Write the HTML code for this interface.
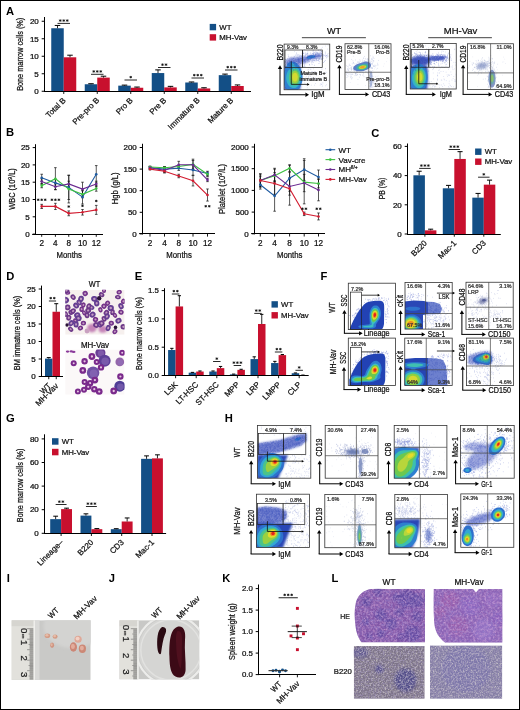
<!DOCTYPE html>
<html><head><meta charset="utf-8"><style>
html,body{margin:0;padding:0;background:#fff;}
svg{display:block;will-change:transform;}
text{font-family:"Liberation Sans", sans-serif;}
</style></head><body>
<svg width="520" height="710" viewBox="0 0 520 710" font-family='"Liberation Sans", sans-serif'>
<defs>
<filter id="bl45" x="-20%" y="-20%" width="140%" height="140%"><feGaussianBlur stdDeviation="0.45"/></filter>
<filter id="bl30" x="-20%" y="-20%" width="140%" height="140%"><feGaussianBlur stdDeviation="0.3"/></filter>
<filter id="bl60" x="-30%" y="-30%" width="160%" height="160%"><feGaussianBlur stdDeviation="0.6"/></filter>
<filter id="bl100" x="-50%" y="-50%" width="200%" height="200%"><feGaussianBlur stdDeviation="1.0"/></filter>
<filter id="bl80" x="-50%" y="-50%" width="200%" height="200%"><feGaussianBlur stdDeviation="0.8"/></filter>
<filter id="bl150" x="-50%" y="-50%" width="200%" height="200%"><feGaussianBlur stdDeviation="1.5"/></filter>
<filter id="grainHE" x="0" y="0" width="100%" height="100%"><feTurbulence type="fractalNoise" baseFrequency="0.45" numOctaves="3" seed="4" result="n"/>
<feColorMatrix in="n" type="matrix" values="0 0 0 0 0.72  0 0 0 0 0.45  0 0 0 0 0.74  1.5 0 0 0 -0.62" result="a"/>
<feColorMatrix in="n" type="matrix" values="0 0 0 0 0.3  0 0 0 0 0.22  0 0 0 0 0.6  0 1.5 0 0 -0.62" result="b"/>
<feMerge result="m"><feMergeNode in="a"/><feMergeNode in="b"/></feMerge><feComposite in="m" in2="SourceAlpha" operator="in"/></filter>
<filter id="grainB" x="0" y="0" width="100%" height="100%"><feTurbulence type="fractalNoise" baseFrequency="0.6" numOctaves="3" seed="9" result="n"/>
<feColorMatrix in="n" type="matrix" values="0 0 0 0 0.74  0 0 0 0 0.7  0 0 0 0 0.68  1.8 0 0 0 -0.8" result="a"/>
<feColorMatrix in="n" type="matrix" values="0 0 0 0 0.36  0 0 0 0 0.3  0 0 0 0 0.52  0 1.8 0 0 -0.76" result="b"/>
<feMerge result="m"><feMergeNode in="a"/><feMergeNode in="b"/></feMerge><feComposite in="m" in2="SourceAlpha" operator="in"/></filter>
<clipPath id="fc1"><rect x="284.1" y="44.1" width="45.65" height="45.65"/></clipPath><clipPath id="fc2"><rect x="345" y="43.75" width="46" height="45.65"/></clipPath><clipPath id="fc3"><rect x="410.25" y="43.5" width="46" height="45.5"/></clipPath><clipPath id="fc4"><rect x="467.5" y="43.75" width="46" height="45.65"/></clipPath><clipPath id="dW"><rect x="65.2" y="289.8" width="59.4" height="44.9"/></clipPath><clipPath id="dM"><rect x="65.2" y="349.5" width="59.4" height="45.2"/></clipPath><clipPath id="fc5"><rect x="348.3" y="283.2" width="47.1" height="46.4"/></clipPath><clipPath id="fc6"><rect x="348.3" y="338.1" width="47.1" height="47.4"/></clipPath><clipPath id="fc7"><rect x="405" y="282.5" width="47.2" height="46.6"/></clipPath><clipPath id="fc8"><rect x="404.75" y="338.1" width="47.45" height="47.3"/></clipPath><clipPath id="fc9"><rect x="466" y="282.25" width="47.2" height="47.15"/></clipPath><clipPath id="fc10"><rect x="466.5" y="338.1" width="47" height="47.5"/></clipPath><clipPath id="fc11"><rect x="257.4" y="425.4" width="53.4" height="52.8"/></clipPath><clipPath id="fc12"><rect x="325.2" y="425.4" width="52.8" height="52.8"/></clipPath><clipPath id="fc13"><rect x="394.2" y="425.4" width="52.7" height="52.8"/></clipPath><clipPath id="fc14"><rect x="460.4" y="425.4" width="53.8" height="52.8"/></clipPath><clipPath id="fc15"><rect x="256.4" y="494.2" width="53" height="53.2"/></clipPath><clipPath id="fc16"><rect x="324.8" y="494.4" width="51.2" height="53.3"/></clipPath><clipPath id="fc17"><rect x="394.8" y="494.4" width="52.7" height="53.4"/></clipPath><clipPath id="fc18"><rect x="460.8" y="493.9" width="53" height="53.4"/></clipPath><clipPath id="pI"><rect x="11.5" y="620.2" width="79.2" height="59.7"/></clipPath><clipPath id="pJ"><rect x="119.3" y="620.2" width="80" height="59.2"/></clipPath><clipPath id="hW"><rect x="353.8" y="588.7" width="71.2" height="53.7"/></clipPath><clipPath id="hWs"><path d="M371,588.9 L425,588.9 L425,642.4 L361.5,642.4 C358,638 356,632 355.5,626 C354.5,618 354,610 356,602 C358.5,594 364,590 371,588.9 Z"/></clipPath><clipPath id="hMs"><path d="M433.8,588.9 L473,588.9 L476,592.5 L479,588.9 L502.3,588.9 L502.3,642.4 L445,642.4 C439,638 435.5,632 434.5,625 C433.6,615 433.6,600 433.8,588.9 Z"/></clipPath><clipPath id="bW"><rect x="353.8" y="646" width="70.9" height="52.8"/></clipPath><clipPath id="bM"><rect x="430" y="645.4" width="72.3" height="53.4"/></clipPath></defs>
<rect x="0" y="0" width="520" height="710" fill="#fff"/>
<text x="6" y="14.8" font-size="11.2" font-weight="bold" fill="#000">A</text>
<line x1="44.5" y1="17" x2="44.5" y2="91.75" stroke="#000" stroke-width="1"/>
<line x1="41.7" y1="91.25" x2="44.5" y2="91.25" stroke="#000" stroke-width="1"/>
<text x="38.8" y="94" font-size="7.2" text-anchor="end" fill="#111" stroke="#111" stroke-width="0.24" textLength="4.45" lengthAdjust="spacingAndGlyphs">0</text>
<line x1="41.7" y1="73.75" x2="44.5" y2="73.75" stroke="#000" stroke-width="1"/>
<text x="38.8" y="76.5" font-size="7.2" text-anchor="end" fill="#111" stroke="#111" stroke-width="0.24" textLength="4.45" lengthAdjust="spacingAndGlyphs">5</text>
<line x1="41.7" y1="56.25" x2="44.5" y2="56.25" stroke="#000" stroke-width="1"/>
<text x="38.8" y="59" font-size="7.2" text-anchor="end" fill="#111" stroke="#111" stroke-width="0.24" textLength="8.9" lengthAdjust="spacingAndGlyphs">10</text>
<line x1="41.7" y1="38.75" x2="44.5" y2="38.75" stroke="#000" stroke-width="1"/>
<text x="38.8" y="41.5" font-size="7.2" text-anchor="end" fill="#111" stroke="#111" stroke-width="0.24" textLength="8.9" lengthAdjust="spacingAndGlyphs">15</text>
<line x1="41.7" y1="21.25" x2="44.5" y2="21.25" stroke="#000" stroke-width="1"/>
<text x="38.8" y="24" font-size="7.2" text-anchor="end" fill="#111" stroke="#111" stroke-width="0.24" textLength="8.9" lengthAdjust="spacingAndGlyphs">20</text>
<rect x="51.25" y="28.25" width="12.5" height="63" fill="#134f86"/>
<line x1="57.5" y1="28.25" x2="57.5" y2="25.45" stroke="#000" stroke-width="0.85"/>
<line x1="54.75" y1="25.45" x2="60.25" y2="25.45" stroke="#000" stroke-width="1"/>
<rect x="63.75" y="57.3" width="12.5" height="33.95" fill="#c8102e"/>
<line x1="70" y1="57.3" x2="70" y2="55.2" stroke="#000" stroke-width="0.85"/>
<line x1="67.25" y1="55.2" x2="72.75" y2="55.2" stroke="#000" stroke-width="1"/>
<rect x="84.75" y="84.25" width="12.5" height="7" fill="#134f86"/>
<line x1="91" y1="84.25" x2="91" y2="83.72" stroke="#000" stroke-width="0.85"/>
<line x1="88.25" y1="83.72" x2="93.75" y2="83.72" stroke="#000" stroke-width="1"/>
<rect x="97.25" y="77.6" width="12.5" height="13.65" fill="#c8102e"/>
<line x1="103.5" y1="77.6" x2="103.5" y2="76.2" stroke="#000" stroke-width="0.85"/>
<line x1="100.75" y1="76.2" x2="106.25" y2="76.2" stroke="#000" stroke-width="1"/>
<rect x="118.25" y="85.65" width="12.5" height="5.6" fill="#134f86"/>
<line x1="124.5" y1="85.65" x2="124.5" y2="85.12" stroke="#000" stroke-width="0.85"/>
<line x1="121.75" y1="85.12" x2="127.25" y2="85.12" stroke="#000" stroke-width="1"/>
<rect x="130.75" y="87.75" width="12.5" height="3.5" fill="#c8102e"/>
<line x1="137" y1="87.75" x2="137" y2="87.05" stroke="#000" stroke-width="0.85"/>
<line x1="134.25" y1="87.05" x2="139.75" y2="87.05" stroke="#000" stroke-width="1"/>
<rect x="151.75" y="73.05" width="12.5" height="18.2" fill="#134f86"/>
<line x1="158" y1="73.05" x2="158" y2="69.9" stroke="#000" stroke-width="0.85"/>
<line x1="155.25" y1="69.9" x2="160.75" y2="69.9" stroke="#000" stroke-width="1"/>
<rect x="164.25" y="87.4" width="12.5" height="3.85" fill="#c8102e"/>
<line x1="170.5" y1="87.4" x2="170.5" y2="86.35" stroke="#000" stroke-width="0.85"/>
<line x1="167.75" y1="86.35" x2="173.25" y2="86.35" stroke="#000" stroke-width="1"/>
<rect x="185.25" y="82.5" width="12.5" height="8.75" fill="#134f86"/>
<line x1="191.5" y1="82.5" x2="191.5" y2="81.97" stroke="#000" stroke-width="0.85"/>
<line x1="188.75" y1="81.97" x2="194.25" y2="81.97" stroke="#000" stroke-width="1"/>
<rect x="197.75" y="88.45" width="12.5" height="2.8" fill="#c8102e"/>
<line x1="204" y1="88.45" x2="204" y2="87.75" stroke="#000" stroke-width="0.85"/>
<line x1="201.25" y1="87.75" x2="206.75" y2="87.75" stroke="#000" stroke-width="1"/>
<rect x="218.75" y="75.15" width="12.5" height="16.1" fill="#134f86"/>
<line x1="225" y1="75.15" x2="225" y2="74.1" stroke="#000" stroke-width="0.85"/>
<line x1="222.25" y1="74.1" x2="227.75" y2="74.1" stroke="#000" stroke-width="1"/>
<rect x="231.25" y="86" width="12.5" height="5.25" fill="#c8102e"/>
<line x1="237.5" y1="86" x2="237.5" y2="84.95" stroke="#000" stroke-width="0.85"/>
<line x1="234.75" y1="84.95" x2="240.25" y2="84.95" stroke="#000" stroke-width="1"/>
<line x1="44" y1="91.5" x2="251" y2="91.5" stroke="#000" stroke-width="1"/>
<line x1="63.75" y1="91.25" x2="63.75" y2="93.95" stroke="#000" stroke-width="0.9"/>
<text x="66.35" y="100.85" font-size="8" text-anchor="end" fill="#111" stroke="#111" stroke-width="0.24" transform="rotate(-45 66.35 100.85)">Total B</text>
<line x1="97.25" y1="91.25" x2="97.25" y2="93.95" stroke="#000" stroke-width="0.9"/>
<text x="99.85" y="100.85" font-size="8" text-anchor="end" fill="#111" stroke="#111" stroke-width="0.24" transform="rotate(-45 99.85 100.85)">Pre-pro B</text>
<line x1="130.75" y1="91.25" x2="130.75" y2="93.95" stroke="#000" stroke-width="0.9"/>
<text x="133.35" y="100.85" font-size="8" text-anchor="end" fill="#111" stroke="#111" stroke-width="0.24" transform="rotate(-45 133.35 100.85)">Pro B</text>
<line x1="164.25" y1="91.25" x2="164.25" y2="93.95" stroke="#000" stroke-width="0.9"/>
<text x="166.85" y="100.85" font-size="8" text-anchor="end" fill="#111" stroke="#111" stroke-width="0.24" transform="rotate(-45 166.85 100.85)">Pre B</text>
<line x1="197.75" y1="91.25" x2="197.75" y2="93.95" stroke="#000" stroke-width="0.9"/>
<text x="200.35" y="100.85" font-size="8" text-anchor="end" fill="#111" stroke="#111" stroke-width="0.24" transform="rotate(-45 200.35 100.85)">Immature B</text>
<line x1="231.25" y1="91.25" x2="231.25" y2="93.95" stroke="#000" stroke-width="0.9"/>
<text x="233.85" y="100.85" font-size="8" text-anchor="end" fill="#111" stroke="#111" stroke-width="0.24" transform="rotate(-45 233.85 100.85)">Mature B</text>
<line x1="57.5" y1="23.4" x2="70" y2="23.4" stroke="#111" stroke-width="0.9"/>
<path d="M59,20.55h2.5M60.25,19.3v2.5M59.38,19.67l1.75,1.75M61.12,19.67l-1.75,1.75" stroke="#111" stroke-width="0.75"/>
<path d="M62.5,20.55h2.5M63.75,19.3v2.5M62.88,19.67l1.75,1.75M64.62,19.67l-1.75,1.75" stroke="#111" stroke-width="0.75"/>
<path d="M66,20.55h2.5M67.25,19.3v2.5M66.38,19.67l1.75,1.75M68.12,19.67l-1.75,1.75" stroke="#111" stroke-width="0.75"/>
<line x1="91" y1="74.3" x2="103.5" y2="74.3" stroke="#111" stroke-width="0.9"/>
<path d="M92.5,71.45h2.5M93.75,70.2v2.5M92.88,70.58l1.75,1.75M94.62,70.58l-1.75,1.75" stroke="#111" stroke-width="0.75"/>
<path d="M96,71.45h2.5M97.25,70.2v2.5M96.38,70.58l1.75,1.75M98.12,70.58l-1.75,1.75" stroke="#111" stroke-width="0.75"/>
<path d="M99.5,71.45h2.5M100.75,70.2v2.5M99.88,70.58l1.75,1.75M101.62,70.58l-1.75,1.75" stroke="#111" stroke-width="0.75"/>
<line x1="124.5" y1="80" x2="137" y2="80" stroke="#111" stroke-width="0.9"/>
<path d="M129.5,77.15h2.5M130.75,75.9v2.5M129.88,76.28l1.75,1.75M131.62,76.28l-1.75,1.75" stroke="#111" stroke-width="0.75"/>
<line x1="158" y1="67.5" x2="170.5" y2="67.5" stroke="#111" stroke-width="0.9"/>
<path d="M161.25,64.65h2.5M162.5,63.4v2.5M161.62,63.78l1.75,1.75M163.38,63.78l-1.75,1.75" stroke="#111" stroke-width="0.75"/>
<path d="M164.75,64.65h2.5M166,63.4v2.5M165.12,63.78l1.75,1.75M166.88,63.78l-1.75,1.75" stroke="#111" stroke-width="0.75"/>
<line x1="191.5" y1="78" x2="204" y2="78" stroke="#111" stroke-width="0.9"/>
<path d="M193,75.15h2.5M194.25,73.9v2.5M193.38,74.28l1.75,1.75M195.12,74.28l-1.75,1.75" stroke="#111" stroke-width="0.75"/>
<path d="M196.5,75.15h2.5M197.75,73.9v2.5M196.88,74.28l1.75,1.75M198.62,74.28l-1.75,1.75" stroke="#111" stroke-width="0.75"/>
<path d="M200,75.15h2.5M201.25,73.9v2.5M200.38,74.28l1.75,1.75M202.12,74.28l-1.75,1.75" stroke="#111" stroke-width="0.75"/>
<line x1="225" y1="70" x2="237.5" y2="70" stroke="#111" stroke-width="0.9"/>
<path d="M226.5,67.15h2.5M227.75,65.9v2.5M226.88,66.28l1.75,1.75M228.62,66.28l-1.75,1.75" stroke="#111" stroke-width="0.75"/>
<path d="M230,67.15h2.5M231.25,65.9v2.5M230.38,66.28l1.75,1.75M232.12,66.28l-1.75,1.75" stroke="#111" stroke-width="0.75"/>
<path d="M233.5,67.15h2.5M234.75,65.9v2.5M233.88,66.28l1.75,1.75M235.62,66.28l-1.75,1.75" stroke="#111" stroke-width="0.75"/>
<text x="23.3" y="54.3" font-size="8.2" text-anchor="middle" fill="#111" stroke="#111" stroke-width="0.24" textLength="73" lengthAdjust="spacingAndGlyphs" transform="rotate(-90 23.3 54.3)">Bone marrow cells (%)</text>
<rect x="209.7" y="23.9" width="6.4" height="6.4" fill="#134f86"/>
<rect x="209.7" y="34.2" width="6.4" height="6.4" fill="#c8102e"/>
<text x="219.3" y="29.7" font-size="7.8" fill="#111" stroke="#111" stroke-width="0.24">WT</text>
<text x="219.3" y="40" font-size="7.8" fill="#111" stroke="#111" stroke-width="0.24">MH-Vav</text>
<text x="334" y="34.2" font-size="9.6" text-anchor="middle" fill="#111" stroke="#111" stroke-width="0.24" textLength="14.2" lengthAdjust="spacingAndGlyphs">WT</text>
<line x1="301.9" y1="37.7" x2="365.9" y2="37.7" stroke="#111" stroke-width="0.8"/>
<text x="460.6" y="34.2" font-size="9.6" text-anchor="middle" fill="#111" stroke="#111" stroke-width="0.24" textLength="33.5" lengthAdjust="spacingAndGlyphs">MH-Vav</text>
<line x1="428.2" y1="37.7" x2="491.9" y2="37.7" stroke="#111" stroke-width="0.8"/>
<g clip-path="url(#fc1)">
<rect x="284.1" y="44.1" width="45.65" height="45.65" fill="#fff"/>
<path d="M321.9 82.9h0.55M308.1 76.2h0.55M300.1 86.3h0.55M308.3 69.7h0.55M309.5 75.1h0.55M321.7 68.1h0.55M306.9 87.7h0.55M325.6 81.8h0.55M316.8 72.9h0.55M326.3 84.7h0.55M315.4 71.5h0.55M306.5 76.3h0.55M309.9 69.3h0.55M312.2 77.9h0.55M308.6 76.5h0.55M310.0 76.3h0.55M318.6 78.9h0.55M305.9 85.5h0.55M315.4 78.1h0.55M321.4 84.5h0.55M325.5 85.8h0.55M320.1 83.9h0.55M304.7 83.4h0.55M307.6 73.7h0.55M303.6 76.7h0.55M300.6 82.5h0.55M322.4 85.1h0.55M303.9 82.1h0.55M325.1 68.8h0.55M305.8 73.9h0.55M313.9 71.8h0.55M316.2 75.6h0.55M319.7 79.7h0.55M320.6 73.4h0.55M321.2 84.2h0.55M321.7 69.5h0.55M328.4 80.7h0.55M308.2 77.6h0.55M315.5 79.4h0.55M307.4 73.8h0.55M310.9 85.2h0.55M313.1 68.8h0.55M313.6 72.4h0.55M300.4 89.5h0.55M308.8 79.8h0.55M310.7 69.2h0.55M327.0 88.6h0.55M305.6 77.2h0.55M311.2 71.7h0.55M319.8 85.2h0.55M322.8 82.9h0.55M300.5 73.1h0.55M315.4 83.5h0.55M311.6 77.9h0.55M325.2 68.5h0.55M308.1 74.4h0.55M329.8 73.0h0.55M301.4 77.2h0.55M319.5 71.4h0.55M325.2 72.3h0.55M321.1 71.6h0.55M326.5 72.4h0.55M321.9 86.5h0.55M307.6 70.0h0.55M317.6 79.0h0.55M314.4 85.2h0.55M313.9 78.9h0.55M314.6 78.0h0.55M312.2 71.5h0.55M308.9 73.8h0.55M296.2 52.8h0.55M290.1 47.1h0.55M308.7 48.1h0.55M295.8 48.7h0.55M307.6 51.7h0.55M328.7 53.5h0.55M304.3 49.5h0.55M303.7 47.4h0.55M327.8 45.7h0.55M294.2 51.6h0.55M311.5 47.8h0.55M327.2 49.1h0.55M311.8 45.9h0.55M325.1 46.0h0.55M302.7 53.9h0.55M327.5 54.0h0.55M322.2 47.3h0.55M286.4 49.5h0.55M287.8 54.6h0.55M285.4 48.3h0.55M294.1 45.1h0.55M307.5 45.8h0.55M325.5 51.9h0.55M301.7 53.4h0.55M320.9 48.3h0.55" stroke="#7080c8" stroke-width="0.65" opacity="0.55"/>
<path d="M284,66 L300,65 C301,72 301,82 300,90 L284,90 Z" fill="#2a47b6" filter="url(#bl100)"/>
<ellipse cx="298" cy="60.5" rx="13" ry="3.8" fill="#3a50bc" opacity="0.6" filter="url(#bl100)" transform="rotate(-8 298 60.5)"/>
<ellipse cx="315" cy="56.5" rx="7" ry="2.5" fill="#3a50bc" opacity="0.5" filter="url(#bl100)" transform="rotate(-10 315 56.5)"/>
<g filter="url(#bl45)">
<path d="M311.4,58.6 309.4,58.8 307.9,58.7 306.8,58.4 306.5,58.1 306.4,57.6 306.9,56.9 307.7,56.4 308.9,55.8 310.4,55.4 311.9,55.2 313.4,55.2 314.6,55.4 315.4,55.9 315.5,56.1 315.5,56.6 314.8,57.4 313.3,58.1 311.4,58.6ZM294.1,91.6 290.8,91.6 290.4,91.5 288.6,90.6 286.9,89.2 285.4,87.3 284.3,85.1 283.5,82.6 283.0,79.8 283.0,76.3 283.6,73.1 284.6,70.1 286.6,66.6 286.9,64.6 287.2,63.9 287.7,63.1 288.6,62.5 289.9,62.0 291.4,61.7 293.1,61.7 294.9,62.1 296.1,62.7 297.2,63.6 300.1,67.8 301.0,69.6 302.0,72.3 302.5,75.3 302.6,78.3 302.3,81.1 301.6,83.8 300.6,86.1 299.4,88.1 297.9,89.7 296.1,90.9 294.9,91.4 294.1,91.6Z" fill="#2f7fd0"/>
<path d="M295.4,87.9 293.9,88.1 292.4,87.9 290.9,87.3 289.6,86.4 288.4,85.1 287.5,83.6 286.8,81.8 286.4,80.1 286.2,78.6 286.2,76.8 286.8,73.8 287.5,72.1 288.5,70.3 289.6,69.1 291.9,66.8 291.9,66.3 290.5,65.1 290.2,64.3 290.6,63.7 291.6,63.3 292.9,63.4 294.0,63.9 294.5,64.6 294.5,65.6 294.7,66.1 297.1,67.7 298.6,69.1 299.4,70.3 300.0,71.6 300.5,73.1 300.9,74.8 301.1,76.8 301.0,79.1 300.5,81.3 300.0,83.1 299.1,84.7 298.1,86.1 296.9,87.1 295.4,87.9Z" fill="#36b4c4"/>
<path d="M295.1,85.6 294.1,85.7 292.9,85.3 291.7,84.6 290.7,83.6 289.9,82.3 289.3,80.8 288.9,79.3 288.8,77.8 288.9,76.1 289.2,74.6 289.7,73.1 290.6,71.6 291.4,70.6 292.4,69.7 293.4,69.2 294.6,68.9 295.6,69.0 296.6,69.4 297.6,70.2 298.4,71.2 299.0,72.3 299.5,73.8 299.8,75.3 300.0,76.8 299.9,78.6 299.6,80.1 299.2,81.6 298.6,82.8 297.9,83.9 297.1,84.7 296.1,85.3 295.1,85.6Z" fill="#56c47c"/>
<path d="M295.1,83.6 294.4,83.6 293.6,83.4 292.9,82.9 292.1,82.1 291.5,81.1 291.1,80.1 290.8,78.8 290.7,77.6 290.9,75.1 291.4,73.8 291.9,72.8 292.6,71.9 293.3,71.3 294.1,70.9 294.9,70.8 295.6,70.9 296.4,71.2 297.1,71.8 297.6,72.4 298.5,74.3 298.9,76.8 298.7,79.3 297.9,81.5 297.3,82.3 296.6,83.0 295.9,83.4 295.1,83.6Z" fill="#9ccf40"/>
<path d="M295.6,81.4 295.1,81.5 294.4,81.4 293.4,80.7 292.6,79.3 292.3,77.8 292.3,76.1 292.9,74.5 293.7,73.3 294.4,72.9 294.9,72.8 295.9,73.0 296.8,73.8 297.4,75.1 297.7,76.6 297.7,78.1 297.3,79.6 296.6,80.7 295.6,81.4Z" fill="#d4da30"/>
</g>
<path d="M305.7 58.3h0.55M317.1 53.3h0.55M317.7 56.0h0.55M301.6 67.7h0.55M290.8 59.4h0.55M317.4 54.6h0.55M286.8 62.2h0.55M313.1 58.4h0.55M317.6 56.7h0.55M304.2 56.6h0.55M285.3 61.8h0.55M288.2 63.2h0.55M291.6 57.3h0.55M305.8 54.4h0.55M301.0 58.5h0.55M289.7 61.7h0.55M318.7 55.5h0.55M315.7 55.4h0.55M298.2 59.1h0.55M315.3 56.7h0.55M283.7 63.6h0.55M293.0 61.4h0.55M302.8 60.7h0.55M280.5 64.6h0.55M293.8 62.8h0.55M308.7 56.0h0.55M304.3 60.7h0.55M320.2 56.1h0.55M294.3 62.2h0.55M315.7 59.9h0.55M307.0 53.6h0.55M298.5 60.9h0.55M274.5 64.9h0.55M281.2 58.4h0.55M301.7 63.1h0.55M289.5 63.2h0.55M304.7 66.5h0.55M291.2 61.2h0.55M311.5 55.4h0.55M295.1 63.1h0.55M293.1 65.4h0.55M314.2 56.5h0.55M312.1 59.2h0.55M323.4 56.0h0.55M303.8 60.0h0.55M297.2 55.0h0.55M296.0 61.5h0.55M307.5 53.1h0.55M302.8 57.2h0.55M312.8 51.2h0.55M289.9 65.3h0.55M308.7 56.2h0.55M292.1 64.6h0.55M272.7 63.2h0.55M296.0 64.0h0.55M304.2 64.9h0.55M319.7 56.5h0.55M297.3 59.6h0.55M318.2 58.3h0.55M321.3 55.3h0.55M305.7 59.2h0.55M316.6 56.5h0.55M317.1 53.6h0.55M290.6 61.4h0.55M312.7 60.5h0.55M281.2 59.7h0.55M308.3 56.1h0.55M281.7 66.5h0.55M320.6 56.8h0.55M289.0 65.9h0.55M304.7 62.1h0.55M285.4 59.6h0.55M318.7 54.1h0.55M311.5 58.3h0.55M285.6 62.8h0.55M316.7 58.6h0.55M314.7 55.5h0.55M324.9 60.5h0.55M321.8 55.9h0.55M294.0 67.2h0.55M290.8 58.7h0.55M318.8 57.0h0.55M298.6 54.8h0.55M282.2 65.2h0.55M314.2 56.3h0.55M308.0 60.0h0.55M303.6 60.4h0.55M285.7 61.3h0.55M298.5 63.3h0.55M291.6 59.4h0.55M289.5 61.4h0.55M320.8 51.5h0.55M297.6 58.8h0.55M326.4 57.8h0.55M291.4 64.6h0.55M322.1 55.0h0.55M289.8 66.4h0.55M295.7 64.0h0.55M289.0 69.0h0.55M304.1 62.9h0.55M320.5 50.4h0.55M310.9 57.0h0.55M309.8 59.9h0.55M302.4 54.0h0.55M319.5 53.9h0.55M289.5 60.1h0.55M302.1 52.2h0.55M315.7 57.6h0.55M300.4 68.2h0.55M305.2 53.1h0.55M313.1 53.8h0.55M315.6 56.6h0.55M278.1 64.4h0.55M310.7 58.0h0.55M291.1 61.0h0.55M305.1 57.0h0.55M314.3 52.4h0.55M292.4 68.5h0.55M322.3 59.7h0.55M321.2 53.7h0.55M302.0 60.9h0.55M305.3 57.7h0.55M318.3 54.8h0.55M304.8 55.4h0.55M304.2 65.8h0.55M291.4 61.2h0.55M295.9 64.1h0.55M284.2 62.0h0.55M298.5 62.4h0.55M293.3 67.3h0.55M314.7 56.8h0.55M302.7 63.6h0.55M278.2 60.9h0.55M288.5 64.6h0.55M321.6 58.9h0.55M294.0 62.9h0.55M316.3 54.6h0.55M309.8 55.0h0.55M289.4 60.3h0.55M310.3 55.7h0.55M309.1 58.9h0.55M318.4 55.7h0.55M293.5 58.4h0.55M312.9 53.8h0.55M309.1 56.0h0.55M308.6 59.4h0.55M291.3 63.3h0.55M307.2 60.2h0.55M306.9 62.1h0.55M320.3 56.6h0.55M294.4 56.7h0.55M317.1 55.5h0.55M306.9 54.2h0.55M318.9 56.5h0.55M295.6 55.1h0.55M316.6 56.0h0.55M287.0 62.8h0.55M287.7 64.3h0.55M286.9 62.3h0.55M299.6 70.4h0.55M284.8 61.0h0.55M314.2 58.7h0.55M312.1 55.8h0.55M291.5 58.6h0.55M298.2 58.4h0.55M288.7 57.1h0.55M302.8 59.5h0.55M303.6 53.5h0.55M289.0 65.1h0.55M320.7 55.3h0.55M299.3 61.6h0.55M300.8 55.8h0.55M300.4 63.9h0.55M293.9 65.9h0.55M288.9 65.6h0.55M301.2 58.9h0.55M330.6 55.7h0.55M315.5 56.2h0.55M309.2 61.6h0.55M288.1 56.2h0.55M316.6 56.3h0.55M319.1 59.1h0.55M319.9 57.7h0.55M297.8 62.6h0.55M328.7 56.1h0.55M293.8 62.4h0.55M304.2 57.7h0.55M291.4 63.7h0.55M297.1 60.0h0.55M294.1 60.8h0.55M292.8 61.5h0.55M297.0 60.0h0.55M297.8 58.1h0.55M304.4 60.8h0.55M284.6 63.3h0.55M298.2 63.3h0.55M308.7 67.6h0.55M290.7 64.7h0.55M318.6 56.1h0.55M317.5 52.5h0.55M323.2 55.0h0.55M317.2 57.1h0.55M300.8 60.3h0.55M297.1 61.7h0.55M309.6 56.3h0.55M277.4 66.4h0.55M321.5 55.8h0.55M318.8 58.5h0.55M315.4 54.7h0.55M291.0 66.3h0.55M282.7 67.0h0.55M287.2 58.6h0.55M300.8 60.9h0.55M295.6 59.2h0.55M323.1 58.1h0.55M289.1 63.7h0.55M321.2 53.8h0.55M319.7 55.6h0.55M288.1 60.6h0.55M318.3 56.0h0.55M315.0 55.4h0.55M299.8 62.1h0.55M313.6 60.8h0.55M311.8 64.4h0.55M299.9 62.0h0.55M290.3 68.7h0.55M318.4 50.4h0.55M298.7 61.8h0.55M322.2 57.1h0.55M317.8 57.2h0.55M296.5 61.3h0.55M312.9 50.4h0.55M320.7 52.9h0.55M322.6 54.6h0.55M285.9 63.8h0.55M285.4 59.4h0.55M293.6 60.6h0.55M295.8 65.3h0.55M305.4 61.8h0.55M318.0 55.8h0.55M296.3 65.3h0.55M289.5 61.4h0.55M304.8 59.0h0.55M299.4 62.8h0.55M289.3 63.9h0.55M286.4 63.8h0.55M294.6 60.3h0.55M322.1 56.8h0.55M327.2 56.8h0.55M287.3 61.1h0.55M295.1 61.9h0.55M306.2 57.6h0.55M279.3 62.3h0.55M276.6 64.6h0.55M286.7 59.9h0.55M304.4 59.6h0.55M281.5 56.8h0.55M296.5 53.9h0.55M299.2 64.5h0.55M284.8 64.9h0.55M282.5 63.9h0.55M316.4 56.1h0.55M296.5 67.8h0.55M293.4 62.3h0.55M285.4 64.6h0.55M290.5 65.1h0.55M318.5 60.3h0.55M278.1 62.2h0.55M298.0 60.2h0.55M314.0 56.0h0.55M295.2 60.8h0.55M309.4 64.5h0.55M296.8 57.5h0.55M316.4 58.8h0.55M286.1 60.1h0.55M313.4 59.8h0.55M289.1 58.3h0.55M293.4 58.6h0.55M307.3 59.8h0.55M315.1 57.7h0.55M321.3 59.4h0.55M284.2 65.7h0.55M299.8 58.7h0.55M298.4 59.5h0.55M294.1 65.1h0.55M274.9 59.6h0.55M290.1 61.4h0.55M307.5 59.1h0.55M304.9 62.2h0.55M307.5 57.9h0.55M287.1 62.9h0.55M293.3 58.7h0.55M315.2 58.5h0.55M308.4 56.0h0.55M323.3 62.5h0.55M310.9 58.0h0.55M330.7 55.8h0.55M319.0 55.3h0.55M315.2 55.9h0.55M288.4 64.9h0.55M302.6 57.7h0.55M283.6 62.6h0.55M298.9 59.2h0.55M314.4 58.1h0.55M310.2 58.9h0.55M306.4 58.0h0.55M290.1 64.8h0.55M298.2 64.0h0.55M292.0 59.4h0.55M315.3 54.8h0.55M306.9 56.2h0.55M299.7 58.6h0.55M287.7 59.5h0.55M290.2 61.2h0.55M299.6 63.6h0.55M311.1 55.3h0.55M326.9 55.2h0.55M292.4 65.7h0.55M309.5 65.0h0.55M318.8 56.8h0.55M320.8 54.0h0.55M284.6 62.8h0.55M298.5 59.6h0.55M319.5 61.7h0.55M313.8 56.4h0.55M291.0 63.6h0.55M299.1 59.7h0.55M313.2 52.7h0.55M285.7 64.4h0.55M292.0 58.4h0.55M303.1 59.1h0.55M309.7 56.0h0.55M303.1 53.5h0.55M284.5 68.3h0.55M307.1 57.1h0.55M293.4 60.6h0.55M314.0 56.6h0.55M291.9 61.7h0.55M291.1 60.7h0.55M285.9 60.6h0.55M293.8 64.1h0.55M298.1 59.7h0.55M313.9 60.7h0.55M315.7 61.0h0.55M290.9 61.5h0.55M321.5 51.9h0.55M318.8 54.5h0.55M315.4 52.0h0.55M285.8 62.5h0.55M298.5 64.9h0.55M291.4 61.4h0.55M286.3 63.9h0.55M290.5 64.3h0.55M319.8 56.0h0.55M281.3 59.9h0.55M281.5 58.7h0.55M324.5 55.4h0.55M294.4 62.5h0.55M300.7 60.0h0.55M300.5 58.4h0.55M294.2 64.1h0.55M315.9 60.4h0.55M300.7 66.0h0.55M310.4 53.1h0.55M305.1 59.6h0.55M303.5 61.7h0.55M289.2 59.0h0.55M325.4 56.4h0.55M319.5 58.1h0.55M299.5 62.5h0.55M274.7 61.1h0.55M288.5 58.8h0.55M319.5 58.8h0.55M315.1 53.6h0.55M306.0 59.2h0.55M312.0 57.7h0.55M294.8 59.3h0.55M312.0 56.0h0.55M298.8 60.3h0.55M321.5 53.8h0.55M294.3 61.5h0.55M311.5 57.8h0.55M316.9 56.4h0.55M291.3 64.6h0.55M298.6 65.9h0.55M308.3 56.3h0.55M315.6 57.7h0.55M321.5 58.9h0.55M320.5 58.2h0.55M325.5 55.1h0.55M293.7 57.1h0.55M311.6 61.2h0.55M300.0 63.3h0.55M311.5 62.8h0.55M299.0 61.0h0.55M290.6 62.4h0.55M307.1 56.7h0.55M292.3 67.6h0.55M309.7 58.1h0.55M299.0 60.3h0.55M297.8 61.3h0.55M321.1 51.4h0.55M299.5 59.2h0.55M311.0 58.2h0.55M273.7 60.9h0.55M319.8 59.6h0.55M308.4 58.9h0.55M311.7 60.8h0.55M304.6 61.0h0.55M316.2 52.2h0.55M314.4 65.3h0.55M312.3 61.2h0.55M320.2 53.1h0.55M315.9 53.0h0.55M304.5 59.6h0.55M313.2 58.5h0.55M319.6 53.8h0.55M283.0 63.0h0.55M299.7 55.6h0.55M283.0 61.1h0.55M290.7 57.1h0.55M310.0 57.9h0.55M295.5 68.7h0.55M293.8 58.6h0.55M298.3 60.7h0.55M317.1 60.5h0.55M302.7 55.6h0.55M295.8 61.3h0.55M307.7 54.0h0.55M298.5 61.4h0.55M310.2 55.8h0.55M296.5 63.6h0.55M291.8 60.1h0.55M309.0 56.2h0.55M307.3 57.2h0.55M297.7 67.1h0.55M290.1 69.3h0.55M297.6 62.9h0.55M316.2 59.7h0.55M292.7 57.9h0.55M310.6 55.5h0.55M275.3 73.4h0.55M297.5 67.9h0.55M314.1 60.4h0.55M303.6 66.5h0.55M305.2 55.0h0.55M303.5 52.2h0.55M292.6 61.1h0.55M298.1 59.4h0.55M318.3 60.8h0.55M316.2 56.6h0.55M315.1 54.5h0.55M316.7 58.5h0.55M296.1 59.4h0.55M295.7 60.7h0.55M318.5 54.0h0.55M307.3 55.5h0.55M283.6 58.4h0.55M318.7 63.5h0.55M295.1 59.2h0.55M311.4 56.5h0.55M312.5 58.2h0.55M308.5 59.9h0.55M287.8 60.9h0.55M309.3 56.4h0.55M282.0 62.4h0.55M313.3 57.1h0.55M319.6 52.1h0.55M299.1 56.8h0.55M312.8 62.5h0.55M297.8 60.3h0.55M301.8 55.8h0.55M325.1 53.1h0.55M285.5 70.2h0.55M317.9 53.3h0.55M307.2 57.6h0.55M306.0 54.0h0.55M300.9 60.8h0.55M308.4 61.7h0.55M293.3 70.1h0.55M287.1 63.3h0.55M278.3 58.8h0.55M316.0 53.9h0.55M320.6 55.4h0.55M284.6 61.4h0.55M301.7 57.8h0.55M297.5 63.8h0.55M301.0 56.6h0.55M319.3 55.5h0.55M324.2 61.6h0.55M297.9 61.4h0.55M290.5 59.1h0.55M313.1 54.3h0.55M302.7 57.8h0.55M311.7 56.3h0.55M290.3 57.9h0.55M326.3 55.8h0.55M304.7 63.7h0.55M317.6 55.7h0.55M297.8 71.0h0.55M297.0 63.7h0.55M326.5 55.6h0.55M322.3 58.5h0.55M300.9 60.7h0.55M313.3 55.1h0.55M300.9 58.9h0.55M293.2 63.5h0.55M295.6 66.5h0.55M300.5 63.9h0.55M289.4 61.9h0.55M310.6 59.0h0.55M309.9 59.4h0.55M312.3 53.6h0.55M314.2 58.2h0.55M318.0 59.6h0.55M296.5 60.7h0.55M302.4 60.4h0.55M302.7 59.4h0.55M289.3 67.8h0.55M299.1 62.4h0.55" stroke="#3347b8" stroke-width="0.65" opacity="0.65"/>
</g>
<rect x="284.1" y="44.1" width="45.65" height="45.65" fill="none" stroke="#333" stroke-width="0.8"/>
<rect x="285" y="50" width="37.25" height="17.5" fill="none" stroke="#222" stroke-width="0.7"/>
<line x1="302.5" y1="50" x2="302.5" y2="67.5" stroke="#111" stroke-width="0.9"/>
<text x="287" y="48.8" font-size="5" fill="#333" stroke="#333" stroke-width="0.24">9.3%</text>
<text x="306" y="48.8" font-size="5" fill="#333" stroke="#333" stroke-width="0.24">8.3%</text>
<polyline points="291.25,61.25 291.25,84.4 307.5,84.4" fill="none" stroke="#111" stroke-width="0.8"/>
<path d="M307.2,83.04 L309.5,84.4 L307.2,85.76 Z" fill="#000"/>
<text x="300.6" y="75.3" font-size="5.4" fill="#222" stroke="#222" stroke-width="0.24">Mature B+</text>
<text x="299.6" y="81.4" font-size="5.4" fill="#222" stroke="#222" stroke-width="0.24">immature B</text>
<line x1="280" y1="94.75" x2="280" y2="68.6" stroke="#000" stroke-width="1"/>
<line x1="279.5" y1="94.75" x2="305.75" y2="94.75" stroke="#000" stroke-width="1"/>
<path d="M277.84,68.94 L280,65.3 L282.16,68.94 Z" fill="#000"/>
<path d="M305.41,92.59 L309.05,94.75 L305.41,96.91 Z" fill="#000"/>
<text x="282.8" y="52.5" font-size="8.42" text-anchor="middle" fill="#111" stroke="#111" stroke-width="0.24" textLength="16" lengthAdjust="spacingAndGlyphs" transform="rotate(-90 282.8 52.5)">B220</text>
<text x="311.3" y="97.45" font-size="8.42" fill="#111" stroke="#111" stroke-width="0.24" textLength="13.2" lengthAdjust="spacingAndGlyphs">IgM</text>
<g clip-path="url(#fc2)">
<rect x="345" y="43.75" width="46" height="45.65" fill="#fff"/>
<path d="M376.0 89.5h0.55M376.1 69.1h0.55M383.9 63.8h0.55M345.5 56.5h0.55M372.4 87.6h0.55M372.9 57.1h0.55M390.7 62.4h0.55M355.5 69.4h0.55M360.8 49.1h0.55M377.8 75.8h0.55M389.7 50.3h0.55M386.9 80.7h0.55M356.6 66.0h0.55M374.0 58.5h0.55M349.9 82.5h0.55M352.6 66.6h0.55M365.1 85.5h0.55M370.7 63.5h0.55M389.9 60.2h0.55M378.4 54.8h0.55M379.8 78.6h0.55M383.1 66.3h0.55M355.2 73.1h0.55M386.9 58.3h0.55M345.9 52.5h0.55M387.9 44.3h0.55M347.5 48.5h0.55M386.0 61.6h0.55M376.8 76.5h0.55M365.0 77.7h0.55M366.2 68.9h0.55M359.1 44.1h0.55M372.3 56.2h0.55M357.7 84.4h0.55M361.6 48.7h0.55M374.0 68.8h0.55M347.6 60.0h0.55M373.1 56.9h0.55M390.4 80.8h0.55M368.2 86.1h0.55" stroke="#9aa4d0" stroke-width="0.65" opacity="0.4"/>
<path d="M354.7 75.6h0.55M362.8 63.4h0.55M372.0 82.9h0.55M365.1 71.7h0.55M370.0 64.6h0.55M370.3 67.4h0.55M348.7 73.7h0.55M359.0 66.3h0.55M364.1 56.4h0.55M370.4 74.2h0.55M363.5 61.3h0.55M373.3 80.9h0.55M358.9 64.9h0.55M364.9 58.6h0.55M357.3 67.7h0.55M358.9 62.3h0.55M358.6 64.2h0.55M363.2 73.2h0.55M370.5 61.1h0.55M348.9 64.1h0.55M349.8 71.6h0.55M364.9 62.2h0.55M356.8 68.1h0.55M370.2 62.9h0.55M353.0 67.8h0.55M366.4 62.4h0.55M363.5 57.8h0.55M346.5 72.9h0.55M378.1 60.4h0.55M372.5 80.8h0.55M369.2 77.1h0.55M370.6 74.2h0.55M373.2 58.1h0.55M363.8 67.7h0.55M357.1 68.2h0.55M367.1 66.5h0.55M364.3 68.9h0.55M359.9 66.4h0.55M377.1 64.9h0.55M367.1 60.9h0.55M370.8 73.3h0.55M370.1 85.8h0.55M355.4 67.5h0.55M347.7 68.8h0.55M368.4 59.9h0.55M357.2 74.4h0.55M369.1 71.6h0.55M364.8 65.6h0.55M375.7 65.6h0.55M350.7 69.3h0.55M367.8 62.6h0.55M363.7 76.7h0.55M355.4 73.6h0.55M359.5 77.2h0.55M363.8 65.5h0.55M370.4 73.6h0.55M368.4 61.4h0.55M353.2 62.7h0.55M369.5 89.2h0.55M374.9 66.9h0.55M368.9 63.8h0.55M360.6 68.1h0.55M348.5 67.0h0.55M355.6 69.7h0.55M353.9 69.6h0.55M366.9 65.1h0.55M360.8 66.0h0.55M361.8 66.3h0.55M351.0 69.4h0.55M371.0 63.9h0.55M362.7 64.2h0.55M358.0 66.0h0.55M361.9 65.2h0.55M351.9 74.1h0.55M361.5 62.8h0.55M363.0 75.0h0.55M351.6 74.3h0.55M356.6 71.8h0.55M367.1 59.6h0.55M358.0 64.8h0.55M356.2 71.7h0.55M371.1 75.1h0.55M335.8 71.8h0.55M368.0 80.7h0.55M372.8 80.9h0.55M370.4 77.7h0.55M359.7 65.3h0.55M365.7 59.2h0.55M372.8 62.0h0.55M367.4 65.0h0.55M368.3 61.5h0.55M371.7 84.8h0.55M362.2 64.4h0.55M350.3 77.6h0.55M358.9 66.3h0.55M373.3 86.6h0.55M358.2 69.4h0.55M374.8 81.8h0.55M364.7 65.7h0.55M346.5 65.7h0.55M371.7 81.7h0.55M367.0 58.5h0.55M350.9 67.6h0.55M346.3 74.6h0.55M372.6 70.5h0.55M366.7 63.9h0.55M352.9 56.2h0.55M356.8 67.1h0.55M368.0 67.9h0.55M365.2 67.0h0.55M366.4 71.2h0.55M353.4 66.7h0.55M346.7 77.5h0.55M370.4 68.0h0.55M369.1 80.2h0.55M359.4 67.6h0.55M360.0 69.0h0.55M352.6 74.4h0.55M362.5 65.7h0.55M370.8 75.9h0.55M366.4 65.1h0.55M371.5 76.3h0.55M362.1 64.7h0.55M354.1 70.6h0.55M371.7 67.4h0.55M369.5 75.4h0.55M354.6 63.9h0.55M371.0 61.3h0.55M371.6 76.0h0.55M362.6 64.0h0.55M354.8 73.3h0.55M355.3 69.2h0.55M369.3 80.2h0.55M369.4 61.2h0.55M356.0 69.8h0.55M375.0 76.9h0.55M357.0 72.5h0.55M357.7 62.4h0.55M369.9 88.7h0.55M370.6 73.6h0.55M359.6 67.8h0.55M370.1 78.6h0.55M368.8 77.4h0.55M371.1 67.9h0.55M359.2 72.1h0.55M362.1 75.1h0.55M374.7 65.2h0.55M360.3 68.0h0.55M356.1 72.2h0.55M361.9 64.1h0.55M342.4 68.3h0.55M347.1 69.7h0.55M360.0 61.2h0.55M359.1 74.5h0.55M362.7 72.6h0.55M373.2 60.6h0.55M372.7 82.1h0.55M357.5 74.7h0.55M355.7 65.8h0.55M350.0 68.0h0.55M359.4 62.1h0.55M354.1 70.3h0.55M370.9 81.7h0.55M368.0 73.5h0.55M365.8 62.1h0.55M365.7 64.8h0.55M360.6 67.1h0.55M355.1 73.8h0.55M370.2 86.9h0.55M364.3 67.0h0.55M355.3 73.1h0.55M372.1 64.8h0.55M371.6 85.1h0.55M368.5 65.8h0.55M359.6 59.9h0.55M370.3 65.7h0.55M348.0 70.2h0.55M356.2 75.3h0.55M371.8 68.0h0.55M371.9 76.2h0.55M373.6 61.0h0.55M341.5 71.3h0.55M352.9 69.3h0.55M346.5 71.1h0.55M371.4 58.4h0.55M362.0 68.7h0.55M377.4 63.3h0.55M367.2 65.3h0.55M371.8 74.9h0.55M365.6 64.4h0.55M349.9 76.2h0.55M358.2 65.3h0.55M371.5 68.1h0.55M351.4 66.9h0.55M357.5 67.9h0.55M368.5 64.0h0.55M364.8 68.5h0.55M353.7 69.1h0.55M369.5 86.4h0.55M371.7 79.1h0.55M362.6 62.3h0.55M364.9 64.1h0.55M370.8 73.3h0.55M371.7 64.2h0.55M357.6 71.7h0.55M353.2 69.8h0.55M361.4 64.3h0.55M370.3 77.9h0.55M374.1 66.5h0.55M370.6 90.3h0.55M370.9 81.7h0.55M360.3 72.2h0.55M377.8 64.9h0.55M347.8 76.2h0.55M358.0 66.5h0.55M341.0 74.1h0.55M367.1 68.8h0.55M368.8 71.6h0.55M367.8 64.8h0.55M355.7 66.7h0.55M368.5 67.1h0.55M368.9 81.5h0.55M370.7 73.3h0.55M357.6 69.4h0.55M349.5 65.1h0.55M372.3 59.6h0.55M356.3 73.4h0.55M364.7 62.0h0.55M358.9 67.9h0.55M366.1 63.8h0.55M369.1 86.0h0.55M372.4 63.1h0.55M351.3 72.6h0.55M371.2 84.9h0.55M369.0 79.8h0.55M370.7 71.2h0.55M371.3 79.2h0.55M358.4 68.9h0.55M351.2 68.5h0.55M364.1 67.5h0.55M361.5 66.2h0.55M368.6 80.7h0.55M357.7 79.5h0.55M364.7 63.2h0.55M371.2 59.5h0.55M352.3 77.8h0.55M369.3 64.1h0.55M371.9 91.7h0.55M371.5 87.5h0.55M348.8 65.4h0.55M373.3 89.3h0.55M371.8 80.6h0.55M361.7 64.4h0.55M373.5 83.6h0.55M364.7 67.7h0.55M368.5 67.5h0.55M365.4 62.1h0.55M371.8 94.3h0.55M357.3 67.2h0.55M360.4 74.8h0.55M364.3 60.7h0.55M363.7 62.3h0.55M364.7 63.6h0.55M359.5 70.2h0.55M376.0 84.4h0.55M365.4 63.0h0.55M355.9 64.1h0.55M356.7 63.9h0.55M351.0 70.2h0.55M353.2 63.3h0.55M346.8 72.8h0.55M368.2 65.1h0.55M372.7 76.6h0.55M364.7 61.2h0.55M377.5 68.3h0.55M358.8 63.3h0.55M362.5 60.1h0.55M350.3 74.0h0.55M361.2 65.2h0.55M360.7 66.8h0.55M371.5 75.5h0.55M355.4 69.6h0.55M355.3 74.8h0.55M351.5 79.0h0.55M369.2 83.2h0.55M351.9 63.8h0.55M368.6 64.0h0.55M352.9 72.6h0.55M355.6 68.4h0.55M364.0 68.6h0.55M368.1 90.3h0.55M364.6 64.9h0.55M352.9 62.4h0.55M346.8 73.2h0.55M370.5 71.1h0.55M370.2 89.9h0.55M353.0 68.7h0.55M373.2 82.2h0.55M360.9 64.9h0.55M368.5 70.8h0.55M357.6 66.8h0.55M363.8 68.5h0.55M362.7 67.5h0.55M352.7 60.8h0.55M356.8 64.3h0.55M370.0 77.1h0.55M347.5 66.6h0.55M360.4 67.5h0.55M356.8 69.5h0.55M358.9 63.8h0.55M371.1 92.2h0.55M369.9 87.2h0.55M373.5 66.5h0.55M356.6 74.9h0.55M368.5 61.2h0.55M367.1 63.8h0.55M361.2 66.3h0.55M362.7 68.1h0.55M348.7 74.2h0.55M372.1 86.7h0.55M354.3 72.0h0.55M371.8 91.3h0.55M363.0 62.7h0.55M358.1 61.9h0.55M369.9 86.9h0.55M357.3 65.1h0.55M360.2 75.0h0.55M360.9 67.8h0.55M361.2 70.6h0.55M351.1 68.0h0.55M372.3 89.9h0.55M351.5 59.4h0.55M368.7 71.9h0.55M370.8 83.3h0.55M359.6 64.8h0.55M371.2 72.3h0.55M367.8 60.1h0.55M375.3 84.7h0.55M369.7 72.0h0.55M357.0 61.9h0.55M355.5 65.3h0.55M360.3 69.3h0.55M350.3 65.6h0.55M347.9 70.7h0.55M370.7 86.9h0.55M370.0 86.4h0.55M371.4 79.0h0.55M343.0 65.8h0.55M367.0 70.9h0.55M371.3 84.3h0.55M358.0 66.2h0.55M369.9 85.8h0.55M363.2 65.8h0.55M359.1 69.3h0.55M362.7 63.7h0.55M373.0 65.8h0.55M368.0 66.4h0.55M361.1 70.6h0.55M358.2 66.7h0.55M355.2 60.0h0.55M368.3 59.0h0.55M365.2 63.3h0.55M364.1 61.4h0.55M371.4 83.3h0.55M373.8 81.5h0.55M366.7 63.9h0.55M366.0 66.7h0.55M370.3 78.3h0.55M370.9 80.3h0.55M363.5 64.8h0.55M356.3 70.5h0.55M368.3 74.7h0.55M370.1 55.8h0.55M369.9 83.8h0.55M351.2 78.0h0.55M339.5 76.7h0.55M372.3 68.3h0.55M370.6 81.5h0.55M364.4 64.4h0.55M348.3 69.9h0.55M361.0 66.5h0.55M358.6 68.0h0.55M346.9 75.7h0.55M362.4 61.4h0.55M367.8 59.7h0.55M365.4 62.2h0.55M369.9 85.8h0.55M350.8 74.9h0.55M370.9 85.0h0.55M351.8 69.0h0.55M353.4 70.4h0.55M371.8 68.4h0.55M362.7 72.0h0.55M359.8 68.6h0.55M361.7 72.1h0.55M372.5 73.1h0.55M350.9 76.5h0.55M363.0 65.8h0.55M372.7 60.8h0.55M358.8 65.8h0.55M360.2 64.6h0.55M347.7 68.7h0.55M369.8 84.1h0.55M360.5 67.1h0.55M349.4 68.7h0.55M351.0 69.9h0.55M371.6 78.9h0.55M367.3 73.1h0.55M370.4 62.4h0.55M360.3 70.6h0.55M372.4 58.1h0.55M368.6 67.5h0.55M371.8 63.4h0.55M363.0 58.5h0.55M373.7 65.7h0.55M362.3 63.0h0.55M370.4 66.1h0.55M367.3 67.8h0.55M356.6 70.8h0.55M370.6 81.0h0.55" stroke="#6a7cc0" stroke-width="0.65" opacity="0.55"/>
<ellipse cx="371" cy="79" rx="1.5" ry="8" fill="#8fa0cc" opacity="0.7" filter="url(#bl60)"/>
<g filter="url(#bl45)">
<path d="M361.0,71.3 359.2,71.3 357.5,71.2 356.0,70.8 354.7,70.2 353.8,69.5 353.3,68.8 353.2,68.0 353.6,67.0 354.1,66.2 355.0,65.5 357.0,64.3 359.0,63.6 364.8,61.8 366.2,61.6 367.8,61.7 369.0,62.2 370.1,63.0 370.8,64.2 371.0,65.5 370.6,66.8 369.5,68.1 368.0,69.2 366.0,70.1 363.5,70.9 361.0,71.3Z" fill="#5f7fc4"/>
<path d="M361.2,70.3 358.8,70.1 357.6,69.8 356.8,69.3 356.3,68.8 356.0,68.0 356.1,67.5 356.5,66.8 357.5,65.8 359.0,65.0 360.8,64.4 363.5,63.7 365.2,63.5 366.5,63.5 367.5,63.8 368.4,64.5 368.8,65.2 368.8,66.2 368.3,67.2 367.5,68.1 366.2,68.9 364.8,69.6 363.0,70.0 361.2,70.3Z" fill="#3fa0c0"/>
<path d="M362.5,69.5 360.5,69.6 358.8,69.2 358.0,68.8 357.6,68.2 357.5,67.8 357.7,67.2 358.2,66.5 359.2,65.8 360.5,65.2 362.0,64.8 363.8,64.5 365.2,64.5 366.2,64.8 367.0,65.2 367.3,65.8 367.4,66.5 367.0,67.2 366.6,67.8 365.8,68.4 364.8,68.9 362.5,69.5Z" fill="#52c07a"/>
<path d="M362.0,69.0 360.5,68.9 359.3,68.5 359.1,68.2 358.9,67.8 359.1,67.0 359.6,66.5 360.5,66.0 362.8,65.3 364.8,65.4 365.5,65.6 366.0,66.0 366.1,66.5 366.0,67.0 365.2,67.9 363.8,68.6 362.0,69.0Z" fill="#c8d63a"/>
<path d="M363.0,68.3 361.8,68.4 360.8,68.2 360.2,67.8 360.2,67.2 361.0,66.5 362.0,66.1 363.5,66.0 364.5,66.2 364.9,66.8 364.7,67.2 364.2,67.8 363.0,68.3Z" fill="#f0a026"/>
</g>
</g>
<rect x="345" y="43.75" width="46" height="45.65" fill="none" stroke="#333" stroke-width="0.8"/>
<line x1="368.75" y1="43.75" x2="368.75" y2="89.4" stroke="#444" stroke-width="0.7"/>
<line x1="345" y1="72.25" x2="391" y2="72.25" stroke="#444" stroke-width="0.7"/>
<text x="347" y="48.6" font-size="5.4" fill="#333" stroke="#333" stroke-width="0.24">62.8%</text>
<text x="347" y="54.4" font-size="5.4" fill="#333" stroke="#333" stroke-width="0.24">Pre-B</text>
<text x="389.5" y="48.6" font-size="5.4" text-anchor="end" fill="#333" stroke="#333" stroke-width="0.24">16.0%</text>
<text x="389.5" y="54.4" font-size="5.4" text-anchor="end" fill="#333" stroke="#333" stroke-width="0.24">Pro-B</text>
<text x="389.5" y="81" font-size="5.4" text-anchor="end" fill="#333" stroke="#333" stroke-width="0.24">Pre-pro-B</text>
<text x="389.5" y="86.8" font-size="5.4" text-anchor="end" fill="#333" stroke="#333" stroke-width="0.24">18.1%</text>
<line x1="339.4" y1="94.4" x2="339.4" y2="68" stroke="#000" stroke-width="1"/>
<line x1="338.9" y1="94.4" x2="365.75" y2="94.4" stroke="#000" stroke-width="1"/>
<path d="M337.24,68.34 L339.4,64.7 L341.56,68.34 Z" fill="#000"/>
<path d="M365.41,92.24 L369.05,94.4 L365.41,96.56 Z" fill="#000"/>
<text x="342.2" y="54" font-size="8.42" text-anchor="middle" fill="#111" stroke="#111" stroke-width="0.24" textLength="17" lengthAdjust="spacingAndGlyphs" transform="rotate(-90 342.2 54)">CD19</text>
<text x="371.9" y="97.1" font-size="8.42" fill="#111" stroke="#111" stroke-width="0.24" textLength="18.5" lengthAdjust="spacingAndGlyphs">CD43</text>
<g clip-path="url(#fc3)">
<rect x="410.25" y="43.5" width="46" height="45.5" fill="#fff"/>
<path d="M430.7 87.9h0.55M432.2 69.6h0.55M438.3 65.2h0.55M432.9 73.0h0.55M443.5 76.5h0.55M437.1 80.3h0.55M448.4 69.2h0.55M433.2 78.9h0.55M438.3 84.4h0.55M426.3 76.6h0.55M436.5 67.7h0.55M452.0 67.9h0.55M449.7 85.1h0.55M455.0 65.1h0.55M430.7 64.3h0.55M435.6 86.5h0.55M445.3 66.2h0.55M429.2 82.2h0.55M444.7 62.1h0.55M443.6 67.1h0.55M434.8 64.7h0.55M455.7 74.3h0.55M444.5 67.5h0.55M437.3 79.5h0.55M448.4 86.5h0.55M433.4 68.5h0.55M438.1 70.3h0.55M450.6 72.0h0.55M437.2 75.6h0.55M442.9 71.5h0.55M426.3 81.9h0.55M429.4 85.1h0.55M433.4 68.9h0.55M442.1 86.5h0.55M437.4 75.0h0.55M438.4 65.0h0.55M434.6 86.8h0.55M454.2 68.9h0.55M453.6 62.4h0.55M447.6 62.7h0.55M438.8 73.1h0.55M439.0 87.4h0.55M436.6 62.5h0.55M429.3 82.2h0.55M429.9 63.6h0.55M431.9 88.4h0.55M439.3 66.0h0.55M445.8 72.2h0.55M442.6 88.9h0.55M447.0 76.4h0.55M455.9 75.7h0.55M439.6 85.0h0.55M454.7 81.4h0.55M437.0 72.9h0.55M426.3 68.5h0.55M449.3 75.2h0.55M451.7 80.1h0.55M443.0 83.8h0.55M440.9 80.0h0.55M440.7 71.5h0.55M449.0 63.9h0.55M455.3 87.9h0.55M450.9 74.6h0.55M439.5 72.9h0.55M439.8 68.0h0.55M450.0 85.8h0.55M441.0 85.0h0.55M434.7 85.2h0.55M455.2 80.1h0.55M454.9 81.6h0.55M446.8 74.8h0.55M427.8 65.4h0.55M450.8 66.9h0.55M446.6 66.3h0.55M448.7 87.8h0.55M444.5 63.1h0.55M448.1 74.8h0.55M452.0 66.0h0.55M434.4 86.8h0.55M451.1 86.5h0.55M441.6 80.2h0.55M454.0 79.8h0.55M428.6 66.2h0.55M426.1 65.0h0.55M426.8 72.4h0.55M444.5 85.3h0.55M438.3 66.3h0.55M453.3 86.8h0.55M455.3 62.6h0.55M443.7 79.0h0.55M442.0 67.1h0.55M453.6 76.5h0.55M427.1 71.3h0.55M447.8 67.5h0.55M449.3 67.7h0.55M439.0 69.9h0.55M429.8 85.9h0.55M436.2 82.3h0.55M452.7 69.6h0.55M426.2 76.2h0.55M433.1 85.6h0.55M430.9 81.5h0.55M426.8 69.3h0.55M431.9 85.0h0.55M444.0 79.8h0.55M428.5 70.3h0.55M452.8 78.6h0.55M448.7 75.5h0.55M432.2 86.7h0.55M433.9 66.6h0.55M445.5 64.3h0.55M448.9 81.2h0.55M437.5 75.9h0.55M440.6 64.0h0.55M428.4 71.5h0.55M426.2 67.0h0.55M437.0 78.9h0.55M441.5 66.7h0.55M448.8 83.4h0.55M445.9 80.6h0.55M422.4 53.2h0.55M437.3 46.0h0.55M441.8 50.9h0.55M436.6 49.2h0.55M445.5 52.0h0.55M437.5 44.7h0.55M421.4 54.8h0.55M429.1 51.0h0.55M416.9 50.3h0.55M438.4 52.4h0.55M454.6 49.0h0.55M425.1 45.8h0.55M426.0 48.9h0.55M454.4 49.6h0.55M441.4 52.1h0.55M411.6 46.6h0.55M435.3 44.6h0.55M417.8 52.3h0.55M441.3 45.5h0.55M416.3 53.3h0.55M432.3 47.5h0.55M443.4 51.4h0.55M455.7 45.1h0.55M445.6 49.1h0.55M422.2 49.5h0.55M411.9 45.4h0.55M415.9 51.6h0.55M442.9 46.7h0.55M424.8 52.5h0.55M428.4 47.8h0.55" stroke="#7080c8" stroke-width="0.65" opacity="0.55"/>
<path d="M410,66 L427,65.5 C428,72 428,82 427,89.5 L410,89.5 Z" fill="#2a47b6" filter="url(#bl100)"/>
<ellipse cx="420" cy="61" rx="10" ry="5" fill="#2a44b4" opacity="0.85" filter="url(#bl100)"/>
<ellipse cx="436" cy="58.3" rx="9" ry="2.4" fill="#3048b8" opacity="0.7" filter="url(#bl60)" transform="rotate(-3 436 58.3)"/>
<g filter="url(#bl45)">
<path d="M421.8,90.8 414.9,90.8 414.0,90.1 412.4,88.5 410.9,86.2 409.9,83.8 409.2,80.8 409.1,77.8 409.3,74.8 410.0,72.0 411.0,69.5 412.5,67.2 414.0,65.7 416.0,64.4 418.0,63.8 419.8,63.8 421.2,64.2 422.8,65.1 424.2,66.5 425.5,68.2 426.4,70.2 427.1,72.5 427.6,74.8 427.7,77.2 427.6,79.8 427.2,82.2 426.6,84.5 425.7,86.5 424.5,88.4 423.0,89.9 421.8,90.8Z" fill="#2f7fd0"/>
<path d="M420.2,88.0 419.0,88.2 417.5,87.9 416.0,87.1 414.8,86.0 413.7,84.5 412.9,82.8 412.3,80.8 412.1,78.8 412.1,76.5 412.4,74.5 413.1,72.2 413.9,70.5 415.0,69.0 416.2,67.8 417.5,67.1 419.0,66.8 420.2,66.8 421.5,67.3 422.5,68.0 423.6,69.2 424.4,70.5 425.2,72.2 425.7,74.2 425.9,76.2 425.9,78.2 425.7,80.2 425.3,82.0 424.6,83.8 423.8,85.3 422.8,86.5 421.5,87.5 420.2,88.0Z" fill="#36b4c4"/>
<path d="M419.8,85.8 418.5,85.7 417.5,85.2 416.5,84.5 415.8,83.6 415.1,82.5 414.5,81.0 414.2,79.5 414.0,77.8 414.1,76.0 414.4,74.5 414.9,73.0 415.6,71.5 416.5,70.3 417.5,69.5 418.5,69.0 419.5,68.8 420.5,69.0 421.5,69.5 422.4,70.2 423.2,71.2 423.8,72.5 424.3,74.0 424.6,75.5 424.7,77.0 424.7,78.8 424.4,80.2 423.9,81.8 423.3,83.0 422.7,84.0 421.8,84.9 420.8,85.5 419.8,85.8Z" fill="#56c47c"/>
<path d="M420.5,83.5 419.8,83.7 418.8,83.6 418.0,83.2 417.2,82.5 416.5,81.5 416.1,80.5 415.7,79.2 415.6,78.0 415.6,76.5 415.8,75.2 416.6,73.0 417.2,72.0 418.0,71.3 418.8,70.9 419.5,70.7 420.2,70.8 421.0,71.1 422.2,72.2 423.1,74.0 423.6,76.2 423.5,78.5 423.0,80.8 421.9,82.5 421.2,83.1 420.5,83.5Z" fill="#9ccf40"/>
<path d="M420.0,81.6 419.0,81.5 418.0,80.6 417.3,79.2 417.0,77.5 417.1,75.8 417.8,74.1 418.8,73.1 419.8,72.8 420.8,73.1 421.6,74.0 422.2,75.5 422.4,77.0 422.2,78.7 421.8,80.1 421.0,81.0 420.0,81.6Z" fill="#d4da30"/>
</g>
<path d="M413.8 60.4h0.55M422.3 57.9h0.55M445.6 56.2h0.55M417.7 57.0h0.55M406.3 55.5h0.55M441.0 57.6h0.55M433.9 61.0h0.55M442.0 56.9h0.55M427.3 62.5h0.55M418.0 62.8h0.55M408.0 57.9h0.55M417.2 63.4h0.55M415.4 60.5h0.55M439.9 61.2h0.55M423.4 66.1h0.55M415.2 59.8h0.55M443.2 57.5h0.55M414.5 67.6h0.55M441.1 56.5h0.55M436.1 62.3h0.55M432.8 61.2h0.55M414.9 59.0h0.55M426.5 58.5h0.55M430.9 56.4h0.55M429.5 57.0h0.55M441.1 59.4h0.55M422.4 62.1h0.55M406.5 62.4h0.55M424.1 64.6h0.55M416.5 61.8h0.55M410.0 59.1h0.55M436.9 59.8h0.55M416.2 63.3h0.55M413.2 59.0h0.55M447.1 56.2h0.55M405.4 62.6h0.55M410.0 59.2h0.55M445.6 56.5h0.55M424.1 58.3h0.55M448.1 59.8h0.55M440.1 57.8h0.55M438.7 58.5h0.55M426.0 55.2h0.55M424.4 55.7h0.55M424.9 54.9h0.55M450.4 57.7h0.55M419.7 58.3h0.55M425.5 52.6h0.55M418.2 69.8h0.55M415.3 61.1h0.55M422.7 57.8h0.55M432.3 60.6h0.55M433.6 59.2h0.55M415.6 62.3h0.55M418.4 66.8h0.55M423.1 60.0h0.55M400.9 63.9h0.55M423.3 57.3h0.55M433.9 56.6h0.55M424.5 56.7h0.55M414.8 61.9h0.55M441.8 57.9h0.55M441.6 57.1h0.55M445.2 60.2h0.55M431.1 55.5h0.55M412.5 63.3h0.55M412.9 64.6h0.55M420.5 62.2h0.55M437.3 59.3h0.55M425.1 58.1h0.55M450.6 54.9h0.55M440.2 59.8h0.55M430.6 56.8h0.55M421.5 60.2h0.55M425.1 66.6h0.55M418.4 65.2h0.55M410.8 61.7h0.55M439.3 58.4h0.55M438.1 60.5h0.55M438.2 60.2h0.55M440.0 56.5h0.55M430.5 55.4h0.55M418.0 62.2h0.55M430.5 59.8h0.55M415.8 61.0h0.55M420.5 59.2h0.55M412.0 59.2h0.55M441.6 58.3h0.55M435.3 55.8h0.55M415.9 62.9h0.55M435.0 60.3h0.55M447.2 58.5h0.55M417.9 56.9h0.55M424.4 57.9h0.55M419.9 61.9h0.55M432.0 58.2h0.55M444.5 58.2h0.55M434.4 59.1h0.55M414.2 56.9h0.55M436.0 59.2h0.55M430.2 57.7h0.55M433.9 58.0h0.55M416.5 62.1h0.55M409.9 61.5h0.55M430.6 64.7h0.55M422.4 63.4h0.55M433.0 60.6h0.55M441.3 57.4h0.55M432.9 60.4h0.55M434.7 59.8h0.55M416.0 62.0h0.55M450.9 60.5h0.55M429.4 56.8h0.55M419.9 57.1h0.55M444.9 57.0h0.55M424.7 66.4h0.55M403.8 62.2h0.55M426.3 55.7h0.55M427.0 58.3h0.55M440.1 54.7h0.55M425.4 69.1h0.55M444.4 58.7h0.55M431.8 55.9h0.55M444.2 58.5h0.55M438.1 63.8h0.55M423.1 62.7h0.55M428.9 55.6h0.55M422.8 58.2h0.55M413.4 63.8h0.55M415.8 68.0h0.55M428.6 64.1h0.55M415.3 63.5h0.55M438.4 55.8h0.55M420.4 63.8h0.55M443.0 60.5h0.55M426.5 57.7h0.55M442.4 56.6h0.55M444.2 56.5h0.55M424.5 62.6h0.55M439.7 57.8h0.55M420.6 63.0h0.55M430.8 61.6h0.55M435.5 59.8h0.55M449.3 58.2h0.55M427.8 55.1h0.55M445.5 57.4h0.55M417.1 61.0h0.55M420.4 67.6h0.55M417.2 59.4h0.55M413.0 65.7h0.55M415.0 62.8h0.55M428.9 60.1h0.55M440.1 57.2h0.55M442.1 55.7h0.55M443.3 59.3h0.55M414.1 65.5h0.55M403.5 53.6h0.55M420.9 58.0h0.55M418.1 60.7h0.55M417.5 63.9h0.55M428.1 55.9h0.55M409.3 69.5h0.55M413.2 59.1h0.55M443.7 59.0h0.55M412.2 61.0h0.55M424.0 65.8h0.55M424.9 60.5h0.55M419.8 65.4h0.55M447.5 57.2h0.55M420.5 60.0h0.55M430.4 63.7h0.55M434.1 63.7h0.55M423.8 60.9h0.55M414.0 61.2h0.55M418.6 67.1h0.55M424.5 57.7h0.55M435.7 59.1h0.55M414.8 62.7h0.55M410.5 59.6h0.55M446.1 57.5h0.55M422.4 63.1h0.55M440.5 55.6h0.55M424.9 61.7h0.55M424.9 52.9h0.55M406.4 52.4h0.55M438.6 59.8h0.55M436.5 58.2h0.55M418.9 64.0h0.55M415.9 62.6h0.55M419.0 52.3h0.55M415.3 66.4h0.55M428.8 58.4h0.55M427.1 57.7h0.55M425.9 59.9h0.55M410.8 48.6h0.55M414.0 53.1h0.55M405.2 64.2h0.55M444.7 54.8h0.55M424.0 62.8h0.55M425.8 60.4h0.55M406.6 56.2h0.55M420.4 56.7h0.55M438.9 55.2h0.55M409.9 57.2h0.55M433.5 57.7h0.55M445.4 56.7h0.55M421.6 57.9h0.55M432.2 56.4h0.55M419.9 68.2h0.55M413.9 61.1h0.55M442.7 56.5h0.55M438.5 56.4h0.55M420.7 63.0h0.55M416.9 61.1h0.55M426.8 64.4h0.55M420.7 59.0h0.55M418.6 63.8h0.55M441.0 57.0h0.55M427.9 54.7h0.55M441.7 57.0h0.55M435.4 56.0h0.55M428.2 56.5h0.55M437.7 59.3h0.55M414.5 62.6h0.55M422.8 59.1h0.55M405.9 58.9h0.55M427.7 59.9h0.55M419.0 60.1h0.55M438.4 58.5h0.55M421.5 63.9h0.55M431.1 57.8h0.55M434.2 57.4h0.55M443.5 59.6h0.55M445.2 57.2h0.55M408.7 60.6h0.55M430.8 60.9h0.55M415.0 60.0h0.55M422.8 58.9h0.55M430.5 62.2h0.55M447.8 58.6h0.55M433.6 56.2h0.55M436.1 58.3h0.55M433.3 57.2h0.55M431.5 58.0h0.55M434.3 61.4h0.55M420.2 54.2h0.55M437.8 55.6h0.55M412.1 63.0h0.55M443.4 56.9h0.55M433.7 56.6h0.55M420.1 55.9h0.55M438.5 60.4h0.55M436.6 60.2h0.55M447.1 57.4h0.55M431.1 57.1h0.55M417.5 63.4h0.55M431.8 60.6h0.55M446.6 58.2h0.55M434.2 58.1h0.55M420.1 56.3h0.55M420.5 61.6h0.55M425.0 63.5h0.55M423.7 56.9h0.55M442.7 54.8h0.55M412.1 54.7h0.55M423.9 58.5h0.55M434.2 60.7h0.55M423.3 65.5h0.55M421.7 58.9h0.55M440.4 56.9h0.55M426.8 62.0h0.55M444.9 58.1h0.55M422.9 64.3h0.55M436.3 58.1h0.55M409.4 61.3h0.55M426.4 61.7h0.55M435.6 56.4h0.55M417.5 55.9h0.55M442.0 58.8h0.55M442.7 54.8h0.55M440.5 58.8h0.55M419.7 65.4h0.55M421.3 60.1h0.55M426.4 59.1h0.55M443.4 58.9h0.55M413.6 61.5h0.55M409.4 55.1h0.55M436.0 58.0h0.55M406.3 57.4h0.55M417.7 67.0h0.55M424.9 64.0h0.55M417.3 58.9h0.55M435.4 59.1h0.55M434.8 57.7h0.55M445.7 60.9h0.55M416.9 56.8h0.55M449.9 56.6h0.55M446.7 60.7h0.55M438.0 58.6h0.55M428.8 59.7h0.55M419.8 68.5h0.55M421.7 60.7h0.55M446.2 57.2h0.55M415.0 69.7h0.55M424.9 57.7h0.55M431.8 56.1h0.55M414.8 61.6h0.55M425.2 57.5h0.55M428.4 56.4h0.55M423.0 59.2h0.55M450.8 59.0h0.55M422.8 54.7h0.55M417.4 56.0h0.55M444.8 57.4h0.55M441.9 57.8h0.55M426.7 55.3h0.55M421.6 55.2h0.55M409.3 59.6h0.55M439.0 58.5h0.55M445.8 58.1h0.55M419.0 60.9h0.55M438.2 54.0h0.55M420.2 57.0h0.55M409.0 60.8h0.55M428.5 59.8h0.55M425.3 51.5h0.55M431.2 62.7h0.55M445.3 60.0h0.55M418.3 55.0h0.55M422.6 60.4h0.55M424.3 57.8h0.55M415.7 61.8h0.55M405.3 59.4h0.55M444.7 62.5h0.55M441.5 60.9h0.55M427.2 56.8h0.55M401.9 64.6h0.55M415.0 70.1h0.55M443.1 58.2h0.55M417.3 62.4h0.55M428.6 58.2h0.55M402.1 64.5h0.55M445.7 56.7h0.55M432.3 59.2h0.55M439.2 58.2h0.55M429.7 59.8h0.55M426.6 57.6h0.55M399.8 57.5h0.55M424.7 61.8h0.55M425.0 59.5h0.55M433.7 57.9h0.55M421.3 63.6h0.55M412.2 64.4h0.55M430.7 59.1h0.55M437.3 54.7h0.55M416.0 60.6h0.55M417.9 61.6h0.55M426.9 58.0h0.55M438.2 61.8h0.55M416.1 54.2h0.55M441.8 59.2h0.55M422.4 61.5h0.55M433.9 61.1h0.55M443.7 54.9h0.55M413.6 58.0h0.55M417.4 62.2h0.55M425.8 62.5h0.55M410.2 59.0h0.55M419.3 55.8h0.55M444.1 58.8h0.55M415.6 68.4h0.55M418.2 61.9h0.55M437.8 55.5h0.55M439.2 57.5h0.55M440.0 59.3h0.55M400.9 56.3h0.55M417.1 62.1h0.55M439.5 57.2h0.55M409.9 64.4h0.55M440.2 58.4h0.55M403.4 65.5h0.55M434.8 59.5h0.55M426.3 60.0h0.55M416.5 63.7h0.55M420.6 59.8h0.55M441.9 57.1h0.55M422.7 64.5h0.55M442.0 60.9h0.55M406.9 59.9h0.55M429.7 59.1h0.55M406.4 66.4h0.55M443.9 55.9h0.55M423.1 56.7h0.55M436.4 58.0h0.55M414.3 56.4h0.55M440.3 56.4h0.55M432.1 58.3h0.55M422.9 59.0h0.55M420.8 56.1h0.55M415.9 67.0h0.55M423.6 58.2h0.55M424.3 56.2h0.55M439.7 57.1h0.55M437.8 59.5h0.55M415.7 62.1h0.55M410.2 60.5h0.55M446.5 64.3h0.55M422.6 61.2h0.55M410.6 65.1h0.55M406.0 57.6h0.55M420.2 56.0h0.55M428.5 65.2h0.55M427.0 57.4h0.55M408.4 55.2h0.55M420.8 63.3h0.55M434.5 58.9h0.55M413.7 62.3h0.55M407.3 60.8h0.55M443.6 60.7h0.55M414.4 59.5h0.55M442.9 61.8h0.55M407.2 59.1h0.55M419.3 65.7h0.55M411.8 63.4h0.55M415.6 70.4h0.55M443.5 57.6h0.55M415.3 65.1h0.55M422.5 56.5h0.55M433.2 55.4h0.55M438.7 56.0h0.55M408.4 58.1h0.55M437.9 59.0h0.55M445.0 57.4h0.55M409.8 64.1h0.55M403.5 53.1h0.55M437.5 59.6h0.55M424.5 60.0h0.55M408.8 58.8h0.55M421.7 57.7h0.55M425.8 55.6h0.55M437.2 59.5h0.55M443.5 56.0h0.55M422.9 57.6h0.55M421.5 56.1h0.55M441.0 54.5h0.55M421.6 59.9h0.55M445.3 55.9h0.55M425.5 60.5h0.55M428.4 57.4h0.55M435.8 58.6h0.55M425.5 64.0h0.55M413.6 60.3h0.55M417.3 55.4h0.55M438.0 59.7h0.55M435.5 59.9h0.55M433.9 58.0h0.55M421.5 62.7h0.55M426.2 59.2h0.55M416.1 59.8h0.55M430.9 64.6h0.55M411.2 59.5h0.55M412.7 60.9h0.55M433.6 63.4h0.55M417.2 61.5h0.55M420.8 58.0h0.55M416.7 58.9h0.55M418.1 64.9h0.55M419.7 62.0h0.55M428.9 61.9h0.55M420.6 65.8h0.55M444.2 59.6h0.55M418.1 57.5h0.55M422.5 63.7h0.55M448.3 53.1h0.55M441.2 59.7h0.55M436.8 57.9h0.55M432.6 66.5h0.55M411.6 66.6h0.55M441.3 59.7h0.55M443.4 58.3h0.55M424.7 57.7h0.55M437.6 58.4h0.55M430.8 59.5h0.55M432.2 57.9h0.55M419.7 62.4h0.55M432.2 56.6h0.55M443.7 56.4h0.55M437.4 57.5h0.55M422.4 62.1h0.55M400.2 57.5h0.55M420.8 59.5h0.55M444.9 57.6h0.55M428.4 63.4h0.55M416.3 60.3h0.55M410.2 57.9h0.55M437.1 59.4h0.55M441.9 56.8h0.55M437.1 54.4h0.55M415.5 59.9h0.55M425.1 59.2h0.55M439.2 56.8h0.55M446.3 59.3h0.55M441.5 58.1h0.55M445.9 59.0h0.55M441.9 63.2h0.55M430.1 59.1h0.55M417.6 46.9h0.55M420.8 59.1h0.55M444.4 56.9h0.55M446.6 59.8h0.55M415.1 66.7h0.55M430.2 62.8h0.55M424.3 62.1h0.55M441.3 57.4h0.55M418.8 58.8h0.55M440.6 59.8h0.55M426.5 63.3h0.55M438.8 57.9h0.55M424.1 59.4h0.55M438.4 60.0h0.55M427.4 61.3h0.55M423.2 60.9h0.55M416.4 62.7h0.55M423.8 64.1h0.55M415.9 62.7h0.55M423.9 64.1h0.55M396.4 57.4h0.55M425.8 58.3h0.55M419.3 64.7h0.55M436.9 58.0h0.55M442.2 60.8h0.55M427.1 59.4h0.55M429.0 62.4h0.55M433.9 59.0h0.55M415.3 60.5h0.55M425.4 62.9h0.55M430.0 60.6h0.55M435.5 58.5h0.55M420.1 62.0h0.55M415.6 59.2h0.55M432.1 56.4h0.55M422.1 61.9h0.55M416.3 60.9h0.55M417.1 61.1h0.55M418.2 61.3h0.55M412.4 64.7h0.55M426.6 61.1h0.55M416.5 57.0h0.55M424.9 60.4h0.55M426.7 59.6h0.55M423.7 59.1h0.55M414.3 58.4h0.55M413.5 63.2h0.55M445.4 56.5h0.55M429.3 58.6h0.55M415.3 54.1h0.55M428.8 60.6h0.55M413.5 58.0h0.55M437.8 60.4h0.55M431.5 62.5h0.55M441.0 54.3h0.55M445.3 57.2h0.55M416.3 67.3h0.55M430.0 61.2h0.55M431.9 56.8h0.55M421.6 58.6h0.55M441.9 60.1h0.55M442.3 59.0h0.55M422.0 59.9h0.55M424.3 60.1h0.55M422.3 57.2h0.55M418.7 62.7h0.55M412.5 59.3h0.55M414.3 63.9h0.55M439.2 58.9h0.55M444.3 58.7h0.55M419.2 59.5h0.55M425.3 59.9h0.55M425.8 63.5h0.55M443.7 57.5h0.55M414.5 60.0h0.55M442.3 58.8h0.55M421.0 59.8h0.55M432.6 59.3h0.55M419.0 57.5h0.55M412.5 60.2h0.55M416.2 60.0h0.55M412.0 63.7h0.55M420.0 54.5h0.55M418.2 56.6h0.55M430.0 59.2h0.55M415.3 61.4h0.55M430.5 58.5h0.55M428.9 62.0h0.55M424.0 65.6h0.55M424.5 62.6h0.55M437.7 60.3h0.55M412.1 64.3h0.55M443.7 57.1h0.55M434.1 63.3h0.55M441.1 58.4h0.55M424.5 65.6h0.55M422.2 65.9h0.55M428.4 56.1h0.55M440.1 56.6h0.55M418.8 66.9h0.55M444.6 56.2h0.55M429.9 60.9h0.55M414.4 60.7h0.55M420.3 53.8h0.55M423.6 62.4h0.55M422.1 57.2h0.55M426.0 57.5h0.55M419.9 61.4h0.55M442.7 60.9h0.55M442.5 56.4h0.55M413.6 67.9h0.55M429.8 61.7h0.55M429.3 58.9h0.55M430.0 58.8h0.55M412.1 57.2h0.55M429.1 60.6h0.55M415.0 60.3h0.55M414.9 55.6h0.55M447.8 54.0h0.55M427.0 60.0h0.55M408.4 63.5h0.55M442.1 56.1h0.55M442.8 56.2h0.55M421.7 61.4h0.55M443.1 60.2h0.55M421.4 66.5h0.55M437.1 55.6h0.55M420.0 63.0h0.55M408.0 66.4h0.55M432.7 59.3h0.55M425.0 59.1h0.55M420.2 59.8h0.55M432.6 53.8h0.55M447.4 56.0h0.55M402.9 57.2h0.55M412.3 63.3h0.55M424.9 59.5h0.55M411.4 69.9h0.55M421.9 68.9h0.55M424.1 60.4h0.55M424.6 60.2h0.55M444.6 55.3h0.55M437.4 56.4h0.55M436.0 57.2h0.55M411.4 55.3h0.55M442.5 58.9h0.55M421.6 57.9h0.55M418.2 60.1h0.55M439.3 59.5h0.55M424.0 63.8h0.55M430.7 63.0h0.55M446.0 56.9h0.55M441.7 59.9h0.55M425.8 59.7h0.55M442.2 56.9h0.55M416.5 54.8h0.55M414.3 53.1h0.55M434.0 67.1h0.55M441.9 58.7h0.55M425.1 66.1h0.55M425.2 64.7h0.55M411.7 62.7h0.55M427.7 56.1h0.55M410.1 62.7h0.55M440.3 55.1h0.55M446.2 61.0h0.55M440.5 57.3h0.55M431.6 60.7h0.55M428.8 56.2h0.55M420.4 52.7h0.55M419.0 65.6h0.55M420.1 64.1h0.55M421.5 63.9h0.55M419.0 57.7h0.55M416.4 60.7h0.55M442.2 61.5h0.55M420.9 58.0h0.55M439.1 57.9h0.55M443.1 58.7h0.55M417.6 57.9h0.55M424.2 62.2h0.55M417.6 61.4h0.55M429.8 60.4h0.55M445.6 60.5h0.55M418.4 64.5h0.55M417.1 57.7h0.55M429.8 56.6h0.55M421.6 61.1h0.55M436.6 60.1h0.55M407.1 60.5h0.55M417.6 59.6h0.55M411.9 61.4h0.55M427.6 54.2h0.55M433.5 58.2h0.55M404.8 63.6h0.55M442.1 57.2h0.55M412.9 73.9h0.55M415.2 53.8h0.55M411.5 59.5h0.55M428.9 58.5h0.55M437.9 59.1h0.55M428.0 55.7h0.55M412.3 59.5h0.55M438.8 59.2h0.55M440.7 58.1h0.55M419.5 69.2h0.55M427.1 59.8h0.55M437.7 56.1h0.55M419.3 61.7h0.55M414.7 63.3h0.55M440.3 60.6h0.55M416.7 61.8h0.55M434.5 56.6h0.55M433.9 60.4h0.55M442.7 59.0h0.55M419.2 64.0h0.55M427.0 60.1h0.55M433.6 58.3h0.55M440.4 58.1h0.55M410.1 64.0h0.55M445.8 61.5h0.55M426.9 57.1h0.55M444.1 56.3h0.55M417.6 68.4h0.55M423.5 60.8h0.55M420.0 60.4h0.55M425.0 59.8h0.55M414.8 65.2h0.55M426.6 55.5h0.55M414.5 59.7h0.55M409.7 56.5h0.55M418.6 60.2h0.55M406.4 58.8h0.55M436.0 55.6h0.55M411.5 67.4h0.55M447.1 55.1h0.55M421.3 59.9h0.55M422.5 58.4h0.55M428.5 59.9h0.55M431.7 55.0h0.55M422.3 61.2h0.55M416.9 54.2h0.55M436.0 59.8h0.55M416.3 59.7h0.55M435.6 61.0h0.55M419.1 63.1h0.55M431.6 57.7h0.55M411.6 62.0h0.55M440.8 57.7h0.55M424.5 63.0h0.55M438.8 54.7h0.55M436.4 57.0h0.55M412.3 57.6h0.55M441.8 59.8h0.55M413.0 56.4h0.55M418.1 59.2h0.55M429.6 55.2h0.55M405.2 60.0h0.55M432.1 58.8h0.55M423.3 69.3h0.55M415.6 58.8h0.55M405.7 62.0h0.55M438.8 57.6h0.55M441.4 58.1h0.55M444.1 58.6h0.55M423.5 57.5h0.55M419.5 55.3h0.55M434.2 60.3h0.55M447.6 57.6h0.55M416.3 56.6h0.55M439.9 58.9h0.55M439.7 59.2h0.55M436.3 54.2h0.55M437.9 58.5h0.55M440.4 57.4h0.55M430.2 67.1h0.55M430.8 56.4h0.55M426.9 60.8h0.55M437.1 57.1h0.55M405.4 68.4h0.55M425.4 62.8h0.55M419.5 59.3h0.55M428.9 60.0h0.55M413.0 65.9h0.55M428.0 56.8h0.55M442.4 57.6h0.55M421.9 59.3h0.55M433.1 59.3h0.55M408.6 65.3h0.55M419.4 55.1h0.55M420.2 62.7h0.55M418.7 56.1h0.55M424.2 55.1h0.55M414.8 57.8h0.55" stroke="#3347b8" stroke-width="0.65" opacity="0.65"/>
</g>
<rect x="410.25" y="43.5" width="46" height="45.5" fill="none" stroke="#333" stroke-width="0.8"/>
<rect x="411.25" y="49.4" width="38.15" height="17.85" fill="none" stroke="#222" stroke-width="0.7"/>
<line x1="428.75" y1="49.4" x2="428.75" y2="67.25" stroke="#111" stroke-width="0.9"/>
<text x="412.5" y="48.3" font-size="5" fill="#333" stroke="#333" stroke-width="0.24">5.2%</text>
<text x="432" y="48.3" font-size="5" fill="#333" stroke="#333" stroke-width="0.24">2.7%</text>
<polyline points="418.75,60 418.75,83.75 436.9,83.75" fill="none" stroke="#111" stroke-width="0.8"/>
<circle cx="436.9" cy="83.75" r="0.9" fill="#111"/>
<line x1="406.25" y1="94.4" x2="406.25" y2="68.6" stroke="#000" stroke-width="1"/>
<line x1="405.75" y1="94.4" x2="432.6" y2="94.4" stroke="#000" stroke-width="1"/>
<path d="M404.09,68.94 L406.25,65.3 L408.41,68.94 Z" fill="#000"/>
<path d="M432.26,92.24 L435.9,94.4 L432.26,96.56 Z" fill="#000"/>
<text x="409.05" y="52.5" font-size="8.42" text-anchor="middle" fill="#111" stroke="#111" stroke-width="0.24" textLength="16" lengthAdjust="spacingAndGlyphs" transform="rotate(-90 409.05 52.5)">B220</text>
<text x="439.75" y="97.1" font-size="8.42" fill="#111" stroke="#111" stroke-width="0.24" textLength="12.2" lengthAdjust="spacingAndGlyphs">IgM</text>
<g clip-path="url(#fc4)">
<rect x="467.5" y="43.75" width="46" height="45.65" fill="#fff"/>
<path d="M503.6 61.9h0.55M483.5 69.2h0.55M512.8 77.8h0.55M499.0 49.9h0.55M505.2 63.5h0.55M496.9 69.8h0.55M504.1 45.5h0.55M472.5 56.9h0.55M477.3 75.3h0.55M473.4 48.2h0.55M492.4 47.1h0.55M504.5 59.2h0.55M481.9 71.5h0.55M512.9 57.0h0.55M478.4 60.9h0.55M503.8 86.9h0.55M475.1 45.4h0.55M482.1 58.8h0.55M502.4 75.3h0.55M502.4 62.1h0.55M487.7 87.3h0.55M470.2 45.0h0.55M468.8 81.6h0.55M491.8 76.0h0.55M498.1 81.4h0.55M492.4 59.1h0.55M473.2 62.9h0.55M477.0 86.6h0.55M503.1 57.1h0.55M491.5 65.6h0.55M495.8 87.6h0.55M480.7 72.3h0.55M491.2 87.9h0.55M478.0 73.8h0.55M472.2 69.0h0.55M512.1 77.1h0.55M469.4 89.3h0.55M492.8 70.7h0.55M511.5 70.9h0.55M478.2 63.7h0.55" stroke="#9aa4d0" stroke-width="0.65" opacity="0.4"/>
<path d="M488.6 57.3h0.55M492.2 70.1h0.55M489.8 85.0h0.55M489.8 82.0h0.55M481.4 73.2h0.55M491.4 71.3h0.55M489.2 73.2h0.55M491.9 79.5h0.55M490.1 63.7h0.55M483.4 67.1h0.55M491.4 81.5h0.55M487.5 68.0h0.55M478.1 60.6h0.55M477.8 68.0h0.55M467.4 67.1h0.55M484.7 63.7h0.55M489.2 91.7h0.55M494.7 77.6h0.55M494.5 88.5h0.55M489.1 98.2h0.55M489.6 77.6h0.55M489.2 80.0h0.55M488.7 79.4h0.55M488.9 65.7h0.55M491.0 90.2h0.55M489.6 86.2h0.55M486.3 63.8h0.55M491.7 80.3h0.55M481.5 63.5h0.55M490.4 82.4h0.55M481.0 62.2h0.55M490.1 74.5h0.55M491.5 80.6h0.55M491.8 74.7h0.55M481.6 61.4h0.55M485.2 78.9h0.55M471.9 64.6h0.55M488.9 83.7h0.55M488.9 81.2h0.55M490.5 70.6h0.55M473.2 69.3h0.55M492.4 84.6h0.55M493.2 65.1h0.55M487.9 62.7h0.55M487.4 62.0h0.55M478.1 73.9h0.55M487.4 80.9h0.55M492.5 80.2h0.55M476.3 66.4h0.55M478.7 62.8h0.55M481.5 64.7h0.55M490.3 83.8h0.55M476.1 68.6h0.55M490.2 82.0h0.55M491.7 80.7h0.55M475.7 64.3h0.55M489.6 80.2h0.55M493.1 86.5h0.55M490.4 79.6h0.55M487.9 63.5h0.55M476.4 64.6h0.55M482.3 57.6h0.55M492.7 73.3h0.55M487.8 95.1h0.55M482.7 64.7h0.55M493.0 73.6h0.55M491.7 58.3h0.55M483.0 62.5h0.55M478.2 71.6h0.55M472.0 65.1h0.55M492.0 82.8h0.55M493.6 81.2h0.55M494.5 62.0h0.55M483.4 68.7h0.55M490.7 76.7h0.55M490.4 74.3h0.55M488.9 74.9h0.55M488.0 81.4h0.55M487.9 93.1h0.55M492.4 67.9h0.55M480.1 64.1h0.55M489.0 65.2h0.55M484.6 62.8h0.55M493.7 73.1h0.55M491.6 66.6h0.55M478.1 68.3h0.55M478.8 64.8h0.55M489.2 62.6h0.55M490.6 55.6h0.55M492.6 82.2h0.55M471.8 63.0h0.55M493.3 71.2h0.55M484.9 64.6h0.55M490.7 82.0h0.55M489.5 80.7h0.55M493.8 80.9h0.55M480.3 64.8h0.55M491.5 72.3h0.55M488.8 58.4h0.55M495.5 74.2h0.55M491.5 62.7h0.55M473.9 67.6h0.55M483.9 67.4h0.55M487.3 61.7h0.55M485.0 67.9h0.55M479.5 62.9h0.55M489.3 83.8h0.55M493.1 72.8h0.55M488.4 87.3h0.55M488.0 79.7h0.55M475.8 60.7h0.55M491.7 77.3h0.55M491.5 72.2h0.55M481.2 69.6h0.55M493.7 75.0h0.55M489.5 89.8h0.55M490.6 78.4h0.55M490.7 77.7h0.55M490.1 83.8h0.55M488.8 63.3h0.55M488.4 79.0h0.55M488.1 74.2h0.55M494.1 94.8h0.55M492.2 71.2h0.55M493.1 63.0h0.55M489.9 89.2h0.55M493.0 69.0h0.55M472.4 70.5h0.55M481.0 63.9h0.55M483.7 63.5h0.55M487.2 84.2h0.55M490.0 71.6h0.55M488.5 80.3h0.55M477.3 68.8h0.55M480.7 69.8h0.55M479.0 64.0h0.55M487.1 71.0h0.55M493.0 99.9h0.55M473.6 63.6h0.55M483.9 67.2h0.55M484.8 63.1h0.55M487.9 76.5h0.55M489.5 67.7h0.55M480.5 65.2h0.55M485.0 69.2h0.55M492.4 73.4h0.55M487.9 65.7h0.55M476.6 62.0h0.55M488.4 63.9h0.55M493.5 79.2h0.55M484.9 61.5h0.55M483.8 60.0h0.55M490.2 75.3h0.55M490.2 59.2h0.55M481.0 63.9h0.55M494.6 80.5h0.55M490.6 84.3h0.55M481.8 64.2h0.55M494.7 83.6h0.55M495.2 86.7h0.55M486.3 65.5h0.55M489.0 83.6h0.55M491.6 83.4h0.55M481.2 63.5h0.55M489.2 83.6h0.55M489.1 63.6h0.55M492.4 88.3h0.55M489.6 76.3h0.55M489.0 86.9h0.55M487.7 61.5h0.55M481.9 62.3h0.55M493.6 76.7h0.55M479.6 68.5h0.55M474.5 67.4h0.55M492.7 73.3h0.55M489.6 80.4h0.55M491.2 77.1h0.55M491.9 80.3h0.55M489.4 74.1h0.55M488.2 66.2h0.55M494.4 72.9h0.55M493.8 84.0h0.55M491.4 82.1h0.55M493.2 91.2h0.55M489.1 82.9h0.55M486.5 62.3h0.55M493.9 84.4h0.55M489.2 76.8h0.55M482.3 60.9h0.55M493.3 78.3h0.55M487.4 63.9h0.55M492.3 63.0h0.55M485.8 68.1h0.55M490.3 75.1h0.55M488.4 86.3h0.55M487.7 64.3h0.55M491.8 77.9h0.55M476.7 64.1h0.55M484.4 65.9h0.55M495.0 73.5h0.55M490.4 71.7h0.55M494.4 70.3h0.55M493.1 88.8h0.55M491.1 83.8h0.55M486.8 76.1h0.55M487.8 80.0h0.55M491.5 73.5h0.55M487.6 66.2h0.55M490.3 75.3h0.55M488.2 77.5h0.55M496.1 73.9h0.55M484.0 63.6h0.55M486.8 66.6h0.55M490.9 66.5h0.55M479.6 70.6h0.55M490.9 83.2h0.55M477.9 60.1h0.55M492.4 81.0h0.55M478.2 65.3h0.55M487.8 61.2h0.55M483.7 64.9h0.55M468.0 67.9h0.55M490.1 73.0h0.55M492.3 75.5h0.55M485.7 69.1h0.55M491.8 68.1h0.55M489.9 85.2h0.55M479.9 63.5h0.55M491.3 82.3h0.55M492.0 83.3h0.55M476.9 65.9h0.55M480.4 66.1h0.55M480.7 62.2h0.55M474.9 72.1h0.55M491.6 67.9h0.55M493.2 75.5h0.55M493.5 77.5h0.55M488.8 60.3h0.55M478.7 68.1h0.55M495.3 78.7h0.55M496.7 73.0h0.55M474.4 67.2h0.55M484.1 62.5h0.55M478.7 66.3h0.55M489.8 65.7h0.55M483.4 65.7h0.55M491.7 79.8h0.55M485.3 65.4h0.55M492.6 69.8h0.55M489.3 68.1h0.55M491.9 69.1h0.55M489.6 63.5h0.55M464.3 68.3h0.55M492.8 81.6h0.55M494.2 83.2h0.55M481.5 59.1h0.55M483.7 63.5h0.55M492.9 71.8h0.55M485.1 64.4h0.55M469.6 61.3h0.55M480.7 67.1h0.55M490.4 63.0h0.55M491.5 69.7h0.55M485.7 65.0h0.55M483.8 67.9h0.55M479.3 69.3h0.55M494.2 81.7h0.55M494.4 74.6h0.55M487.4 65.9h0.55M484.0 62.7h0.55M490.3 75.1h0.55M491.7 86.3h0.55M490.8 79.8h0.55M488.3 79.7h0.55M489.2 67.5h0.55M492.5 75.3h0.55M489.4 78.3h0.55M473.4 63.1h0.55M493.5 72.6h0.55M492.3 58.7h0.55M492.4 70.8h0.55M482.3 62.2h0.55M491.6 77.8h0.55M490.5 82.5h0.55M490.4 62.4h0.55M489.6 63.2h0.55M486.9 69.5h0.55M468.8 65.9h0.55M487.5 76.7h0.55M482.9 79.2h0.55M485.0 71.7h0.55M489.3 63.1h0.55M485.7 71.2h0.55M491.9 80.4h0.55M484.0 60.3h0.55M489.7 81.3h0.55M492.7 72.5h0.55M490.8 78.1h0.55M481.5 68.5h0.55M482.6 66.4h0.55M488.4 71.6h0.55M492.2 67.8h0.55M492.1 74.3h0.55M477.5 69.0h0.55M477.4 63.7h0.55M484.9 63.1h0.55M497.5 64.2h0.55M481.6 65.2h0.55M493.5 76.3h0.55M468.2 73.0h0.55M489.1 78.4h0.55M488.5 71.2h0.55M490.4 84.8h0.55M486.4 63.0h0.55M488.4 61.8h0.55M487.3 63.4h0.55M488.8 61.1h0.55M491.2 80.3h0.55M481.9 63.1h0.55M492.1 61.5h0.55M493.1 80.2h0.55M494.1 63.6h0.55M495.9 77.3h0.55M474.7 67.6h0.55M496.4 82.3h0.55M488.7 75.6h0.55M488.8 59.7h0.55M480.6 65.1h0.55M494.4 62.7h0.55M494.3 74.1h0.55M484.5 65.9h0.55M492.8 66.8h0.55M492.8 83.3h0.55M490.1 80.3h0.55M483.1 64.0h0.55M478.0 64.2h0.55M490.8 69.5h0.55M480.6 60.8h0.55M491.6 78.2h0.55M489.2 84.7h0.55M495.7 88.0h0.55M474.5 71.7h0.55M483.0 65.5h0.55M490.1 78.7h0.55M491.0 64.5h0.55M490.5 74.1h0.55M490.5 82.8h0.55M495.5 71.4h0.55M481.5 64.6h0.55M489.8 81.5h0.55M484.2 60.5h0.55M489.2 87.1h0.55M492.1 82.4h0.55M478.6 65.1h0.55M492.4 75.3h0.55M489.0 78.8h0.55M486.5 61.5h0.55M490.0 65.0h0.55M476.7 66.8h0.55M486.8 64.8h0.55M484.9 60.8h0.55M488.5 85.9h0.55M487.2 64.1h0.55M492.2 89.4h0.55M488.8 86.3h0.55M477.4 69.2h0.55M494.3 69.2h0.55M492.3 76.8h0.55M480.1 66.4h0.55M489.1 72.1h0.55M488.8 65.4h0.55M490.2 68.7h0.55M496.0 67.3h0.55M492.2 71.6h0.55M490.2 80.4h0.55M484.1 67.6h0.55M491.7 81.5h0.55M475.2 63.9h0.55M477.3 67.7h0.55M480.1 65.2h0.55" stroke="#6a7cb8" stroke-width="0.65" opacity="0.5"/>
<ellipse cx="482" cy="66" rx="5.5" ry="3" fill="#7c8cc0" opacity="0.7" filter="url(#bl100)" transform="rotate(-10 482 66)"/>
<g filter="url(#bl45)">
<path d="M492.5,87.6 491.8,87.7 491.0,87.3 490.2,86.5 489.8,85.7 489.2,84.2 488.8,82.8 488.4,79.2 488.6,75.8 489.3,72.8 489.9,71.5 490.5,70.7 491.2,70.1 492.0,70.0 492.8,70.1 493.2,70.5 493.9,71.2 494.5,72.2 495.3,75.0 495.6,78.0 495.5,81.2 494.8,84.2 494.3,85.5 493.8,86.5 493.2,87.1 492.5,87.6Z" fill="#8496c6"/>
<path d="M492.5,84.3 492.0,84.5 491.5,84.3 491.0,83.9 490.5,83.2 489.8,81.2 489.5,79.0 489.6,76.5 490.1,74.5 491.0,73.1 491.5,72.7 492.0,72.6 492.5,72.7 492.9,73.0 493.6,74.0 494.2,75.8 494.5,77.8 494.4,80.0 494.0,82.0 493.3,83.5 492.5,84.3Z" fill="#6ea6aa"/>
<path d="M492.2,81.9 491.8,81.9 491.5,81.7 491.0,81.0 490.7,80.0 490.5,78.8 490.6,77.2 490.9,76.0 491.5,75.0 492.0,74.8 492.5,75.0 493.0,75.7 493.3,76.8 493.5,78.0 493.5,79.2 493.2,80.5 492.8,81.4 492.2,81.9Z" fill="#8cc070"/>
</g>
</g>
<rect x="467.5" y="43.75" width="46" height="45.65" fill="none" stroke="#333" stroke-width="0.8"/>
<line x1="490.6" y1="43.75" x2="490.6" y2="89.4" stroke="#444" stroke-width="0.7"/>
<line x1="467.5" y1="72.9" x2="513.5" y2="72.9" stroke="#444" stroke-width="0.7"/>
<text x="470" y="49" font-size="5.4" fill="#333" stroke="#333" stroke-width="0.24">16.8%</text>
<text x="511.5" y="49" font-size="5.4" text-anchor="end" fill="#333" stroke="#333" stroke-width="0.24">11.0%</text>
<text x="511.5" y="87.5" font-size="5.4" text-anchor="end" fill="#333" stroke="#333" stroke-width="0.24">64.9%</text>
<line x1="463.1" y1="94.4" x2="463.1" y2="68" stroke="#000" stroke-width="1"/>
<line x1="462.6" y1="94.4" x2="488.9" y2="94.4" stroke="#000" stroke-width="1"/>
<path d="M460.94,68.34 L463.1,64.7 L465.26,68.34 Z" fill="#000"/>
<path d="M488.56,92.24 L492.2,94.4 L488.56,96.56 Z" fill="#000"/>
<text x="465.9" y="54" font-size="8.42" text-anchor="middle" fill="#111" stroke="#111" stroke-width="0.24" textLength="17" lengthAdjust="spacingAndGlyphs" transform="rotate(-90 465.9 54)">CD19</text>
<text x="494.75" y="97.1" font-size="8.42" fill="#111" stroke="#111" stroke-width="0.24" textLength="18.5" lengthAdjust="spacingAndGlyphs">CD43</text>
<text x="6" y="136.3" font-size="11.2" font-weight="bold" fill="#000">B</text>
<line x1="35.5" y1="144.2" x2="35.5" y2="234.6" stroke="#000" stroke-width="1"/>
<line x1="32.7" y1="234.1" x2="35.5" y2="234.1" stroke="#000" stroke-width="1"/>
<text x="29.8" y="236.85" font-size="7.2" text-anchor="end" fill="#111" stroke="#111" stroke-width="0.24" textLength="4.45" lengthAdjust="spacingAndGlyphs">0</text>
<line x1="32.7" y1="216.8" x2="35.5" y2="216.8" stroke="#000" stroke-width="1"/>
<text x="29.8" y="219.55" font-size="7.2" text-anchor="end" fill="#111" stroke="#111" stroke-width="0.24" textLength="4.45" lengthAdjust="spacingAndGlyphs">5</text>
<line x1="32.7" y1="199.5" x2="35.5" y2="199.5" stroke="#000" stroke-width="1"/>
<text x="29.8" y="202.25" font-size="7.2" text-anchor="end" fill="#111" stroke="#111" stroke-width="0.24" textLength="8.9" lengthAdjust="spacingAndGlyphs">10</text>
<line x1="32.7" y1="182.2" x2="35.5" y2="182.2" stroke="#000" stroke-width="1"/>
<text x="29.8" y="184.95" font-size="7.2" text-anchor="end" fill="#111" stroke="#111" stroke-width="0.24" textLength="8.9" lengthAdjust="spacingAndGlyphs">15</text>
<line x1="32.7" y1="164.9" x2="35.5" y2="164.9" stroke="#000" stroke-width="1"/>
<text x="29.8" y="167.65" font-size="7.2" text-anchor="end" fill="#111" stroke="#111" stroke-width="0.24" textLength="8.9" lengthAdjust="spacingAndGlyphs">20</text>
<line x1="32.7" y1="147.6" x2="35.5" y2="147.6" stroke="#000" stroke-width="1"/>
<text x="29.8" y="150.35" font-size="7.2" text-anchor="end" fill="#111" stroke="#111" stroke-width="0.24" textLength="8.9" lengthAdjust="spacingAndGlyphs">25</text>
<line x1="32.2" y1="234.5" x2="103" y2="234.5" stroke="#000" stroke-width="1"/>
<line x1="41.7" y1="234.1" x2="41.7" y2="236.8" stroke="#000" stroke-width="0.9"/>
<text x="41.7" y="246" font-size="8.2" text-anchor="middle" fill="#111" stroke="#111" stroke-width="0.24">2</text>
<line x1="55.4" y1="234.1" x2="55.4" y2="236.8" stroke="#000" stroke-width="0.9"/>
<text x="55.4" y="246" font-size="8.2" text-anchor="middle" fill="#111" stroke="#111" stroke-width="0.24">4</text>
<line x1="68.75" y1="234.1" x2="68.75" y2="236.8" stroke="#000" stroke-width="0.9"/>
<text x="68.75" y="246" font-size="8.2" text-anchor="middle" fill="#111" stroke="#111" stroke-width="0.24">8</text>
<line x1="82.5" y1="234.1" x2="82.5" y2="236.8" stroke="#000" stroke-width="0.9"/>
<text x="82.5" y="246" font-size="8.2" text-anchor="middle" fill="#111" stroke="#111" stroke-width="0.24">10</text>
<line x1="96.25" y1="234.1" x2="96.25" y2="236.8" stroke="#000" stroke-width="0.9"/>
<text x="96.25" y="246" font-size="8.2" text-anchor="middle" fill="#111" stroke="#111" stroke-width="0.24">12</text>
<text x="69.27" y="258" font-size="9.6" text-anchor="middle" fill="#111" stroke="#111" stroke-width="0.24" textLength="25.5" lengthAdjust="spacingAndGlyphs">Months</text>
<line x1="41.7" y1="181.16" x2="41.7" y2="174.24" stroke="#111" stroke-width="0.7"/>
<line x1="40.4" y1="174.24" x2="43" y2="174.24" stroke="#111" stroke-width="0.7"/>
<line x1="40.4" y1="181.16" x2="43" y2="181.16" stroke="#111" stroke-width="0.7"/>
<line x1="55.4" y1="186.35" x2="55.4" y2="179.43" stroke="#111" stroke-width="0.7"/>
<line x1="54.1" y1="179.43" x2="56.7" y2="179.43" stroke="#111" stroke-width="0.7"/>
<line x1="54.1" y1="186.35" x2="56.7" y2="186.35" stroke="#111" stroke-width="0.7"/>
<line x1="68.75" y1="199.5" x2="68.75" y2="175.28" stroke="#111" stroke-width="0.7"/>
<line x1="67.45" y1="175.28" x2="70.05" y2="175.28" stroke="#111" stroke-width="0.7"/>
<line x1="67.45" y1="199.5" x2="70.05" y2="199.5" stroke="#111" stroke-width="0.7"/>
<line x1="82.5" y1="204" x2="82.5" y2="190.16" stroke="#111" stroke-width="0.7"/>
<line x1="81.2" y1="190.16" x2="83.8" y2="190.16" stroke="#111" stroke-width="0.7"/>
<line x1="81.2" y1="204" x2="83.8" y2="204" stroke="#111" stroke-width="0.7"/>
<line x1="96.25" y1="182.89" x2="96.25" y2="165.59" stroke="#111" stroke-width="0.7"/>
<line x1="94.95" y1="165.59" x2="97.55" y2="165.59" stroke="#111" stroke-width="0.7"/>
<line x1="94.95" y1="182.89" x2="97.55" y2="182.89" stroke="#111" stroke-width="0.7"/>
<line x1="41.7" y1="187.74" x2="41.7" y2="183.58" stroke="#111" stroke-width="0.7"/>
<line x1="40.4" y1="183.58" x2="43" y2="183.58" stroke="#111" stroke-width="0.7"/>
<line x1="40.4" y1="187.74" x2="43" y2="187.74" stroke="#111" stroke-width="0.7"/>
<line x1="55.4" y1="189.81" x2="55.4" y2="167.67" stroke="#111" stroke-width="0.7"/>
<line x1="54.1" y1="167.67" x2="56.7" y2="167.67" stroke="#111" stroke-width="0.7"/>
<line x1="54.1" y1="189.81" x2="56.7" y2="189.81" stroke="#111" stroke-width="0.7"/>
<line x1="68.75" y1="202.96" x2="68.75" y2="175.28" stroke="#111" stroke-width="0.7"/>
<line x1="67.45" y1="175.28" x2="70.05" y2="175.28" stroke="#111" stroke-width="0.7"/>
<line x1="67.45" y1="202.96" x2="70.05" y2="202.96" stroke="#111" stroke-width="0.7"/>
<line x1="82.5" y1="197.77" x2="82.5" y2="190.85" stroke="#111" stroke-width="0.7"/>
<line x1="81.2" y1="190.85" x2="83.8" y2="190.85" stroke="#111" stroke-width="0.7"/>
<line x1="81.2" y1="197.77" x2="83.8" y2="197.77" stroke="#111" stroke-width="0.7"/>
<line x1="96.25" y1="191.2" x2="96.25" y2="185.66" stroke="#111" stroke-width="0.7"/>
<line x1="94.95" y1="185.66" x2="97.55" y2="185.66" stroke="#111" stroke-width="0.7"/>
<line x1="94.95" y1="191.2" x2="97.55" y2="191.2" stroke="#111" stroke-width="0.7"/>
<line x1="41.7" y1="184.28" x2="41.7" y2="178.74" stroke="#111" stroke-width="0.7"/>
<line x1="40.4" y1="178.74" x2="43" y2="178.74" stroke="#111" stroke-width="0.7"/>
<line x1="40.4" y1="184.28" x2="43" y2="184.28" stroke="#111" stroke-width="0.7"/>
<line x1="55.4" y1="189.47" x2="55.4" y2="183.93" stroke="#111" stroke-width="0.7"/>
<line x1="54.1" y1="183.93" x2="56.7" y2="183.93" stroke="#111" stroke-width="0.7"/>
<line x1="54.1" y1="189.47" x2="56.7" y2="189.47" stroke="#111" stroke-width="0.7"/>
<line x1="68.75" y1="186.7" x2="68.75" y2="181.16" stroke="#111" stroke-width="0.7"/>
<line x1="67.45" y1="181.16" x2="70.05" y2="181.16" stroke="#111" stroke-width="0.7"/>
<line x1="67.45" y1="186.7" x2="70.05" y2="186.7" stroke="#111" stroke-width="0.7"/>
<line x1="82.5" y1="196.04" x2="82.5" y2="182.2" stroke="#111" stroke-width="0.7"/>
<line x1="81.2" y1="182.2" x2="83.8" y2="182.2" stroke="#111" stroke-width="0.7"/>
<line x1="81.2" y1="196.04" x2="83.8" y2="196.04" stroke="#111" stroke-width="0.7"/>
<line x1="96.25" y1="186.7" x2="96.25" y2="181.16" stroke="#111" stroke-width="0.7"/>
<line x1="94.95" y1="181.16" x2="97.55" y2="181.16" stroke="#111" stroke-width="0.7"/>
<line x1="94.95" y1="186.7" x2="97.55" y2="186.7" stroke="#111" stroke-width="0.7"/>
<line x1="41.7" y1="208.5" x2="41.7" y2="204.34" stroke="#111" stroke-width="0.7"/>
<line x1="40.4" y1="204.34" x2="43" y2="204.34" stroke="#111" stroke-width="0.7"/>
<line x1="40.4" y1="208.5" x2="43" y2="208.5" stroke="#111" stroke-width="0.7"/>
<line x1="55.4" y1="209.53" x2="55.4" y2="203.31" stroke="#111" stroke-width="0.7"/>
<line x1="54.1" y1="203.31" x2="56.7" y2="203.31" stroke="#111" stroke-width="0.7"/>
<line x1="54.1" y1="209.53" x2="56.7" y2="209.53" stroke="#111" stroke-width="0.7"/>
<line x1="68.75" y1="215.76" x2="68.75" y2="210.92" stroke="#111" stroke-width="0.7"/>
<line x1="67.45" y1="210.92" x2="70.05" y2="210.92" stroke="#111" stroke-width="0.7"/>
<line x1="67.45" y1="215.76" x2="70.05" y2="215.76" stroke="#111" stroke-width="0.7"/>
<line x1="82.5" y1="215.07" x2="82.5" y2="209.53" stroke="#111" stroke-width="0.7"/>
<line x1="81.2" y1="209.53" x2="83.8" y2="209.53" stroke="#111" stroke-width="0.7"/>
<line x1="81.2" y1="215.07" x2="83.8" y2="215.07" stroke="#111" stroke-width="0.7"/>
<line x1="96.25" y1="214.38" x2="96.25" y2="205.38" stroke="#111" stroke-width="0.7"/>
<line x1="94.95" y1="205.38" x2="97.55" y2="205.38" stroke="#111" stroke-width="0.7"/>
<line x1="94.95" y1="214.38" x2="97.55" y2="214.38" stroke="#111" stroke-width="0.7"/>
<polyline points="41.7,177.7 55.4,182.89 68.75,187.39 82.5,197.08 96.25,174.24" fill="none" stroke="#1d5aa0" stroke-width="1.1"/>
<circle cx="41.7" cy="177.7" r="1.3" fill="#1d5aa0"/>
<circle cx="55.4" cy="182.89" r="1.3" fill="#1d5aa0"/>
<circle cx="68.75" cy="187.39" r="1.3" fill="#1d5aa0"/>
<circle cx="82.5" cy="197.08" r="1.3" fill="#1d5aa0"/>
<circle cx="96.25" cy="174.24" r="1.3" fill="#1d5aa0"/>
<polyline points="41.7,185.66 55.4,178.74 68.75,189.12 82.5,194.31 96.25,188.43" fill="none" stroke="#3cc040" stroke-width="1.1"/>
<circle cx="41.7" cy="185.66" r="1.3" fill="#3cc040"/>
<circle cx="55.4" cy="178.74" r="1.3" fill="#3cc040"/>
<circle cx="68.75" cy="189.12" r="1.3" fill="#3cc040"/>
<circle cx="82.5" cy="194.31" r="1.3" fill="#3cc040"/>
<circle cx="96.25" cy="188.43" r="1.3" fill="#3cc040"/>
<polyline points="41.7,181.51 55.4,186.7 68.75,183.93 82.5,189.12 96.25,183.93" fill="none" stroke="#6a2a90" stroke-width="1.1"/>
<circle cx="41.7" cy="181.51" r="1.3" fill="#6a2a90"/>
<circle cx="55.4" cy="186.7" r="1.3" fill="#6a2a90"/>
<circle cx="68.75" cy="183.93" r="1.3" fill="#6a2a90"/>
<circle cx="82.5" cy="189.12" r="1.3" fill="#6a2a90"/>
<circle cx="96.25" cy="183.93" r="1.3" fill="#6a2a90"/>
<polyline points="41.7,206.42 55.4,206.42 68.75,213.34 82.5,212.3 96.25,209.88" fill="none" stroke="#d21c30" stroke-width="1.1"/>
<circle cx="41.7" cy="206.42" r="1.3" fill="#d21c30"/>
<circle cx="55.4" cy="206.42" r="1.3" fill="#d21c30"/>
<circle cx="68.75" cy="213.34" r="1.3" fill="#d21c30"/>
<circle cx="82.5" cy="212.3" r="1.3" fill="#d21c30"/>
<circle cx="96.25" cy="209.88" r="1.3" fill="#d21c30"/>
<text x="14.8" y="189" font-size="8.2" text-anchor="middle" fill="#111" stroke="#111" stroke-width="0.24" textLength="41.5" lengthAdjust="spacingAndGlyphs" transform="rotate(-90 14.8 189)">WBC (10<tspan font-size="5.5" dy="-3">9</tspan><tspan dy="3">/L)</tspan></text>
<path d="M36.95,199.75h2.5M38.2,198.5v2.5M37.33,198.88l1.75,1.75M39.08,198.88l-1.75,1.75" stroke="#111" stroke-width="0.75"/>
<path d="M40.45,199.75h2.5M41.7,198.5v2.5M40.83,198.88l1.75,1.75M42.58,198.88l-1.75,1.75" stroke="#111" stroke-width="0.75"/>
<path d="M43.95,199.75h2.5M45.2,198.5v2.5M44.33,198.88l1.75,1.75M46.08,198.88l-1.75,1.75" stroke="#111" stroke-width="0.75"/>
<path d="M50.65,199.75h2.5M51.9,198.5v2.5M51.02,198.88l1.75,1.75M52.77,198.88l-1.75,1.75" stroke="#111" stroke-width="0.75"/>
<path d="M54.15,199.75h2.5M55.4,198.5v2.5M54.52,198.88l1.75,1.75M56.27,198.88l-1.75,1.75" stroke="#111" stroke-width="0.75"/>
<path d="M57.65,199.75h2.5M58.9,198.5v2.5M58.02,198.88l1.75,1.75M59.77,198.88l-1.75,1.75" stroke="#111" stroke-width="0.75"/>
<path d="M67.5,206.55h2.5M68.75,205.3v2.5M67.88,205.68l1.75,1.75M69.62,205.68l-1.75,1.75" stroke="#111" stroke-width="0.75"/>
<path d="M81.25,205.75h2.5M82.5,204.5v2.5M81.62,204.88l1.75,1.75M83.38,204.88l-1.75,1.75" stroke="#111" stroke-width="0.75"/>
<path d="M95,200.95h2.5M96.25,199.7v2.5M95.38,200.07l1.75,1.75M97.12,200.07l-1.75,1.75" stroke="#111" stroke-width="0.75"/>
<line x1="142.5" y1="143.75" x2="142.5" y2="234.4" stroke="#000" stroke-width="1"/>
<line x1="139.7" y1="233.9" x2="142.5" y2="233.9" stroke="#000" stroke-width="1"/>
<text x="136.8" y="236.65" font-size="7.2" text-anchor="end" fill="#111" stroke="#111" stroke-width="0.24" textLength="4.45" lengthAdjust="spacingAndGlyphs">0</text>
<line x1="139.7" y1="212.3" x2="142.5" y2="212.3" stroke="#000" stroke-width="1"/>
<text x="136.8" y="215.05" font-size="7.2" text-anchor="end" fill="#111" stroke="#111" stroke-width="0.24" textLength="8.9" lengthAdjust="spacingAndGlyphs">50</text>
<line x1="139.7" y1="190.7" x2="142.5" y2="190.7" stroke="#000" stroke-width="1"/>
<text x="136.8" y="193.45" font-size="7.2" text-anchor="end" fill="#111" stroke="#111" stroke-width="0.24" textLength="13.35" lengthAdjust="spacingAndGlyphs">100</text>
<line x1="139.7" y1="169.1" x2="142.5" y2="169.1" stroke="#000" stroke-width="1"/>
<text x="136.8" y="171.85" font-size="7.2" text-anchor="end" fill="#111" stroke="#111" stroke-width="0.24" textLength="13.35" lengthAdjust="spacingAndGlyphs">150</text>
<line x1="139.7" y1="147.5" x2="142.5" y2="147.5" stroke="#000" stroke-width="1"/>
<text x="136.8" y="150.25" font-size="7.2" text-anchor="end" fill="#111" stroke="#111" stroke-width="0.24" textLength="13.35" lengthAdjust="spacingAndGlyphs">200</text>
<line x1="139.2" y1="233.5" x2="215" y2="233.5" stroke="#000" stroke-width="1"/>
<line x1="150" y1="233.9" x2="150" y2="236.6" stroke="#000" stroke-width="0.9"/>
<text x="150" y="245.8" font-size="8.2" text-anchor="middle" fill="#111" stroke="#111" stroke-width="0.24">2</text>
<line x1="164.5" y1="233.9" x2="164.5" y2="236.6" stroke="#000" stroke-width="0.9"/>
<text x="164.5" y="245.8" font-size="8.2" text-anchor="middle" fill="#111" stroke="#111" stroke-width="0.24">4</text>
<line x1="178.75" y1="233.9" x2="178.75" y2="236.6" stroke="#000" stroke-width="0.9"/>
<text x="178.75" y="245.8" font-size="8.2" text-anchor="middle" fill="#111" stroke="#111" stroke-width="0.24">8</text>
<line x1="193" y1="233.9" x2="193" y2="236.6" stroke="#000" stroke-width="0.9"/>
<text x="193" y="245.8" font-size="8.2" text-anchor="middle" fill="#111" stroke="#111" stroke-width="0.24">10</text>
<line x1="207.5" y1="233.9" x2="207.5" y2="236.6" stroke="#000" stroke-width="0.9"/>
<text x="207.5" y="245.8" font-size="8.2" text-anchor="middle" fill="#111" stroke="#111" stroke-width="0.24">12</text>
<text x="179.05" y="257.8" font-size="9.6" text-anchor="middle" fill="#111" stroke="#111" stroke-width="0.24" textLength="25.5" lengthAdjust="spacingAndGlyphs">Months</text>
<line x1="150" y1="169.1" x2="150" y2="166.51" stroke="#111" stroke-width="0.7"/>
<line x1="148.7" y1="166.51" x2="151.3" y2="166.51" stroke="#111" stroke-width="0.7"/>
<line x1="148.7" y1="169.1" x2="151.3" y2="169.1" stroke="#111" stroke-width="0.7"/>
<line x1="164.5" y1="171.69" x2="164.5" y2="166.51" stroke="#111" stroke-width="0.7"/>
<line x1="163.2" y1="166.51" x2="165.8" y2="166.51" stroke="#111" stroke-width="0.7"/>
<line x1="163.2" y1="171.69" x2="165.8" y2="171.69" stroke="#111" stroke-width="0.7"/>
<line x1="178.75" y1="170.4" x2="178.75" y2="166.08" stroke="#111" stroke-width="0.7"/>
<line x1="177.45" y1="166.08" x2="180.05" y2="166.08" stroke="#111" stroke-width="0.7"/>
<line x1="177.45" y1="170.4" x2="180.05" y2="170.4" stroke="#111" stroke-width="0.7"/>
<line x1="193" y1="175.15" x2="193" y2="164.78" stroke="#111" stroke-width="0.7"/>
<line x1="191.7" y1="164.78" x2="194.3" y2="164.78" stroke="#111" stroke-width="0.7"/>
<line x1="191.7" y1="175.15" x2="194.3" y2="175.15" stroke="#111" stroke-width="0.7"/>
<line x1="207.5" y1="175.58" x2="207.5" y2="171.26" stroke="#111" stroke-width="0.7"/>
<line x1="206.2" y1="171.26" x2="208.8" y2="171.26" stroke="#111" stroke-width="0.7"/>
<line x1="206.2" y1="175.58" x2="208.8" y2="175.58" stroke="#111" stroke-width="0.7"/>
<line x1="150" y1="167.8" x2="150" y2="166.08" stroke="#111" stroke-width="0.7"/>
<line x1="148.7" y1="166.08" x2="151.3" y2="166.08" stroke="#111" stroke-width="0.7"/>
<line x1="148.7" y1="167.8" x2="151.3" y2="167.8" stroke="#111" stroke-width="0.7"/>
<line x1="164.5" y1="169.1" x2="164.5" y2="166.51" stroke="#111" stroke-width="0.7"/>
<line x1="163.2" y1="166.51" x2="165.8" y2="166.51" stroke="#111" stroke-width="0.7"/>
<line x1="163.2" y1="169.1" x2="165.8" y2="169.1" stroke="#111" stroke-width="0.7"/>
<line x1="178.75" y1="167.8" x2="178.75" y2="165.21" stroke="#111" stroke-width="0.7"/>
<line x1="177.45" y1="165.21" x2="180.05" y2="165.21" stroke="#111" stroke-width="0.7"/>
<line x1="177.45" y1="167.8" x2="180.05" y2="167.8" stroke="#111" stroke-width="0.7"/>
<line x1="193" y1="169.53" x2="193" y2="159.16" stroke="#111" stroke-width="0.7"/>
<line x1="191.7" y1="159.16" x2="194.3" y2="159.16" stroke="#111" stroke-width="0.7"/>
<line x1="191.7" y1="169.53" x2="194.3" y2="169.53" stroke="#111" stroke-width="0.7"/>
<line x1="207.5" y1="176.44" x2="207.5" y2="172.12" stroke="#111" stroke-width="0.7"/>
<line x1="206.2" y1="172.12" x2="208.8" y2="172.12" stroke="#111" stroke-width="0.7"/>
<line x1="206.2" y1="176.44" x2="208.8" y2="176.44" stroke="#111" stroke-width="0.7"/>
<line x1="150" y1="169.1" x2="150" y2="166.51" stroke="#111" stroke-width="0.7"/>
<line x1="148.7" y1="166.51" x2="151.3" y2="166.51" stroke="#111" stroke-width="0.7"/>
<line x1="148.7" y1="169.1" x2="151.3" y2="169.1" stroke="#111" stroke-width="0.7"/>
<line x1="164.5" y1="172.56" x2="164.5" y2="168.24" stroke="#111" stroke-width="0.7"/>
<line x1="163.2" y1="168.24" x2="165.8" y2="168.24" stroke="#111" stroke-width="0.7"/>
<line x1="163.2" y1="172.56" x2="165.8" y2="172.56" stroke="#111" stroke-width="0.7"/>
<line x1="178.75" y1="168.24" x2="178.75" y2="161.32" stroke="#111" stroke-width="0.7"/>
<line x1="177.45" y1="161.32" x2="180.05" y2="161.32" stroke="#111" stroke-width="0.7"/>
<line x1="177.45" y1="168.24" x2="180.05" y2="168.24" stroke="#111" stroke-width="0.7"/>
<line x1="193" y1="169.1" x2="193" y2="160.46" stroke="#111" stroke-width="0.7"/>
<line x1="191.7" y1="160.46" x2="194.3" y2="160.46" stroke="#111" stroke-width="0.7"/>
<line x1="191.7" y1="169.1" x2="194.3" y2="169.1" stroke="#111" stroke-width="0.7"/>
<line x1="207.5" y1="181.63" x2="207.5" y2="178.17" stroke="#111" stroke-width="0.7"/>
<line x1="206.2" y1="178.17" x2="208.8" y2="178.17" stroke="#111" stroke-width="0.7"/>
<line x1="206.2" y1="181.63" x2="208.8" y2="181.63" stroke="#111" stroke-width="0.7"/>
<line x1="150" y1="169.96" x2="150" y2="168.24" stroke="#111" stroke-width="0.7"/>
<line x1="148.7" y1="168.24" x2="151.3" y2="168.24" stroke="#111" stroke-width="0.7"/>
<line x1="148.7" y1="169.96" x2="151.3" y2="169.96" stroke="#111" stroke-width="0.7"/>
<line x1="164.5" y1="172.99" x2="164.5" y2="169.53" stroke="#111" stroke-width="0.7"/>
<line x1="163.2" y1="169.53" x2="165.8" y2="169.53" stroke="#111" stroke-width="0.7"/>
<line x1="163.2" y1="172.99" x2="165.8" y2="172.99" stroke="#111" stroke-width="0.7"/>
<line x1="178.75" y1="177.74" x2="178.75" y2="174.28" stroke="#111" stroke-width="0.7"/>
<line x1="177.45" y1="174.28" x2="180.05" y2="174.28" stroke="#111" stroke-width="0.7"/>
<line x1="177.45" y1="177.74" x2="180.05" y2="177.74" stroke="#111" stroke-width="0.7"/>
<line x1="193" y1="185.95" x2="193" y2="175.58" stroke="#111" stroke-width="0.7"/>
<line x1="191.7" y1="175.58" x2="194.3" y2="175.58" stroke="#111" stroke-width="0.7"/>
<line x1="191.7" y1="185.95" x2="194.3" y2="185.95" stroke="#111" stroke-width="0.7"/>
<line x1="207.5" y1="201.07" x2="207.5" y2="188.97" stroke="#111" stroke-width="0.7"/>
<line x1="206.2" y1="188.97" x2="208.8" y2="188.97" stroke="#111" stroke-width="0.7"/>
<line x1="206.2" y1="201.07" x2="208.8" y2="201.07" stroke="#111" stroke-width="0.7"/>
<polyline points="150,167.8 164.5,169.1 178.75,168.24 193,169.96 207.5,173.42" fill="none" stroke="#1d5aa0" stroke-width="1.1"/>
<circle cx="150" cy="167.8" r="1.3" fill="#1d5aa0"/>
<circle cx="164.5" cy="169.1" r="1.3" fill="#1d5aa0"/>
<circle cx="178.75" cy="168.24" r="1.3" fill="#1d5aa0"/>
<circle cx="193" cy="169.96" r="1.3" fill="#1d5aa0"/>
<circle cx="207.5" cy="173.42" r="1.3" fill="#1d5aa0"/>
<polyline points="150,166.94 164.5,167.8 178.75,166.51 193,164.35 207.5,174.28" fill="none" stroke="#3cc040" stroke-width="1.1"/>
<circle cx="150" cy="166.94" r="1.3" fill="#3cc040"/>
<circle cx="164.5" cy="167.8" r="1.3" fill="#3cc040"/>
<circle cx="178.75" cy="166.51" r="1.3" fill="#3cc040"/>
<circle cx="193" cy="164.35" r="1.3" fill="#3cc040"/>
<circle cx="207.5" cy="174.28" r="1.3" fill="#3cc040"/>
<polyline points="150,167.8 164.5,170.4 178.75,164.78 193,164.78 207.5,179.9" fill="none" stroke="#6a2a90" stroke-width="1.1"/>
<circle cx="150" cy="167.8" r="1.3" fill="#6a2a90"/>
<circle cx="164.5" cy="170.4" r="1.3" fill="#6a2a90"/>
<circle cx="178.75" cy="164.78" r="1.3" fill="#6a2a90"/>
<circle cx="193" cy="164.78" r="1.3" fill="#6a2a90"/>
<circle cx="207.5" cy="179.9" r="1.3" fill="#6a2a90"/>
<polyline points="150,169.1 164.5,171.26 178.75,176.01 193,180.76 207.5,195.02" fill="none" stroke="#d21c30" stroke-width="1.1"/>
<circle cx="150" cy="169.1" r="1.3" fill="#d21c30"/>
<circle cx="164.5" cy="171.26" r="1.3" fill="#d21c30"/>
<circle cx="178.75" cy="176.01" r="1.3" fill="#d21c30"/>
<circle cx="193" cy="180.76" r="1.3" fill="#d21c30"/>
<circle cx="207.5" cy="195.02" r="1.3" fill="#d21c30"/>
<text x="118.3" y="188.3" font-size="8.2" text-anchor="middle" fill="#111" stroke="#111" stroke-width="0.24" textLength="31.7" lengthAdjust="spacingAndGlyphs" transform="rotate(-90 118.3 188.3)">Hgb (g/L)</text>
<path d="M204.5,206.25h2.5M205.75,205v2.5M204.88,205.38l1.75,1.75M206.62,205.38l-1.75,1.75" stroke="#111" stroke-width="0.75"/>
<path d="M208,206.25h2.5M209.25,205v2.5M208.38,205.38l1.75,1.75M210.12,205.38l-1.75,1.75" stroke="#111" stroke-width="0.75"/>
<line x1="254.5" y1="143.8" x2="254.5" y2="234.3" stroke="#000" stroke-width="1"/>
<line x1="251.7" y1="233.8" x2="254.5" y2="233.8" stroke="#000" stroke-width="1"/>
<text x="248.8" y="236.55" font-size="7.2" text-anchor="end" fill="#111" stroke="#111" stroke-width="0.24" textLength="4.45" lengthAdjust="spacingAndGlyphs">0</text>
<line x1="251.7" y1="212.1" x2="254.5" y2="212.1" stroke="#000" stroke-width="1"/>
<text x="248.8" y="214.85" font-size="7.2" text-anchor="end" fill="#111" stroke="#111" stroke-width="0.24" textLength="13.35" lengthAdjust="spacingAndGlyphs">500</text>
<line x1="251.7" y1="190.4" x2="254.5" y2="190.4" stroke="#000" stroke-width="1"/>
<text x="248.8" y="193.15" font-size="7.2" text-anchor="end" fill="#111" stroke="#111" stroke-width="0.24" textLength="17.8" lengthAdjust="spacingAndGlyphs">1000</text>
<line x1="251.7" y1="168.7" x2="254.5" y2="168.7" stroke="#000" stroke-width="1"/>
<text x="248.8" y="171.45" font-size="7.2" text-anchor="end" fill="#111" stroke="#111" stroke-width="0.24" textLength="17.8" lengthAdjust="spacingAndGlyphs">1500</text>
<line x1="251.7" y1="147" x2="254.5" y2="147" stroke="#000" stroke-width="1"/>
<text x="248.8" y="149.75" font-size="7.2" text-anchor="end" fill="#111" stroke="#111" stroke-width="0.24" textLength="17.8" lengthAdjust="spacingAndGlyphs">2000</text>
<line x1="251.2" y1="233.5" x2="325" y2="233.5" stroke="#000" stroke-width="1"/>
<line x1="260.3" y1="233.8" x2="260.3" y2="236.5" stroke="#000" stroke-width="0.9"/>
<text x="260.3" y="245.7" font-size="8.2" text-anchor="middle" fill="#111" stroke="#111" stroke-width="0.24">2</text>
<line x1="274.6" y1="233.8" x2="274.6" y2="236.5" stroke="#000" stroke-width="0.9"/>
<text x="274.6" y="245.7" font-size="8.2" text-anchor="middle" fill="#111" stroke="#111" stroke-width="0.24">4</text>
<line x1="289.6" y1="233.8" x2="289.6" y2="236.5" stroke="#000" stroke-width="0.9"/>
<text x="289.6" y="245.7" font-size="8.2" text-anchor="middle" fill="#111" stroke="#111" stroke-width="0.24">8</text>
<line x1="304.2" y1="233.8" x2="304.2" y2="236.5" stroke="#000" stroke-width="0.9"/>
<text x="304.2" y="245.7" font-size="8.2" text-anchor="middle" fill="#111" stroke="#111" stroke-width="0.24">10</text>
<line x1="318.5" y1="233.8" x2="318.5" y2="236.5" stroke="#000" stroke-width="0.9"/>
<text x="318.5" y="245.7" font-size="8.2" text-anchor="middle" fill="#111" stroke="#111" stroke-width="0.24">12</text>
<text x="289.7" y="257.7" font-size="9.6" text-anchor="middle" fill="#111" stroke="#111" stroke-width="0.24" textLength="25.5" lengthAdjust="spacingAndGlyphs">Months</text>
<line x1="260.3" y1="189.1" x2="260.3" y2="180.42" stroke="#111" stroke-width="0.7"/>
<line x1="259" y1="180.42" x2="261.6" y2="180.42" stroke="#111" stroke-width="0.7"/>
<line x1="259" y1="189.1" x2="261.6" y2="189.1" stroke="#111" stroke-width="0.7"/>
<line x1="274.6" y1="211.23" x2="274.6" y2="180.85" stroke="#111" stroke-width="0.7"/>
<line x1="273.3" y1="180.85" x2="275.9" y2="180.85" stroke="#111" stroke-width="0.7"/>
<line x1="273.3" y1="211.23" x2="275.9" y2="211.23" stroke="#111" stroke-width="0.7"/>
<line x1="289.6" y1="191.27" x2="289.6" y2="165.23" stroke="#111" stroke-width="0.7"/>
<line x1="288.3" y1="165.23" x2="290.9" y2="165.23" stroke="#111" stroke-width="0.7"/>
<line x1="288.3" y1="191.27" x2="290.9" y2="191.27" stroke="#111" stroke-width="0.7"/>
<line x1="304.2" y1="180.42" x2="304.2" y2="158.72" stroke="#111" stroke-width="0.7"/>
<line x1="302.9" y1="158.72" x2="305.5" y2="158.72" stroke="#111" stroke-width="0.7"/>
<line x1="302.9" y1="180.42" x2="305.5" y2="180.42" stroke="#111" stroke-width="0.7"/>
<line x1="318.5" y1="183.89" x2="318.5" y2="170" stroke="#111" stroke-width="0.7"/>
<line x1="317.2" y1="170" x2="319.8" y2="170" stroke="#111" stroke-width="0.7"/>
<line x1="317.2" y1="183.89" x2="319.8" y2="183.89" stroke="#111" stroke-width="0.7"/>
<line x1="260.3" y1="184.76" x2="260.3" y2="176.08" stroke="#111" stroke-width="0.7"/>
<line x1="259" y1="176.08" x2="261.6" y2="176.08" stroke="#111" stroke-width="0.7"/>
<line x1="259" y1="184.76" x2="261.6" y2="184.76" stroke="#111" stroke-width="0.7"/>
<line x1="274.6" y1="182.15" x2="274.6" y2="169.13" stroke="#111" stroke-width="0.7"/>
<line x1="273.3" y1="169.13" x2="275.9" y2="169.13" stroke="#111" stroke-width="0.7"/>
<line x1="273.3" y1="182.15" x2="275.9" y2="182.15" stroke="#111" stroke-width="0.7"/>
<line x1="289.6" y1="171.74" x2="289.6" y2="164.79" stroke="#111" stroke-width="0.7"/>
<line x1="288.3" y1="164.79" x2="290.9" y2="164.79" stroke="#111" stroke-width="0.7"/>
<line x1="288.3" y1="171.74" x2="290.9" y2="171.74" stroke="#111" stroke-width="0.7"/>
<line x1="304.2" y1="203.85" x2="304.2" y2="160.45" stroke="#111" stroke-width="0.7"/>
<line x1="302.9" y1="160.45" x2="305.5" y2="160.45" stroke="#111" stroke-width="0.7"/>
<line x1="302.9" y1="203.85" x2="305.5" y2="203.85" stroke="#111" stroke-width="0.7"/>
<line x1="318.5" y1="187.8" x2="318.5" y2="179.12" stroke="#111" stroke-width="0.7"/>
<line x1="317.2" y1="179.12" x2="319.8" y2="179.12" stroke="#111" stroke-width="0.7"/>
<line x1="317.2" y1="187.8" x2="319.8" y2="187.8" stroke="#111" stroke-width="0.7"/>
<line x1="260.3" y1="186.93" x2="260.3" y2="173.91" stroke="#111" stroke-width="0.7"/>
<line x1="259" y1="173.91" x2="261.6" y2="173.91" stroke="#111" stroke-width="0.7"/>
<line x1="259" y1="186.93" x2="261.6" y2="186.93" stroke="#111" stroke-width="0.7"/>
<line x1="274.6" y1="181.29" x2="274.6" y2="168.27" stroke="#111" stroke-width="0.7"/>
<line x1="273.3" y1="168.27" x2="275.9" y2="168.27" stroke="#111" stroke-width="0.7"/>
<line x1="273.3" y1="181.29" x2="275.9" y2="181.29" stroke="#111" stroke-width="0.7"/>
<line x1="289.6" y1="195.17" x2="289.6" y2="177.81" stroke="#111" stroke-width="0.7"/>
<line x1="288.3" y1="177.81" x2="290.9" y2="177.81" stroke="#111" stroke-width="0.7"/>
<line x1="288.3" y1="195.17" x2="290.9" y2="195.17" stroke="#111" stroke-width="0.7"/>
<line x1="304.2" y1="191.7" x2="304.2" y2="174.34" stroke="#111" stroke-width="0.7"/>
<line x1="302.9" y1="174.34" x2="305.5" y2="174.34" stroke="#111" stroke-width="0.7"/>
<line x1="302.9" y1="191.7" x2="305.5" y2="191.7" stroke="#111" stroke-width="0.7"/>
<line x1="318.5" y1="200.82" x2="318.5" y2="179.12" stroke="#111" stroke-width="0.7"/>
<line x1="317.2" y1="179.12" x2="319.8" y2="179.12" stroke="#111" stroke-width="0.7"/>
<line x1="317.2" y1="200.82" x2="319.8" y2="200.82" stroke="#111" stroke-width="0.7"/>
<line x1="260.3" y1="186.93" x2="260.3" y2="173.91" stroke="#111" stroke-width="0.7"/>
<line x1="259" y1="173.91" x2="261.6" y2="173.91" stroke="#111" stroke-width="0.7"/>
<line x1="259" y1="186.93" x2="261.6" y2="186.93" stroke="#111" stroke-width="0.7"/>
<line x1="274.6" y1="194.31" x2="274.6" y2="172.61" stroke="#111" stroke-width="0.7"/>
<line x1="273.3" y1="172.61" x2="275.9" y2="172.61" stroke="#111" stroke-width="0.7"/>
<line x1="273.3" y1="194.31" x2="275.9" y2="194.31" stroke="#111" stroke-width="0.7"/>
<line x1="289.6" y1="205.16" x2="289.6" y2="172.17" stroke="#111" stroke-width="0.7"/>
<line x1="288.3" y1="172.17" x2="290.9" y2="172.17" stroke="#111" stroke-width="0.7"/>
<line x1="288.3" y1="205.16" x2="290.9" y2="205.16" stroke="#111" stroke-width="0.7"/>
<line x1="304.2" y1="215.57" x2="304.2" y2="212.1" stroke="#111" stroke-width="0.7"/>
<line x1="302.9" y1="212.1" x2="305.5" y2="212.1" stroke="#111" stroke-width="0.7"/>
<line x1="302.9" y1="215.57" x2="305.5" y2="215.57" stroke="#111" stroke-width="0.7"/>
<line x1="318.5" y1="219.91" x2="318.5" y2="212.97" stroke="#111" stroke-width="0.7"/>
<line x1="317.2" y1="212.97" x2="319.8" y2="212.97" stroke="#111" stroke-width="0.7"/>
<line x1="317.2" y1="219.91" x2="319.8" y2="219.91" stroke="#111" stroke-width="0.7"/>
<polyline points="260.3,184.76 274.6,196.04 289.6,178.25 304.2,169.57 318.5,176.95" fill="none" stroke="#1d5aa0" stroke-width="1.1"/>
<circle cx="260.3" cy="184.76" r="1.3" fill="#1d5aa0"/>
<circle cx="274.6" cy="196.04" r="1.3" fill="#1d5aa0"/>
<circle cx="289.6" cy="178.25" r="1.3" fill="#1d5aa0"/>
<circle cx="304.2" cy="169.57" r="1.3" fill="#1d5aa0"/>
<circle cx="318.5" cy="176.95" r="1.3" fill="#1d5aa0"/>
<polyline points="260.3,180.42 274.6,175.64 289.6,168.27 304.2,182.15 318.5,183.46" fill="none" stroke="#3cc040" stroke-width="1.1"/>
<circle cx="260.3" cy="180.42" r="1.3" fill="#3cc040"/>
<circle cx="274.6" cy="175.64" r="1.3" fill="#3cc040"/>
<circle cx="289.6" cy="168.27" r="1.3" fill="#3cc040"/>
<circle cx="304.2" cy="182.15" r="1.3" fill="#3cc040"/>
<circle cx="318.5" cy="183.46" r="1.3" fill="#3cc040"/>
<polyline points="260.3,180.42 274.6,174.78 289.6,186.49 304.2,183.02 318.5,189.97" fill="none" stroke="#6a2a90" stroke-width="1.1"/>
<circle cx="260.3" cy="180.42" r="1.3" fill="#6a2a90"/>
<circle cx="274.6" cy="174.78" r="1.3" fill="#6a2a90"/>
<circle cx="289.6" cy="186.49" r="1.3" fill="#6a2a90"/>
<circle cx="304.2" cy="183.02" r="1.3" fill="#6a2a90"/>
<circle cx="318.5" cy="189.97" r="1.3" fill="#6a2a90"/>
<polyline points="260.3,180.42 274.6,183.46 289.6,188.66 304.2,213.84 318.5,216.44" fill="none" stroke="#d21c30" stroke-width="1.1"/>
<circle cx="260.3" cy="180.42" r="1.3" fill="#d21c30"/>
<circle cx="274.6" cy="183.46" r="1.3" fill="#d21c30"/>
<circle cx="289.6" cy="188.66" r="1.3" fill="#d21c30"/>
<circle cx="304.2" cy="213.84" r="1.3" fill="#d21c30"/>
<circle cx="318.5" cy="216.44" r="1.3" fill="#d21c30"/>
<text x="224.7" y="189" font-size="8.2" text-anchor="middle" fill="#111" stroke="#111" stroke-width="0.24" textLength="50" lengthAdjust="spacingAndGlyphs" transform="rotate(-90 224.7 189)">Platelet (10<tspan font-size="5.5" dy="-3">9</tspan><tspan dy="3">/L)</tspan></text>
<path d="M301.2,208.75h2.5M302.45,207.5v2.5M301.57,207.88l1.75,1.75M303.32,207.88l-1.75,1.75" stroke="#111" stroke-width="0.75"/>
<path d="M304.7,208.75h2.5M305.95,207.5v2.5M305.07,207.88l1.75,1.75M306.82,207.88l-1.75,1.75" stroke="#111" stroke-width="0.75"/>
<path d="M315.5,208.75h2.5M316.75,207.5v2.5M315.88,207.88l1.75,1.75M317.62,207.88l-1.75,1.75" stroke="#111" stroke-width="0.75"/>
<path d="M319,208.75h2.5M320.25,207.5v2.5M319.38,207.88l1.75,1.75M321.12,207.88l-1.75,1.75" stroke="#111" stroke-width="0.75"/>
<line x1="325.5" y1="149.7" x2="335.2" y2="149.7" stroke="#1d5aa0" stroke-width="1.1"/>
<circle cx="330.3" cy="149.7" r="1.3" fill="#1d5aa0"/>
<text x="338.5" y="152.6" font-size="8" fill="#111" stroke="#111" stroke-width="0.24">WT</text>
<line x1="325.5" y1="159.6" x2="335.2" y2="159.6" stroke="#3cc040" stroke-width="1.1"/>
<circle cx="330.3" cy="159.6" r="1.3" fill="#3cc040"/>
<text x="338.5" y="162.5" font-size="8" fill="#111" stroke="#111" stroke-width="0.24">Vav-cre</text>
<line x1="325.5" y1="169.5" x2="335.2" y2="169.5" stroke="#6a2a90" stroke-width="1.1"/>
<circle cx="330.3" cy="169.5" r="1.3" fill="#6a2a90"/>
<text x="338.5" y="172.4" font-size="8" fill="#111" stroke="#111" stroke-width="0.24">MH<tspan font-size="5" dy="-3">fl/+</tspan></text>
<line x1="325.5" y1="179.4" x2="335.2" y2="179.4" stroke="#d21c30" stroke-width="1.1"/>
<circle cx="330.3" cy="179.4" r="1.3" fill="#d21c30"/>
<text x="338.5" y="182.3" font-size="8" fill="#111" stroke="#111" stroke-width="0.24">MH-Vav</text>
<text x="371.2" y="136.5" font-size="11.2" font-weight="bold" fill="#000">C</text>
<line x1="407.5" y1="143.5" x2="407.5" y2="234.5" stroke="#000" stroke-width="1"/>
<line x1="404.7" y1="234" x2="407.5" y2="234" stroke="#000" stroke-width="1"/>
<text x="401.8" y="236.75" font-size="7.2" text-anchor="end" fill="#111" stroke="#111" stroke-width="0.24" textLength="4.45" lengthAdjust="spacingAndGlyphs">0</text>
<line x1="404.7" y1="204.8" x2="407.5" y2="204.8" stroke="#000" stroke-width="1"/>
<text x="401.8" y="207.55" font-size="7.2" text-anchor="end" fill="#111" stroke="#111" stroke-width="0.24" textLength="8.9" lengthAdjust="spacingAndGlyphs">20</text>
<line x1="404.7" y1="175.6" x2="407.5" y2="175.6" stroke="#000" stroke-width="1"/>
<text x="401.8" y="178.35" font-size="7.2" text-anchor="end" fill="#111" stroke="#111" stroke-width="0.24" textLength="8.9" lengthAdjust="spacingAndGlyphs">40</text>
<line x1="404.7" y1="146.4" x2="407.5" y2="146.4" stroke="#000" stroke-width="1"/>
<text x="401.8" y="149.15" font-size="7.2" text-anchor="end" fill="#111" stroke="#111" stroke-width="0.24" textLength="8.9" lengthAdjust="spacingAndGlyphs">60</text>
<rect x="413.4" y="175.31" width="11.5" height="58.69" fill="#134f86"/>
<line x1="419.15" y1="175.31" x2="419.15" y2="171.22" stroke="#000" stroke-width="0.85"/>
<line x1="416.62" y1="171.22" x2="421.68" y2="171.22" stroke="#000" stroke-width="1"/>
<rect x="424.9" y="230.35" width="11.5" height="3.65" fill="#c8102e"/>
<line x1="430.65" y1="230.35" x2="430.65" y2="229.18" stroke="#000" stroke-width="0.85"/>
<line x1="428.12" y1="229.18" x2="433.18" y2="229.18" stroke="#000" stroke-width="1"/>
<rect x="442.8" y="188.3" width="11.5" height="45.7" fill="#134f86"/>
<line x1="448.55" y1="188.3" x2="448.55" y2="185.38" stroke="#000" stroke-width="0.85"/>
<line x1="446.02" y1="185.38" x2="451.08" y2="185.38" stroke="#000" stroke-width="1"/>
<rect x="454.3" y="158.96" width="11.5" height="75.04" fill="#c8102e"/>
<line x1="460.05" y1="158.96" x2="460.05" y2="151.66" stroke="#000" stroke-width="0.85"/>
<line x1="457.52" y1="151.66" x2="462.58" y2="151.66" stroke="#000" stroke-width="1"/>
<rect x="472.3" y="197.65" width="11.5" height="36.35" fill="#134f86"/>
<line x1="478.05" y1="197.65" x2="478.05" y2="193.41" stroke="#000" stroke-width="0.85"/>
<line x1="475.52" y1="193.41" x2="480.58" y2="193.41" stroke="#000" stroke-width="1"/>
<rect x="483.8" y="184.65" width="11.5" height="49.35" fill="#c8102e"/>
<line x1="489.55" y1="184.65" x2="489.55" y2="180.13" stroke="#000" stroke-width="0.85"/>
<line x1="487.02" y1="180.13" x2="492.08" y2="180.13" stroke="#000" stroke-width="1"/>
<line x1="407" y1="234.5" x2="500.8" y2="234.5" stroke="#000" stroke-width="1"/>
<line x1="424.9" y1="234" x2="424.9" y2="236.7" stroke="#000" stroke-width="0.9"/>
<text x="427.5" y="243.6" font-size="8" text-anchor="end" fill="#111" stroke="#111" stroke-width="0.24" transform="rotate(-45 427.5 243.6)">B220</text>
<line x1="454.3" y1="234" x2="454.3" y2="236.7" stroke="#000" stroke-width="0.9"/>
<text x="456.9" y="243.6" font-size="8" text-anchor="end" fill="#111" stroke="#111" stroke-width="0.24" transform="rotate(-45 456.9 243.6)">Mac-1</text>
<line x1="483.8" y1="234" x2="483.8" y2="236.7" stroke="#000" stroke-width="0.9"/>
<text x="486.4" y="243.6" font-size="8" text-anchor="end" fill="#111" stroke="#111" stroke-width="0.24" transform="rotate(-45 486.4 243.6)">CD3</text>
<line x1="419.15" y1="168.4" x2="430.65" y2="168.4" stroke="#111" stroke-width="0.9"/>
<path d="M420.15,165.55h2.5M421.4,164.3v2.5M420.52,164.68l1.75,1.75M422.27,164.68l-1.75,1.75" stroke="#111" stroke-width="0.75"/>
<path d="M423.65,165.55h2.5M424.9,164.3v2.5M424.02,164.68l1.75,1.75M425.77,164.68l-1.75,1.75" stroke="#111" stroke-width="0.75"/>
<path d="M427.15,165.55h2.5M428.4,164.3v2.5M427.52,164.68l1.75,1.75M429.27,164.68l-1.75,1.75" stroke="#111" stroke-width="0.75"/>
<line x1="448.55" y1="149.5" x2="460.05" y2="149.5" stroke="#111" stroke-width="0.9"/>
<path d="M449.55,146.65h2.5M450.8,145.4v2.5M449.93,145.78l1.75,1.75M451.68,145.78l-1.75,1.75" stroke="#111" stroke-width="0.75"/>
<path d="M453.05,146.65h2.5M454.3,145.4v2.5M453.43,145.78l1.75,1.75M455.18,145.78l-1.75,1.75" stroke="#111" stroke-width="0.75"/>
<path d="M456.55,146.65h2.5M457.8,145.4v2.5M456.93,145.78l1.75,1.75M458.68,145.78l-1.75,1.75" stroke="#111" stroke-width="0.75"/>
<line x1="478.05" y1="177.2" x2="489.55" y2="177.2" stroke="#111" stroke-width="0.9"/>
<path d="M482.55,174.35h2.5M483.8,173.1v2.5M482.93,173.47l1.75,1.75M484.68,173.47l-1.75,1.75" stroke="#111" stroke-width="0.75"/>
<text x="385.3" y="188.5" font-size="8.2" text-anchor="middle" fill="#111" stroke="#111" stroke-width="0.24" textLength="21.6" lengthAdjust="spacingAndGlyphs" transform="rotate(-90 385.3 188.5)">PB (%)</text>
<rect x="475.1" y="148.5" width="6.4" height="6.4" fill="#134f86"/>
<rect x="475.1" y="158.5" width="6.4" height="6.4" fill="#c8102e"/>
<text x="484.7" y="154.3" font-size="7.8" fill="#111" stroke="#111" stroke-width="0.24">WT</text>
<text x="484.7" y="164.3" font-size="7.8" fill="#111" stroke="#111" stroke-width="0.24">MH-Vav</text>
<text x="6.2" y="280.3" font-size="11.2" font-weight="bold" fill="#000">D</text>
<line x1="41.5" y1="285.6" x2="41.5" y2="377" stroke="#000" stroke-width="1"/>
<line x1="38.7" y1="376.5" x2="41.5" y2="376.5" stroke="#000" stroke-width="1"/>
<text x="35.8" y="379.25" font-size="7.2" text-anchor="end" fill="#111" stroke="#111" stroke-width="0.24" textLength="4.45" lengthAdjust="spacingAndGlyphs">0</text>
<line x1="38.7" y1="359" x2="41.5" y2="359" stroke="#000" stroke-width="1"/>
<text x="35.8" y="361.75" font-size="7.2" text-anchor="end" fill="#111" stroke="#111" stroke-width="0.24" textLength="4.45" lengthAdjust="spacingAndGlyphs">5</text>
<line x1="38.7" y1="341.5" x2="41.5" y2="341.5" stroke="#000" stroke-width="1"/>
<text x="35.8" y="344.25" font-size="7.2" text-anchor="end" fill="#111" stroke="#111" stroke-width="0.24" textLength="8.9" lengthAdjust="spacingAndGlyphs">10</text>
<line x1="38.7" y1="324" x2="41.5" y2="324" stroke="#000" stroke-width="1"/>
<text x="35.8" y="326.75" font-size="7.2" text-anchor="end" fill="#111" stroke="#111" stroke-width="0.24" textLength="8.9" lengthAdjust="spacingAndGlyphs">15</text>
<line x1="38.7" y1="306.5" x2="41.5" y2="306.5" stroke="#000" stroke-width="1"/>
<text x="35.8" y="309.25" font-size="7.2" text-anchor="end" fill="#111" stroke="#111" stroke-width="0.24" textLength="8.9" lengthAdjust="spacingAndGlyphs">20</text>
<line x1="38.7" y1="289" x2="41.5" y2="289" stroke="#000" stroke-width="1"/>
<text x="35.8" y="291.75" font-size="7.2" text-anchor="end" fill="#111" stroke="#111" stroke-width="0.24" textLength="8.9" lengthAdjust="spacingAndGlyphs">25</text>
<rect x="45" y="358.65" width="7.5" height="17.85" fill="#134f86"/>
<line x1="48.75" y1="358.65" x2="48.75" y2="357.6" stroke="#000" stroke-width="0.85"/>
<line x1="46.75" y1="357.6" x2="50.75" y2="357.6" stroke="#000" stroke-width="1"/>
<rect x="52.5" y="311.75" width="7.5" height="64.75" fill="#c8102e"/>
<line x1="56.25" y1="311.75" x2="56.25" y2="303.7" stroke="#000" stroke-width="0.85"/>
<line x1="54.25" y1="303.7" x2="58.25" y2="303.7" stroke="#000" stroke-width="1"/>
<line x1="40.5" y1="376.5" x2="63" y2="376.5" stroke="#000" stroke-width="1"/>
<line x1="48.75" y1="376.5" x2="48.75" y2="379.2" stroke="#000" stroke-width="0.9"/>
<line x1="56.25" y1="376.5" x2="56.25" y2="379.2" stroke="#000" stroke-width="0.9"/>
<text x="51.35" y="386.3" font-size="8" text-anchor="end" fill="#111" stroke="#111" stroke-width="0.24" textLength="11.5" lengthAdjust="spacingAndGlyphs" transform="rotate(-45 51.35 386.3)">WT</text>
<text x="58.85" y="386.3" font-size="8" text-anchor="end" fill="#111" stroke="#111" stroke-width="0.24" textLength="28.5" lengthAdjust="spacingAndGlyphs" transform="rotate(-45 58.85 386.3)">MH-Vav</text>
<line x1="48.9" y1="301" x2="56.1" y2="301" stroke="#111" stroke-width="0.9"/>
<path d="M49.5,298.15h2.5M50.75,296.9v2.5M49.88,297.27l1.75,1.75M51.62,297.27l-1.75,1.75" stroke="#111" stroke-width="0.75"/>
<path d="M53,298.15h2.5M54.25,296.9v2.5M53.38,297.27l1.75,1.75M55.12,297.27l-1.75,1.75" stroke="#111" stroke-width="0.75"/>
<text x="20.1" y="333" font-size="8.2" text-anchor="middle" fill="#111" stroke="#111" stroke-width="0.24" textLength="74.6" lengthAdjust="spacingAndGlyphs" transform="rotate(-90 20.1 333)">BM immature cells (%)</text>
<text x="94.6" y="286.5" font-size="8.4" text-anchor="middle" fill="#111" stroke="#111" stroke-width="0.24" textLength="11.5" lengthAdjust="spacingAndGlyphs">WT</text>
<text x="95" y="347.5" font-size="8.4" text-anchor="middle" fill="#111" stroke="#111" stroke-width="0.24" textLength="28.2" lengthAdjust="spacingAndGlyphs">MH-Vav</text>
<g clip-path="url(#dW)">
<rect x="65.2" y="289.8" width="59.4" height="44.9" fill="#f6f0ee"/>
<ellipse cx="91.9" cy="328.0" rx="4.8" ry="4.2" fill="#c584b8" filter="url(#bl80)"/>
<ellipse cx="102.8" cy="329.2" rx="4.2" ry="3.6" fill="#c584b8" filter="url(#bl80)"/>
<ellipse cx="96.7" cy="324.4" rx="3.0" ry="3.0" fill="#c584b8" filter="url(#bl80)"/>
<ellipse cx="67.6" cy="292.8" rx="2.70" ry="1.94" fill="#74338a" transform="rotate(0 67.6 292.8)"/><ellipse cx="67.6" cy="292.8" rx="1.08" ry="0.78" fill="#c29ac0" transform="rotate(0 67.6 292.8)"/>
<ellipse cx="73.1" cy="297.1" rx="2.95" ry="2.36" fill="#6c3888" transform="rotate(53 73.1 297.1)"/><ellipse cx="73.1" cy="297.1" rx="1.18" ry="0.94" fill="#c29ac0" transform="rotate(53 73.1 297.1)"/>
<ellipse cx="81.0" cy="298.9" rx="3.20" ry="2.82" fill="#643e92" transform="rotate(106 81.0 298.9)"/><ellipse cx="81.0" cy="298.9" rx="1.28" ry="1.13" fill="#c29ac0" transform="rotate(106 81.0 298.9)"/>
<ellipse cx="85.2" cy="293.5" rx="2.70" ry="2.59" fill="#74338a" transform="rotate(159 85.2 293.5)"/><ellipse cx="85.2" cy="293.5" rx="1.08" ry="1.04" fill="#c29ac0" transform="rotate(159 85.2 293.5)"/>
<ellipse cx="101.6" cy="294.7" rx="2.95" ry="2.24" fill="#6c3888" transform="rotate(32 101.6 294.7)"/><ellipse cx="101.6" cy="294.7" rx="1.18" ry="0.90" fill="#c29ac0" transform="rotate(32 101.6 294.7)"/>
<ellipse cx="96.7" cy="303.2" rx="3.20" ry="2.69" fill="#643e92" transform="rotate(85 96.7 303.2)"/><ellipse cx="96.7" cy="303.2" rx="1.28" ry="1.08" fill="#c29ac0" transform="rotate(85 96.7 303.2)"/>
<ellipse cx="107.6" cy="303.2" rx="2.70" ry="2.48" fill="#74338a" transform="rotate(138 107.6 303.2)"/><ellipse cx="107.6" cy="303.2" rx="1.08" ry="0.99" fill="#c29ac0" transform="rotate(138 107.6 303.2)"/>
<ellipse cx="117.9" cy="297.1" rx="2.95" ry="2.12" fill="#6c3888" transform="rotate(11 117.9 297.1)"/><ellipse cx="117.9" cy="297.1" rx="1.18" ry="0.85" fill="#c29ac0" transform="rotate(11 117.9 297.1)"/>
<ellipse cx="121.0" cy="306.2" rx="3.20" ry="2.56" fill="#643e92" transform="rotate(64 121.0 306.2)"/><ellipse cx="121.0" cy="306.2" rx="1.28" ry="1.02" fill="#c29ac0" transform="rotate(64 121.0 306.2)"/>
<ellipse cx="123.4" cy="301.3" rx="2.70" ry="2.38" fill="#74338a" transform="rotate(117 123.4 301.3)"/><ellipse cx="123.4" cy="301.3" rx="1.08" ry="0.95" fill="#c29ac0" transform="rotate(117 123.4 301.3)"/>
<ellipse cx="67.6" cy="307.4" rx="2.95" ry="2.83" fill="#6c3888" transform="rotate(170 67.6 307.4)"/><ellipse cx="67.6" cy="307.4" rx="1.18" ry="1.13" fill="#c29ac0" transform="rotate(170 67.6 307.4)"/>
<ellipse cx="76.1" cy="305.6" rx="3.20" ry="2.43" fill="#643e92" transform="rotate(43 76.1 305.6)"/><ellipse cx="76.1" cy="305.6" rx="1.28" ry="0.97" fill="#c29ac0" transform="rotate(43 76.1 305.6)"/>
<ellipse cx="81.6" cy="309.2" rx="2.70" ry="2.27" fill="#74338a" transform="rotate(96 81.6 309.2)"/><ellipse cx="81.6" cy="309.2" rx="1.08" ry="0.91" fill="#c29ac0" transform="rotate(96 81.6 309.2)"/>
<ellipse cx="88.2" cy="310.4" rx="2.95" ry="2.71" fill="#6c3888" transform="rotate(149 88.2 310.4)"/><ellipse cx="88.2" cy="310.4" rx="1.18" ry="1.09" fill="#c29ac0" transform="rotate(149 88.2 310.4)"/>
<ellipse cx="91.3" cy="307.4" rx="3.20" ry="2.30" fill="#643e92" transform="rotate(22 91.3 307.4)"/><ellipse cx="91.3" cy="307.4" rx="1.28" ry="0.92" fill="#c29ac0" transform="rotate(22 91.3 307.4)"/>
<ellipse cx="100.4" cy="309.8" rx="2.70" ry="2.16" fill="#74338a" transform="rotate(75 100.4 309.8)"/><ellipse cx="100.4" cy="309.8" rx="1.08" ry="0.86" fill="#c29ac0" transform="rotate(75 100.4 309.8)"/>
<ellipse cx="106.4" cy="312.8" rx="2.95" ry="2.60" fill="#6c3888" transform="rotate(128 106.4 312.8)"/><ellipse cx="106.4" cy="312.8" rx="1.18" ry="1.04" fill="#c29ac0" transform="rotate(128 106.4 312.8)"/>
<ellipse cx="110.7" cy="308.0" rx="3.20" ry="3.07" fill="#643e92" transform="rotate(1 110.7 308.0)"/><ellipse cx="110.7" cy="308.0" rx="1.28" ry="1.23" fill="#c29ac0" transform="rotate(1 110.7 308.0)"/>
<ellipse cx="114.9" cy="315.3" rx="2.70" ry="2.05" fill="#74338a" transform="rotate(54 114.9 315.3)"/><ellipse cx="114.9" cy="315.3" rx="1.08" ry="0.82" fill="#c29ac0" transform="rotate(54 114.9 315.3)"/>
<ellipse cx="68.8" cy="317.7" rx="2.95" ry="2.48" fill="#6c3888" transform="rotate(107 68.8 317.7)"/><ellipse cx="68.8" cy="317.7" rx="1.18" ry="0.99" fill="#c29ac0" transform="rotate(107 68.8 317.7)"/>
<ellipse cx="77.3" cy="315.3" rx="3.20" ry="2.94" fill="#643e92" transform="rotate(160 77.3 315.3)"/><ellipse cx="77.3" cy="315.3" rx="1.28" ry="1.18" fill="#c29ac0" transform="rotate(160 77.3 315.3)"/>
<ellipse cx="75.5" cy="320.7" rx="2.70" ry="1.94" fill="#74338a" transform="rotate(33 75.5 320.7)"/><ellipse cx="75.5" cy="320.7" rx="1.08" ry="0.78" fill="#c29ac0" transform="rotate(33 75.5 320.7)"/>
<ellipse cx="87.0" cy="315.3" rx="2.95" ry="2.36" fill="#6c3888" transform="rotate(86 87.0 315.3)"/><ellipse cx="87.0" cy="315.3" rx="1.18" ry="0.94" fill="#c29ac0" transform="rotate(86 87.0 315.3)"/>
<ellipse cx="92.5" cy="314.7" rx="3.20" ry="2.82" fill="#643e92" transform="rotate(139 92.5 314.7)"/><ellipse cx="92.5" cy="314.7" rx="1.28" ry="1.13" fill="#c29ac0" transform="rotate(139 92.5 314.7)"/>
<ellipse cx="95.5" cy="319.5" rx="2.70" ry="2.59" fill="#74338a" transform="rotate(12 95.5 319.5)"/><ellipse cx="95.5" cy="319.5" rx="1.08" ry="1.04" fill="#c29ac0" transform="rotate(12 95.5 319.5)"/>
<ellipse cx="104.0" cy="318.9" rx="2.95" ry="2.24" fill="#6c3888" transform="rotate(65 104.0 318.9)"/><ellipse cx="104.0" cy="318.9" rx="1.18" ry="0.90" fill="#c29ac0" transform="rotate(65 104.0 318.9)"/>
<ellipse cx="107.0" cy="316.5" rx="3.20" ry="2.69" fill="#643e92" transform="rotate(118 107.0 316.5)"/><ellipse cx="107.0" cy="316.5" rx="1.28" ry="1.08" fill="#c29ac0" transform="rotate(118 107.0 316.5)"/>
<ellipse cx="111.3" cy="323.2" rx="2.70" ry="2.48" fill="#74338a" transform="rotate(171 111.3 323.2)"/><ellipse cx="111.3" cy="323.2" rx="1.08" ry="0.99" fill="#c29ac0" transform="rotate(171 111.3 323.2)"/>
<ellipse cx="70.7" cy="329.2" rx="2.95" ry="2.12" fill="#6c3888" transform="rotate(44 70.7 329.2)"/><ellipse cx="70.7" cy="329.2" rx="1.18" ry="0.85" fill="#c29ac0" transform="rotate(44 70.7 329.2)"/>
<ellipse cx="76.1" cy="324.4" rx="3.20" ry="2.56" fill="#643e92" transform="rotate(97 76.1 324.4)"/><ellipse cx="76.1" cy="324.4" rx="1.28" ry="1.02" fill="#c29ac0" transform="rotate(97 76.1 324.4)"/>
<ellipse cx="80.4" cy="328.0" rx="2.70" ry="2.38" fill="#74338a" transform="rotate(150 80.4 328.0)"/><ellipse cx="80.4" cy="328.0" rx="1.08" ry="0.95" fill="#c29ac0" transform="rotate(150 80.4 328.0)"/>
<ellipse cx="96.1" cy="325.0" rx="2.95" ry="2.83" fill="#6c3888" transform="rotate(23 96.1 325.0)"/><ellipse cx="96.1" cy="325.0" rx="1.18" ry="1.13" fill="#c29ac0" transform="rotate(23 96.1 325.0)"/>
<ellipse cx="99.8" cy="324.4" rx="3.20" ry="2.43" fill="#643e92" transform="rotate(76 99.8 324.4)"/><ellipse cx="99.8" cy="324.4" rx="1.28" ry="0.97" fill="#c29ac0" transform="rotate(76 99.8 324.4)"/>
<ellipse cx="114.9" cy="331.6" rx="2.70" ry="2.27" fill="#74338a" transform="rotate(129 114.9 331.6)"/><ellipse cx="114.9" cy="331.6" rx="1.08" ry="0.91" fill="#c29ac0" transform="rotate(129 114.9 331.6)"/>
<ellipse cx="123.4" cy="326.8" rx="2.95" ry="2.71" fill="#6c3888" transform="rotate(2 123.4 326.8)"/><ellipse cx="123.4" cy="326.8" rx="1.18" ry="1.09" fill="#c29ac0" transform="rotate(2 123.4 326.8)"/>
<ellipse cx="79.2" cy="302.5" rx="3.20" ry="2.30" fill="#643e92" transform="rotate(55 79.2 302.5)"/><ellipse cx="79.2" cy="302.5" rx="1.28" ry="0.92" fill="#c29ac0" transform="rotate(55 79.2 302.5)"/>
<ellipse cx="83.4" cy="305.0" rx="2.70" ry="2.16" fill="#74338a" transform="rotate(108 83.4 305.0)"/><ellipse cx="83.4" cy="305.0" rx="1.08" ry="0.86" fill="#c29ac0" transform="rotate(108 83.4 305.0)"/>
<ellipse cx="71.3" cy="312.2" rx="2.95" ry="2.60" fill="#6c3888" transform="rotate(161 71.3 312.2)"/><ellipse cx="71.3" cy="312.2" rx="1.18" ry="1.04" fill="#c29ac0" transform="rotate(161 71.3 312.2)"/>
<ellipse cx="65.8" cy="300.1" rx="3.20" ry="3.07" fill="#643e92" transform="rotate(34 65.8 300.1)"/><ellipse cx="65.8" cy="300.1" rx="1.28" ry="1.23" fill="#c29ac0" transform="rotate(34 65.8 300.1)"/>
<ellipse cx="104.0" cy="290.4" rx="2.70" ry="2.05" fill="#74338a" transform="rotate(87 104.0 290.4)"/><ellipse cx="104.0" cy="290.4" rx="1.08" ry="0.82" fill="#c29ac0" transform="rotate(87 104.0 290.4)"/>
<ellipse cx="73.1" cy="311.0" rx="2.95" ry="2.48" fill="#6c3888" transform="rotate(140 73.1 311.0)"/><ellipse cx="73.1" cy="311.0" rx="1.18" ry="0.99" fill="#c29ac0" transform="rotate(140 73.1 311.0)"/>
<ellipse cx="78.5" cy="318.3" rx="3.20" ry="2.94" fill="#643e92" transform="rotate(13 78.5 318.3)"/><ellipse cx="78.5" cy="318.3" rx="1.28" ry="1.18" fill="#c29ac0" transform="rotate(13 78.5 318.3)"/>
<ellipse cx="84.0" cy="312.8" rx="2.70" ry="1.94" fill="#74338a" transform="rotate(66 84.0 312.8)"/><ellipse cx="84.0" cy="312.8" rx="1.08" ry="0.78" fill="#c29ac0" transform="rotate(66 84.0 312.8)"/>
<ellipse cx="88.8" cy="306.2" rx="2.95" ry="2.36" fill="#6c3888" transform="rotate(119 88.8 306.2)"/><ellipse cx="88.8" cy="306.2" rx="1.18" ry="0.94" fill="#c29ac0" transform="rotate(119 88.8 306.2)"/>
<ellipse cx="94.3" cy="298.9" rx="3.20" ry="2.82" fill="#643e92" transform="rotate(172 94.3 298.9)"/><ellipse cx="94.3" cy="298.9" rx="1.28" ry="1.13" fill="#c29ac0" transform="rotate(172 94.3 298.9)"/>
<ellipse cx="104.0" cy="306.2" rx="2.70" ry="2.59" fill="#74338a" transform="rotate(45 104.0 306.2)"/><ellipse cx="104.0" cy="306.2" rx="1.08" ry="1.04" fill="#c29ac0" transform="rotate(45 104.0 306.2)"/>
<ellipse cx="112.5" cy="312.2" rx="2.95" ry="2.24" fill="#6c3888" transform="rotate(98 112.5 312.2)"/><ellipse cx="112.5" cy="312.2" rx="1.18" ry="0.90" fill="#c29ac0" transform="rotate(98 112.5 312.2)"/>
<ellipse cx="118.5" cy="320.7" rx="3.20" ry="2.69" fill="#643e92" transform="rotate(151 118.5 320.7)"/><ellipse cx="118.5" cy="320.7" rx="1.28" ry="1.08" fill="#c29ac0" transform="rotate(151 118.5 320.7)"/>
<ellipse cx="121.0" cy="312.2" rx="2.70" ry="2.48" fill="#74338a" transform="rotate(24 121.0 312.2)"/><ellipse cx="121.0" cy="312.2" rx="1.08" ry="0.99" fill="#c29ac0" transform="rotate(24 121.0 312.2)"/>
<ellipse cx="65.8" cy="314.1" rx="2.95" ry="2.12" fill="#6c3888" transform="rotate(77 65.8 314.1)"/><ellipse cx="65.8" cy="314.1" rx="1.18" ry="0.85" fill="#c29ac0" transform="rotate(77 65.8 314.1)"/>
<ellipse cx="71.3" cy="323.2" rx="3.20" ry="2.56" fill="#643e92" transform="rotate(130 71.3 323.2)"/><ellipse cx="71.3" cy="323.2" rx="1.28" ry="1.02" fill="#c29ac0" transform="rotate(130 71.3 323.2)"/>
<ellipse cx="83.4" cy="323.2" rx="2.70" ry="2.38" fill="#74338a" transform="rotate(3 83.4 323.2)"/><ellipse cx="83.4" cy="323.2" rx="1.08" ry="0.95" fill="#c29ac0" transform="rotate(3 83.4 323.2)"/>
<ellipse cx="101.6" cy="323.2" rx="2.95" ry="2.83" fill="#6c3888" transform="rotate(56 101.6 323.2)"/><ellipse cx="101.6" cy="323.2" rx="1.18" ry="1.13" fill="#c29ac0" transform="rotate(56 101.6 323.2)"/>
<ellipse cx="108.2" cy="328.0" rx="3.20" ry="2.43" fill="#643e92" transform="rotate(109 108.2 328.0)"/><ellipse cx="108.2" cy="328.0" rx="1.28" ry="0.97" fill="#c29ac0" transform="rotate(109 108.2 328.0)"/>
<ellipse cx="119.2" cy="292.2" rx="2.70" ry="2.27" fill="#74338a" transform="rotate(162 119.2 292.2)"/><ellipse cx="119.2" cy="292.2" rx="1.08" ry="0.91" fill="#c29ac0" transform="rotate(162 119.2 292.2)"/>
<ellipse cx="66.4" cy="290.4" rx="2.95" ry="2.71" fill="#6c3888" transform="rotate(35 66.4 290.4)"/><ellipse cx="66.4" cy="290.4" rx="1.18" ry="1.09" fill="#c29ac0" transform="rotate(35 66.4 290.4)"/>
<circle cx="99.2" cy="298.3" r="2.2" fill="#2a1238"/>
<circle cx="115.5" cy="327.4" r="1.8" fill="#2a1238"/>
<circle cx="67.0" cy="325.0" r="1.7" fill="#2a1238"/>
<circle cx="87.0" cy="331.0" r="2.4" fill="#c8a0c0"/>
</g>
<g clip-path="url(#dM)">
<rect x="65.2" y="349.5" width="59.4" height="45.2" fill="#fbf8f8"/>
<circle cx="100.4" cy="352.8" r="5.09" fill="#6a3e96"/>
<circle cx="101.0" cy="353.4" r="3.16" fill="#9070bc" opacity="0.55"/>
<circle cx="104.6" cy="360.7" r="6.06" fill="#5e4098"/>
<circle cx="105.2" cy="361.3" r="3.76" fill="#9070bc" opacity="0.55"/>
<circle cx="93.1" cy="372.8" r="6.30" fill="#7050a4"/>
<circle cx="93.7" cy="373.4" r="3.91" fill="#9070bc" opacity="0.55"/>
<circle cx="119.8" cy="386.2" r="5.45" fill="#503e96"/>
<circle cx="120.4" cy="386.8" r="3.38" fill="#9070bc" opacity="0.55"/>
<circle cx="119.8" cy="361.9" r="4.36" fill="#9466aa"/>
<circle cx="120.4" cy="362.5" r="2.71" fill="#9070bc" opacity="0.55"/>
<circle cx="73.7" cy="363.2" r="3.00" fill="#7a2a8c"/><circle cx="73.7" cy="363.2" r="1.02" fill="#e6c6e2"/>
<circle cx="84.6" cy="361.3" r="3.20" fill="#7a2a8c"/><circle cx="84.6" cy="361.3" r="1.09" fill="#e6c6e2"/>
<circle cx="91.9" cy="356.5" r="3.40" fill="#7a2a8c"/><circle cx="91.9" cy="356.5" r="1.16" fill="#e6c6e2"/>
<circle cx="96.7" cy="361.9" r="3.00" fill="#7a2a8c"/><circle cx="96.7" cy="361.9" r="1.02" fill="#e6c6e2"/>
<circle cx="101.0" cy="367.4" r="3.20" fill="#7a2a8c"/><circle cx="101.0" cy="367.4" r="1.09" fill="#e6c6e2"/>
<circle cx="82.8" cy="370.4" r="3.40" fill="#7a2a8c"/><circle cx="82.8" cy="370.4" r="1.16" fill="#e6c6e2"/>
<circle cx="84.6" cy="381.9" r="3.00" fill="#7a2a8c"/><circle cx="84.6" cy="381.9" r="1.02" fill="#e6c6e2"/>
<circle cx="90.1" cy="383.2" r="3.20" fill="#7a2a8c"/><circle cx="90.1" cy="383.2" r="1.09" fill="#e6c6e2"/>
<circle cx="94.9" cy="380.1" r="3.40" fill="#7a2a8c"/><circle cx="94.9" cy="380.1" r="1.16" fill="#e6c6e2"/>
<circle cx="84.0" cy="389.8" r="3.00" fill="#7a2a8c"/><circle cx="84.0" cy="389.8" r="1.02" fill="#e6c6e2"/>
<circle cx="94.3" cy="389.2" r="3.20" fill="#7a2a8c"/><circle cx="94.3" cy="389.2" r="1.09" fill="#e6c6e2"/>
<circle cx="99.2" cy="391.6" r="3.40" fill="#7a2a8c"/><circle cx="99.2" cy="391.6" r="1.16" fill="#e6c6e2"/>
<circle cx="77.9" cy="391.6" r="3.00" fill="#7a2a8c"/><circle cx="77.9" cy="391.6" r="1.02" fill="#e6c6e2"/>
<circle cx="120.4" cy="376.5" r="3.20" fill="#7a2a8c"/><circle cx="120.4" cy="376.5" r="1.09" fill="#e6c6e2"/>
<circle cx="113.7" cy="391.0" r="3.40" fill="#7a2a8c"/><circle cx="113.7" cy="391.0" r="1.16" fill="#e6c6e2"/>
<circle cx="122.2" cy="352.8" r="3.00" fill="#7a2a8c"/><circle cx="122.2" cy="352.8" r="1.02" fill="#e6c6e2"/>
<circle cx="88.2" cy="386.8" r="3.20" fill="#7a2a8c"/><circle cx="88.2" cy="386.8" r="1.09" fill="#e6c6e2"/>
<ellipse cx="67.6" cy="351.6" rx="1.8" ry="1.1" fill="#8a3a9a"/>
<ellipse cx="71.3" cy="351.4" rx="1.8" ry="1.1" fill="#8a3a9a"/>
<ellipse cx="73.7" cy="351.9" rx="1.8" ry="1.1" fill="#8a3a9a"/>
</g>
<text x="134.8" y="280.2" font-size="11.2" font-weight="bold" fill="#000">E</text>
<line x1="164.5" y1="288.2" x2="164.5" y2="376" stroke="#000" stroke-width="1"/>
<line x1="161.7" y1="375.5" x2="164.5" y2="375.5" stroke="#000" stroke-width="1"/>
<text x="158.8" y="378.25" font-size="7.2" text-anchor="end" fill="#111" stroke="#111" stroke-width="0.24" textLength="10.9" lengthAdjust="spacingAndGlyphs">0.0</text>
<line x1="161.7" y1="347.2" x2="164.5" y2="347.2" stroke="#000" stroke-width="1"/>
<text x="158.8" y="349.95" font-size="7.2" text-anchor="end" fill="#111" stroke="#111" stroke-width="0.24" textLength="10.9" lengthAdjust="spacingAndGlyphs">0.5</text>
<line x1="161.7" y1="318.9" x2="164.5" y2="318.9" stroke="#000" stroke-width="1"/>
<text x="158.8" y="321.65" font-size="7.2" text-anchor="end" fill="#111" stroke="#111" stroke-width="0.24" textLength="10.9" lengthAdjust="spacingAndGlyphs">1.0</text>
<line x1="161.7" y1="290.6" x2="164.5" y2="290.6" stroke="#000" stroke-width="1"/>
<text x="158.8" y="293.35" font-size="7.2" text-anchor="end" fill="#111" stroke="#111" stroke-width="0.24" textLength="10.9" lengthAdjust="spacingAndGlyphs">1.5</text>
<rect x="168.1" y="350.03" width="7.5" height="25.47" fill="#134f86"/>
<line x1="171.85" y1="350.03" x2="171.85" y2="348.33" stroke="#000" stroke-width="0.85"/>
<line x1="170.2" y1="348.33" x2="173.5" y2="348.33" stroke="#000" stroke-width="1"/>
<rect x="175.6" y="306.45" width="7.5" height="69.05" fill="#c8102e"/>
<line x1="179.35" y1="306.45" x2="179.35" y2="295.69" stroke="#000" stroke-width="0.85"/>
<line x1="177.7" y1="295.69" x2="181" y2="295.69" stroke="#000" stroke-width="1"/>
<rect x="188.7" y="372.67" width="7.5" height="2.83" fill="#134f86"/>
<line x1="192.45" y1="372.67" x2="192.45" y2="372.39" stroke="#000" stroke-width="0.85"/>
<line x1="190.8" y1="372.39" x2="194.1" y2="372.39" stroke="#000" stroke-width="1"/>
<rect x="196.2" y="371.54" width="7.5" height="3.96" fill="#c8102e"/>
<line x1="199.95" y1="371.54" x2="199.95" y2="370.97" stroke="#000" stroke-width="0.85"/>
<line x1="198.3" y1="370.97" x2="201.6" y2="370.97" stroke="#000" stroke-width="1"/>
<rect x="209.3" y="371.54" width="7.5" height="3.96" fill="#134f86"/>
<line x1="213.05" y1="371.54" x2="213.05" y2="370.97" stroke="#000" stroke-width="0.85"/>
<line x1="211.4" y1="370.97" x2="214.7" y2="370.97" stroke="#000" stroke-width="1"/>
<rect x="216.8" y="368.14" width="7.5" height="7.36" fill="#c8102e"/>
<line x1="220.55" y1="368.14" x2="220.55" y2="366.44" stroke="#000" stroke-width="0.85"/>
<line x1="218.9" y1="366.44" x2="222.2" y2="366.44" stroke="#000" stroke-width="1"/>
<rect x="229.9" y="374.37" width="7.5" height="1.13" fill="#134f86"/>
<line x1="233.65" y1="374.37" x2="233.65" y2="374.08" stroke="#000" stroke-width="0.85"/>
<line x1="232" y1="374.08" x2="235.3" y2="374.08" stroke="#000" stroke-width="1"/>
<rect x="237.4" y="369.84" width="7.5" height="5.66" fill="#c8102e"/>
<line x1="241.15" y1="369.84" x2="241.15" y2="369.27" stroke="#000" stroke-width="0.85"/>
<line x1="239.5" y1="369.27" x2="242.8" y2="369.27" stroke="#000" stroke-width="1"/>
<rect x="250.5" y="359.09" width="7.5" height="16.41" fill="#134f86"/>
<line x1="254.25" y1="359.09" x2="254.25" y2="356.82" stroke="#000" stroke-width="0.85"/>
<line x1="252.6" y1="356.82" x2="255.9" y2="356.82" stroke="#000" stroke-width="1"/>
<rect x="258" y="323.99" width="7.5" height="51.51" fill="#c8102e"/>
<line x1="261.75" y1="323.99" x2="261.75" y2="314.37" stroke="#000" stroke-width="0.85"/>
<line x1="260.1" y1="314.37" x2="263.4" y2="314.37" stroke="#000" stroke-width="1"/>
<rect x="271.1" y="363.05" width="7.5" height="12.45" fill="#134f86"/>
<line x1="274.85" y1="363.05" x2="274.85" y2="361.35" stroke="#000" stroke-width="0.85"/>
<line x1="273.2" y1="361.35" x2="276.5" y2="361.35" stroke="#000" stroke-width="1"/>
<rect x="278.6" y="355.12" width="7.5" height="20.38" fill="#c8102e"/>
<line x1="282.35" y1="355.12" x2="282.35" y2="354.56" stroke="#000" stroke-width="0.85"/>
<line x1="280.7" y1="354.56" x2="284" y2="354.56" stroke="#000" stroke-width="1"/>
<rect x="291.7" y="373.24" width="7.5" height="2.26" fill="#134f86"/>
<line x1="295.45" y1="373.24" x2="295.45" y2="372.95" stroke="#000" stroke-width="0.85"/>
<line x1="293.8" y1="372.95" x2="297.1" y2="372.95" stroke="#000" stroke-width="1"/>
<rect x="299.2" y="375.16" width="7.5" height="0.34" fill="#c8102e"/>
<line x1="302.95" y1="375.16" x2="302.95" y2="375.05" stroke="#000" stroke-width="0.85"/>
<line x1="301.3" y1="375.05" x2="304.6" y2="375.05" stroke="#000" stroke-width="1"/>
<line x1="164" y1="375.5" x2="308.7" y2="375.5" stroke="#000" stroke-width="1"/>
<line x1="175.6" y1="375.5" x2="175.6" y2="378.2" stroke="#000" stroke-width="0.9"/>
<text x="178.2" y="385.1" font-size="8" text-anchor="end" fill="#111" stroke="#111" stroke-width="0.24" transform="rotate(-45 178.2 385.1)">LSK</text>
<line x1="196.2" y1="375.5" x2="196.2" y2="378.2" stroke="#000" stroke-width="0.9"/>
<text x="198.8" y="385.1" font-size="8" text-anchor="end" fill="#111" stroke="#111" stroke-width="0.24" transform="rotate(-45 198.8 385.1)">LT-HSC</text>
<line x1="216.8" y1="375.5" x2="216.8" y2="378.2" stroke="#000" stroke-width="0.9"/>
<text x="219.4" y="385.1" font-size="8" text-anchor="end" fill="#111" stroke="#111" stroke-width="0.24" transform="rotate(-45 219.4 385.1)">ST-HSC</text>
<line x1="237.4" y1="375.5" x2="237.4" y2="378.2" stroke="#000" stroke-width="0.9"/>
<text x="240" y="385.1" font-size="8" text-anchor="end" fill="#111" stroke="#111" stroke-width="0.24" transform="rotate(-45 240 385.1)">MPP</text>
<line x1="258" y1="375.5" x2="258" y2="378.2" stroke="#000" stroke-width="0.9"/>
<text x="260.6" y="385.1" font-size="8" text-anchor="end" fill="#111" stroke="#111" stroke-width="0.24" transform="rotate(-45 260.6 385.1)">LRP</text>
<line x1="278.6" y1="375.5" x2="278.6" y2="378.2" stroke="#000" stroke-width="0.9"/>
<text x="281.2" y="385.1" font-size="8" text-anchor="end" fill="#111" stroke="#111" stroke-width="0.24" transform="rotate(-45 281.2 385.1)">LMPP</text>
<line x1="299.2" y1="375.5" x2="299.2" y2="378.2" stroke="#000" stroke-width="0.9"/>
<text x="301.8" y="385.1" font-size="8" text-anchor="end" fill="#111" stroke="#111" stroke-width="0.24" transform="rotate(-45 301.8 385.1)">CLP</text>
<line x1="171.85" y1="294" x2="179.35" y2="294" stroke="#111" stroke-width="0.9"/>
<path d="M172.6,291.15h2.5M173.85,289.9v2.5M172.97,290.27l1.75,1.75M174.72,290.27l-1.75,1.75" stroke="#111" stroke-width="0.75"/>
<path d="M176.1,291.15h2.5M177.35,289.9v2.5M176.47,290.27l1.75,1.75M178.22,290.27l-1.75,1.75" stroke="#111" stroke-width="0.75"/>
<line x1="213.05" y1="361.5" x2="220.55" y2="361.5" stroke="#111" stroke-width="0.9"/>
<path d="M215.55,358.65h2.5M216.8,357.4v2.5M215.93,357.77l1.75,1.75M217.68,357.77l-1.75,1.75" stroke="#111" stroke-width="0.75"/>
<line x1="233.65" y1="365.5" x2="241.15" y2="365.5" stroke="#111" stroke-width="0.9"/>
<path d="M232.65,362.65h2.5M233.9,361.4v2.5M233.03,361.77l1.75,1.75M234.78,361.77l-1.75,1.75" stroke="#111" stroke-width="0.75"/>
<path d="M236.15,362.65h2.5M237.4,361.4v2.5M236.53,361.77l1.75,1.75M238.28,361.77l-1.75,1.75" stroke="#111" stroke-width="0.75"/>
<path d="M239.65,362.65h2.5M240.9,361.4v2.5M240.03,361.77l1.75,1.75M241.78,361.77l-1.75,1.75" stroke="#111" stroke-width="0.75"/>
<line x1="254.25" y1="313.4" x2="261.75" y2="313.4" stroke="#111" stroke-width="0.9"/>
<path d="M255,310.55h2.5M256.25,309.3v2.5M255.38,309.67l1.75,1.75M257.12,309.67l-1.75,1.75" stroke="#111" stroke-width="0.75"/>
<path d="M258.5,310.55h2.5M259.75,309.3v2.5M258.88,309.67l1.75,1.75M260.62,309.67l-1.75,1.75" stroke="#111" stroke-width="0.75"/>
<line x1="274.85" y1="352" x2="282.35" y2="352" stroke="#111" stroke-width="0.9"/>
<path d="M275.6,349.15h2.5M276.85,347.9v2.5M275.98,348.27l1.75,1.75M277.73,348.27l-1.75,1.75" stroke="#111" stroke-width="0.75"/>
<path d="M279.1,349.15h2.5M280.35,347.9v2.5M279.48,348.27l1.75,1.75M281.23,348.27l-1.75,1.75" stroke="#111" stroke-width="0.75"/>
<line x1="295.45" y1="370.3" x2="302.95" y2="370.3" stroke="#111" stroke-width="0.9"/>
<path d="M297.95,367.45h2.5M299.2,366.2v2.5M298.32,366.57l1.75,1.75M300.07,366.57l-1.75,1.75" stroke="#111" stroke-width="0.75"/>
<text x="141.8" y="333.6" font-size="8.2" text-anchor="middle" fill="#111" stroke="#111" stroke-width="0.24" textLength="73" lengthAdjust="spacingAndGlyphs" transform="rotate(-90 141.8 333.6)">Bone marrow cells (%)</text>
<rect x="271.5" y="301.2" width="6.4" height="6.4" fill="#134f86"/>
<rect x="271.5" y="312.1" width="6.4" height="6.4" fill="#c8102e"/>
<text x="281.1" y="307" font-size="7.8" fill="#111" stroke="#111" stroke-width="0.24">WT</text>
<text x="281.1" y="317.9" font-size="7.8" fill="#111" stroke="#111" stroke-width="0.24">MH-Vav</text>
<text x="320.5" y="280.2" font-size="11.2" font-weight="bold" fill="#000">F</text>
<text x="335.2" y="307.5" font-size="9.3" text-anchor="middle" fill="#111" stroke="#111" stroke-width="0.24" textLength="10.4" lengthAdjust="spacingAndGlyphs" transform="rotate(-90 335.2 307.5)">WT</text>
<text x="336.4" y="361.9" font-size="9.3" text-anchor="middle" fill="#111" stroke="#111" stroke-width="0.24" textLength="24.6" lengthAdjust="spacingAndGlyphs" transform="rotate(-90 336.4 361.9)">MH-Vav</text>
<g clip-path="url(#fc5)">
<rect x="348.3" y="283.2" width="47.1" height="46.4" fill="#fff"/>
<path d="M375.0 301.7h0.55M368.3 305.6h0.55M366.7 305.1h0.55M358.0 314.7h0.55M364.9 306.7h0.55M356.4 310.1h0.55M363.6 308.3h0.55M370.1 300.1h0.55M363.2 307.4h0.55M364.7 308.3h0.55M369.1 299.6h0.55M380.7 301.0h0.55M388.1 299.5h0.55M360.5 312.4h0.55M385.1 302.0h0.55M354.7 315.2h0.55M371.6 300.9h0.55M355.0 319.2h0.55M383.4 300.5h0.55M365.0 299.2h0.55M387.4 303.0h0.55M376.4 299.8h0.55M364.6 307.2h0.55M386.8 309.7h0.55M359.6 310.9h0.55M387.3 311.5h0.55M383.9 297.9h0.55M365.4 305.0h0.55M384.5 300.1h0.55M366.1 309.0h0.55M357.2 313.9h0.55M359.3 312.2h0.55M368.2 299.8h0.55M376.3 299.0h0.55M356.7 309.9h0.55M386.1 300.5h0.55M388.7 306.7h0.55M385.1 314.7h0.55M367.9 300.2h0.55M355.9 314.1h0.55M379.3 300.0h0.55M388.7 317.1h0.55M384.9 319.5h0.55M384.9 313.4h0.55M352.5 316.1h0.55M365.4 303.9h0.55M355.8 313.5h0.55M386.1 322.7h0.55M385.1 304.2h0.55M381.2 298.1h0.55M359.6 314.5h0.55M377.8 299.4h0.55M355.0 313.3h0.55M374.3 300.1h0.55M367.2 306.4h0.55M355.9 312.9h0.55M360.6 305.2h0.55M357.1 312.8h0.55M352.9 315.2h0.55M386.9 301.2h0.55M372.3 299.2h0.55M358.2 308.9h0.55M387.7 310.5h0.55M357.9 312.0h0.55M355.0 313.1h0.55M387.8 314.0h0.55M386.3 319.5h0.55M385.6 316.9h0.55M358.5 309.9h0.55M382.1 298.2h0.55M361.5 306.8h0.55M363.5 311.2h0.55M387.1 308.4h0.55M358.9 310.9h0.55M352.3 315.4h0.55M360.5 311.8h0.55M367.1 299.8h0.55M380.5 300.0h0.55M356.1 317.6h0.55M354.5 318.1h0.55M388.3 298.4h0.55M361.2 310.5h0.55M359.5 309.1h0.55M375.6 298.2h0.55M360.8 311.4h0.55M373.5 298.8h0.55M357.1 313.6h0.55M359.6 310.9h0.55M377.9 298.3h0.55M361.4 300.6h0.55M364.4 302.5h0.55M356.6 315.0h0.55M387.5 316.8h0.55M365.5 305.1h0.55M362.0 309.9h0.55M359.0 315.1h0.55M363.8 309.7h0.55M358.9 314.7h0.55M385.1 315.0h0.55M345.3 322.6h0.55M387.2 309.2h0.55M378.4 298.0h0.55M367.7 304.7h0.55M359.8 312.1h0.55M379.3 301.5h0.55M378.7 298.2h0.55M359.9 314.4h0.55M361.5 308.0h0.55M387.1 313.1h0.55M381.0 298.0h0.55M372.1 300.7h0.55M386.1 314.7h0.55M368.4 301.4h0.55M359.8 309.4h0.55M385.6 311.8h0.55M349.4 315.5h0.55M365.8 304.6h0.55M387.7 313.1h0.55M386.6 316.9h0.55M387.2 304.1h0.55M387.8 305.7h0.55M363.9 313.9h0.55M377.9 301.8h0.55M358.5 313.9h0.55M360.2 311.7h0.55M354.0 314.2h0.55M379.4 298.0h0.55M385.4 316.7h0.55M373.8 298.8h0.55M354.2 316.9h0.55M375.3 300.1h0.55M361.0 314.8h0.55M385.9 298.9h0.55M378.1 299.9h0.55M357.9 308.4h0.55M364.8 305.8h0.55M357.0 309.4h0.55M361.6 309.0h0.55M365.3 304.3h0.55M353.6 317.5h0.55" stroke="#3b4fbf" stroke-width="0.65" opacity="0.7"/>
<path d="M349.5,329.8 C352,322 358,311 364,304.5 C368,301 375,300.6 381,301 C384,301.5 384.3,304 384.2,308 L384,324 C383.6,328 382,329.8 380,329.8 Z" fill="#2443b4" filter="url(#bl60)" opacity="1.0"/>
<g filter="url(#bl45)">
<path d="M372.6,328.5 370.8,328.6 364.6,328.4 362.1,328.1 360.6,327.9 359.2,327.4 358.5,326.9 358.3,326.4 359.1,325.8 360.8,325.3 363.3,324.9 367.8,324.6 368.8,324.4 369.5,323.9 369.8,323.4 369.8,322.9 369.5,318.4 369.4,314.7 369.7,312.4 370.2,310.4 371.2,308.2 372.6,306.6 373.3,306.1 374.3,305.6 375.3,305.4 376.1,305.4 377.3,305.8 378.3,306.4 379.2,307.4 379.9,308.7 380.5,310.2 380.8,311.7 380.9,313.4 380.8,315.2 380.2,317.4 379.4,319.2 376.2,323.9 376.0,324.7 376.0,325.9 375.8,326.7 375.4,327.2 374.6,327.8 372.6,328.5Z" fill="#2f7fd0"/>
<path d="M372.1,327.2 370.8,327.4 365.6,327.3 364.1,327.2 363.3,326.9 363.0,326.7 363.0,326.4 363.4,326.2 364.6,326.0 368.3,325.8 369.8,325.5 371.1,325.0 371.8,324.4 371.9,323.9 371.0,321.2 370.6,318.2 370.5,314.9 370.9,312.4 371.7,310.4 372.8,308.9 373.6,308.3 374.3,308.0 375.1,307.9 375.8,307.9 376.8,308.3 377.6,308.9 378.2,309.7 378.7,310.7 379.1,311.9 379.3,313.2 379.3,314.4 379.2,315.9 378.6,317.7 377.7,319.4 376.3,321.3 373.4,324.4 373.5,325.9 373.4,326.4 372.8,326.9 372.1,327.2Z" fill="#3cbfc0"/>
<path d="M374.1,321.8 373.3,321.9 372.8,321.8 372.3,321.3 371.9,320.4 371.3,317.7 371.2,314.7 371.7,312.4 372.6,310.7 373.1,310.1 373.8,309.5 374.6,309.2 375.3,309.2 376.1,309.3 376.8,309.8 377.8,311.1 378.4,312.9 378.5,315.2 378.0,317.2 377.1,318.9 375.6,320.7 374.1,321.8Z" fill="#6cc84e"/>
<path d="M374.3,319.8 373.8,319.8 373.3,319.6 372.6,318.5 372.1,316.7 372.1,314.7 372.5,312.9 373.1,311.7 374.1,310.9 374.6,310.7 375.3,310.6 376.3,311.1 377.1,312.2 377.5,313.7 377.5,315.2 377.2,316.7 376.5,317.9 375.6,319.0 374.3,319.8Z" fill="#dfdc30"/>
<path d="M375.1,318.0 374.3,318.2 373.6,317.8 373.1,316.7 372.9,315.4 373.0,313.9 373.6,312.8 374.3,312.1 375.1,311.9 375.8,312.2 376.3,312.8 376.6,313.7 376.7,314.7 376.6,315.7 376.2,316.7 375.7,317.4 375.1,318.0Z" fill="#f39022"/>
<path d="M374.6,317.0 374.1,316.7 373.8,316.4 373.6,315.7 373.6,314.7 374.1,313.4 374.6,313.0 375.1,313.0 375.5,313.2 375.8,313.6 376.0,314.2 376.0,314.9 375.9,315.7 375.6,316.3 375.1,316.8 374.6,317.0Z" fill="#e3221f"/>
</g>
</g>
<rect x="348.3" y="283.2" width="47.1" height="46.4" fill="none" stroke="#333" stroke-width="0.8"/>
<rect x="350.5" y="292.1" width="11.1" height="37.5" fill="none" stroke="#222" stroke-width="0.7"/>
<line x1="361.6" y1="295.2" x2="378" y2="295.2" stroke="#111" stroke-width="0.8"/>
<path d="M377.7,293.84 L380,295.2 L377.7,296.56 Z" fill="#000"/>
<text x="351" y="290.6" font-size="5.4" fill="#333" stroke="#333" stroke-width="0.24">7.2%</text>
<line x1="344.4" y1="333.3" x2="344.4" y2="313.4" stroke="#000" stroke-width="1"/>
<line x1="343.9" y1="333.3" x2="359.4" y2="333.3" stroke="#000" stroke-width="1"/>
<path d="M342.24,313.74 L344.4,310.1 L346.56,313.74 Z" fill="#000"/>
<path d="M359.06,331.14 L362.7,333.3 L359.06,335.46 Z" fill="#000"/>
<text x="346.8" y="300.5" font-size="8.42" text-anchor="middle" fill="#111" stroke="#111" stroke-width="0.24" textLength="12" lengthAdjust="spacingAndGlyphs" transform="rotate(-90 346.8 300.5)">SSC</text>
<text x="363.7" y="336" font-size="8.42" fill="#111" stroke="#111" stroke-width="0.24" textLength="26" lengthAdjust="spacingAndGlyphs">Lineage</text>
<g clip-path="url(#fc6)">
<rect x="348.3" y="338.1" width="47.1" height="47.4" fill="#fff"/>
<path d="M386.5 367.1h0.55M358.0 362.5h0.55M362.9 362.9h0.55M383.7 352.7h0.55M351.2 375.2h0.55M362.2 358.4h0.55M386.4 371.2h0.55M386.1 372.1h0.55M352.0 368.4h0.55M355.9 362.2h0.55M358.7 364.7h0.55M370.5 353.5h0.55M356.3 367.5h0.55M387.2 363.9h0.55M353.3 364.6h0.55M374.0 351.6h0.55M387.2 353.6h0.55M385.4 372.2h0.55M379.2 352.1h0.55M387.5 372.1h0.55M374.8 352.2h0.55M357.2 362.0h0.55M358.6 363.0h0.55M374.1 351.5h0.55M379.7 353.5h0.55M387.4 361.4h0.55M382.2 352.7h0.55M362.1 362.4h0.55M372.9 352.3h0.55M374.6 351.5h0.55M367.8 355.1h0.55M351.2 373.4h0.55M374.9 353.8h0.55M378.5 352.3h0.55M359.1 363.8h0.55M378.2 352.3h0.55M377.2 353.1h0.55M353.2 369.7h0.55M356.8 364.0h0.55M387.8 358.6h0.55M386.6 361.4h0.55M381.0 352.0h0.55M358.8 364.2h0.55M369.0 353.0h0.55M373.8 352.2h0.55M386.9 372.3h0.55M363.6 362.4h0.55M387.2 363.9h0.55M356.8 367.3h0.55M388.8 369.2h0.55M374.8 352.8h0.55M359.1 362.8h0.55M373.8 349.7h0.55M375.0 353.7h0.55M355.7 360.3h0.55M355.4 361.8h0.55M366.6 354.3h0.55M371.3 353.4h0.55M373.6 353.1h0.55M356.4 362.5h0.55M358.9 359.1h0.55M385.5 352.6h0.55M372.2 350.5h0.55M387.1 354.1h0.55M355.1 372.3h0.55M358.4 362.9h0.55M386.9 365.2h0.55M364.2 357.0h0.55M353.3 375.7h0.55M360.1 358.3h0.55M355.2 364.7h0.55M358.8 364.2h0.55M387.3 363.1h0.55M355.8 369.0h0.55M360.8 367.2h0.55M373.5 353.4h0.55M357.1 362.8h0.55M363.9 357.3h0.55M353.8 368.1h0.55M360.5 357.4h0.55M385.7 353.3h0.55M358.8 367.0h0.55M387.8 353.2h0.55M361.4 365.4h0.55M386.4 351.5h0.55M386.8 365.6h0.55M386.5 357.2h0.55M388.0 367.5h0.55M378.6 354.1h0.55M355.5 366.8h0.55M358.5 362.1h0.55M386.9 372.0h0.55M359.9 365.6h0.55M373.8 352.7h0.55M351.8 371.0h0.55M386.2 376.0h0.55M361.9 360.9h0.55M367.9 356.4h0.55M360.0 359.5h0.55M369.8 352.5h0.55M386.6 362.7h0.55M376.4 350.6h0.55M386.4 351.2h0.55M374.2 353.1h0.55M352.4 373.3h0.55M383.3 352.1h0.55M371.9 352.0h0.55M367.5 354.1h0.55M357.2 362.8h0.55M355.0 369.3h0.55M362.5 354.8h0.55M353.0 364.8h0.55M361.1 360.8h0.55M367.4 352.4h0.55M375.5 351.7h0.55M388.0 356.2h0.55M382.3 352.8h0.55M375.1 351.5h0.55M384.0 354.6h0.55M356.9 366.9h0.55M364.5 354.4h0.55M376.6 351.1h0.55M377.2 352.4h0.55M375.6 351.7h0.55M385.2 358.1h0.55M385.9 371.3h0.55M386.4 361.3h0.55M361.6 361.3h0.55M386.1 362.8h0.55M381.8 352.9h0.55M373.2 352.8h0.55M377.8 353.8h0.55M355.6 369.5h0.55M358.4 360.6h0.55M388.2 373.1h0.55M370.5 354.8h0.55M385.7 360.9h0.55M357.7 366.6h0.55M381.3 352.4h0.55M385.8 353.0h0.55" stroke="#3b4fbf" stroke-width="0.65" opacity="0.7"/>
<path d="M349.3,385.8 L349.3,380 C352,372 357,362 364,357 C369,354 376,353.3 382,353.5 C385,354 385.5,357 385.4,361 L385.2,380 C384.8,384 383.5,385.8 381,385.8 Z" fill="#2443b4" filter="url(#bl60)" opacity="1.0"/>
<g filter="url(#bl45)">
<path d="M357.3,383.1 355.8,383.2 354.1,383.0 352.3,382.5 351.1,382.0 350.2,381.4 349.6,380.6 349.4,379.9 349.7,379.1 350.6,377.9 351.8,376.8 353.1,376.1 354.6,375.5 355.8,375.4 357.1,375.4 361.8,376.0 363.1,375.9 364.1,375.5 364.6,375.1 365.1,374.5 366.0,371.4 367.0,369.4 370.4,364.4 371.3,363.2 372.3,362.2 373.3,361.5 374.3,361.0 376.1,360.8 377.1,360.9 377.8,361.2 379.3,362.4 380.2,363.6 380.9,365.1 381.4,366.9 381.6,368.6 381.4,371.1 380.3,374.9 380.5,377.4 380.2,378.1 379.7,378.6 378.6,379.4 376.8,380.2 373.6,381.4 371.6,382.0 369.6,382.2 365.8,382.0 363.8,382.1 357.3,383.1Z" fill="#2f7fd0"/>
<path d="M358.8,381.9 355.8,382.0 353.6,381.5 352.8,381.1 352.2,380.6 351.9,380.1 351.9,379.4 352.4,378.6 353.3,377.9 354.3,377.3 355.3,377.0 357.3,376.8 362.6,377.0 364.1,376.7 365.3,376.3 366.1,375.7 366.6,375.1 367.5,372.4 368.1,371.2 370.8,366.6 372.3,364.9 373.8,363.9 375.3,363.6 376.8,364.0 377.6,364.4 378.3,365.1 379.1,366.4 379.7,367.9 379.9,369.4 379.8,370.9 379.2,372.9 377.6,375.6 377.2,377.6 376.4,378.6 375.3,379.4 374.1,380.0 372.6,380.6 371.1,381.0 369.1,381.2 364.1,381.2 358.8,381.9Z" fill="#3cbfc0"/>
<path d="M360.1,380.9 357.6,381.1 355.8,381.0 355.1,380.8 354.3,380.4 354.1,380.1 353.9,379.6 354.1,379.1 354.6,378.7 356.1,378.0 357.8,377.8 361.6,377.8 363.3,377.7 364.8,377.4 366.3,376.7 367.2,376.1 368.0,375.1 369.0,372.6 370.9,368.4 371.7,367.1 372.6,366.0 373.8,365.2 374.6,365.0 375.3,364.9 376.6,365.2 377.8,366.3 378.4,367.4 378.9,368.9 378.9,370.4 378.7,371.6 378.3,372.6 377.6,373.6 375.4,375.9 375.2,376.4 374.9,377.9 374.1,378.9 372.3,379.8 370.3,380.4 368.6,380.5 364.1,380.4 360.1,380.9Z" fill="#6cc84e"/>
<path d="M374.3,374.1 372.8,374.0 371.9,373.4 371.5,372.4 371.5,370.9 372.0,368.9 372.8,367.4 373.4,366.9 374.1,366.5 375.3,366.3 376.3,366.6 377.3,367.6 377.8,368.9 377.9,370.4 377.6,371.7 376.8,372.9 375.6,373.8 374.3,374.1ZM369.1,379.4 367.0,379.1 366.6,378.9 366.5,378.6 366.9,378.1 367.7,377.6 369.8,376.6 370.8,376.5 371.3,376.7 371.8,377.1 372.1,377.9 371.6,378.6 370.6,379.1 369.1,379.4Z" fill="#dfdc30"/>
<path d="M375.3,372.6 374.3,372.8 373.6,372.5 372.9,371.9 372.6,370.9 372.7,369.6 373.2,368.6 373.8,367.9 374.8,367.4 375.6,367.5 376.3,368.0 376.8,368.8 377.0,369.6 376.9,370.6 376.6,371.6 376.1,372.2 375.3,372.6Z" fill="#f39022"/>
<path d="M375.3,371.7 374.6,371.8 374.1,371.6 373.6,371.1 373.5,370.6 373.5,369.9 373.8,369.1 374.3,368.6 374.8,368.4 375.3,368.4 375.7,368.6 376.1,369.1 376.2,369.6 376.3,370.1 376.1,370.9 375.7,371.4 375.3,371.7Z" fill="#e3221f"/>
</g>
</g>
<rect x="348.3" y="338.1" width="47.1" height="47.4" fill="none" stroke="#333" stroke-width="0.8"/>
<rect x="350.5" y="347.3" width="11.1" height="38.2" fill="none" stroke="#222" stroke-width="0.7"/>
<line x1="361.6" y1="351.9" x2="378" y2="351.9" stroke="#111" stroke-width="0.8"/>
<path d="M377.7,350.54 L380,351.9 L377.7,353.26 Z" fill="#000"/>
<text x="350.8" y="345.8" font-size="5.4" fill="#333" stroke="#333" stroke-width="0.24">18.2%</text>
<line x1="344" y1="389.6" x2="344" y2="370.3" stroke="#000" stroke-width="1"/>
<line x1="343.5" y1="389.6" x2="357.8" y2="389.6" stroke="#000" stroke-width="1"/>
<path d="M341.84,370.64 L344,367 L346.16,370.64 Z" fill="#000"/>
<path d="M357.46,387.44 L361.1,389.6 L357.46,391.76 Z" fill="#000"/>
<text x="346.4" y="357.7" font-size="8.42" text-anchor="middle" fill="#111" stroke="#111" stroke-width="0.24" textLength="12" lengthAdjust="spacingAndGlyphs" transform="rotate(-90 346.4 357.7)">SSC</text>
<text x="363.7" y="392.3" font-size="8.42" fill="#111" stroke="#111" stroke-width="0.24" textLength="26" lengthAdjust="spacingAndGlyphs">Lineage</text>
<g clip-path="url(#fc7)">
<rect x="405" y="282.5" width="47.2" height="46.6" fill="#fff"/>
<path d="M423.6 321.9h0.55M425.7 316.0h0.55M435.3 317.7h0.55M444.4 308.1h0.55M435.2 312.8h0.55M433.5 311.6h0.55M430.5 310.2h0.55M439.9 317.4h0.55M426.7 324.8h0.55M436.5 308.6h0.55M438.8 302.7h0.55M428.9 315.4h0.55M427.5 320.3h0.55M443.0 321.8h0.55M433.2 331.3h0.55M444.0 316.2h0.55M431.0 327.7h0.55M435.0 320.8h0.55M434.3 312.6h0.55M433.6 314.1h0.55M426.7 318.1h0.55M449.2 319.9h0.55M435.5 320.6h0.55M445.4 318.6h0.55M437.7 317.0h0.55M433.5 326.6h0.55M451.7 308.7h0.55M419.7 322.7h0.55M443.7 312.5h0.55M443.2 320.2h0.55M427.9 308.1h0.55M427.7 310.9h0.55M429.0 310.2h0.55M433.7 311.0h0.55M433.7 317.2h0.55M445.7 318.5h0.55M427.2 312.7h0.55M435.7 320.0h0.55M439.5 323.5h0.55M448.3 316.9h0.55M439.9 324.4h0.55M430.7 316.2h0.55M435.2 320.4h0.55M436.0 321.7h0.55M436.0 317.3h0.55M439.1 316.0h0.55M445.7 307.5h0.55M438.8 322.2h0.55M436.3 308.8h0.55M440.3 308.9h0.55M445.5 314.7h0.55M433.8 313.2h0.55M432.9 321.9h0.55M423.4 302.9h0.55M439.8 320.1h0.55M425.5 323.6h0.55M441.7 307.3h0.55M434.8 326.5h0.55M441.9 310.3h0.55M441.6 318.2h0.55M428.7 315.7h0.55M422.6 321.2h0.55M425.5 325.8h0.55M439.0 312.1h0.55M427.1 317.9h0.55M442.0 326.6h0.55M443.7 319.3h0.55M444.2 313.0h0.55M439.5 317.4h0.55M447.2 313.5h0.55M442.7 322.7h0.55M446.0 308.2h0.55M433.3 312.1h0.55M443.0 311.0h0.55M446.4 305.6h0.55M440.8 317.1h0.55M443.4 326.1h0.55M436.4 310.6h0.55M433.8 303.3h0.55M440.5 314.3h0.55M442.5 313.0h0.55M424.6 321.0h0.55M432.0 315.3h0.55M440.0 340.9h0.55M429.3 321.2h0.55M435.5 315.5h0.55M437.4 328.9h0.55M437.0 325.2h0.55M443.2 324.5h0.55M425.9 323.3h0.55M430.0 319.4h0.55M429.1 313.0h0.55M434.4 320.4h0.55M428.5 313.4h0.55M439.2 326.0h0.55M432.4 315.6h0.55M425.0 332.7h0.55M438.7 319.4h0.55M431.9 331.6h0.55M442.8 311.2h0.55M443.6 309.8h0.55M433.7 312.5h0.55M433.4 313.3h0.55M429.2 318.0h0.55M427.3 309.5h0.55M432.9 323.7h0.55M438.7 319.4h0.55M414.6 314.8h0.55M441.7 310.1h0.55M428.4 317.2h0.55M425.2 334.1h0.55M440.0 318.6h0.55M443.7 311.2h0.55M428.6 315.3h0.55M443.8 316.9h0.55M440.8 321.6h0.55M443.8 321.1h0.55M423.9 307.2h0.55M431.6 319.4h0.55M445.1 317.2h0.55M425.5 312.9h0.55M430.9 324.8h0.55M432.9 321.8h0.55M433.4 319.7h0.55M427.6 305.3h0.55M443.7 323.6h0.55M436.5 317.0h0.55M440.1 311.3h0.55M435.1 326.4h0.55M428.5 328.4h0.55M436.0 326.9h0.55M423.9 319.8h0.55M443.1 320.4h0.55M426.9 317.8h0.55M430.0 309.3h0.55M439.5 313.0h0.55M424.0 321.9h0.55M440.3 302.6h0.55M431.1 328.7h0.55M430.6 319.7h0.55M437.2 314.1h0.55M442.3 320.8h0.55M438.4 309.7h0.55M420.8 301.2h0.55M434.6 318.4h0.55M440.1 328.7h0.55M434.2 318.2h0.55M445.2 319.5h0.55M430.8 323.5h0.55M426.9 315.8h0.55M440.7 315.0h0.55M423.6 321.8h0.55M435.6 318.2h0.55M435.0 322.8h0.55M433.6 324.4h0.55M438.3 328.7h0.55M443.4 324.9h0.55M434.6 320.5h0.55M432.2 336.9h0.55M427.0 321.1h0.55M444.0 311.6h0.55M424.6 315.4h0.55M423.9 310.2h0.55M432.7 327.6h0.55M440.1 320.0h0.55M436.0 309.8h0.55M446.0 314.0h0.55M429.3 321.0h0.55M434.7 316.7h0.55M429.9 315.8h0.55M430.2 322.6h0.55M429.3 319.7h0.55M427.1 315.4h0.55M436.0 306.6h0.55M432.7 319.9h0.55M436.2 316.8h0.55M434.5 312.7h0.55M427.5 319.1h0.55M425.9 324.9h0.55M432.3 297.2h0.55M421.7 319.5h0.55M437.1 320.5h0.55M438.4 324.3h0.55M441.0 330.6h0.55M428.0 323.0h0.55M421.4 317.0h0.55M428.5 328.2h0.55M449.8 323.1h0.55M428.0 319.2h0.55M436.0 321.0h0.55M432.3 323.6h0.55M420.0 328.0h0.55M442.4 309.1h0.55M448.2 310.5h0.55M439.8 305.3h0.55M436.2 325.3h0.55M448.4 311.0h0.55M433.0 329.6h0.55M426.1 326.6h0.55M437.3 321.3h0.55" stroke="#4a5cc0" stroke-width="0.65" opacity="0.55"/>
<path d="M413.1 296.6h0.55M411.0 294.6h0.55M401.8 299.7h0.55M407.4 297.5h0.55M401.3 297.3h0.55M406.0 304.3h0.55M404.7 294.5h0.55M418.4 299.8h0.55M397.1 297.6h0.55M417.9 293.9h0.55M416.6 295.6h0.55M404.9 296.1h0.55M408.6 293.5h0.55M427.4 295.8h0.55M406.6 299.1h0.55M411.3 300.2h0.55M409.9 297.8h0.55M412.4 297.3h0.55M410.3 296.7h0.55M423.5 295.2h0.55M408.0 296.1h0.55M415.8 297.9h0.55M418.3 293.6h0.55M413.6 296.5h0.55M409.8 297.3h0.55M398.1 297.6h0.55M412.8 293.4h0.55M411.1 300.8h0.55M409.1 298.4h0.55M410.2 294.9h0.55M405.4 295.9h0.55M420.8 299.0h0.55M406.9 299.4h0.55M410.9 295.2h0.55M414.8 294.7h0.55M400.9 300.1h0.55M399.1 298.3h0.55M401.2 296.9h0.55M410.4 295.8h0.55M396.7 296.7h0.55M411.5 294.7h0.55M411.3 299.4h0.55M406.8 297.6h0.55M403.9 297.9h0.55M416.2 303.1h0.55M418.1 298.0h0.55M421.6 294.5h0.55M419.2 295.6h0.55M407.5 299.6h0.55M413.4 300.2h0.55M401.8 297.6h0.55M408.2 296.3h0.55M398.7 299.3h0.55M413.3 294.5h0.55M402.6 294.8h0.55M421.5 296.7h0.55M409.6 298.2h0.55M411.9 297.5h0.55M417.0 297.8h0.55M417.9 294.0h0.55M412.3 296.1h0.55M412.6 296.9h0.55M407.5 296.1h0.55M418.4 295.6h0.55M403.4 298.4h0.55M418.6 296.3h0.55M412.8 294.9h0.55M410.6 299.7h0.55M417.5 297.3h0.55M410.1 293.0h0.55" stroke="#3b4fbf" stroke-width="0.65" opacity="0.6"/>
<path d="M404.0,301.5 L414.0,300.5 L424.0,301.0 L428.0,302.5 L428.0,313.5 L423.0,315.0 L423.0,330.0 L404.0,330.0 Z" fill="#2a47b6" filter="url(#bl60)" opacity="1.0"/>
<path d="M424.0,301.5 L434.0,302.0 L440.0,304.0 L442.0,309.0 L440.0,314.0 L424.0,314.5 Z" fill="#3550bc" filter="url(#bl60)" opacity="0.7"/>
<g filter="url(#bl45)">
<path d="M414.0,310.8 411.0,310.7 408.2,310.3 406.3,309.5 405.7,309.0 405.5,308.5 405.9,308.0 406.3,307.8 407.8,307.2 410.2,306.8 413.0,306.7 415.8,306.8 418.2,307.2 419.6,307.8 420.0,308.0 420.3,308.5 420.2,308.8 419.9,309.2 418.5,309.9 416.5,310.4 414.0,310.8ZM415.2,331.0 406.6,331.0 404.8,330.0 403.0,328.4 402.9,323.5 403.0,318.4 404.0,317.4 405.0,316.6 406.8,315.6 408.8,314.9 410.8,314.5 413.0,314.6 415.0,315.0 417.0,315.9 418.6,317.0 420.0,318.5 420.9,320.2 421.4,322.0 421.4,324.0 420.9,325.8 419.9,327.5 418.6,329.0 416.8,330.4 415.2,331.0Z" fill="#2f72cc"/>
<path d="M411.8,330.8 410.5,330.8 409.0,330.6 407.8,330.3 406.5,329.7 405.5,329.1 404.5,328.2 403.6,327.2 403.0,326.1 403.0,320.9 403.8,319.5 405.0,318.2 406.8,317.0 408.5,316.3 410.5,316.0 412.0,316.0 413.8,316.2 415.2,316.7 416.8,317.6 418.0,318.7 419.0,320.0 419.5,321.2 419.8,322.8 419.7,324.2 419.3,325.8 418.6,327.0 417.5,328.2 416.3,329.2 415.0,329.9 413.5,330.5 411.8,330.8Z" fill="#2f98d0"/>
<path d="M411.0,330.0 409.5,329.9 408.0,329.5 406.8,329.0 405.5,328.1 404.5,327.0 403.9,326.0 403.5,324.8 403.4,323.5 403.6,322.2 404.0,321.0 404.8,319.8 405.9,318.8 407.2,317.9 408.5,317.4 410.0,317.0 411.5,316.9 413.0,317.1 414.5,317.6 415.7,318.2 416.7,319.0 417.6,320.0 418.2,321.0 418.6,322.2 418.7,323.5 418.5,324.8 418.0,326.0 417.3,327.0 416.4,328.0 415.2,328.8 414.0,329.4 412.5,329.9 411.0,330.0Z" fill="#4cc0a0"/>
<path d="M411.2,329.0 410.0,329.0 408.8,328.7 407.8,328.3 406.8,327.7 405.9,327.0 405.2,326.0 404.8,325.0 404.6,324.0 404.6,322.8 405.0,321.8 405.5,320.8 406.2,320.0 407.1,319.2 408.2,318.7 409.2,318.3 410.5,318.1 411.8,318.1 413.0,318.4 414.2,318.8 415.2,319.5 416.1,320.2 416.8,321.2 417.1,322.2 417.3,323.2 417.2,324.5 416.8,325.5 416.2,326.5 415.6,327.2 414.6,328.0 413.5,328.5 412.5,328.8 411.2,329.0Z" fill="#9cd040"/>
<path d="M412.0,327.8 410.2,327.9 408.5,327.4 407.0,326.4 406.1,325.0 405.9,323.5 406.3,322.0 407.2,320.7 408.8,319.8 409.8,319.5 410.8,319.4 411.8,319.4 412.8,319.7 413.8,320.1 414.5,320.7 415.2,321.5 415.6,322.2 415.8,323.0 415.8,324.0 415.6,325.0 415.1,325.8 414.5,326.5 413.8,327.1 412.0,327.8Z" fill="#e8d82c"/>
<path d="M411.8,326.3 410.8,326.4 409.7,326.2 408.7,325.8 408.0,325.0 407.7,324.0 407.8,323.0 408.2,322.1 409.0,321.5 410.2,321.1 411.5,321.1 412.8,321.6 413.6,322.5 413.9,323.5 413.7,324.8 412.8,325.8 411.8,326.3Z" fill="#f09020"/>
</g>
<path d="M434.6 309.5h0.55M433.2 302.8h0.55M438.3 305.6h0.55M428.8 309.8h0.55M427.3 313.3h0.55M435.7 311.8h0.55M430.1 307.1h0.55M428.5 304.8h0.55M431.5 311.7h0.55M433.1 312.3h0.55M426.0 305.3h0.55M424.7 313.4h0.55M425.1 308.5h0.55M436.1 304.2h0.55M428.3 303.3h0.55M435.7 308.2h0.55M434.9 309.5h0.55M429.6 311.2h0.55M432.1 314.2h0.55M438.8 309.5h0.55M437.4 311.1h0.55M440.3 312.3h0.55M435.6 305.7h0.55M432.9 305.1h0.55M430.1 307.5h0.55M431.6 305.3h0.55M429.5 305.5h0.55M427.4 309.1h0.55M425.7 304.7h0.55M427.1 310.7h0.55M429.0 302.8h0.55M438.8 307.2h0.55M438.5 305.7h0.55M430.2 308.8h0.55M425.3 314.2h0.55M426.4 313.4h0.55M435.9 311.4h0.55M427.8 313.1h0.55M433.6 306.9h0.55M427.5 303.7h0.55M431.5 310.9h0.55M436.6 307.9h0.55M432.6 308.7h0.55M430.2 311.2h0.55M431.5 308.1h0.55M427.3 314.2h0.55M425.4 310.8h0.55M435.9 306.0h0.55M428.9 305.9h0.55M435.6 309.2h0.55M436.8 312.7h0.55M424.3 308.8h0.55M431.2 310.5h0.55M433.5 306.0h0.55M424.1 305.5h0.55M432.0 305.9h0.55M430.8 310.0h0.55M430.0 312.6h0.55M430.5 307.1h0.55M431.8 313.2h0.55M434.9 314.0h0.55M424.1 313.9h0.55M427.5 313.2h0.55M424.8 312.6h0.55M435.4 310.4h0.55M431.0 306.5h0.55M426.8 303.3h0.55M435.2 305.9h0.55M424.5 303.7h0.55M427.1 304.0h0.55M432.2 313.3h0.55M434.5 311.1h0.55M425.9 310.5h0.55M436.8 309.4h0.55M438.3 310.9h0.55M437.1 306.1h0.55M425.4 303.3h0.55M436.2 305.6h0.55M438.7 307.7h0.55M429.3 304.8h0.55M430.4 306.3h0.55M428.1 304.3h0.55M435.2 310.6h0.55M430.0 313.7h0.55M429.3 304.0h0.55M424.8 304.9h0.55M425.1 309.7h0.55M441.1 311.0h0.55M433.9 313.8h0.55M433.5 303.8h0.55M438.0 313.9h0.55M425.1 308.1h0.55M428.1 313.3h0.55M425.7 312.0h0.55M427.7 309.8h0.55M436.5 311.4h0.55M425.0 307.8h0.55M426.3 303.1h0.55M426.9 303.4h0.55M440.8 308.8h0.55M428.6 307.8h0.55M425.0 304.3h0.55M435.3 310.5h0.55M432.4 311.3h0.55M428.5 312.7h0.55M424.2 311.9h0.55M433.0 312.1h0.55M433.4 312.3h0.55M436.8 309.8h0.55M440.7 308.3h0.55M436.7 310.2h0.55M431.1 308.3h0.55M441.5 307.8h0.55M434.3 310.5h0.55M431.1 302.6h0.55M438.3 311.3h0.55M430.9 302.8h0.55M439.1 311.6h0.55M439.0 312.1h0.55M428.7 309.6h0.55" stroke="#2a40b0" stroke-width="0.65" opacity="0.5"/>
</g>
<rect x="405" y="282.5" width="47.2" height="46.6" fill="none" stroke="#333" stroke-width="0.8"/>
<line x1="425.6" y1="282.5" x2="425.6" y2="329.1" stroke="#444" stroke-width="0.7"/>
<line x1="405" y1="313.5" x2="452.2" y2="313.5" stroke="#444" stroke-width="0.7"/>
<text x="407" y="288.1" font-size="5.4" fill="#333" stroke="#333" stroke-width="0.24">16.6%</text>
<text x="450" y="288.1" font-size="5.4" text-anchor="end" fill="#333" stroke="#333" stroke-width="0.24">4.3%</text>
<text x="407" y="327.3" font-size="5.4" fill="#333" stroke="#333" stroke-width="0.24">67.5%</text>
<text x="450" y="327.3" font-size="5.4" text-anchor="end" fill="#333" stroke="#333" stroke-width="0.24">11.6%</text>
<line x1="436.9" y1="293.1" x2="453" y2="293.1" stroke="#111" stroke-width="0.8"/>
<path d="M452.7,291.74 L455,293.1 L452.7,294.46 Z" fill="#000"/>
<text x="449.5" y="299.2" font-size="6.6" text-anchor="end" fill="#222" stroke="#222" stroke-width="0.24" textLength="11" lengthAdjust="spacingAndGlyphs">LSK</text>
<line x1="400.6" y1="334.4" x2="400.6" y2="313.6" stroke="#000" stroke-width="1"/>
<line x1="400.1" y1="334.4" x2="422" y2="334.4" stroke="#000" stroke-width="1"/>
<path d="M398.44,313.94 L400.6,310.3 L402.76,313.94 Z" fill="#000"/>
<path d="M421.66,332.24 L425.3,334.4 L421.66,336.56 Z" fill="#000"/>
<text x="403" y="301" font-size="8.42" text-anchor="middle" fill="#111" stroke="#111" stroke-width="0.24" textLength="12" lengthAdjust="spacingAndGlyphs" transform="rotate(-90 403 301)">cKit</text>
<text x="427.75" y="337.1" font-size="8.42" fill="#111" stroke="#111" stroke-width="0.24" textLength="17.5" lengthAdjust="spacingAndGlyphs">Sca-1</text>
<g clip-path="url(#fc8)">
<rect x="404.75" y="338.1" width="47.45" height="47.3" fill="#fff"/>
<path d="M446.6 371.9h0.55M447.3 380.6h0.55M430.9 356.2h0.55M432.3 355.5h0.55M435.1 358.7h0.55M453.2 359.1h0.55M432.7 357.1h0.55M444.7 375.2h0.55M449.6 376.2h0.55M448.8 370.9h0.55M443.0 357.7h0.55M446.8 376.1h0.55M447.8 356.5h0.55M447.2 373.8h0.55M449.2 371.5h0.55M444.7 379.8h0.55M442.5 357.6h0.55M432.2 357.0h0.55M443.5 357.6h0.55M438.5 356.3h0.55M448.2 382.4h0.55M439.8 359.8h0.55M436.4 358.2h0.55M444.4 372.9h0.55M438.0 356.7h0.55M443.6 354.1h0.55M447.2 366.2h0.55M447.2 374.8h0.55M437.7 356.4h0.55M432.9 357.8h0.55M445.6 375.2h0.55M444.1 381.8h0.55M444.9 380.3h0.55M446.1 375.9h0.55M439.1 358.0h0.55M440.0 359.0h0.55M448.4 376.9h0.55M450.3 355.9h0.55M449.7 372.5h0.55M430.9 357.7h0.55M446.6 384.1h0.55M446.0 372.4h0.55M441.4 354.1h0.55M443.1 355.5h0.55M449.9 384.0h0.55M447.0 360.6h0.55M447.4 373.3h0.55M448.5 369.9h0.55M432.7 356.8h0.55M445.1 384.7h0.55M445.5 367.3h0.55M439.7 355.1h0.55M446.1 371.0h0.55M446.0 370.2h0.55M447.6 357.7h0.55M431.8 356.3h0.55M444.6 356.0h0.55M447.2 371.8h0.55M448.1 370.7h0.55M446.7 365.8h0.55M447.7 365.3h0.55M450.7 357.0h0.55M446.5 377.7h0.55M446.8 372.6h0.55M446.9 366.8h0.55M445.1 367.0h0.55M447.0 356.0h0.55M437.5 356.3h0.55M448.4 386.2h0.55M445.1 375.9h0.55M440.7 356.5h0.55M443.1 355.0h0.55M448.7 373.6h0.55M445.0 383.4h0.55M448.7 380.3h0.55M431.1 356.6h0.55M445.9 376.5h0.55M448.3 354.1h0.55M447.0 371.1h0.55M449.0 371.7h0.55M444.4 370.6h0.55M444.9 366.4h0.55M447.1 368.6h0.55M447.6 361.1h0.55M454.2 358.9h0.55M444.4 355.0h0.55M442.6 365.8h0.55M446.5 388.0h0.55M448.0 356.2h0.55M449.5 380.8h0.55M447.0 380.7h0.55M442.0 356.0h0.55M432.8 356.8h0.55M446.1 354.9h0.55M443.7 375.9h0.55M423.3 359.8h0.55M446.1 377.2h0.55M450.8 361.6h0.55M433.6 360.4h0.55M438.3 356.8h0.55" stroke="#3b4fbf" stroke-width="0.65" opacity="0.6"/>
<path d="M404.0,359.0 L415.0,358.0 L428.0,358.0 L428.0,386.0 L404.0,386.0 Z" fill="#2645b4" filter="url(#bl60)" opacity="1.0"/>
<path d="M427.0,358.0 L437.0,358.5 L443.0,360.0 L446.0,366.0 L447.0,376.0 L447.5,386.0 L427.0,386.0 Z" fill="#3550bc" filter="url(#bl60)" opacity="0.72"/>
<g filter="url(#bl45)">
<path d="M419.5,387.4 413.0,387.5 406.4,387.4 404.5,385.9 403.1,384.4 402.7,383.6 402.8,375.2 404.0,373.6 405.8,372.1 407.8,370.9 411.4,369.4 411.5,369.1 410.5,368.6 405.0,367.2 402.8,366.5 402.8,363.7 405.5,362.9 409.0,362.5 413.0,362.2 417.2,362.2 421.5,362.5 425.0,363.1 427.7,363.9 428.8,364.6 428.9,365.1 428.6,365.6 427.8,366.1 426.5,366.6 423.8,367.3 416.6,368.6 415.0,369.1 415.0,369.4 415.4,369.6 419.0,371.3 420.2,372.1 421.5,373.1 422.5,374.1 423.2,375.1 423.8,376.4 424.3,377.6 424.5,378.9 424.4,380.4 424.1,381.9 423.6,383.1 422.9,384.4 421.9,385.6 420.7,386.6 419.5,387.4Z" fill="#2f7fd0"/>
<path d="M417.0,366.9 413.5,367.0 410.2,366.7 407.5,365.9 406.8,365.6 406.5,365.1 406.8,364.6 407.2,364.4 408.8,363.9 411.2,363.5 414.2,363.3 417.5,363.4 420.2,363.7 422.2,364.2 423.1,364.6 423.3,364.9 423.2,365.4 422.9,365.6 421.6,366.1 419.5,366.6 417.0,366.9ZM414.8,387.1 413.2,387.3 411.5,387.2 409.8,386.8 408.2,386.2 406.9,385.4 405.7,384.4 404.8,383.1 404.1,381.9 403.8,380.6 403.7,379.1 404.0,377.6 404.5,376.4 405.3,375.1 406.3,374.1 407.5,373.2 409.0,372.5 410.8,372.0 412.8,371.7 414.8,371.9 416.8,372.4 418.5,373.2 420.0,374.4 421.1,375.6 421.9,377.1 422.2,378.6 422.3,380.4 421.9,381.9 421.1,383.4 420.0,384.6 418.5,385.8 416.8,386.6 414.8,387.1Z" fill="#40c0b0"/>
<path d="M413.8,385.4 412.2,385.4 411.0,385.1 409.8,384.7 408.8,384.2 407.8,383.4 407.0,382.6 406.4,381.6 406.1,380.6 405.9,379.4 406.1,378.4 406.4,377.4 407.0,376.4 407.8,375.6 408.8,374.8 410.0,374.2 411.2,373.8 412.5,373.6 414.0,373.7 415.5,374.0 416.8,374.5 417.8,375.1 418.8,376.1 419.5,377.1 419.9,378.4 420.1,379.6 419.9,380.9 419.5,381.9 418.8,382.9 417.8,383.9 416.5,384.6 415.2,385.1 413.8,385.4Z" fill="#8fd040"/>
<path d="M414.2,383.1 412.5,383.3 411.0,382.9 409.8,382.2 408.9,381.1 408.5,379.9 408.5,379.1 408.7,378.4 409.5,377.1 410.5,376.3 412.2,375.8 413.2,375.7 414.2,375.9 415.9,376.6 416.5,377.1 417.1,377.9 417.4,378.6 417.5,379.4 417.4,380.4 417.1,381.1 416.6,381.9 416.0,382.4 415.2,382.8 414.2,383.1Z" fill="#d6d830"/>
</g>
<path d="M440.6 380.3h0.55M428.5 378.7h0.55M427.5 366.4h0.55M444.4 374.0h0.55M446.1 382.1h0.55M435.7 365.9h0.55M431.2 359.2h0.55M441.7 380.6h0.55M428.0 371.8h0.55M444.0 375.9h0.55M435.5 384.6h0.55M435.7 366.7h0.55M437.2 367.7h0.55M435.0 371.9h0.55M428.6 374.9h0.55M438.9 377.9h0.55M432.0 359.1h0.55M441.5 368.3h0.55M439.3 365.6h0.55M434.1 365.4h0.55M437.1 376.1h0.55M431.8 366.9h0.55M436.5 377.5h0.55M434.6 359.7h0.55M437.6 370.7h0.55M427.9 376.0h0.55M428.7 368.4h0.55M427.7 374.8h0.55M430.5 384.4h0.55M431.0 385.1h0.55M445.7 372.5h0.55M436.5 368.9h0.55M442.4 363.3h0.55M434.3 359.6h0.55M435.8 363.4h0.55M445.9 370.6h0.55M431.6 365.7h0.55M430.7 360.5h0.55M428.1 378.1h0.55M429.2 381.6h0.55M446.8 383.6h0.55M430.6 380.2h0.55M439.2 384.5h0.55M433.0 374.9h0.55M439.6 363.3h0.55M439.3 378.3h0.55M443.5 382.0h0.55M427.5 379.2h0.55M433.7 379.4h0.55M430.1 368.5h0.55M435.3 377.5h0.55M439.6 380.8h0.55M427.1 366.0h0.55M442.1 364.7h0.55M444.3 366.7h0.55M440.7 359.5h0.55M435.4 368.9h0.55M433.2 373.0h0.55M437.8 380.2h0.55M446.9 380.4h0.55M441.8 363.5h0.55M431.4 358.3h0.55M428.9 379.9h0.55M428.2 365.5h0.55M434.9 362.4h0.55M434.0 365.1h0.55M435.4 363.0h0.55M427.5 383.4h0.55M442.2 379.6h0.55M432.2 384.3h0.55M444.1 369.4h0.55M432.9 380.2h0.55M427.4 374.0h0.55M444.8 383.5h0.55M446.0 370.0h0.55M427.3 367.8h0.55M432.5 374.2h0.55M441.9 385.4h0.55M433.5 368.2h0.55M428.8 381.3h0.55M437.2 364.5h0.55M437.3 371.6h0.55M443.8 364.4h0.55M437.4 370.5h0.55M429.1 361.9h0.55M431.9 370.2h0.55M438.4 378.9h0.55M443.0 367.3h0.55M442.0 377.2h0.55M427.4 382.4h0.55M427.9 371.8h0.55M431.5 374.6h0.55M430.7 375.1h0.55M442.8 374.6h0.55M444.2 368.7h0.55M440.7 370.5h0.55M441.3 360.8h0.55M443.0 364.2h0.55M428.4 382.4h0.55M438.8 381.7h0.55M443.2 360.6h0.55M429.0 378.0h0.55M444.3 363.0h0.55M442.8 375.6h0.55M434.9 368.7h0.55M433.3 371.3h0.55M437.3 362.6h0.55M427.3 372.8h0.55M430.9 360.8h0.55M432.2 362.0h0.55M444.7 366.1h0.55M440.6 384.7h0.55M442.5 379.4h0.55M435.6 371.4h0.55M437.4 378.4h0.55M433.9 371.2h0.55M427.7 377.1h0.55M430.4 365.2h0.55M431.6 378.1h0.55M435.2 385.8h0.55M443.4 383.9h0.55M441.1 364.4h0.55M433.6 368.2h0.55M431.2 371.1h0.55M443.2 372.6h0.55M430.4 378.5h0.55M429.9 378.5h0.55M438.1 380.6h0.55M439.4 382.4h0.55M427.3 376.2h0.55M439.3 379.8h0.55M431.5 374.4h0.55M432.5 379.1h0.55M428.6 362.4h0.55M446.4 378.7h0.55M432.2 366.7h0.55M435.9 364.5h0.55M429.9 385.2h0.55M431.3 378.9h0.55M441.7 378.6h0.55M433.2 364.2h0.55M439.6 385.9h0.55M435.0 364.1h0.55M437.4 363.3h0.55M434.1 378.6h0.55M432.0 370.6h0.55M440.2 362.5h0.55M430.0 385.0h0.55M444.8 382.8h0.55M438.7 372.1h0.55M429.2 364.7h0.55M429.3 372.9h0.55M435.9 362.8h0.55M429.0 374.1h0.55M429.9 358.4h0.55M431.6 380.5h0.55M440.5 372.5h0.55M431.6 371.1h0.55M427.2 367.1h0.55M436.8 360.6h0.55M438.9 370.4h0.55M428.1 362.1h0.55M437.0 383.1h0.55M428.2 373.7h0.55M432.8 368.9h0.55M445.9 375.6h0.55M432.8 370.6h0.55M447.1 382.3h0.55M435.7 372.8h0.55M436.4 362.2h0.55M431.5 361.1h0.55M446.3 383.6h0.55M440.1 372.8h0.55M438.9 368.4h0.55M445.2 373.6h0.55M444.5 377.4h0.55M440.9 376.8h0.55M442.9 380.8h0.55M441.0 367.0h0.55M432.4 363.5h0.55" stroke="#2a40b0" stroke-width="0.65" opacity="0.5"/>
</g>
<rect x="404.75" y="338.1" width="47.45" height="47.3" fill="none" stroke="#333" stroke-width="0.8"/>
<line x1="426.25" y1="338.1" x2="426.25" y2="385.4" stroke="#444" stroke-width="0.7"/>
<line x1="404.75" y1="369.75" x2="452.2" y2="369.75" stroke="#444" stroke-width="0.7"/>
<text x="407" y="344" font-size="5.4" fill="#333" stroke="#333" stroke-width="0.24">17.6%</text>
<text x="450" y="344" font-size="5.4" text-anchor="end" fill="#333" stroke="#333" stroke-width="0.24">9.1%</text>
<text x="407" y="383.6" font-size="5.4" fill="#333" stroke="#333" stroke-width="0.24">64%</text>
<text x="450" y="383.6" font-size="5.4" text-anchor="end" fill="#333" stroke="#333" stroke-width="0.24">9.3%</text>
<line x1="436.9" y1="351" x2="453" y2="351" stroke="#111" stroke-width="0.8"/>
<path d="M452.7,349.64 L455,351 L452.7,352.36 Z" fill="#000"/>
<line x1="400.6" y1="390.2" x2="400.6" y2="369.3" stroke="#000" stroke-width="1"/>
<line x1="400.1" y1="390.2" x2="422" y2="390.2" stroke="#000" stroke-width="1"/>
<path d="M398.44,369.64 L400.6,366 L402.76,369.64 Z" fill="#000"/>
<path d="M421.66,388.04 L425.3,390.2 L421.66,392.36 Z" fill="#000"/>
<text x="403" y="357" font-size="8.42" text-anchor="middle" fill="#111" stroke="#111" stroke-width="0.24" textLength="12" lengthAdjust="spacingAndGlyphs" transform="rotate(-90 403 357)">cKit</text>
<text x="427.75" y="392.9" font-size="8.42" fill="#111" stroke="#111" stroke-width="0.24" textLength="17.5" lengthAdjust="spacingAndGlyphs">Sca-1</text>
<g clip-path="url(#fc9)">
<rect x="466" y="282.25" width="47.2" height="47.15" fill="#fff"/>
<path d="M486.6 300.1h0.55M477.0 309.4h0.55M478.9 322.0h0.55M487.8 298.3h0.55M475.9 297.3h0.55M486.2 300.6h0.55M483.7 301.9h0.55M489.3 304.2h0.55M472.9 307.3h0.55M486.7 309.4h0.55M476.3 308.9h0.55M485.2 308.5h0.55M482.9 300.0h0.55M476.6 289.9h0.55M479.5 299.6h0.55M494.1 293.6h0.55M481.0 303.1h0.55M495.7 316.6h0.55M482.5 298.7h0.55M494.5 312.2h0.55M487.4 299.3h0.55M490.5 322.8h0.55M476.4 312.9h0.55M483.6 300.0h0.55M501.3 317.6h0.55M486.2 300.1h0.55M476.5 309.4h0.55M494.7 310.1h0.55M484.2 302.7h0.55M481.8 299.8h0.55M482.5 301.6h0.55M479.9 327.0h0.55M492.7 316.2h0.55M492.4 306.2h0.55M480.6 298.8h0.55M480.3 303.4h0.55M485.6 307.0h0.55M490.2 310.7h0.55M500.3 315.9h0.55M480.4 319.6h0.55M477.6 302.4h0.55M489.0 309.1h0.55M477.0 289.8h0.55M484.8 303.0h0.55M494.9 314.7h0.55M495.2 314.3h0.55M486.7 308.9h0.55M479.8 299.6h0.55M480.7 303.6h0.55M481.5 305.0h0.55M482.1 304.6h0.55M491.3 313.0h0.55M484.3 301.7h0.55M483.8 325.9h0.55M482.6 301.7h0.55M493.8 320.1h0.55M485.8 301.2h0.55M489.5 316.2h0.55M480.6 302.5h0.55M485.2 298.3h0.55M483.6 303.0h0.55M482.6 300.1h0.55M477.6 300.5h0.55M472.6 315.3h0.55M486.4 293.1h0.55M496.1 311.2h0.55M470.2 307.4h0.55M497.1 290.5h0.55M493.2 315.7h0.55M481.5 296.7h0.55M475.6 310.3h0.55M480.1 302.1h0.55M480.7 299.4h0.55M481.2 297.0h0.55M486.6 295.3h0.55M482.0 302.0h0.55M489.5 307.9h0.55M486.3 297.0h0.55M477.8 313.4h0.55M479.8 300.1h0.55M498.2 298.1h0.55M494.2 314.3h0.55M481.4 301.6h0.55M481.6 302.2h0.55M496.7 316.5h0.55M486.9 297.6h0.55M488.2 298.2h0.55M484.8 300.7h0.55M479.7 296.6h0.55M502.5 312.8h0.55M493.0 318.3h0.55M478.5 327.4h0.55M489.1 301.0h0.55M497.1 317.4h0.55M471.6 313.6h0.55M482.4 299.7h0.55M482.1 297.3h0.55M499.7 318.9h0.55M471.7 313.3h0.55M488.3 300.4h0.55M473.0 304.3h0.55M486.6 304.6h0.55M472.7 312.5h0.55M478.9 301.1h0.55M488.3 304.8h0.55M478.4 326.1h0.55M477.3 310.7h0.55M496.2 305.3h0.55M495.3 317.9h0.55M473.0 318.1h0.55M483.2 317.4h0.55M495.4 315.0h0.55M468.2 303.9h0.55M497.2 317.6h0.55M482.4 299.9h0.55M478.8 301.8h0.55M486.5 317.2h0.55M496.1 313.6h0.55M477.6 308.3h0.55M476.9 294.7h0.55M469.4 293.4h0.55M483.8 300.4h0.55M483.4 303.7h0.55M478.8 304.8h0.55M489.0 298.1h0.55M502.0 310.8h0.55M472.5 310.5h0.55M483.5 300.2h0.55M473.7 302.5h0.55M483.4 307.2h0.55M487.4 299.9h0.55M478.1 303.0h0.55M472.3 313.7h0.55M483.2 299.7h0.55M487.6 301.9h0.55M479.5 320.3h0.55M481.0 309.7h0.55M479.3 302.2h0.55M484.8 302.5h0.55M488.0 300.6h0.55M472.6 328.2h0.55M487.0 301.8h0.55M498.4 290.5h0.55M480.3 300.2h0.55M496.9 293.5h0.55M481.8 305.0h0.55M481.3 309.1h0.55M488.4 295.9h0.55M497.8 314.4h0.55M483.8 299.8h0.55M479.0 302.4h0.55M477.4 303.6h0.55M481.4 303.5h0.55M494.3 313.1h0.55M480.0 321.8h0.55M464.7 306.3h0.55M481.1 300.9h0.55M473.7 317.2h0.55M474.0 307.1h0.55M488.0 297.0h0.55M473.8 293.8h0.55M477.1 299.2h0.55M489.4 302.2h0.55M478.5 307.0h0.55M484.9 299.8h0.55M482.0 315.1h0.55M478.0 297.6h0.55M478.6 301.9h0.55M480.2 299.6h0.55M494.7 294.6h0.55M485.1 299.0h0.55M481.7 298.2h0.55M481.5 299.2h0.55M475.4 302.7h0.55M482.4 303.0h0.55M487.9 295.1h0.55M479.0 280.6h0.55M478.6 305.2h0.55M500.0 312.6h0.55M483.6 302.1h0.55M480.4 298.4h0.55M476.5 316.8h0.55M486.7 300.4h0.55M482.0 301.3h0.55M479.4 299.4h0.55M468.5 313.2h0.55M480.6 302.9h0.55M502.0 310.9h0.55M479.7 303.1h0.55M470.6 320.4h0.55M497.1 314.4h0.55M480.8 323.5h0.55M480.5 295.3h0.55M490.1 298.9h0.55M499.8 298.4h0.55M479.9 307.0h0.55M481.2 309.9h0.55M493.4 319.6h0.55M482.0 295.8h0.55M480.5 299.1h0.55M477.0 300.9h0.55M494.1 315.1h0.55M477.8 297.4h0.55M480.5 303.7h0.55M471.5 311.2h0.55M483.5 299.5h0.55M488.1 297.6h0.55M476.0 303.9h0.55M480.3 322.9h0.55M493.3 318.6h0.55M467.4 305.0h0.55M475.0 322.1h0.55M493.7 317.3h0.55M464.7 306.1h0.55M480.8 311.7h0.55M471.7 304.2h0.55M486.0 303.3h0.55M482.4 296.5h0.55M477.0 319.2h0.55M476.9 310.6h0.55M475.6 312.7h0.55M484.5 298.5h0.55M493.1 298.4h0.55M482.8 298.9h0.55M482.1 300.3h0.55M470.7 299.8h0.55M479.4 311.3h0.55M458.8 283.6h0.55M480.8 301.2h0.55M491.1 292.6h0.55M484.1 299.6h0.55M479.9 301.2h0.55M499.9 316.7h0.55M482.4 306.5h0.55M480.2 298.5h0.55M479.6 300.6h0.55M475.7 317.7h0.55M489.3 312.6h0.55M483.2 303.5h0.55M483.1 303.2h0.55M498.0 317.2h0.55M477.7 302.1h0.55M477.7 307.2h0.55M483.8 301.7h0.55M481.1 300.1h0.55M492.4 303.0h0.55M484.4 304.5h0.55M476.8 299.1h0.55M478.0 301.6h0.55M480.6 303.5h0.55M472.1 315.2h0.55M488.3 301.6h0.55M475.7 295.0h0.55M485.6 301.3h0.55M480.6 304.7h0.55M480.5 301.7h0.55M472.8 314.6h0.55M480.7 300.0h0.55M486.3 300.4h0.55M490.0 317.1h0.55M484.7 298.1h0.55M476.0 312.4h0.55M481.1 301.6h0.55M491.5 300.1h0.55M489.6 297.1h0.55M475.3 327.8h0.55M489.9 312.3h0.55M477.1 303.4h0.55M486.5 300.2h0.55M476.5 309.1h0.55M484.9 317.5h0.55M491.3 301.5h0.55M483.7 300.5h0.55M480.8 321.7h0.55M482.3 320.4h0.55M483.4 302.6h0.55M486.6 299.3h0.55M472.0 322.3h0.55M498.3 313.7h0.55M482.7 300.2h0.55M489.2 314.4h0.55M476.6 303.0h0.55M483.9 316.3h0.55M483.8 308.7h0.55M480.6 300.4h0.55M471.0 314.9h0.55M486.7 299.2h0.55M482.5 299.8h0.55M474.4 314.0h0.55M484.1 309.8h0.55M476.1 301.0h0.55M488.4 297.2h0.55M486.4 299.2h0.55M499.0 314.7h0.55M470.1 308.7h0.55M506.1 303.7h0.55M484.0 299.6h0.55M477.3 314.6h0.55M485.3 305.9h0.55M481.8 300.6h0.55M474.7 301.5h0.55M489.6 317.0h0.55M488.6 319.2h0.55M485.1 299.4h0.55M477.6 302.3h0.55M478.1 321.0h0.55M493.0 313.9h0.55M484.5 302.3h0.55M478.5 297.5h0.55M469.8 306.6h0.55M481.8 303.6h0.55M489.6 325.7h0.55M484.8 305.1h0.55M477.4 307.8h0.55M489.6 303.5h0.55M480.2 300.8h0.55M487.3 298.1h0.55M499.1 313.8h0.55M491.1 315.7h0.55M486.7 293.5h0.55M473.7 305.7h0.55M486.0 301.1h0.55M483.3 301.9h0.55M480.3 309.8h0.55M493.6 311.0h0.55M479.4 302.2h0.55M483.1 303.5h0.55M475.4 302.2h0.55M497.6 312.1h0.55M497.0 313.8h0.55" stroke="#7480bc" stroke-width="0.65" opacity="0.55"/>
<ellipse cx="483" cy="300.8" rx="4.2" ry="2.6" fill="#6a72a0" opacity="0.75" filter="url(#bl100)" transform="rotate(-25 483 300.8)"/>
<ellipse cx="484" cy="300.2" rx="1.8" ry="1.2" fill="#4a5290" opacity="0.8" filter="url(#bl60)"/>
</g>
<rect x="466" y="282.25" width="47.2" height="47.15" fill="none" stroke="#333" stroke-width="0.8"/>
<line x1="488.75" y1="282.25" x2="488.75" y2="329.4" stroke="#444" stroke-width="0.7"/>
<line x1="466" y1="307.25" x2="513.2" y2="307.25" stroke="#444" stroke-width="0.7"/>
<text x="468" y="288.3" font-size="5.4" fill="#333" stroke="#333" stroke-width="0.24">64.6%</text>
<text x="468" y="294.2" font-size="5.4" fill="#333" stroke="#333" stroke-width="0.24">LRP</text>
<text x="511.5" y="288.3" font-size="5.4" text-anchor="end" fill="#333" stroke="#333" stroke-width="0.24">3.1%</text>
<text x="468" y="321.6" font-size="5.4" fill="#333" stroke="#333" stroke-width="0.24">ST-HSC</text>
<text x="468" y="327.6" font-size="5.4" fill="#333" stroke="#333" stroke-width="0.24">15.6%</text>
<text x="511.5" y="321.6" font-size="5.4" text-anchor="end" fill="#333" stroke="#333" stroke-width="0.24">LT-HSC</text>
<text x="511.5" y="327.6" font-size="5.4" text-anchor="end" fill="#333" stroke="#333" stroke-width="0.24">16.7%</text>
<line x1="461.9" y1="334.4" x2="461.9" y2="313.6" stroke="#000" stroke-width="1"/>
<line x1="461.4" y1="334.4" x2="482.6" y2="334.4" stroke="#000" stroke-width="1"/>
<path d="M459.74,313.94 L461.9,310.3 L464.06,313.94 Z" fill="#000"/>
<path d="M482.26,332.24 L485.9,334.4 L482.26,336.56 Z" fill="#000"/>
<text x="464.5" y="297" font-size="8.42" text-anchor="middle" fill="#111" stroke="#111" stroke-width="0.24" textLength="17" lengthAdjust="spacingAndGlyphs" transform="rotate(-90 464.5 297)">CD48</text>
<text x="488.1" y="337.1" font-size="8.42" fill="#111" stroke="#111" stroke-width="0.24" textLength="22.5" lengthAdjust="spacingAndGlyphs">CD150</text>
<g clip-path="url(#fc10)">
<rect x="466.5" y="338.1" width="47" height="47.5" fill="#fff"/>
<path d="M494.6 356.3h0.55M470.3 351.9h0.55M476.9 358.0h0.55M480.9 353.8h0.55M483.8 354.5h0.55M481.0 353.4h0.55M457.7 362.9h0.55M488.9 375.5h0.55M482.5 355.2h0.55M488.3 355.2h0.55M504.5 362.7h0.55M464.9 361.9h0.55M495.5 358.0h0.55M488.2 358.1h0.55M484.3 352.0h0.55M489.6 357.3h0.55M488.4 363.6h0.55M483.2 381.6h0.55M476.6 357.5h0.55M469.5 373.4h0.55M500.0 360.0h0.55M478.2 354.6h0.55M490.9 356.7h0.55M478.5 364.8h0.55M485.9 360.3h0.55M472.3 357.6h0.55M494.0 359.7h0.55M477.9 361.8h0.55M482.4 365.6h0.55M502.6 365.3h0.55M488.7 353.7h0.55M487.7 383.9h0.55M477.5 367.0h0.55M480.3 355.3h0.55M484.5 359.9h0.55M486.5 358.1h0.55M482.4 367.3h0.55M480.8 354.5h0.55M473.3 359.6h0.55M484.2 369.2h0.55M478.1 359.8h0.55M486.0 361.6h0.55M501.0 362.7h0.55M475.4 353.3h0.55M477.0 356.1h0.55M465.1 364.7h0.55M465.0 360.2h0.55M499.2 361.0h0.55M489.0 372.0h0.55M483.8 387.1h0.55M473.3 353.8h0.55M471.7 356.6h0.55M487.1 375.6h0.55M490.8 363.3h0.55M506.0 359.0h0.55M478.8 361.4h0.55M489.6 356.6h0.55M472.0 355.3h0.55M488.7 362.1h0.55M488.1 353.2h0.55M469.8 353.6h0.55M483.1 359.7h0.55M495.7 361.7h0.55M497.4 366.7h0.55M483.3 361.5h0.55M497.0 365.7h0.55M466.7 362.1h0.55M490.4 368.8h0.55M476.7 369.6h0.55M480.5 361.8h0.55M493.6 366.1h0.55M500.4 365.6h0.55M463.8 352.3h0.55M499.7 359.5h0.55M494.1 358.8h0.55M468.9 357.9h0.55M472.2 366.5h0.55M478.3 362.2h0.55M489.0 351.0h0.55M488.6 360.8h0.55M489.3 380.2h0.55M486.9 378.9h0.55M496.5 354.7h0.55M477.6 381.1h0.55M475.3 352.9h0.55M474.9 360.1h0.55M498.1 366.4h0.55M484.4 360.7h0.55M478.8 391.0h0.55M487.1 379.8h0.55M474.1 370.6h0.55M487.2 385.7h0.55M493.1 377.9h0.55M505.0 360.3h0.55M484.1 357.3h0.55M492.2 373.1h0.55M490.9 386.9h0.55M463.0 366.7h0.55M482.5 357.8h0.55M464.2 357.9h0.55M461.1 359.3h0.55M496.2 369.4h0.55M477.2 362.8h0.55M481.9 388.8h0.55M477.9 361.7h0.55M467.5 355.0h0.55M477.7 358.9h0.55M469.7 368.5h0.55M485.7 357.3h0.55M496.3 358.3h0.55M492.6 387.5h0.55M481.6 358.6h0.55M493.6 360.7h0.55M474.4 354.1h0.55M484.6 390.9h0.55M484.5 396.6h0.55M479.9 358.2h0.55M502.4 361.0h0.55M498.5 357.7h0.55M481.9 366.9h0.55M497.9 359.3h0.55M463.9 360.7h0.55M478.6 358.0h0.55M484.5 354.5h0.55M493.0 357.3h0.55M484.3 364.0h0.55M491.6 374.6h0.55M480.1 360.1h0.55M490.7 377.7h0.55M476.3 360.6h0.55M483.1 361.5h0.55M481.7 363.9h0.55M477.0 379.3h0.55M487.2 368.3h0.55M472.2 358.4h0.55M484.4 363.5h0.55M479.3 357.1h0.55M494.9 367.3h0.55M476.5 367.9h0.55M486.1 354.3h0.55M476.6 371.6h0.55M478.9 354.9h0.55M488.0 365.0h0.55M469.1 359.4h0.55M485.3 367.1h0.55M476.6 355.6h0.55M497.0 370.3h0.55M487.3 375.2h0.55M504.3 353.2h0.55M462.2 362.3h0.55M500.2 356.3h0.55M484.2 359.1h0.55M481.8 356.1h0.55M473.7 364.8h0.55M497.2 361.1h0.55M503.9 364.6h0.55M480.5 376.4h0.55M491.7 360.0h0.55M491.5 372.7h0.55M485.8 355.6h0.55M500.2 356.3h0.55M492.3 360.6h0.55M465.2 376.4h0.55M496.3 362.5h0.55M498.8 361.9h0.55M472.7 359.8h0.55M482.8 360.8h0.55M496.3 356.4h0.55M476.3 376.6h0.55M485.2 363.2h0.55M484.7 381.7h0.55M495.9 364.5h0.55M484.0 376.7h0.55M474.5 356.0h0.55M480.9 359.2h0.55M483.6 358.7h0.55M499.1 368.6h0.55M491.2 357.6h0.55M472.5 367.9h0.55M488.2 374.6h0.55M482.9 361.1h0.55M471.2 355.0h0.55M469.7 361.0h0.55M475.5 374.6h0.55M500.8 360.9h0.55M487.1 384.6h0.55M474.0 360.2h0.55M501.0 365.2h0.55M483.3 357.7h0.55M491.9 361.4h0.55M475.1 361.5h0.55M478.9 361.0h0.55M466.8 362.5h0.55M471.6 359.2h0.55M468.7 356.7h0.55M489.2 361.6h0.55M470.4 359.3h0.55M486.6 360.1h0.55M492.9 353.6h0.55M472.9 349.5h0.55M483.7 365.3h0.55M473.5 356.0h0.55M489.5 357.8h0.55M498.0 365.1h0.55M487.4 361.4h0.55M484.7 364.0h0.55M472.0 368.1h0.55M497.0 361.6h0.55M489.0 358.6h0.55M494.3 381.4h0.55M495.0 365.5h0.55M456.5 363.9h0.55M478.1 375.3h0.55M466.2 368.0h0.55M477.9 358.5h0.55M491.6 371.4h0.55M473.0 361.4h0.55M471.7 361.7h0.55M487.6 382.2h0.55M470.1 363.5h0.55M498.2 370.1h0.55M484.3 388.2h0.55M489.9 379.5h0.55M474.0 361.0h0.55M479.4 365.2h0.55M470.5 356.2h0.55M493.0 374.3h0.55M500.8 363.2h0.55M487.5 374.8h0.55M476.6 363.4h0.55M487.7 374.8h0.55M491.3 363.3h0.55M474.5 357.2h0.55M488.5 355.1h0.55M478.4 361.2h0.55M489.4 357.1h0.55M488.3 375.3h0.55M470.2 354.5h0.55M464.2 361.1h0.55M476.5 361.0h0.55M474.8 357.6h0.55M474.2 371.7h0.55M498.0 356.2h0.55M481.2 356.2h0.55M494.4 358.4h0.55M474.8 367.5h0.55M498.4 362.9h0.55M483.3 388.7h0.55M470.4 360.3h0.55M487.1 366.2h0.55M492.4 384.6h0.55M498.4 354.4h0.55M491.6 359.3h0.55M473.2 382.4h0.55M484.0 381.7h0.55M484.8 377.4h0.55M471.2 357.6h0.55M472.5 356.5h0.55M481.5 358.4h0.55M481.5 363.6h0.55M486.5 357.8h0.55M477.6 359.3h0.55M488.3 362.7h0.55M487.8 358.2h0.55M499.6 356.1h0.55M490.6 360.6h0.55M499.1 360.4h0.55M480.4 356.6h0.55M489.3 362.1h0.55M487.9 360.9h0.55M496.5 358.9h0.55M496.6 362.8h0.55M487.1 372.1h0.55M492.5 357.5h0.55M494.7 360.8h0.55M492.1 357.3h0.55M477.7 361.6h0.55M478.4 361.4h0.55M487.9 361.7h0.55M476.6 357.6h0.55M479.4 367.4h0.55M478.4 363.1h0.55M482.9 383.7h0.55M495.5 365.8h0.55M481.2 364.4h0.55M477.0 359.0h0.55M486.2 366.0h0.55M496.1 360.0h0.55M477.5 377.6h0.55M481.4 358.2h0.55M475.5 353.1h0.55M492.2 355.7h0.55M466.4 356.1h0.55M490.5 370.1h0.55M483.0 364.0h0.55M491.9 361.0h0.55M484.7 356.4h0.55M475.6 367.1h0.55M476.2 366.3h0.55M490.3 361.7h0.55M475.5 358.4h0.55M485.6 362.2h0.55M479.4 354.5h0.55M488.8 381.6h0.55M464.3 361.0h0.55M466.7 372.6h0.55M484.9 372.7h0.55M483.9 357.9h0.55M479.9 367.4h0.55M490.9 357.9h0.55M474.1 372.1h0.55M487.2 373.7h0.55M489.1 357.7h0.55M469.5 382.8h0.55M486.7 366.6h0.55M474.4 356.6h0.55M475.1 353.5h0.55M501.9 363.6h0.55M487.9 357.8h0.55M482.8 359.6h0.55M489.6 361.9h0.55M482.9 356.7h0.55M492.1 358.7h0.55M494.4 359.8h0.55M469.9 364.9h0.55M482.2 351.8h0.55M482.6 362.1h0.55M481.9 362.8h0.55M472.0 361.2h0.55M474.6 381.3h0.55M491.1 360.1h0.55M479.6 372.0h0.55M485.5 363.5h0.55M482.7 358.8h0.55M476.9 358.7h0.55M478.5 355.3h0.55M473.3 381.3h0.55M486.1 384.3h0.55M470.6 354.2h0.55M487.5 379.3h0.55M474.7 361.2h0.55M480.7 380.7h0.55M479.1 358.8h0.55M480.3 373.2h0.55M482.3 364.0h0.55M469.7 356.0h0.55M482.9 380.3h0.55M476.8 364.2h0.55M486.4 377.3h0.55M469.2 358.8h0.55M486.9 361.0h0.55M478.2 356.2h0.55M490.4 372.9h0.55M486.6 360.4h0.55M473.6 383.7h0.55M485.0 376.5h0.55M484.4 371.1h0.55M478.0 356.7h0.55M481.9 363.6h0.55M485.4 383.6h0.55M496.3 367.9h0.55M483.4 365.4h0.55M491.9 368.0h0.55M475.2 363.1h0.55M476.2 362.2h0.55M477.7 352.4h0.55M472.2 358.1h0.55M480.2 351.1h0.55M470.3 356.4h0.55M486.1 374.8h0.55M473.4 353.6h0.55M488.2 370.3h0.55M490.6 368.8h0.55M489.6 365.8h0.55M477.4 372.7h0.55M488.8 365.5h0.55M486.5 366.2h0.55M486.4 378.0h0.55M499.0 373.3h0.55M479.6 372.9h0.55M501.6 363.9h0.55M488.4 360.3h0.55M499.3 363.9h0.55M466.3 360.1h0.55M476.4 354.3h0.55M473.1 357.4h0.55M474.1 359.5h0.55M467.0 378.0h0.55M500.1 363.4h0.55M485.7 373.1h0.55M476.3 363.0h0.55M484.1 366.0h0.55M477.1 364.1h0.55M475.4 358.4h0.55M470.8 376.2h0.55M486.8 378.0h0.55M493.0 372.6h0.55M488.5 380.3h0.55M486.8 368.7h0.55M482.9 360.8h0.55M500.2 365.4h0.55M494.3 363.8h0.55M482.2 368.3h0.55M488.5 368.1h0.55M481.4 365.1h0.55M476.9 364.3h0.55M482.8 359.8h0.55M489.0 354.2h0.55M483.4 372.4h0.55M468.2 381.2h0.55M465.9 365.4h0.55M481.1 367.8h0.55M486.5 361.1h0.55M487.5 361.1h0.55M488.9 363.2h0.55M479.6 369.0h0.55M476.9 357.1h0.55M499.0 358.8h0.55M484.7 376.9h0.55M489.5 361.7h0.55" stroke="#5466bc" stroke-width="0.65" opacity="0.55"/>
<path d="M468.0,356.0 L480.0,352.0 L487.0,351.0 L491.0,352.0 L493.0,358.0 L492.0,364.0 L480.0,365.0 L468.0,364.0 Z" fill="#3a50bc" filter="url(#bl100)" opacity="0.5"/>
<g filter="url(#bl45)">
<path d="M488.5,364.9 487.5,365.0 486.5,365.0 482.5,363.9 477.8,363.4 475.5,362.8 474.1,362.1 473.1,361.1 472.7,360.1 472.8,358.9 473.6,357.6 475.0,356.4 477.0,355.3 479.2,354.3 482.5,353.2 484.5,352.7 486.5,352.6 488.2,353.0 489.9,353.9 491.0,355.1 491.6,356.6 491.9,358.6 491.7,361.1 491.1,362.9 490.6,363.6 490.0,364.2 488.5,364.9Z" fill="#3a6cc4"/>
<path d="M488.2,363.4 487.5,363.5 486.5,363.5 482.8,362.5 479.0,362.0 477.5,361.6 476.4,361.1 475.7,360.4 475.5,359.6 475.6,358.9 476.3,357.9 477.5,356.9 483.2,353.9 484.5,353.5 485.8,353.3 487.0,353.3 488.0,353.6 489.2,354.3 490.1,355.1 490.6,356.1 490.8,357.4 490.6,359.4 490.1,361.6 489.2,362.8 488.2,363.4Z" fill="#2f98cc"/>
<path d="M487.5,361.6 486.8,361.8 485.8,361.7 480.8,360.3 479.5,359.6 479.2,359.1 479.3,358.6 479.8,357.9 482.2,355.6 483.8,354.4 484.8,354.0 485.8,353.8 486.8,353.9 487.8,354.1 488.7,354.6 489.4,355.4 489.9,356.4 490.0,357.4 489.8,358.6 489.0,360.2 488.2,361.2 487.5,361.6Z" fill="#3fbf90"/>
<path d="M487.2,359.6 486.2,359.8 485.0,359.7 483.8,359.1 483.0,358.4 482.8,357.6 483.0,356.6 483.4,355.9 484.2,355.1 485.5,354.5 486.8,354.5 487.8,354.9 488.8,355.6 489.1,356.6 489.0,357.9 488.2,359.0 487.2,359.6Z" fill="#b0d23a"/>
<path d="M486.8,358.6 486.0,358.7 485.2,358.5 484.6,358.1 484.2,357.6 484.1,357.1 484.2,356.4 484.6,355.9 485.2,355.4 486.0,355.2 487.0,355.2 487.7,355.6 488.1,356.1 488.3,356.9 488.1,357.6 487.5,358.3 486.8,358.6Z" fill="#f0a024"/>
<path d="M486.8,357.9 486.0,357.9 485.2,357.6 484.9,356.9 485.3,356.1 485.8,355.8 486.2,355.7 486.8,355.8 487.3,356.1 487.6,356.6 487.6,357.1 487.2,357.6 486.8,357.9Z" fill="#e2331f"/>
</g>
<path d="M486.4 354.5h0.55M476.7 363.3h0.55M478.1 363.6h0.55M488.7 355.1h0.55M469.3 360.3h0.55M476.5 355.6h0.55M485.9 356.8h0.55M474.9 363.1h0.55M487.9 362.3h0.55M480.8 355.4h0.55M471.5 362.3h0.55M485.6 364.1h0.55M490.2 354.5h0.55M480.5 353.9h0.55M471.5 356.1h0.55M473.0 362.5h0.55M487.5 363.9h0.55M479.9 362.0h0.55M488.3 362.7h0.55M471.9 357.9h0.55M484.4 355.3h0.55M487.6 359.9h0.55M488.1 361.4h0.55M478.9 352.6h0.55M474.0 357.9h0.55M488.4 354.6h0.55M482.7 363.6h0.55M479.2 354.1h0.55M475.7 361.4h0.55M484.7 359.8h0.55M473.3 361.6h0.55M489.0 357.5h0.55M474.9 359.5h0.55M487.7 357.4h0.55M482.0 361.5h0.55M490.9 352.1h0.55M485.2 351.9h0.55M474.7 360.5h0.55M472.4 360.3h0.55M487.6 360.5h0.55M488.6 359.5h0.55M480.6 364.8h0.55M476.5 353.4h0.55M480.4 359.2h0.55M477.1 364.3h0.55M476.3 353.6h0.55M481.4 354.1h0.55M483.7 355.1h0.55M477.2 360.6h0.55M485.0 351.7h0.55M482.1 358.9h0.55M477.0 356.2h0.55M483.1 361.9h0.55M487.5 362.8h0.55M481.3 354.6h0.55M486.3 353.3h0.55M469.3 356.9h0.55M477.9 364.5h0.55M489.3 362.6h0.55M486.4 353.5h0.55M471.9 362.5h0.55M487.1 351.7h0.55M478.4 354.8h0.55M481.8 357.3h0.55M479.7 359.7h0.55M487.4 363.5h0.55M480.1 356.3h0.55M487.2 351.8h0.55M475.4 363.9h0.55M478.3 356.2h0.55M490.6 362.9h0.55M490.4 356.3h0.55M479.5 353.2h0.55M478.3 363.5h0.55M490.7 353.7h0.55M484.1 353.0h0.55M480.6 362.0h0.55M474.5 359.2h0.55M472.9 354.9h0.55M484.0 355.7h0.55M473.4 355.5h0.55M487.1 356.8h0.55M483.0 354.6h0.55M483.6 351.6h0.55M487.7 353.5h0.55M474.9 358.4h0.55M492.8 357.4h0.55M484.9 354.6h0.55M479.8 362.5h0.55M475.6 362.5h0.55M490.5 361.5h0.55M474.1 355.4h0.55M486.4 357.2h0.55M474.4 361.9h0.55M472.4 363.8h0.55M475.1 363.9h0.55M485.8 363.2h0.55M483.9 352.4h0.55M477.9 364.7h0.55M471.1 358.5h0.55M481.0 357.1h0.55M475.0 355.3h0.55M473.1 354.7h0.55M468.9 361.5h0.55M490.3 354.1h0.55M469.4 356.4h0.55M470.7 357.0h0.55M474.4 359.1h0.55M486.5 363.3h0.55M485.9 362.6h0.55M479.6 360.7h0.55M488.8 353.3h0.55M481.1 352.1h0.55M482.3 363.1h0.55M476.6 360.5h0.55M483.8 360.3h0.55M472.6 358.1h0.55M469.4 356.8h0.55M476.6 354.5h0.55M490.6 357.1h0.55M480.8 363.1h0.55M481.1 356.5h0.55M486.4 355.2h0.55M471.8 361.1h0.55M480.4 365.0h0.55M481.6 363.5h0.55M476.8 362.7h0.55M479.9 359.5h0.55M477.1 355.8h0.55M476.3 355.0h0.55M468.9 360.5h0.55M475.7 363.9h0.55M482.7 353.2h0.55M486.9 354.5h0.55M482.0 357.1h0.55M477.2 363.1h0.55M480.8 355.3h0.55M472.3 355.2h0.55M472.7 360.3h0.55M486.6 359.4h0.55M485.8 361.5h0.55M482.3 353.6h0.55M479.9 353.3h0.55M485.4 360.4h0.55M476.3 359.2h0.55M485.8 358.2h0.55M489.8 352.2h0.55M473.0 361.9h0.55M477.3 353.1h0.55M469.0 361.9h0.55M472.3 363.8h0.55M482.3 352.4h0.55M480.0 357.8h0.55M483.0 364.0h0.55M478.2 363.7h0.55M473.5 360.2h0.55M478.7 361.9h0.55M481.0 363.0h0.55M481.6 359.9h0.55M477.5 362.2h0.55M477.5 364.1h0.55M484.0 363.0h0.55M469.3 361.3h0.55M482.6 358.2h0.55M474.8 361.3h0.55M478.1 353.0h0.55M478.0 361.7h0.55M483.6 361.1h0.55M488.7 355.1h0.55M476.7 363.0h0.55M477.6 358.2h0.55M488.8 359.8h0.55M483.5 358.1h0.55M478.3 355.1h0.55M477.4 362.4h0.55M479.9 354.1h0.55M485.3 362.5h0.55M478.2 352.8h0.55M486.6 360.7h0.55M481.9 354.6h0.55M469.2 357.7h0.55M483.9 353.5h0.55M491.7 354.2h0.55M490.2 356.0h0.55M475.3 361.6h0.55M480.6 353.0h0.55M489.0 358.7h0.55M482.2 356.3h0.55M488.6 359.6h0.55M469.8 363.4h0.55M482.2 354.8h0.55M481.2 354.2h0.55M487.7 358.4h0.55M478.7 357.0h0.55M474.0 358.5h0.55M473.8 355.5h0.55M480.8 359.9h0.55M476.2 361.1h0.55M476.9 363.8h0.55M471.7 359.1h0.55M476.9 357.4h0.55M470.9 355.7h0.55M472.7 360.5h0.55M487.4 362.0h0.55M490.8 356.4h0.55M484.0 364.4h0.55M480.5 358.3h0.55M484.4 351.4h0.55M489.2 356.8h0.55M486.9 352.9h0.55M480.3 359.0h0.55M487.3 359.4h0.55M483.6 363.9h0.55M474.8 357.3h0.55M490.0 357.4h0.55M482.8 358.1h0.55M492.3 360.5h0.55M487.3 351.4h0.55M477.9 361.5h0.55M472.2 361.9h0.55M491.0 361.7h0.55M486.1 354.9h0.55M471.0 364.1h0.55M478.5 363.6h0.55M484.7 364.0h0.55M468.6 362.2h0.55M486.5 358.9h0.55M491.2 356.5h0.55M468.9 357.0h0.55M488.6 362.2h0.55M468.9 358.1h0.55M476.5 355.9h0.55M474.9 362.1h0.55M475.1 354.5h0.55M476.7 356.3h0.55M473.7 359.8h0.55M471.9 363.7h0.55M490.1 357.9h0.55M486.3 354.0h0.55M475.3 363.7h0.55M479.8 361.4h0.55M488.3 360.8h0.55M479.3 356.3h0.55M469.5 363.1h0.55M485.3 351.9h0.55M488.8 355.0h0.55M489.3 353.1h0.55M468.6 363.0h0.55M490.2 357.9h0.55M490.8 352.3h0.55M491.5 360.7h0.55M476.4 361.0h0.55M489.3 354.2h0.55M471.2 357.9h0.55M484.8 355.4h0.55M488.4 363.7h0.55M473.4 356.4h0.55M488.9 358.0h0.55M486.7 355.4h0.55M488.4 362.7h0.55" stroke="#2a40b0" stroke-width="0.65" opacity="0.45"/>
</g>
<rect x="466.5" y="338.1" width="47" height="47.5" fill="none" stroke="#333" stroke-width="0.8"/>
<line x1="490.4" y1="338.1" x2="490.4" y2="385.6" stroke="#444" stroke-width="0.7"/>
<line x1="466.5" y1="366" x2="513.5" y2="366" stroke="#444" stroke-width="0.7"/>
<text x="468.5" y="344" font-size="5.4" fill="#333" stroke="#333" stroke-width="0.24">81.1%</text>
<text x="511.5" y="344" font-size="5.4" text-anchor="end" fill="#333" stroke="#333" stroke-width="0.24">7.5%</text>
<text x="468.5" y="383.7" font-size="5.4" fill="#333" stroke="#333" stroke-width="0.24">6.8%</text>
<text x="511.5" y="383.7" font-size="5.4" text-anchor="end" fill="#333" stroke="#333" stroke-width="0.24">4.6%</text>
<line x1="462.75" y1="390.2" x2="462.75" y2="369.3" stroke="#000" stroke-width="1"/>
<line x1="462.25" y1="390.2" x2="483" y2="390.2" stroke="#000" stroke-width="1"/>
<path d="M460.59,369.64 L462.75,366 L464.91,369.64 Z" fill="#000"/>
<path d="M482.66,388.04 L486.3,390.2 L482.66,392.36 Z" fill="#000"/>
<text x="465.35" y="352.5" font-size="8.42" text-anchor="middle" fill="#111" stroke="#111" stroke-width="0.24" textLength="17" lengthAdjust="spacingAndGlyphs" transform="rotate(-90 465.35 352.5)">CD48</text>
<text x="488.6" y="392.9" font-size="8.42" fill="#111" stroke="#111" stroke-width="0.24" textLength="22.5" lengthAdjust="spacingAndGlyphs">CD150</text>
<text x="6" y="422.3" font-size="11.2" font-weight="bold" fill="#000">G</text>
<line x1="44.5" y1="434.3" x2="44.5" y2="533.8" stroke="#000" stroke-width="1"/>
<line x1="41.7" y1="533.3" x2="44.5" y2="533.3" stroke="#000" stroke-width="1"/>
<text x="38.8" y="536.05" font-size="7.2" text-anchor="end" fill="#111" stroke="#111" stroke-width="0.24" textLength="4.45" lengthAdjust="spacingAndGlyphs">0</text>
<line x1="41.7" y1="509.7" x2="44.5" y2="509.7" stroke="#000" stroke-width="1"/>
<text x="38.8" y="512.45" font-size="7.2" text-anchor="end" fill="#111" stroke="#111" stroke-width="0.24" textLength="8.9" lengthAdjust="spacingAndGlyphs">20</text>
<line x1="41.7" y1="486.1" x2="44.5" y2="486.1" stroke="#000" stroke-width="1"/>
<text x="38.8" y="488.85" font-size="7.2" text-anchor="end" fill="#111" stroke="#111" stroke-width="0.24" textLength="8.9" lengthAdjust="spacingAndGlyphs">40</text>
<line x1="41.7" y1="462.5" x2="44.5" y2="462.5" stroke="#000" stroke-width="1"/>
<text x="38.8" y="465.25" font-size="7.2" text-anchor="end" fill="#111" stroke="#111" stroke-width="0.24" textLength="8.9" lengthAdjust="spacingAndGlyphs">60</text>
<line x1="41.7" y1="438.9" x2="44.5" y2="438.9" stroke="#000" stroke-width="1"/>
<text x="38.8" y="441.65" font-size="7.2" text-anchor="end" fill="#111" stroke="#111" stroke-width="0.24" textLength="8.9" lengthAdjust="spacingAndGlyphs">80</text>
<rect x="50.2" y="519.14" width="10.9" height="14.16" fill="#134f86"/>
<line x1="55.65" y1="519.14" x2="55.65" y2="516.19" stroke="#000" stroke-width="0.85"/>
<line x1="53.25" y1="516.19" x2="58.05" y2="516.19" stroke="#000" stroke-width="1"/>
<rect x="61.1" y="509.11" width="10.9" height="24.19" fill="#c8102e"/>
<line x1="66.55" y1="509.11" x2="66.55" y2="508.17" stroke="#000" stroke-width="0.85"/>
<line x1="64.15" y1="508.17" x2="68.95" y2="508.17" stroke="#000" stroke-width="1"/>
<rect x="80.5" y="515.6" width="10.9" height="17.7" fill="#134f86"/>
<line x1="85.95" y1="515.6" x2="85.95" y2="513.83" stroke="#000" stroke-width="0.85"/>
<line x1="83.55" y1="513.83" x2="88.35" y2="513.83" stroke="#000" stroke-width="1"/>
<rect x="91.4" y="529.17" width="10.9" height="4.13" fill="#c8102e"/>
<line x1="96.85" y1="529.17" x2="96.85" y2="528.58" stroke="#000" stroke-width="0.85"/>
<line x1="94.45" y1="528.58" x2="99.25" y2="528.58" stroke="#000" stroke-width="1"/>
<rect x="110.8" y="529.17" width="10.9" height="4.13" fill="#134f86"/>
<line x1="116.25" y1="529.17" x2="116.25" y2="528.7" stroke="#000" stroke-width="0.85"/>
<line x1="113.85" y1="528.7" x2="118.65" y2="528.7" stroke="#000" stroke-width="1"/>
<rect x="121.7" y="521.5" width="10.9" height="11.8" fill="#c8102e"/>
<line x1="127.15" y1="521.5" x2="127.15" y2="517.96" stroke="#000" stroke-width="0.85"/>
<line x1="124.75" y1="517.96" x2="129.55" y2="517.96" stroke="#000" stroke-width="1"/>
<rect x="141.1" y="458.84" width="10.9" height="74.46" fill="#134f86"/>
<line x1="146.55" y1="458.84" x2="146.55" y2="455.89" stroke="#000" stroke-width="0.85"/>
<line x1="144.15" y1="455.89" x2="148.95" y2="455.89" stroke="#000" stroke-width="1"/>
<rect x="152" y="458.37" width="10.9" height="74.93" fill="#c8102e"/>
<line x1="157.45" y1="458.37" x2="157.45" y2="454.83" stroke="#000" stroke-width="0.85"/>
<line x1="155.05" y1="454.83" x2="159.85" y2="454.83" stroke="#000" stroke-width="1"/>
<line x1="44" y1="533.5" x2="166.1" y2="533.5" stroke="#000" stroke-width="1"/>
<line x1="61.1" y1="533.3" x2="61.1" y2="536" stroke="#000" stroke-width="0.9"/>
<text x="63.7" y="542.9" font-size="8" text-anchor="end" fill="#111" stroke="#111" stroke-width="0.24" transform="rotate(-45 63.7 542.9)">Lineage–</text>
<line x1="91.4" y1="533.3" x2="91.4" y2="536" stroke="#000" stroke-width="0.9"/>
<text x="94" y="542.9" font-size="8" text-anchor="end" fill="#111" stroke="#111" stroke-width="0.24" transform="rotate(-45 94 542.9)">B220</text>
<line x1="121.7" y1="533.3" x2="121.7" y2="536" stroke="#000" stroke-width="0.9"/>
<text x="124.3" y="542.9" font-size="8" text-anchor="end" fill="#111" stroke="#111" stroke-width="0.24" transform="rotate(-45 124.3 542.9)">CD3</text>
<line x1="152" y1="533.3" x2="152" y2="536" stroke="#000" stroke-width="0.9"/>
<text x="154.6" y="542.9" font-size="8" text-anchor="end" fill="#111" stroke="#111" stroke-width="0.24" transform="rotate(-45 154.6 542.9)">Mac-1</text>
<line x1="55.65" y1="504.5" x2="66.55" y2="504.5" stroke="#111" stroke-width="0.9"/>
<path d="M58.1,501.65h2.5M59.35,500.4v2.5M58.48,500.77l1.75,1.75M60.23,500.77l-1.75,1.75" stroke="#111" stroke-width="0.75"/>
<path d="M61.6,501.65h2.5M62.85,500.4v2.5M61.98,500.77l1.75,1.75M63.73,500.77l-1.75,1.75" stroke="#111" stroke-width="0.75"/>
<line x1="85.95" y1="506.5" x2="96.85" y2="506.5" stroke="#111" stroke-width="0.9"/>
<path d="M86.65,503.65h2.5M87.9,502.4v2.5M87.03,502.77l1.75,1.75M88.78,502.77l-1.75,1.75" stroke="#111" stroke-width="0.75"/>
<path d="M90.15,503.65h2.5M91.4,502.4v2.5M90.53,502.77l1.75,1.75M92.28,502.77l-1.75,1.75" stroke="#111" stroke-width="0.75"/>
<path d="M93.65,503.65h2.5M94.9,502.4v2.5M94.03,502.77l1.75,1.75M95.78,502.77l-1.75,1.75" stroke="#111" stroke-width="0.75"/>
<text x="23.2" y="485.4" font-size="8.2" text-anchor="middle" fill="#111" stroke="#111" stroke-width="0.24" textLength="73.6" lengthAdjust="spacingAndGlyphs" transform="rotate(-90 23.2 485.4)">Bone marrow cells (%)</text>
<rect x="52" y="438.2" width="6.5" height="6.5" fill="#134f86"/>
<rect x="52" y="448.8" width="6.5" height="6.5" fill="#c8102e"/>
<text x="61.7" y="444.1" font-size="7.8" fill="#111" stroke="#111" stroke-width="0.24">WT</text>
<text x="61.7" y="454.7" font-size="7.8" fill="#111" stroke="#111" stroke-width="0.24">MH-Vav</text>
<text x="224.8" y="422.4" font-size="11.2" font-weight="bold" fill="#000">H</text>
<text x="240.1" y="452.4" font-size="9.3" text-anchor="middle" fill="#111" stroke="#111" stroke-width="0.24" textLength="9.8" lengthAdjust="spacingAndGlyphs" transform="rotate(-90 240.1 452.4)">WT</text>
<text x="240.2" y="521.1" font-size="9.3" text-anchor="middle" fill="#111" stroke="#111" stroke-width="0.24" textLength="27.4" lengthAdjust="spacingAndGlyphs" transform="rotate(-90 240.2 521.1)">MH-Vav</text>
<g clip-path="url(#fc11)">
<rect x="257.4" y="425.4" width="53.4" height="52.8" fill="#fff"/>
<path d="M289.4 466.2h0.55M307.7 471.8h0.55M290.4 457.3h0.55M300.5 477.5h0.55M295.5 471.2h0.55M302.7 477.5h0.55M295.6 457.1h0.55M287.6 475.9h0.55M290.6 468.4h0.55M301.6 475.7h0.55M296.1 460.8h0.55M308.6 469.1h0.55M310.8 472.9h0.55M302.3 465.9h0.55M285.0 473.9h0.55M294.3 456.3h0.55M304.2 477.7h0.55M304.1 459.0h0.55M293.9 462.9h0.55M292.9 470.7h0.55M303.8 461.4h0.55M295.2 462.4h0.55M291.7 470.1h0.55M305.8 471.5h0.55M310.0 476.7h0.55M310.0 473.0h0.55M294.6 472.2h0.55M310.2 461.3h0.55M294.1 455.5h0.55M308.6 473.3h0.55M288.2 465.2h0.55M292.6 463.0h0.55M296.4 476.7h0.55M293.1 468.3h0.55M304.4 471.3h0.55M286.0 463.0h0.55M306.5 459.0h0.55M296.7 473.1h0.55M290.3 466.2h0.55M309.7 457.2h0.55M292.4 455.6h0.55M286.5 473.5h0.55M298.8 469.2h0.55M291.8 471.2h0.55M288.8 459.6h0.55M286.6 476.8h0.55M293.5 461.7h0.55M296.0 460.4h0.55M308.7 461.5h0.55M286.2 474.4h0.55M303.9 459.2h0.55M294.8 458.7h0.55M308.4 476.0h0.55M286.4 460.0h0.55M295.7 469.3h0.55M306.6 475.7h0.55M309.3 468.2h0.55M304.3 475.6h0.55M304.3 465.7h0.55M306.5 469.4h0.55M292.4 455.7h0.55M304.9 455.5h0.55M305.5 472.9h0.55M290.0 474.7h0.55M299.5 476.9h0.55M309.3 455.5h0.55M291.1 473.7h0.55M298.7 458.4h0.55M298.3 463.0h0.55M295.0 457.5h0.55M300.8 474.1h0.55M295.0 462.3h0.55M308.5 469.5h0.55M310.4 474.4h0.55M290.5 471.1h0.55M289.1 458.8h0.55M301.6 455.7h0.55M291.0 477.3h0.55M292.7 471.5h0.55M303.4 467.4h0.55M306.9 459.7h0.55M288.6 473.2h0.55M294.0 459.6h0.55M298.5 470.8h0.55M298.7 473.6h0.55M294.0 473.4h0.55M308.9 468.4h0.55M302.5 468.1h0.55M292.8 460.7h0.55M303.8 458.4h0.55M279.5 429.7h0.55M305.2 431.4h0.55M272.1 430.4h0.55M261.2 428.8h0.55M294.2 428.5h0.55M273.9 435.1h0.55M272.4 431.8h0.55M310.5 426.9h0.55M279.7 434.0h0.55M298.6 432.2h0.55M295.7 427.4h0.55M261.2 427.2h0.55M305.7 427.8h0.55M294.6 426.8h0.55M305.1 433.7h0.55M302.7 435.8h0.55M292.4 434.8h0.55M310.8 426.9h0.55M260.5 433.4h0.55M289.0 428.4h0.55M293.9 432.6h0.55M276.1 426.5h0.55M310.3 431.4h0.55M263.1 434.0h0.55M304.5 429.7h0.55" stroke="#7080c8" stroke-width="0.65" opacity="0.6"/>
<path d="M257.0,443.5 L280.0,440.0 L298.0,434.5 L306.5,433.5 L306.5,441.0 L300.0,446.0 L280.0,452.0 L257.0,456.0 Z" fill="#3a50bc" filter="url(#bl100)" opacity="0.7"/>
<path d="M257.0,455.0 L288.0,455.0 L283.0,467.0 L278.0,479.0 L257.0,479.0 Z" fill="#2a47b6" filter="url(#bl100)" opacity="1.0"/>
<g filter="url(#bl45)">
<path d="M297.6,440.7 296.4,440.8 295.4,440.5 295.0,439.9 295.2,439.1 296.3,438.1 297.9,437.4 299.6,437.2 300.4,437.4 300.7,437.6 300.9,437.9 300.9,438.4 300.7,438.9 300.3,439.4 299.1,440.2 297.6,440.7ZM269.4,478.9 267.9,479.1 266.1,479.1 263.1,478.6 260.6,477.5 259.6,476.8 258.8,475.9 257.7,474.1 257.3,472.1 257.5,467.4 257.8,464.6 258.7,461.9 260.2,459.4 262.1,457.0 264.4,455.2 266.9,453.9 269.4,453.1 272.1,452.9 274.9,453.2 277.1,453.9 279.1,455.0 280.9,456.4 282.1,457.9 283.0,459.6 283.7,461.9 283.9,464.1 283.7,466.4 283.1,468.4 282.0,470.4 280.6,472.2 278.6,474.1 276.4,475.9 274.1,477.3 271.9,478.3 269.4,478.9Z" fill="#2f6fcc"/>
<path d="M268.1,477.2 265.6,477.2 263.4,476.6 261.6,475.6 261.0,474.9 260.5,474.1 260.1,472.6 260.0,470.4 260.4,465.6 261.2,462.9 262.3,460.9 263.9,459.0 265.6,457.5 267.6,456.4 270.1,455.6 272.6,455.2 274.9,455.3 277.1,455.9 278.4,456.6 279.6,457.7 280.6,458.9 281.3,460.4 281.6,461.9 281.6,463.6 281.3,465.4 280.8,466.9 279.9,468.6 278.6,470.4 277.0,472.1 274.7,474.1 273.0,475.4 271.4,476.3 269.9,476.8 268.1,477.2Z" fill="#32a8d2"/>
<path d="M267.4,475.4 265.6,475.3 264.1,474.7 263.3,473.9 262.7,472.6 262.6,471.1 262.9,466.1 263.2,464.4 264.0,462.6 265.1,461.0 266.6,459.6 268.4,458.5 270.6,457.5 272.6,456.8 274.4,456.6 275.9,456.8 277.4,457.4 278.4,458.0 279.2,458.9 279.8,459.9 280.2,461.1 280.3,462.1 280.2,463.4 279.8,464.6 279.2,465.9 278.2,467.4 276.9,468.9 272.1,473.4 269.9,474.8 268.6,475.2 267.4,475.4Z" fill="#4cc38a"/>
<path d="M268.4,471.9 267.6,472.0 266.9,471.7 266.4,471.0 266.1,469.9 265.7,467.4 265.8,465.9 266.1,464.4 266.8,463.1 267.8,461.9 269.4,460.4 270.9,459.1 272.4,458.2 273.9,457.8 275.1,457.7 276.4,458.0 277.4,458.5 278.6,459.6 278.9,460.4 279.2,461.4 279.1,463.1 278.3,464.9 277.4,466.0 276.1,467.0 270.1,471.1 268.4,471.9Z" fill="#9ad040"/>
<path d="M274.4,465.9 272.6,466.0 271.9,465.8 271.1,465.4 270.7,464.9 270.5,464.4 270.5,462.9 271.1,461.1 272.4,459.6 273.1,459.1 273.9,458.8 274.9,458.6 275.6,458.7 276.8,459.1 277.6,459.9 278.2,461.1 278.3,462.4 277.8,463.6 277.0,464.6 275.9,465.4 274.4,465.9Z" fill="#e3dc2c"/>
<path d="M275.1,464.4 274.1,464.4 273.1,464.0 272.6,463.4 272.3,462.4 272.5,461.4 273.1,460.4 273.9,459.8 274.9,459.6 275.9,459.7 276.6,460.1 277.2,460.9 277.4,461.6 277.3,462.6 276.8,463.4 276.1,464.0 275.1,464.4Z" fill="#f29022"/>
<path d="M275.1,463.4 274.5,463.4 274.0,463.1 273.6,462.6 273.4,462.1 273.5,461.4 273.9,460.9 274.4,460.5 275.1,460.4 275.6,460.5 276.1,460.8 276.5,461.4 276.6,461.9 276.5,462.4 276.1,462.9 275.6,463.3 275.1,463.4Z" fill="#e3241f"/>
</g>
<path d="M276.4 445.1h0.55M267.8 443.7h0.55M304.8 442.1h0.55M266.0 454.4h0.55M262.2 444.2h0.55M299.1 445.4h0.55M279.0 441.1h0.55M287.9 446.2h0.55M282.2 448.8h0.55M282.1 449.1h0.55M281.7 450.9h0.55M272.1 453.3h0.55M271.9 450.3h0.55M287.7 441.5h0.55M257.5 445.9h0.55M301.5 444.1h0.55M293.8 438.8h0.55M259.4 446.5h0.55M273.1 442.5h0.55M262.7 449.1h0.55M297.3 438.3h0.55M258.8 443.8h0.55M278.6 440.5h0.55M288.5 443.0h0.55M267.4 442.5h0.55M271.4 451.7h0.55M270.4 452.1h0.55M269.4 452.4h0.55M264.7 452.7h0.55M270.0 448.8h0.55M288.1 443.6h0.55M291.9 441.7h0.55M289.9 444.2h0.55M287.1 448.5h0.55M285.7 440.0h0.55M304.5 437.6h0.55M276.1 446.2h0.55M284.4 448.5h0.55M304.6 439.0h0.55M284.9 447.2h0.55M263.4 451.8h0.55M278.1 450.5h0.55M278.2 451.5h0.55M290.9 441.3h0.55M280.6 441.0h0.55M279.9 442.9h0.55M278.0 445.1h0.55M258.4 454.7h0.55M274.5 443.4h0.55M259.0 452.5h0.55M290.5 445.6h0.55M277.0 445.6h0.55M291.7 443.7h0.55M258.4 453.8h0.55M291.4 439.2h0.55M280.7 445.6h0.55M279.4 448.1h0.55M266.1 445.7h0.55M290.9 448.0h0.55M293.1 437.9h0.55M293.1 441.8h0.55M298.0 442.8h0.55M285.0 447.1h0.55M261.5 450.6h0.55M296.8 438.0h0.55M273.9 447.8h0.55M304.3 441.6h0.55M300.6 435.1h0.55M284.2 440.3h0.55M299.7 437.7h0.55M274.0 449.9h0.55M264.4 443.6h0.55M300.4 437.2h0.55M267.6 445.5h0.55M277.9 446.9h0.55M258.0 451.8h0.55M267.7 450.5h0.55M260.6 454.8h0.55M269.2 447.2h0.55M270.3 441.7h0.55M285.8 439.8h0.55M305.4 436.4h0.55M280.5 445.1h0.55M299.2 444.4h0.55M282.4 446.7h0.55M282.1 446.5h0.55M257.8 449.1h0.55M258.8 444.8h0.55M264.5 442.6h0.55M305.1 438.3h0.55M284.8 442.1h0.55M273.7 446.5h0.55M267.7 451.8h0.55M271.5 451.1h0.55M283.0 449.1h0.55M298.5 443.4h0.55M260.9 443.4h0.55M273.2 445.3h0.55M257.3 454.9h0.55M288.7 446.5h0.55M266.9 442.7h0.55M269.5 444.5h0.55M288.3 445.3h0.55M258.4 448.9h0.55M277.1 445.9h0.55M276.8 449.0h0.55M267.2 449.8h0.55M267.6 449.0h0.55M292.2 444.3h0.55M267.8 453.3h0.55M303.6 438.5h0.55M296.6 442.1h0.55M275.1 441.0h0.55M270.9 444.0h0.55M276.5 451.9h0.55M294.3 436.3h0.55M267.3 447.7h0.55M272.4 445.0h0.55M290.7 446.2h0.55M300.4 438.0h0.55M300.0 438.3h0.55M257.2 451.1h0.55M301.9 435.8h0.55M302.3 443.9h0.55M272.0 445.7h0.55M268.5 444.7h0.55M268.1 452.5h0.55M283.6 446.4h0.55M286.4 447.1h0.55M267.2 447.6h0.55M294.7 443.6h0.55M261.2 449.9h0.55M293.8 444.0h0.55M269.8 446.4h0.55M286.1 442.6h0.55M283.0 450.1h0.55M305.2 434.0h0.55M283.3 444.9h0.55M282.6 444.7h0.55M296.3 436.3h0.55M289.6 442.6h0.55M301.3 441.2h0.55M302.4 440.5h0.55M271.3 445.5h0.55M260.7 447.5h0.55M290.6 443.9h0.55M278.4 444.6h0.55M296.0 438.0h0.55M285.9 445.0h0.55M283.2 441.2h0.55M287.0 441.2h0.55M289.7 447.1h0.55M281.5 445.7h0.55M280.6 450.0h0.55M303.2 434.9h0.55M288.0 440.0h0.55M281.9 450.3h0.55M268.9 448.3h0.55M285.3 448.3h0.55M304.8 440.0h0.55M280.4 445.5h0.55M267.1 453.4h0.55M297.9 435.6h0.55M292.5 437.3h0.55M261.6 444.1h0.55M296.7 442.3h0.55M302.4 437.4h0.55M297.6 443.6h0.55M301.0 437.6h0.55M302.3 440.7h0.55M298.3 440.7h0.55M302.1 436.7h0.55M258.2 448.2h0.55M287.6 442.5h0.55M273.5 450.4h0.55M273.3 441.3h0.55M257.9 445.0h0.55M262.8 449.3h0.55M273.3 451.4h0.55M289.1 444.3h0.55M285.0 448.3h0.55M278.2 442.7h0.55M270.1 447.6h0.55M271.1 442.9h0.55M263.0 450.9h0.55M303.4 438.6h0.55M285.2 444.5h0.55M278.7 449.2h0.55M267.9 447.1h0.55M274.1 446.4h0.55M265.5 452.9h0.55M289.1 439.1h0.55M299.2 436.8h0.55M289.7 442.7h0.55M280.0 443.8h0.55M264.7 450.2h0.55M266.6 442.3h0.55M280.8 444.0h0.55M296.1 445.0h0.55M275.9 450.3h0.55M305.5 438.2h0.55M261.4 445.0h0.55M277.6 442.3h0.55M278.5 447.0h0.55M302.7 434.7h0.55M264.2 449.0h0.55M283.7 449.7h0.55M286.4 447.4h0.55M258.8 449.7h0.55M277.5 446.9h0.55M287.1 438.0h0.55M296.1 436.4h0.55M261.9 446.2h0.55M261.3 451.8h0.55M275.2 445.7h0.55M258.0 446.7h0.55M302.6 437.9h0.55M271.7 446.5h0.55M305.9 440.9h0.55M305.9 439.2h0.55M278.2 446.6h0.55M293.4 447.8h0.55M277.5 443.9h0.55M300.8 437.9h0.55M275.7 443.9h0.55M265.2 451.1h0.55M265.0 452.2h0.55M282.6 445.5h0.55M294.5 437.6h0.55M282.4 449.3h0.55M282.2 444.9h0.55M301.7 441.7h0.55M306.5 433.9h0.55M305.9 437.8h0.55M305.6 439.3h0.55M297.0 437.0h0.55M301.5 439.8h0.55M284.2 448.6h0.55M270.0 446.3h0.55M278.3 441.2h0.55M274.3 446.1h0.55M272.6 442.7h0.55M264.0 448.7h0.55M267.7 452.6h0.55M301.4 439.7h0.55M297.8 443.7h0.55M291.6 440.5h0.55M281.4 450.8h0.55M264.4 450.1h0.55M290.0 439.9h0.55M283.6 448.5h0.55M259.8 453.8h0.55M294.4 436.3h0.55M302.9 440.3h0.55M259.8 448.7h0.55M272.4 449.7h0.55M290.8 448.7h0.55M297.2 437.0h0.55M265.9 445.2h0.55M265.3 444.8h0.55M300.0 439.0h0.55M283.3 447.3h0.55M297.8 439.3h0.55M301.8 444.1h0.55M299.2 442.7h0.55M265.2 451.0h0.55M275.1 446.8h0.55M282.5 443.9h0.55M268.3 443.9h0.55M296.1 438.7h0.55M278.9 446.0h0.55M265.7 447.0h0.55M264.3 444.6h0.55M292.6 443.8h0.55M294.2 447.4h0.55M273.9 452.4h0.55M282.0 449.3h0.55M278.0 442.8h0.55M270.0 444.4h0.55M264.5 448.2h0.55M275.2 448.3h0.55M271.2 451.3h0.55M294.9 444.3h0.55M305.1 440.8h0.55M280.2 441.5h0.55M284.5 446.2h0.55M288.5 437.7h0.55M301.8 437.0h0.55M288.3 444.6h0.55M260.7 452.2h0.55M282.1 446.1h0.55M294.1 440.4h0.55M300.5 442.1h0.55M277.1 446.9h0.55M268.7 444.3h0.55M257.1 446.7h0.55M279.3 446.3h0.55M266.6 444.6h0.55M302.5 440.7h0.55M284.4 443.5h0.55M276.9 444.7h0.55M269.2 453.5h0.55M261.5 443.4h0.55M290.0 439.5h0.55M261.9 443.7h0.55M258.3 449.0h0.55M286.6 442.8h0.55M283.8 441.4h0.55M302.2 438.1h0.55M281.3 440.1h0.55M279.0 452.1h0.55M259.1 453.3h0.55M259.4 447.0h0.55M267.1 449.6h0.55M279.5 443.2h0.55M263.3 446.9h0.55M299.5 435.8h0.55M281.6 446.9h0.55M273.6 441.9h0.55M263.2 453.1h0.55M270.1 447.6h0.55M288.1 448.2h0.55M274.2 451.1h0.55M272.8 451.4h0.55M274.9 451.6h0.55M268.2 450.8h0.55M263.1 445.4h0.55M272.3 450.5h0.55M257.0 450.1h0.55M296.9 444.5h0.55M305.2 437.8h0.55M277.8 451.1h0.55M286.0 444.4h0.55M263.6 454.7h0.55M267.5 449.7h0.55M295.2 443.9h0.55M294.2 439.8h0.55M265.4 442.6h0.55M265.9 447.2h0.55M283.7 442.3h0.55M266.6 451.2h0.55M267.2 449.8h0.55M290.0 448.0h0.55M291.0 441.5h0.55M292.0 438.7h0.55M284.8 448.9h0.55M293.5 444.1h0.55M296.5 435.9h0.55M281.2 440.6h0.55M298.5 434.9h0.55M294.5 439.2h0.55M275.5 448.1h0.55M270.5 444.9h0.55M294.8 440.4h0.55M287.6 448.6h0.55M260.7 446.9h0.55M259.1 447.8h0.55M290.0 442.0h0.55M265.6 445.1h0.55M275.1 452.0h0.55M277.7 441.7h0.55M267.1 451.6h0.55M271.4 446.4h0.55M284.3 447.1h0.55M277.4 442.2h0.55M265.9 446.4h0.55M292.9 438.5h0.55M294.9 442.8h0.55M274.8 442.7h0.55M286.3 448.3h0.55M273.5 449.0h0.55M272.6 445.8h0.55M278.3 450.5h0.55M300.0 435.0h0.55M281.4 440.7h0.55M262.6 443.6h0.55M292.6 438.1h0.55M291.0 440.5h0.55M281.0 448.3h0.55M274.2 446.6h0.55M304.0 439.9h0.55M264.6 449.6h0.55M266.3 450.7h0.55M259.7 451.2h0.55M261.7 454.9h0.55M278.3 444.0h0.55M303.4 442.6h0.55M277.9 452.3h0.55M259.6 446.3h0.55M273.4 442.1h0.55M262.1 450.8h0.55M274.5 443.9h0.55M269.8 450.4h0.55M261.6 452.7h0.55M274.6 450.8h0.55M261.9 454.2h0.55M285.5 447.8h0.55M262.4 445.4h0.55M259.6 453.0h0.55M298.7 442.4h0.55M289.1 449.2h0.55M270.1 449.8h0.55M293.9 444.4h0.55M283.9 442.7h0.55M258.7 450.8h0.55M293.1 443.3h0.55M267.4 447.6h0.55M294.8 436.9h0.55M284.9 450.3h0.55M270.2 452.1h0.55M297.8 445.9h0.55M263.3 448.1h0.55M295.0 441.7h0.55M288.9 446.1h0.55M299.5 438.9h0.55M263.3 442.7h0.55M298.3 439.3h0.55M297.4 435.5h0.55M299.5 443.6h0.55M298.1 444.0h0.55M283.1 449.2h0.55M262.8 452.6h0.55M287.8 441.5h0.55M262.0 449.9h0.55M276.0 441.2h0.55M282.5 442.6h0.55M300.6 445.5h0.55M303.8 441.1h0.55M260.9 450.0h0.55M259.9 450.3h0.55M274.9 448.2h0.55M278.7 446.3h0.55M265.0 453.7h0.55M272.6 452.9h0.55M265.0 442.5h0.55M282.1 440.0h0.55M260.7 454.9h0.55M286.9 445.0h0.55M262.0 445.2h0.55M297.0 437.6h0.55M302.3 438.1h0.55M263.5 450.8h0.55M266.2 453.4h0.55M262.4 446.7h0.55M293.8 444.8h0.55M298.2 437.3h0.55M296.7 443.6h0.55M299.4 436.6h0.55M284.4 446.2h0.55M304.9 434.1h0.55M276.7 452.6h0.55M290.8 446.5h0.55M268.5 442.6h0.55M298.8 439.9h0.55M282.0 450.7h0.55M261.8 447.5h0.55M275.3 447.9h0.55M260.6 445.1h0.55M265.6 452.0h0.55M290.0 441.5h0.55M302.1 442.2h0.55M296.1 444.3h0.55M281.2 442.3h0.55M292.5 445.1h0.55M292.5 445.3h0.55M282.7 441.3h0.55M299.7 437.7h0.55M295.0 445.8h0.55M305.7 434.6h0.55M285.8 438.3h0.55M291.8 444.6h0.55M258.5 453.9h0.55M281.6 439.6h0.55M259.5 446.0h0.55M290.6 445.5h0.55M283.4 450.9h0.55M273.6 449.3h0.55M281.8 450.7h0.55M268.0 453.5h0.55M280.1 448.5h0.55M289.3 439.8h0.55M265.8 446.4h0.55M286.3 447.0h0.55M283.3 445.5h0.55M264.8 447.4h0.55M273.1 452.6h0.55M295.2 446.2h0.55M272.8 449.6h0.55M284.4 448.0h0.55M284.8 440.0h0.55M259.8 448.1h0.55M271.0 450.2h0.55M272.2 442.2h0.55M301.7 436.0h0.55M270.1 449.1h0.55M296.6 437.0h0.55M281.0 449.8h0.55M264.7 445.6h0.55M272.2 442.2h0.55M275.7 449.5h0.55M304.9 438.7h0.55M272.9 448.2h0.55M258.2 452.3h0.55M292.6 443.2h0.55M267.7 451.1h0.55M274.6 447.6h0.55M263.4 450.6h0.55M305.5 434.9h0.55M297.2 439.0h0.55M262.3 451.4h0.55M301.3 435.0h0.55M267.3 444.2h0.55M299.9 443.9h0.55M259.3 450.0h0.55M304.2 437.1h0.55M277.7 452.3h0.55M290.3 440.0h0.55M292.0 441.0h0.55M290.1 445.2h0.55M276.7 447.2h0.55M293.6 445.9h0.55M303.0 440.2h0.55M293.7 435.9h0.55M289.0 448.8h0.55M275.3 443.5h0.55M294.4 442.0h0.55M274.3 448.3h0.55M261.7 448.7h0.55M269.0 443.4h0.55M288.5 443.7h0.55M296.4 438.4h0.55M277.0 443.5h0.55M273.0 442.0h0.55M267.1 452.0h0.55M279.0 441.8h0.55M265.9 449.3h0.55M277.5 451.1h0.55M266.1 450.5h0.55M266.6 446.8h0.55M262.6 452.7h0.55M302.0 438.0h0.55M293.0 440.3h0.55M271.7 443.0h0.55M257.3 452.5h0.55M270.2 447.8h0.55M257.9 444.4h0.55M277.6 449.7h0.55M278.4 444.9h0.55M275.6 452.3h0.55M272.4 452.7h0.55M265.0 447.9h0.55M263.1 445.4h0.55M279.5 451.5h0.55M257.6 452.5h0.55M285.1 448.9h0.55M265.0 451.4h0.55M280.8 450.4h0.55M274.7 441.5h0.55M283.4 448.3h0.55M295.1 441.1h0.55M287.6 439.3h0.55M291.8 442.6h0.55M260.8 447.9h0.55M275.8 440.8h0.55M267.4 449.3h0.55M299.2 443.5h0.55M281.6 441.0h0.55M279.4 443.6h0.55M276.4 442.8h0.55M267.7 449.2h0.55M304.0 441.3h0.55M267.3 443.7h0.55M298.8 442.4h0.55M279.7 448.2h0.55M258.1 453.9h0.55M292.3 446.8h0.55M286.4 448.7h0.55M264.5 452.5h0.55M278.6 441.1h0.55M292.4 442.7h0.55M265.1 443.2h0.55M278.6 444.3h0.55M259.3 445.2h0.55M259.2 446.8h0.55M300.0 440.5h0.55M269.4 453.1h0.55M257.2 445.4h0.55M301.0 445.1h0.55M271.7 447.5h0.55M270.2 446.0h0.55M272.3 444.0h0.55M259.0 443.7h0.55M273.1 447.7h0.55M299.8 440.5h0.55M286.6 438.7h0.55M287.8 444.1h0.55M296.3 443.4h0.55M288.6 442.4h0.55M257.7 443.9h0.55M265.6 447.6h0.55M297.6 441.3h0.55M297.0 440.0h0.55M270.7 448.0h0.55M290.6 437.3h0.55M286.9 439.8h0.55M290.7 446.7h0.55M303.3 436.9h0.55M294.3 447.5h0.55M259.9 443.5h0.55M283.2 442.8h0.55M292.1 440.7h0.55M296.1 444.9h0.55M268.9 446.7h0.55M286.5 447.1h0.55M271.4 443.8h0.55M282.0 451.3h0.55M304.8 434.7h0.55M296.5 444.4h0.55M288.9 445.7h0.55M296.8 442.7h0.55M276.6 445.9h0.55M278.0 444.9h0.55M306.3 437.1h0.55M286.7 447.2h0.55M301.0 441.3h0.55M287.5 439.2h0.55M270.9 442.3h0.55M271.8 442.8h0.55M274.0 448.6h0.55M263.8 451.6h0.55M257.9 444.7h0.55M289.0 448.1h0.55M261.7 447.5h0.55M285.5 445.3h0.55M306.1 439.7h0.55M279.5 450.9h0.55M305.1 435.0h0.55M258.0 454.2h0.55M299.7 442.5h0.55M293.1 437.1h0.55M257.6 449.0h0.55M279.1 450.6h0.55M261.1 455.3h0.55M265.8 445.6h0.55M257.8 446.6h0.55M306.3 435.5h0.55M276.5 441.4h0.55M277.3 450.6h0.55M288.8 445.6h0.55M264.0 451.5h0.55M269.1 447.2h0.55M288.5 447.0h0.55M280.6 441.2h0.55M264.8 449.0h0.55M266.5 446.3h0.55M277.2 449.8h0.55M280.8 440.5h0.55M264.4 451.5h0.55M290.8 442.6h0.55M303.4 442.3h0.55M297.9 442.9h0.55M260.6 452.7h0.55M275.7 444.4h0.55M263.9 450.6h0.55M267.5 445.5h0.55M295.8 443.7h0.55M261.7 449.9h0.55M270.3 452.0h0.55M294.6 438.6h0.55M297.8 443.0h0.55M264.2 446.1h0.55M269.5 445.6h0.55M304.3 438.0h0.55M284.3 445.0h0.55M265.4 447.2h0.55M299.4 445.4h0.55M268.4 445.4h0.55M294.1 444.4h0.55M279.9 451.3h0.55M277.3 451.1h0.55M283.3 444.4h0.55M270.4 448.8h0.55M304.4 436.4h0.55M269.6 444.6h0.55M257.5 444.3h0.55M278.6 445.8h0.55M262.1 454.9h0.55M286.0 440.1h0.55M289.8 448.0h0.55M281.0 443.1h0.55M261.7 450.6h0.55M301.5 438.5h0.55M297.3 437.6h0.55M266.5 443.9h0.55M285.5 445.4h0.55M274.9 443.9h0.55M266.2 449.7h0.55M265.7 444.4h0.55M261.5 449.7h0.55M275.0 451.2h0.55" stroke="#2f45b6" stroke-width="0.65" opacity="0.6"/>
</g>
<rect x="257.4" y="425.4" width="53.4" height="52.8" fill="none" stroke="#333" stroke-width="0.8"/>
<rect x="258.5" y="433.5" width="47.3" height="21.1" fill="none" stroke="#222" stroke-width="0.7"/>
<line x1="283.5" y1="433.5" x2="283.5" y2="454.6" stroke="#111" stroke-width="0.8"/>
<text x="265" y="431.5" font-size="5.2" fill="#333" stroke="#333" stroke-width="0.24">4.9%</text>
<text x="290" y="431.5" font-size="5.2" fill="#333" stroke="#333" stroke-width="0.24">7.4%</text>
<polyline points="267.4,451.5 267.4,461.2 302,461.2" fill="none" stroke="#111" stroke-width="0.8"/>
<path d="M301.84,459.92 L304,461.2 L301.84,462.48 Z" fill="#000"/>
<line x1="251.2" y1="483.8" x2="251.2" y2="463.8" stroke="#000" stroke-width="1"/>
<line x1="250.7" y1="483.8" x2="272.7" y2="483.8" stroke="#000" stroke-width="1"/>
<path d="M249.04,464.14 L251.2,460.5 L253.36,464.14 Z" fill="#000"/>
<path d="M272.36,481.64 L276,483.8 L272.36,485.96 Z" fill="#000"/>
<text x="253.8" y="449" font-size="8.42" text-anchor="middle" fill="#111" stroke="#111" stroke-width="0.24" textLength="16" lengthAdjust="spacingAndGlyphs" transform="rotate(-90 253.8 449)">B220</text>
<text x="278.2" y="486.5" font-size="8.42" fill="#111" stroke="#111" stroke-width="0.24" textLength="12.5" lengthAdjust="spacingAndGlyphs">IgM</text>
<g clip-path="url(#fc12)">
<rect x="325.2" y="425.4" width="52.8" height="52.8" fill="#fff"/>
<path d="M371.2 450.1h0.55M336.5 450.8h0.55M331.7 451.0h0.55M338.4 445.9h0.55M374.4 451.2h0.55M364.4 442.9h0.55M336.0 444.1h0.55M337.0 452.5h0.55M361.0 439.8h0.55M362.6 452.6h0.55M367.3 465.6h0.55M375.0 461.7h0.55M329.3 443.9h0.55M346.6 471.4h0.55M371.1 437.3h0.55M372.7 447.5h0.55M361.0 460.8h0.55M348.4 455.2h0.55M350.5 461.5h0.55M369.0 454.2h0.55M371.7 452.1h0.55M328.8 457.0h0.55M342.9 464.4h0.55M340.8 459.5h0.55M336.0 459.7h0.55M357.3 462.0h0.55M327.7 449.4h0.55M364.8 449.2h0.55M341.2 465.2h0.55M361.2 449.0h0.55M369.8 461.3h0.55M377.7 460.2h0.55M376.2 464.3h0.55M349.4 426.5h0.55M364.3 448.3h0.55M370.9 472.0h0.55M369.3 454.5h0.55M358.9 459.4h0.55M349.2 446.9h0.55M376.9 426.1h0.55M371.1 432.8h0.55M331.8 466.0h0.55M326.8 460.4h0.55M338.5 470.6h0.55M355.4 437.9h0.55M356.4 464.1h0.55M370.1 427.0h0.55M374.1 468.9h0.55M338.1 457.3h0.55M353.3 457.5h0.55" stroke="#9aa4d0" stroke-width="0.65" opacity="0.45"/>
<path d="M360.9 463.1h0.55M355.3 451.1h0.55M360.2 479.4h0.55M364.4 447.0h0.55M360.7 468.4h0.55M349.6 452.2h0.55M357.0 450.7h0.55M360.2 460.5h0.55M345.7 449.7h0.55M361.9 450.6h0.55M363.4 452.7h0.55M337.3 451.0h0.55M358.3 481.4h0.55M344.8 448.7h0.55M349.5 454.8h0.55M356.0 453.5h0.55M353.5 455.3h0.55M343.2 452.7h0.55M351.1 446.9h0.55M353.6 455.1h0.55M358.2 451.7h0.55M361.2 453.3h0.55M357.3 449.3h0.55M359.3 460.2h0.55M360.7 446.1h0.55M343.1 454.1h0.55M365.6 443.5h0.55M350.1 451.3h0.55M350.0 444.4h0.55M341.5 453.2h0.55M367.7 448.7h0.55M350.7 448.3h0.55M350.7 448.8h0.55M369.4 453.1h0.55M339.8 449.6h0.55M355.2 453.2h0.55M359.5 454.9h0.55M353.7 453.8h0.55M359.4 461.5h0.55M367.1 451.9h0.55M358.8 465.6h0.55M348.2 450.7h0.55M362.5 458.9h0.55M359.5 470.6h0.55M352.5 452.5h0.55M345.1 452.0h0.55M363.8 449.0h0.55M349.4 451.3h0.55M361.8 480.8h0.55M352.7 455.8h0.55M344.7 445.8h0.55M360.6 476.2h0.55M369.9 448.9h0.55M364.0 460.6h0.55M348.6 450.8h0.55M370.0 452.1h0.55M368.2 445.5h0.55M351.9 451.8h0.55M355.6 450.9h0.55M369.2 449.4h0.55M337.4 445.4h0.55M358.3 454.0h0.55M359.4 474.9h0.55M364.6 450.8h0.55M345.1 450.7h0.55M365.5 451.6h0.55M359.7 474.0h0.55M362.8 460.1h0.55M354.2 448.3h0.55M366.6 448.7h0.55M364.6 451.6h0.55M351.1 454.7h0.55M362.5 449.9h0.55M353.8 452.0h0.55M353.5 451.6h0.55M340.3 452.1h0.55M365.4 453.4h0.55M362.6 463.7h0.55M348.7 451.0h0.55M363.0 446.1h0.55M352.2 451.3h0.55M364.2 462.1h0.55M355.1 452.8h0.55M365.0 453.6h0.55M344.3 449.9h0.55M365.7 445.5h0.55M362.8 449.3h0.55M363.1 471.0h0.55M367.8 452.7h0.55M351.4 456.3h0.55M351.3 448.6h0.55M361.6 475.5h0.55M360.8 469.3h0.55M368.4 455.0h0.55M355.1 456.4h0.55M353.7 457.4h0.55M345.7 454.5h0.55M366.2 451.5h0.55M338.1 453.3h0.55M351.4 449.7h0.55M341.3 449.5h0.55M360.8 459.5h0.55M347.9 453.2h0.55M360.5 481.6h0.55M342.3 452.3h0.55M371.1 450.7h0.55M362.1 468.8h0.55M360.7 478.8h0.55M347.5 450.6h0.55M335.8 449.8h0.55M357.0 451.5h0.55M356.3 450.3h0.55M357.8 451.9h0.55M342.0 454.9h0.55M352.3 453.6h0.55M352.9 453.9h0.55M360.8 457.2h0.55M361.0 470.2h0.55M361.2 464.7h0.55M363.4 460.9h0.55M352.9 452.7h0.55M347.1 449.2h0.55M355.5 453.8h0.55M360.8 454.2h0.55M364.2 451.8h0.55M347.3 453.6h0.55M346.5 453.0h0.55M370.8 445.3h0.55M357.1 451.1h0.55M354.6 452.7h0.55M361.8 448.9h0.55M354.4 451.7h0.55M347.8 449.1h0.55M362.6 451.5h0.55M362.2 450.3h0.55M367.1 454.0h0.55M358.6 459.0h0.55M346.2 453.5h0.55M358.8 453.5h0.55M368.7 448.2h0.55M342.2 454.3h0.55M349.6 451.5h0.55M335.9 449.6h0.55M344.6 453.0h0.55M370.1 451.9h0.55M353.1 451.1h0.55M354.9 449.4h0.55M350.0 457.5h0.55M346.0 450.7h0.55M345.6 455.2h0.55M360.2 456.6h0.55M346.2 454.9h0.55M347.5 452.4h0.55M364.9 453.4h0.55M362.6 471.4h0.55M336.5 444.5h0.55M337.2 450.9h0.55M345.0 449.4h0.55M352.3 449.9h0.55M346.0 454.5h0.55M366.8 453.0h0.55M348.6 454.2h0.55M351.9 451.6h0.55M343.7 451.4h0.55M341.2 453.1h0.55M347.3 454.3h0.55M357.3 455.0h0.55M346.6 450.4h0.55M359.9 465.9h0.55M359.1 469.1h0.55M360.4 450.5h0.55M331.1 447.9h0.55M363.4 450.3h0.55M358.2 450.4h0.55M358.6 468.9h0.55M368.4 455.1h0.55M358.9 464.1h0.55M363.6 454.8h0.55M355.3 452.1h0.55M361.6 463.2h0.55M360.2 465.7h0.55M349.6 451.4h0.55M353.7 452.6h0.55M351.1 452.5h0.55M364.7 445.5h0.55M344.9 450.7h0.55M359.9 455.9h0.55M359.9 466.8h0.55M340.9 449.5h0.55M343.5 447.9h0.55M362.0 450.6h0.55M353.2 449.4h0.55M342.1 449.6h0.55M346.3 445.3h0.55M356.3 450.5h0.55M352.5 450.0h0.55M354.6 452.1h0.55M366.1 446.1h0.55M347.3 445.1h0.55M350.3 453.2h0.55M350.9 453.2h0.55M352.6 452.1h0.55M348.0 454.4h0.55M357.2 450.6h0.55M361.9 451.4h0.55M359.3 466.8h0.55M355.7 453.6h0.55M369.8 452.1h0.55M338.9 447.5h0.55M354.4 456.6h0.55M359.9 458.8h0.55M362.6 464.8h0.55M347.1 453.0h0.55M347.2 451.0h0.55M359.6 469.7h0.55M367.0 449.7h0.55M346.5 444.8h0.55M366.0 451.8h0.55M343.8 445.8h0.55M351.3 449.3h0.55M362.6 463.5h0.55M360.1 464.9h0.55M354.4 452.1h0.55M354.3 449.6h0.55M357.0 450.7h0.55M355.4 452.5h0.55M356.9 451.7h0.55M336.9 446.6h0.55M360.1 476.1h0.55M341.8 450.0h0.55M369.0 449.5h0.55M353.3 452.6h0.55M362.9 451.5h0.55M362.0 473.6h0.55M350.2 459.0h0.55M353.5 451.2h0.55M348.4 449.5h0.55M361.7 444.0h0.55M360.2 455.4h0.55M351.0 451.8h0.55M358.5 458.3h0.55M357.8 450.6h0.55M360.4 463.3h0.55M361.7 474.9h0.55M356.1 453.2h0.55M354.4 449.0h0.55M362.4 461.5h0.55M347.6 451.0h0.55M359.2 468.8h0.55M361.5 475.3h0.55M351.4 450.4h0.55M360.0 456.9h0.55M348.4 456.8h0.55M359.3 462.2h0.55M346.8 450.6h0.55M361.6 459.2h0.55M338.8 453.6h0.55M340.6 449.6h0.55M344.8 444.7h0.55M350.9 450.3h0.55M361.2 463.4h0.55M341.2 453.8h0.55M339.8 450.9h0.55M359.4 461.1h0.55M364.8 453.2h0.55M362.0 449.4h0.55M361.6 469.5h0.55M367.2 451.7h0.55M364.1 449.7h0.55M349.6 454.1h0.55M362.7 480.6h0.55M346.9 451.3h0.55M360.4 464.5h0.55M346.5 457.2h0.55M369.8 450.5h0.55M349.7 451.9h0.55M346.1 451.1h0.55M361.6 478.2h0.55M361.8 475.5h0.55M358.9 441.3h0.55M362.5 467.1h0.55M351.4 456.0h0.55M359.0 458.5h0.55M340.3 454.5h0.55M356.3 447.5h0.55M370.4 450.9h0.55M361.1 459.9h0.55M363.3 469.0h0.55M358.0 449.5h0.55M355.1 452.1h0.55M350.8 449.9h0.55M362.6 448.0h0.55M340.7 449.8h0.55M346.6 445.5h0.55M346.9 450.4h0.55M344.0 451.2h0.55M360.0 464.2h0.55M345.8 452.6h0.55M367.5 451.6h0.55M354.6 449.9h0.55M347.3 453.5h0.55M366.7 456.3h0.55M350.7 449.5h0.55M353.2 450.8h0.55M359.1 476.1h0.55M361.0 452.8h0.55M340.7 450.6h0.55M351.6 448.5h0.55M367.7 451.8h0.55M349.8 448.3h0.55M343.7 449.6h0.55M357.8 484.8h0.55M357.3 457.0h0.55M350.1 448.0h0.55M353.8 450.8h0.55M360.6 467.5h0.55M344.2 450.2h0.55M351.1 453.0h0.55M361.7 463.8h0.55M359.8 462.7h0.55M365.9 450.0h0.55M363.6 447.2h0.55M361.1 448.9h0.55M359.9 453.9h0.55M362.0 467.9h0.55M354.3 452.7h0.55M366.9 453.1h0.55M362.8 458.3h0.55M354.3 456.0h0.55M369.6 448.4h0.55M345.5 450.8h0.55M353.2 446.4h0.55M367.9 447.0h0.55M372.4 452.6h0.55M351.5 453.6h0.55M365.5 449.7h0.55M351.6 452.9h0.55M359.3 471.6h0.55M349.4 453.1h0.55M369.0 454.3h0.55M367.4 454.3h0.55M352.4 453.1h0.55M350.9 455.7h0.55M363.9 447.4h0.55M362.4 454.9h0.55M360.9 454.3h0.55M345.3 448.2h0.55M347.4 455.7h0.55M356.9 452.9h0.55M361.3 449.7h0.55M363.0 450.3h0.55M356.1 467.9h0.55M359.7 450.7h0.55M360.6 468.3h0.55M339.3 451.3h0.55M359.3 462.7h0.55M353.3 451.9h0.55M352.6 449.7h0.55M367.6 448.3h0.55M361.8 462.4h0.55M358.7 465.5h0.55M339.0 448.5h0.55M351.4 454.0h0.55M348.0 451.5h0.55M364.1 447.2h0.55M364.3 450.2h0.55M351.5 450.7h0.55M359.7 472.4h0.55M358.5 466.2h0.55M362.5 460.2h0.55M347.3 451.5h0.55M363.9 451.7h0.55M362.6 465.2h0.55M367.0 449.6h0.55M349.7 452.8h0.55M340.8 453.6h0.55M350.1 451.6h0.55M347.0 450.9h0.55M347.2 450.8h0.55M357.8 466.1h0.55M360.6 447.3h0.55M352.6 449.7h0.55M356.4 449.5h0.55M363.7 457.7h0.55M351.7 456.0h0.55M345.8 446.1h0.55M351.7 450.1h0.55M361.7 448.7h0.55M344.9 455.6h0.55M358.1 448.6h0.55M364.7 449.9h0.55M357.5 449.9h0.55M363.1 466.1h0.55M348.2 451.8h0.55M349.2 457.8h0.55M360.8 462.3h0.55M352.5 455.8h0.55M347.3 447.7h0.55M358.5 453.6h0.55M359.8 465.5h0.55M357.5 445.0h0.55M358.4 451.6h0.55M355.4 451.9h0.55M365.4 461.2h0.55M362.3 445.4h0.55M360.6 472.3h0.55M344.4 446.8h0.55M365.4 453.6h0.55M357.9 450.2h0.55M361.1 454.8h0.55M363.3 461.5h0.55M362.5 463.9h0.55M342.4 454.9h0.55M347.7 455.4h0.55M359.9 459.0h0.55M347.8 454.9h0.55M364.7 450.1h0.55M336.5 453.5h0.55M349.2 451.0h0.55M367.7 442.6h0.55M363.1 451.4h0.55M352.5 450.5h0.55M365.8 449.1h0.55M362.7 447.8h0.55M352.7 450.1h0.55M341.5 454.2h0.55M351.8 451.9h0.55M358.0 461.8h0.55M362.1 470.4h0.55M352.3 451.5h0.55M360.6 469.2h0.55M360.0 446.1h0.55M353.8 453.4h0.55M351.2 455.7h0.55M345.5 455.4h0.55M353.0 454.3h0.55M359.9 467.2h0.55M354.9 454.7h0.55M354.6 453.2h0.55M349.0 456.5h0.55M360.8 464.2h0.55M350.4 448.9h0.55M340.3 445.4h0.55M365.7 450.8h0.55M360.8 456.0h0.55M349.9 450.3h0.55M357.0 448.1h0.55M358.1 476.3h0.55M366.3 446.9h0.55M358.7 455.9h0.55M357.7 446.6h0.55M352.6 449.7h0.55M350.7 447.9h0.55M363.3 460.4h0.55M353.4 454.1h0.55M355.1 453.1h0.55M363.6 451.6h0.55M350.9 446.1h0.55M357.0 450.4h0.55M349.4 450.9h0.55M345.0 448.8h0.55M335.0 451.4h0.55M357.9 452.2h0.55M358.7 476.4h0.55M350.4 447.8h0.55M342.6 452.5h0.55M362.8 462.9h0.55M348.8 451.3h0.55M339.7 448.3h0.55M353.2 450.1h0.55M368.2 448.4h0.55M367.5 451.9h0.55M350.0 451.2h0.55M363.8 455.3h0.55M359.2 475.5h0.55M362.1 463.2h0.55M370.6 444.8h0.55M345.2 450.4h0.55M344.1 452.5h0.55M350.0 451.5h0.55M362.3 465.0h0.55M346.8 453.5h0.55M360.4 461.4h0.55M361.4 459.8h0.55M358.9 463.9h0.55M360.2 466.4h0.55M345.9 456.5h0.55M361.6 467.1h0.55M353.1 445.5h0.55M362.0 457.8h0.55M354.5 448.9h0.55M356.9 450.6h0.55M360.1 478.2h0.55M356.9 448.4h0.55M362.5 451.5h0.55M364.2 453.1h0.55M340.5 444.3h0.55M347.4 451.5h0.55M354.7 453.9h0.55M358.2 452.6h0.55M360.2 471.8h0.55M364.6 449.8h0.55M349.6 454.4h0.55M359.4 455.4h0.55M336.0 453.3h0.55M361.1 450.1h0.55M354.9 448.5h0.55M345.8 450.0h0.55M360.4 454.8h0.55M347.5 452.3h0.55M352.6 452.8h0.55M359.4 477.5h0.55M350.1 454.1h0.55M343.5 453.0h0.55M344.7 454.1h0.55M355.9 452.4h0.55M356.0 451.3h0.55M358.5 457.5h0.55M356.4 454.1h0.55M358.7 453.1h0.55M358.1 453.5h0.55M348.6 449.3h0.55M357.9 453.5h0.55M359.4 466.2h0.55M359.3 447.5h0.55M361.8 452.8h0.55M361.8 456.6h0.55M358.9 467.3h0.55M359.0 452.0h0.55M356.9 453.7h0.55M351.9 450.8h0.55M346.2 455.1h0.55M365.9 452.0h0.55M345.7 451.3h0.55M356.2 456.4h0.55M346.7 451.8h0.55M359.8 479.4h0.55M350.5 447.8h0.55M343.8 447.8h0.55M348.3 450.8h0.55M345.4 447.0h0.55M361.7 451.7h0.55M361.7 452.6h0.55M369.7 446.4h0.55M349.7 452.7h0.55M359.1 469.6h0.55M345.8 450.3h0.55M351.4 453.1h0.55M352.2 450.2h0.55M350.1 446.5h0.55M362.7 450.9h0.55M350.5 452.7h0.55M367.0 451.9h0.55M348.6 447.7h0.55M351.1 449.9h0.55M349.2 452.0h0.55M345.2 453.9h0.55M360.3 452.1h0.55M354.9 454.4h0.55M335.7 451.8h0.55M360.8 461.6h0.55M365.6 452.0h0.55M354.9 455.0h0.55M351.9 452.0h0.55M364.4 457.4h0.55M350.6 451.1h0.55M361.7 474.8h0.55M345.3 455.2h0.55M346.0 458.8h0.55M348.6 454.9h0.55M360.1 471.6h0.55M348.2 452.3h0.55M352.1 452.2h0.55M355.9 450.8h0.55M350.3 448.6h0.55M351.3 450.7h0.55M368.1 452.7h0.55M362.4 452.1h0.55M369.6 450.4h0.55M358.6 485.7h0.55M366.9 452.8h0.55M364.5 449.9h0.55M345.5 444.3h0.55M361.3 469.1h0.55M362.2 448.8h0.55M360.2 464.1h0.55M359.9 451.3h0.55M351.2 451.5h0.55M344.0 450.7h0.55M358.3 467.0h0.55M357.0 456.9h0.55M353.2 446.5h0.55M344.2 454.6h0.55M360.3 451.0h0.55M366.0 448.2h0.55M359.1 455.0h0.55M359.6 470.1h0.55M362.3 451.9h0.55M345.4 448.4h0.55M346.7 450.3h0.55M362.8 450.1h0.55M366.5 449.6h0.55M356.6 450.3h0.55M361.5 476.4h0.55M360.7 446.8h0.55M360.6 447.4h0.55M369.9 450.9h0.55M366.2 448.5h0.55M356.6 453.8h0.55M359.6 461.0h0.55M361.9 474.2h0.55M347.8 448.8h0.55M344.0 452.8h0.55M361.8 475.0h0.55M352.7 450.2h0.55M366.0 452.2h0.55M359.6 469.5h0.55M339.8 450.8h0.55M348.9 457.5h0.55M357.9 452.7h0.55M358.4 456.1h0.55M355.5 451.6h0.55M361.0 453.3h0.55M344.4 452.3h0.55M350.9 448.5h0.55M348.0 454.0h0.55M349.8 453.5h0.55M363.1 468.6h0.55M365.4 449.4h0.55M358.1 448.2h0.55M346.5 451.9h0.55M358.1 473.8h0.55M348.8 453.4h0.55M363.9 450.3h0.55M344.0 444.1h0.55M358.7 462.2h0.55M363.1 454.1h0.55M347.6 446.9h0.55M361.9 475.9h0.55M361.7 486.9h0.55M358.3 457.3h0.55M342.6 447.1h0.55M344.2 451.5h0.55M343.9 450.3h0.55M354.0 454.0h0.55M348.7 450.2h0.55M369.1 450.1h0.55M359.2 468.2h0.55M350.2 452.3h0.55M364.7 452.6h0.55" stroke="#4a5ca8" stroke-width="0.65" opacity="0.55"/>
<ellipse cx="353" cy="452" rx="6.5" ry="3.0" fill="#5f72ac" opacity="0.8" filter="url(#bl100)"/>
<ellipse cx="360.5" cy="466" rx="1.8" ry="9" fill="#7385b8" opacity="0.75" filter="url(#bl60)"/>
<ellipse cx="365" cy="451.5" rx="3.5" ry="2.5" fill="#6678b0" opacity="0.7" filter="url(#bl60)"/>
</g>
<rect x="325.2" y="425.4" width="52.8" height="52.8" fill="none" stroke="#333" stroke-width="0.8"/>
<line x1="356.4" y1="425.4" x2="356.4" y2="478.2" stroke="#444" stroke-width="0.7"/>
<line x1="325.2" y1="455.7" x2="378" y2="455.7" stroke="#444" stroke-width="0.7"/>
<text x="327.5" y="432" font-size="5.4" fill="#333" stroke="#333" stroke-width="0.24">30.6%</text>
<text x="376" y="432" font-size="5.4" text-anchor="end" fill="#333" stroke="#333" stroke-width="0.24">27.4%</text>
<text x="376" y="475.5" font-size="5.4" text-anchor="end" fill="#333" stroke="#333" stroke-width="0.24">39.2%</text>
<line x1="319.7" y1="483.8" x2="319.7" y2="463.8" stroke="#000" stroke-width="1"/>
<line x1="319.2" y1="483.8" x2="340" y2="483.8" stroke="#000" stroke-width="1"/>
<path d="M317.54,464.14 L319.7,460.5 L321.86,464.14 Z" fill="#000"/>
<path d="M339.66,481.64 L343.3,483.8 L339.66,485.96 Z" fill="#000"/>
<text x="322.3" y="447.5" font-size="8.42" text-anchor="middle" fill="#111" stroke="#111" stroke-width="0.24" textLength="18" lengthAdjust="spacingAndGlyphs" transform="rotate(-90 322.3 447.5)">CD19</text>
<text x="345.3" y="486.5" font-size="8.42" fill="#111" stroke="#111" stroke-width="0.24" textLength="18" lengthAdjust="spacingAndGlyphs">CD43</text>
<g clip-path="url(#fc13)">
<rect x="394.2" y="425.4" width="52.7" height="52.8" fill="#fff"/>
<path d="M435.1 470.2h0.55M400.8 468.8h0.55M418.1 440.7h0.55M423.9 470.2h0.55M444.0 452.3h0.55M434.2 469.3h0.55M428.5 477.3h0.55M418.9 431.3h0.55M418.2 453.3h0.55M434.4 469.2h0.55M397.3 438.3h0.55M403.1 473.2h0.55M400.3 471.1h0.55M405.0 471.1h0.55M421.4 467.7h0.55M444.5 477.3h0.55M399.3 471.9h0.55M433.7 444.4h0.55M405.8 459.8h0.55M431.2 433.1h0.55M432.9 454.7h0.55M430.5 469.2h0.55M419.0 474.1h0.55M424.8 440.0h0.55M414.2 441.4h0.55M444.0 460.1h0.55M423.1 473.6h0.55M426.5 452.5h0.55M418.2 471.1h0.55M421.9 445.2h0.55M405.5 441.3h0.55M435.4 436.8h0.55M439.3 468.1h0.55M407.5 432.0h0.55M439.0 456.3h0.55M439.0 475.0h0.55M404.4 459.9h0.55M408.2 451.8h0.55M401.3 467.5h0.55M415.3 433.6h0.55" stroke="#9aa4d0" stroke-width="0.65" opacity="0.4"/>
<path d="M394,448 L419,447.5 C419,455 416,465 410,478 L394,478 Z" fill="#2a47b6" filter="url(#bl100)"/>
<g filter="url(#bl45)">
<path d="M406.9,480.2 399.4,480.3 393.2,480.1 392.2,479.0 392.1,467.9 392.2,453.3 394.0,450.9 396.2,449.1 398.7,447.7 401.2,447.0 403.2,446.9 405.2,447.0 410.2,448.1 415.7,449.0 417.2,449.6 418.3,450.4 419.1,451.4 419.5,452.6 419.5,454.4 418.7,458.4 419.2,462.6 419.1,465.1 418.7,467.6 417.9,469.9 416.3,472.6 414.2,474.9 410.7,477.7 407.4,480.0 406.9,480.2Z" fill="#2f7fd0"/>
<path d="M401.2,479.7 399.7,479.8 398.4,479.7 397.2,479.3 395.9,478.6 394.7,477.7 393.7,476.5 392.9,475.1 392.2,473.6 392.2,461.1 392.9,458.9 393.8,456.9 395.2,454.7 396.9,452.9 398.7,451.6 400.9,450.7 403.2,450.3 407.4,450.3 412.4,449.9 414.4,450.1 416.2,450.6 416.9,451.2 417.6,451.9 418.0,452.9 418.0,453.9 417.6,455.6 416.0,459.4 415.8,460.4 415.9,463.4 415.8,465.1 415.3,467.1 414.6,468.9 413.7,470.4 412.4,472.0 410.8,473.6 408.7,475.4 406.4,477.1 404.4,478.4 402.7,479.3 401.2,479.7Z" fill="#3cbfae"/>
<path d="M400.2,476.7 399.2,476.6 398.2,476.4 397.2,475.9 396.3,475.1 395.6,474.4 394.9,473.3 394.1,470.9 393.7,467.9 394.1,464.6 394.9,461.4 396.2,458.6 397.4,457.0 398.7,455.7 400.2,454.7 401.7,454.0 408.4,451.8 410.7,451.2 412.2,451.0 413.4,451.0 414.4,451.2 415.4,451.6 416.1,452.1 416.6,452.9 416.7,453.9 416.6,454.9 415.9,456.4 413.7,459.4 413.0,460.6 412.7,461.6 412.6,463.9 412.3,465.4 411.8,466.9 411.1,468.4 410.0,469.9 408.7,471.4 405.4,474.4 403.9,475.4 402.7,476.0 401.4,476.5 400.2,476.7Z" fill="#6cc850"/>
<path d="M401.4,471.7 400.2,471.8 398.9,471.2 398.2,470.4 397.6,468.9 397.4,467.1 397.7,465.4 398.2,463.6 399.2,461.8 400.4,460.3 403.2,457.9 405.5,455.4 407.8,453.6 409.7,452.7 411.4,452.3 412.9,452.2 414.3,452.6 414.9,453.3 415.2,454.1 415.0,455.1 414.5,456.1 413.7,457.1 412.7,458.0 409.5,460.1 408.6,460.9 407.9,462.1 407.6,464.4 407.2,465.6 406.2,467.6 405.2,469.0 403.9,470.3 402.7,471.2 401.4,471.7Z" fill="#b8d63a"/>
<path d="M410.2,457.7 408.7,457.9 408.2,457.7 407.7,457.4 407.5,456.9 407.5,456.4 408.0,455.4 409.0,454.4 410.4,453.7 411.9,453.4 413.0,453.6 413.3,453.9 413.5,454.4 413.5,454.9 413.2,455.6 412.7,456.3 411.9,456.9 410.2,457.7Z" fill="#e6dc2c"/>
</g>
<path d="M396.0 442.5h0.55M411.3 444.8h0.55M397.4 442.5h0.55M397.7 441.6h0.55M403.9 441.7h0.55M399.0 439.9h0.55M391.8 442.0h0.55M404.2 443.8h0.55M397.2 440.9h0.55M411.7 443.4h0.55M409.1 441.2h0.55M397.9 439.9h0.55M409.8 440.0h0.55M390.8 440.8h0.55M411.7 442.5h0.55M404.5 442.7h0.55M402.5 442.1h0.55M393.1 446.1h0.55M401.8 445.1h0.55M391.9 443.6h0.55M394.6 439.6h0.55M404.7 444.7h0.55M412.4 445.4h0.55M401.0 444.2h0.55M398.7 441.3h0.55M404.6 442.2h0.55M408.8 438.4h0.55M410.8 441.2h0.55M413.2 445.0h0.55M394.8 442.3h0.55M407.6 440.7h0.55M397.7 441.8h0.55M408.1 444.5h0.55M399.9 444.3h0.55M413.2 444.5h0.55M397.8 440.6h0.55M404.9 444.3h0.55M405.9 441.6h0.55M396.4 445.2h0.55M401.9 446.6h0.55M394.9 441.7h0.55M398.4 446.5h0.55M411.5 441.4h0.55M389.5 445.0h0.55M403.8 440.0h0.55M392.5 443.4h0.55M401.5 442.8h0.55M405.7 441.7h0.55M401.0 443.9h0.55M402.2 441.9h0.55M407.4 438.2h0.55M411.6 443.5h0.55M397.6 442.1h0.55M411.5 443.7h0.55M390.6 440.3h0.55M404.2 446.4h0.55M408.3 442.1h0.55M407.0 442.5h0.55M400.9 443.3h0.55M388.1 444.7h0.55M406.7 441.5h0.55M397.0 439.9h0.55M404.9 442.8h0.55M404.2 446.2h0.55M387.7 440.9h0.55M397.6 444.6h0.55M401.3 440.4h0.55M404.4 443.4h0.55M414.2 443.1h0.55M399.9 441.4h0.55M397.4 443.6h0.55M408.7 442.0h0.55M402.1 445.5h0.55M403.7 443.6h0.55M395.5 441.2h0.55M388.2 439.5h0.55M405.6 445.2h0.55M401.2 439.9h0.55M403.6 445.0h0.55M401.9 444.5h0.55M402.6 439.8h0.55M396.7 441.9h0.55M418.8 443.8h0.55M401.4 443.1h0.55M404.5 441.5h0.55M402.3 441.9h0.55M408.2 445.9h0.55M412.2 441.8h0.55M406.9 440.9h0.55M395.4 442.7h0.55M407.2 442.4h0.55M408.8 444.3h0.55M408.3 442.2h0.55M393.6 446.4h0.55M399.7 444.1h0.55M406.4 441.7h0.55M415.7 444.0h0.55M402.9 441.6h0.55M396.3 439.7h0.55M407.0 441.5h0.55M399.9 443.6h0.55M400.6 443.9h0.55M398.6 441.4h0.55M409.4 441.0h0.55M407.3 443.6h0.55M403.1 438.9h0.55M393.9 440.1h0.55M394.1 444.4h0.55M397.0 439.8h0.55M399.5 442.3h0.55M391.5 443.8h0.55M408.0 441.2h0.55M408.6 439.1h0.55M399.2 442.1h0.55M403.5 445.0h0.55M400.7 440.3h0.55M404.5 442.8h0.55M406.1 441.8h0.55M404.2 441.3h0.55M406.9 441.1h0.55M398.7 445.0h0.55M397.7 442.5h0.55M406.9 441.8h0.55M409.2 441.2h0.55M410.0 439.1h0.55M393.7 442.6h0.55M412.8 446.0h0.55M397.1 442.4h0.55M399.6 437.9h0.55M408.0 441.7h0.55M412.4 443.1h0.55M399.3 441.0h0.55M401.7 443.5h0.55M399.6 448.6h0.55M404.4 440.0h0.55M403.5 445.0h0.55M405.9 441.8h0.55M398.4 440.8h0.55M394.8 441.4h0.55M404.8 441.3h0.55M414.2 443.3h0.55M399.9 442.4h0.55M413.1 438.8h0.55M404.6 448.3h0.55M409.9 440.5h0.55M403.8 442.0h0.55M422.2 441.0h0.55M401.1 441.8h0.55M393.2 435.4h0.55M401.3 443.6h0.55M400.0 443.6h0.55M408.2 444.0h0.55M391.3 445.8h0.55M408.9 444.2h0.55M403.1 442.5h0.55M399.2 443.4h0.55M409.3 441.3h0.55M408.6 441.5h0.55M407.1 442.2h0.55M408.9 446.7h0.55M404.5 441.4h0.55M400.0 443.8h0.55M399.6 444.6h0.55M405.0 444.5h0.55M399.2 440.4h0.55M397.9 443.4h0.55M397.6 444.0h0.55M388.8 441.1h0.55M401.9 438.5h0.55M398.8 439.3h0.55M402.5 442.0h0.55M408.1 440.7h0.55M391.8 441.3h0.55M403.9 442.7h0.55M404.2 445.1h0.55M400.6 442.0h0.55M397.2 441.2h0.55M410.2 443.3h0.55M385.0 445.1h0.55M389.3 441.6h0.55M409.7 442.8h0.55M406.9 444.4h0.55M405.1 439.8h0.55M405.6 441.0h0.55M386.4 441.9h0.55M406.8 442.8h0.55M403.1 446.3h0.55M404.9 444.5h0.55M405.3 446.1h0.55M400.5 445.1h0.55M415.6 441.7h0.55M410.3 439.6h0.55M405.3 444.1h0.55M397.3 438.6h0.55M403.4 441.8h0.55M404.4 443.2h0.55M408.8 445.9h0.55M406.1 439.2h0.55M407.8 443.4h0.55M404.1 446.0h0.55" stroke="#3a4fbc" stroke-width="0.65" opacity="0.6"/>
<path d="M426.8 460.5h0.55M427.2 479.7h0.55M425.4 474.3h0.55M427.4 463.4h0.55M426.1 469.4h0.55M427.5 465.4h0.55M427.6 454.4h0.55M424.4 453.1h0.55M425.2 460.2h0.55M425.1 466.8h0.55M423.7 459.9h0.55M428.2 477.0h0.55M426.1 472.7h0.55M429.4 453.0h0.55M426.6 452.7h0.55M425.1 465.7h0.55M422.9 466.8h0.55M425.7 459.9h0.55M427.3 454.7h0.55M421.8 462.3h0.55M424.2 460.3h0.55M423.3 453.7h0.55M423.5 450.7h0.55M424.0 455.0h0.55M426.1 490.0h0.55M424.5 447.9h0.55M427.4 451.0h0.55M423.8 458.9h0.55M426.1 462.6h0.55M426.6 460.9h0.55M428.7 469.3h0.55M424.6 460.0h0.55M422.7 467.7h0.55M425.5 478.7h0.55M424.3 475.3h0.55M423.7 447.0h0.55M423.9 464.9h0.55M428.5 454.2h0.55M428.3 457.3h0.55M424.7 459.2h0.55M430.0 463.5h0.55M426.7 448.5h0.55M426.4 464.3h0.55M430.0 454.2h0.55M424.2 453.8h0.55M424.4 467.8h0.55M424.0 473.1h0.55M426.0 453.8h0.55M424.4 449.7h0.55M422.4 472.0h0.55M428.1 453.2h0.55M424.8 475.9h0.55M424.2 463.7h0.55M427.2 460.0h0.55M425.5 458.8h0.55M426.2 448.0h0.55M426.0 463.3h0.55M422.7 465.7h0.55M423.6 438.6h0.55M421.2 462.6h0.55M427.3 457.9h0.55M422.4 460.3h0.55M428.2 461.3h0.55M422.3 465.8h0.55M425.4 460.1h0.55M426.1 466.6h0.55M425.6 453.2h0.55M425.6 462.8h0.55M428.8 450.9h0.55M425.6 453.9h0.55M426.6 456.8h0.55M418.4 470.0h0.55M424.3 452.0h0.55M422.2 452.2h0.55M422.7 460.3h0.55M426.2 460.9h0.55M426.8 454.3h0.55M427.4 460.7h0.55M427.0 467.0h0.55M425.0 472.5h0.55M427.8 458.0h0.55M430.2 476.3h0.55M422.1 441.9h0.55M424.4 465.7h0.55M428.2 467.5h0.55M425.9 470.2h0.55M427.7 457.8h0.55M426.4 471.0h0.55M424.4 456.2h0.55M423.9 474.6h0.55M427.6 469.1h0.55M425.0 461.5h0.55M428.9 459.3h0.55M428.8 461.6h0.55M425.9 466.6h0.55M428.0 477.2h0.55M425.1 476.6h0.55M424.1 454.2h0.55M420.5 469.2h0.55M429.5 451.3h0.55M425.2 459.5h0.55M422.2 462.4h0.55M426.7 457.4h0.55M423.5 463.0h0.55M427.4 449.4h0.55M425.7 466.7h0.55M419.1 464.6h0.55M430.1 450.6h0.55M429.1 459.2h0.55M427.4 460.4h0.55M423.2 446.8h0.55M431.8 450.1h0.55M425.3 474.4h0.55M426.7 463.4h0.55M421.0 456.4h0.55M422.7 446.1h0.55M426.8 469.2h0.55M424.1 456.1h0.55M427.0 469.6h0.55M423.4 472.2h0.55M428.3 461.9h0.55M423.2 466.9h0.55M427.7 477.3h0.55M424.5 475.8h0.55M425.1 466.5h0.55M425.7 462.6h0.55M429.6 455.9h0.55M428.0 459.5h0.55M425.9 455.6h0.55M426.5 444.3h0.55M425.3 470.8h0.55M428.0 447.6h0.55M423.2 458.2h0.55M430.6 458.1h0.55M425.9 459.7h0.55M426.7 453.9h0.55M426.6 466.1h0.55M428.5 454.1h0.55M428.2 478.9h0.55M427.9 468.0h0.55M420.0 473.8h0.55M430.7 472.7h0.55M427.2 469.3h0.55M433.4 455.6h0.55M425.0 471.7h0.55M426.6 442.8h0.55M426.5 465.0h0.55M423.7 465.3h0.55M426.6 446.0h0.55M427.3 481.1h0.55M430.3 451.9h0.55M422.7 462.5h0.55M426.7 450.0h0.55M424.2 474.1h0.55M426.6 471.2h0.55M425.9 471.1h0.55M424.7 457.3h0.55M423.6 444.8h0.55M425.0 449.8h0.55M424.8 463.2h0.55M426.4 465.4h0.55M425.0 461.4h0.55M428.8 460.5h0.55M426.0 440.0h0.55M423.2 471.7h0.55M423.8 452.3h0.55M428.4 450.9h0.55M428.4 461.0h0.55M424.4 443.5h0.55M429.3 445.6h0.55M422.9 468.9h0.55M422.9 466.4h0.55M425.9 459.4h0.55M423.3 455.9h0.55M426.6 453.0h0.55M427.5 464.0h0.55M427.3 463.9h0.55M427.3 465.2h0.55M428.0 465.2h0.55M426.8 453.6h0.55M421.7 462.3h0.55M428.3 453.5h0.55M422.0 456.9h0.55M426.8 469.5h0.55M425.1 451.3h0.55M425.8 467.9h0.55M425.8 470.9h0.55M424.7 469.6h0.55M430.0 452.9h0.55M423.8 467.6h0.55M433.7 466.3h0.55M425.9 473.5h0.55M425.7 447.3h0.55M423.6 473.9h0.55M421.8 449.1h0.55M428.0 463.1h0.55M429.0 452.3h0.55M424.1 458.7h0.55M422.9 459.7h0.55M425.5 469.6h0.55" stroke="#4a5ec0" stroke-width="0.65" opacity="0.6"/>
</g>
<rect x="394.2" y="425.4" width="52.7" height="52.8" fill="none" stroke="#333" stroke-width="0.8"/>
<line x1="419.4" y1="425.4" x2="419.4" y2="478.2" stroke="#444" stroke-width="0.7"/>
<line x1="394.2" y1="447.3" x2="446.9" y2="447.3" stroke="#444" stroke-width="0.7"/>
<text x="396.5" y="431.9" font-size="5.4" fill="#333" stroke="#333" stroke-width="0.24">2.5%</text>
<text x="445" y="475.2" font-size="5.4" text-anchor="end" fill="#333" stroke="#333" stroke-width="0.24">2.7%</text>
<line x1="388.5" y1="483.8" x2="388.5" y2="463.8" stroke="#000" stroke-width="1"/>
<line x1="388" y1="483.8" x2="409" y2="483.8" stroke="#000" stroke-width="1"/>
<path d="M386.34,464.14 L388.5,460.5 L390.66,464.14 Z" fill="#000"/>
<path d="M408.66,481.64 L412.3,483.8 L408.66,485.96 Z" fill="#000"/>
<text x="391.1" y="449.5" font-size="8.42" text-anchor="middle" fill="#111" stroke="#111" stroke-width="0.24" textLength="13.5" lengthAdjust="spacingAndGlyphs" transform="rotate(-90 391.1 449.5)">CD8</text>
<text x="414" y="486.5" font-size="8.42" fill="#111" stroke="#111" stroke-width="0.24" textLength="14.5" lengthAdjust="spacingAndGlyphs">CD4</text>
<g clip-path="url(#fc14)">
<rect x="460.4" y="425.4" width="53.8" height="52.8" fill="#fff"/>
<path d="M451.6 478.0h0.55M480.7 468.6h0.55M492.9 470.6h0.55M497.2 444.9h0.55M472.4 458.5h0.55M475.2 453.6h0.55M470.2 447.5h0.55M479.3 446.6h0.55M486.7 444.1h0.55M490.8 451.6h0.55M455.6 443.7h0.55M494.6 440.6h0.55M470.7 459.7h0.55M475.1 468.7h0.55M487.9 472.3h0.55M471.9 458.5h0.55M471.7 467.7h0.55M518.9 458.3h0.55M469.4 466.6h0.55M475.7 462.6h0.55M473.5 456.5h0.55M484.8 429.6h0.55M505.2 444.1h0.55M517.2 421.6h0.55M506.1 443.4h0.55M467.3 471.6h0.55M463.7 456.1h0.55M459.7 446.5h0.55M455.4 451.2h0.55M478.3 439.4h0.55M480.8 446.4h0.55M460.8 460.9h0.55M461.4 455.4h0.55M496.7 442.7h0.55M497.0 435.9h0.55M476.9 466.9h0.55M510.1 445.4h0.55M464.9 449.9h0.55M446.3 447.6h0.55M500.5 452.2h0.55M456.1 465.0h0.55M455.5 471.4h0.55M493.3 449.6h0.55M474.3 469.2h0.55M470.0 464.6h0.55M517.4 445.7h0.55M461.7 452.5h0.55M502.4 458.1h0.55M480.1 436.7h0.55M463.4 440.9h0.55M460.2 444.5h0.55M503.4 442.2h0.55M490.5 459.5h0.55M474.6 474.9h0.55M469.6 459.6h0.55M472.4 460.5h0.55M500.5 460.6h0.55M497.5 443.1h0.55M495.9 475.8h0.55M512.7 437.4h0.55M470.7 448.9h0.55M483.3 446.3h0.55M490.6 474.1h0.55M492.6 442.5h0.55M468.6 441.5h0.55M499.7 432.9h0.55M480.6 447.0h0.55M486.5 435.8h0.55M486.8 456.6h0.55M506.2 441.3h0.55M472.7 475.0h0.55M486.2 467.4h0.55M473.9 468.6h0.55M465.4 469.1h0.55M486.9 436.0h0.55M519.7 438.0h0.55M467.3 460.1h0.55M470.9 465.5h0.55M463.6 470.7h0.55M454.5 468.5h0.55M491.5 444.2h0.55M485.5 473.1h0.55M503.9 444.8h0.55M468.7 450.8h0.55M473.3 472.4h0.55M503.0 462.7h0.55M498.9 444.6h0.55M464.1 465.6h0.55M473.6 477.8h0.55M462.7 442.5h0.55M493.7 458.3h0.55M497.2 450.1h0.55M493.3 449.4h0.55M482.1 460.4h0.55M485.9 445.8h0.55M493.1 442.8h0.55M492.9 466.2h0.55M464.9 447.1h0.55M490.2 449.6h0.55M468.3 458.7h0.55M488.1 444.5h0.55M474.2 440.5h0.55M469.7 454.0h0.55M489.0 460.2h0.55M466.8 440.3h0.55M451.3 454.9h0.55M475.9 446.9h0.55M461.3 448.4h0.55M503.7 447.8h0.55M482.3 462.6h0.55M478.6 452.2h0.55M474.5 472.2h0.55M480.2 447.9h0.55M457.9 469.3h0.55M468.5 459.4h0.55M496.2 450.6h0.55M512.2 447.7h0.55M468.1 467.8h0.55M472.5 465.5h0.55M497.9 450.3h0.55M447.1 475.2h0.55M455.3 483.0h0.55M453.5 462.5h0.55M476.7 447.6h0.55M500.0 440.1h0.55M507.0 429.1h0.55M468.9 473.0h0.55M475.3 447.7h0.55M471.4 450.0h0.55M477.9 451.0h0.55M493.1 449.7h0.55M471.9 447.8h0.55M472.2 473.4h0.55M495.4 452.7h0.55M481.6 435.0h0.55M466.8 453.0h0.55M479.0 439.1h0.55M470.4 464.8h0.55M453.9 462.8h0.55M488.4 446.3h0.55M506.1 438.4h0.55M529.2 425.8h0.55M485.0 459.9h0.55M487.6 459.5h0.55M493.5 442.9h0.55M509.2 435.4h0.55M466.6 474.2h0.55M466.9 470.3h0.55M484.8 468.2h0.55M492.8 449.1h0.55M478.7 466.2h0.55M474.0 464.4h0.55M486.9 455.1h0.55M510.5 435.7h0.55M485.4 433.7h0.55M470.9 461.7h0.55M490.6 450.8h0.55M473.2 462.5h0.55M479.8 463.5h0.55M491.4 462.8h0.55M472.0 484.2h0.55M478.1 434.3h0.55M495.1 446.4h0.55M497.4 444.2h0.55M468.4 480.9h0.55M491.3 451.1h0.55M478.3 459.1h0.55M489.0 465.3h0.55M506.8 446.1h0.55M504.6 452.9h0.55M458.2 464.8h0.55M502.8 439.6h0.55M489.0 453.6h0.55M473.3 442.3h0.55M507.4 448.3h0.55M482.7 480.8h0.55M507.2 432.6h0.55M502.0 434.5h0.55M473.7 442.1h0.55M462.3 457.9h0.55M477.2 448.8h0.55M459.8 449.7h0.55M497.3 470.7h0.55M470.3 466.9h0.55M493.0 445.4h0.55M462.7 452.6h0.55M468.1 461.6h0.55M501.7 440.2h0.55M497.6 463.0h0.55M498.3 441.6h0.55M455.4 474.4h0.55M504.9 447.7h0.55M485.3 481.5h0.55M472.1 449.2h0.55M464.6 457.9h0.55M499.9 445.3h0.55M478.4 421.9h0.55M512.5 445.9h0.55M485.3 464.8h0.55M486.3 461.7h0.55M500.6 432.9h0.55M481.8 447.7h0.55M479.3 477.0h0.55M467.6 443.0h0.55M480.6 451.1h0.55M475.0 450.4h0.55M494.3 449.9h0.55M490.2 437.4h0.55M473.7 449.1h0.55M484.7 441.8h0.55M487.2 475.9h0.55M479.9 451.2h0.55M499.3 468.5h0.55M470.1 461.3h0.55M480.7 443.2h0.55M465.9 466.0h0.55M480.9 443.7h0.55M498.8 459.7h0.55M489.7 438.1h0.55M496.3 437.6h0.55M505.0 441.7h0.55M481.0 451.6h0.55M489.2 438.6h0.55M498.9 443.1h0.55M486.5 458.1h0.55M485.3 473.2h0.55M485.0 463.2h0.55M455.2 471.3h0.55M469.0 458.8h0.55M503.7 443.5h0.55M473.3 466.2h0.55M472.2 445.5h0.55M467.9 444.6h0.55M469.0 467.0h0.55M453.9 477.8h0.55M485.9 459.6h0.55M463.1 443.4h0.55M493.0 440.8h0.55M500.9 437.8h0.55M458.9 463.2h0.55M495.4 443.2h0.55M498.3 454.9h0.55M469.1 460.9h0.55M489.5 448.1h0.55M492.6 441.1h0.55M472.9 449.2h0.55M461.0 451.9h0.55M482.6 467.0h0.55M473.6 469.5h0.55M481.3 450.7h0.55M483.4 479.3h0.55M465.3 472.8h0.55M481.3 445.7h0.55M500.0 431.7h0.55M503.7 448.1h0.55M474.3 441.8h0.55M476.2 446.8h0.55M475.8 477.7h0.55M465.1 462.7h0.55M470.8 461.9h0.55M482.6 459.9h0.55M470.8 448.9h0.55M478.0 450.7h0.55M495.2 447.3h0.55M490.2 455.2h0.55M454.9 469.6h0.55M478.1 448.2h0.55M473.6 467.0h0.55M502.3 439.1h0.55M480.6 476.5h0.55M493.5 447.5h0.55M482.1 476.8h0.55M471.7 443.3h0.55M502.8 430.9h0.55M501.9 446.7h0.55M497.3 441.7h0.55M470.8 457.2h0.55M501.9 447.4h0.55M499.2 454.1h0.55M499.2 443.5h0.55M480.1 465.8h0.55M470.1 447.5h0.55M485.8 467.5h0.55M496.6 455.6h0.55M478.3 463.8h0.55M487.8 456.9h0.55M478.1 467.3h0.55M497.6 439.7h0.55M474.8 449.4h0.55M503.7 446.3h0.55M491.6 456.6h0.55M471.5 447.8h0.55M478.1 456.1h0.55M451.0 441.2h0.55M505.2 445.2h0.55M479.1 446.2h0.55M500.8 447.0h0.55M477.9 460.3h0.55M488.8 439.5h0.55M496.3 444.2h0.55M446.7 467.9h0.55M504.3 448.0h0.55M504.2 449.9h0.55M473.8 481.3h0.55M473.7 443.9h0.55M504.6 447.8h0.55M486.7 452.6h0.55M483.2 440.1h0.55M489.5 463.6h0.55M471.7 465.5h0.55M456.5 464.7h0.55M474.8 470.2h0.55M482.0 469.5h0.55M466.6 446.2h0.55M481.7 441.4h0.55M478.9 459.3h0.55M488.5 463.2h0.55M501.2 439.2h0.55M450.8 488.5h0.55M484.3 447.3h0.55M492.0 455.4h0.55M500.4 438.1h0.55M477.0 448.6h0.55M496.3 439.9h0.55M459.2 458.5h0.55M487.7 465.2h0.55M445.2 453.6h0.55M473.6 443.4h0.55M501.1 440.6h0.55M490.2 468.3h0.55M488.2 457.0h0.55M498.0 443.2h0.55M494.6 446.0h0.55M466.9 451.2h0.55M483.7 464.5h0.55M509.8 449.6h0.55M468.0 453.2h0.55M456.0 453.2h0.55M437.4 477.2h0.55M473.1 443.3h0.55M452.8 442.0h0.55M477.5 439.3h0.55M507.5 446.1h0.55M506.2 442.8h0.55M480.1 453.3h0.55M519.6 438.0h0.55M477.5 465.0h0.55M484.1 437.6h0.55M493.7 441.6h0.55M452.0 491.0h0.55M473.2 468.1h0.55M466.6 445.1h0.55M510.9 440.5h0.55M480.6 438.9h0.55M482.7 442.7h0.55M484.9 442.5h0.55M492.1 456.3h0.55M492.9 450.3h0.55M465.7 451.7h0.55M477.7 445.9h0.55M504.2 446.7h0.55M482.0 467.3h0.55M495.4 463.7h0.55M478.1 483.1h0.55M495.9 443.2h0.55M466.8 445.5h0.55M515.2 435.8h0.55M465.1 466.9h0.55M476.9 449.6h0.55M470.8 468.6h0.55M516.3 430.7h0.55M468.2 458.7h0.55M483.4 443.4h0.55M520.0 444.8h0.55M503.0 437.4h0.55M470.7 444.8h0.55M499.4 441.0h0.55M468.9 446.9h0.55M480.8 453.2h0.55M482.2 467.8h0.55M477.1 480.7h0.55M496.4 461.6h0.55M506.0 428.7h0.55M496.7 457.7h0.55M507.3 448.7h0.55M491.2 432.3h0.55M465.0 449.1h0.55M453.9 445.6h0.55M482.5 461.1h0.55M499.4 447.7h0.55M464.5 457.6h0.55M493.4 456.0h0.55M490.3 452.8h0.55M474.8 440.5h0.55M487.3 462.4h0.55M467.5 472.2h0.55M507.9 467.0h0.55M481.0 454.7h0.55M457.6 460.8h0.55M447.0 459.8h0.55M481.1 445.4h0.55M476.7 439.5h0.55M440.5 464.6h0.55M516.0 446.7h0.55M462.2 472.0h0.55M480.6 446.1h0.55M499.8 450.2h0.55M500.2 455.1h0.55M489.5 453.2h0.55M479.1 445.0h0.55M491.0 445.5h0.55M479.6 445.3h0.55M467.8 468.8h0.55M473.8 453.1h0.55M508.2 462.9h0.55M477.2 445.5h0.55M463.8 452.1h0.55M480.6 447.9h0.55M466.6 447.1h0.55M500.4 453.3h0.55M475.7 447.8h0.55M474.7 445.7h0.55M478.6 446.8h0.55M479.4 459.3h0.55M486.5 442.5h0.55M483.4 477.2h0.55M484.8 447.2h0.55M497.9 447.4h0.55M470.2 466.6h0.55M486.9 448.5h0.55M457.7 472.5h0.55M488.3 451.5h0.55M497.0 450.5h0.55M500.8 445.9h0.55M501.6 446.5h0.55M476.7 459.6h0.55M500.3 452.9h0.55M478.2 464.7h0.55M478.3 462.8h0.55M514.2 445.7h0.55M458.6 463.8h0.55M442.1 451.4h0.55M490.1 445.9h0.55M474.1 472.1h0.55M473.2 471.6h0.55M513.2 450.5h0.55M475.3 460.0h0.55M474.1 452.1h0.55M515.3 441.7h0.55M472.1 466.0h0.55M471.6 461.3h0.55M495.6 453.9h0.55M503.2 441.6h0.55M455.8 476.3h0.55M460.3 440.8h0.55M485.1 453.2h0.55M472.6 445.2h0.55M466.8 453.2h0.55M457.2 480.5h0.55M481.8 472.7h0.55M482.8 445.7h0.55M464.4 479.0h0.55M508.2 442.4h0.55M471.8 448.9h0.55M468.5 470.9h0.55M488.6 449.8h0.55M465.2 469.2h0.55M462.1 463.3h0.55M484.6 444.6h0.55M469.2 444.5h0.55M489.0 448.4h0.55M474.0 466.0h0.55M469.7 460.3h0.55M470.6 478.2h0.55M502.8 450.0h0.55M475.9 462.9h0.55M489.1 471.7h0.55M471.2 460.0h0.55M469.6 463.9h0.55M495.4 447.3h0.55M466.3 474.7h0.55M502.9 442.7h0.55M481.2 473.0h0.55M494.0 443.9h0.55M469.9 473.1h0.55M499.6 444.6h0.55M499.3 433.9h0.55M500.8 435.1h0.55M461.9 445.6h0.55M503.6 434.3h0.55M499.7 436.7h0.55M480.5 446.8h0.55M507.4 439.3h0.55M493.9 433.9h0.55M493.1 458.7h0.55M487.8 455.1h0.55M480.1 449.0h0.55M468.7 465.5h0.55M503.5 442.6h0.55M458.2 459.1h0.55M477.6 448.6h0.55M513.0 440.4h0.55M472.0 469.3h0.55M468.8 462.7h0.55M485.9 439.9h0.55M469.8 460.4h0.55M484.6 455.4h0.55M497.9 468.8h0.55M504.5 449.9h0.55M466.8 458.9h0.55M461.7 458.2h0.55M490.6 445.6h0.55M481.9 452.2h0.55M499.9 464.0h0.55M452.4 493.0h0.55M485.2 448.0h0.55M506.4 438.9h0.55M489.6 436.4h0.55M497.4 414.6h0.55M506.0 450.5h0.55M490.4 443.5h0.55M475.5 454.0h0.55M473.5 464.5h0.55M460.9 441.4h0.55M494.6 432.6h0.55M501.6 458.9h0.55M465.4 441.5h0.55M468.8 474.8h0.55M466.6 446.1h0.55M441.9 477.3h0.55M483.8 456.0h0.55M483.5 462.2h0.55M446.6 469.9h0.55M464.9 468.4h0.55M487.1 460.6h0.55M442.4 457.1h0.55M489.8 438.8h0.55M438.6 475.2h0.55M468.3 451.3h0.55M496.5 452.6h0.55M466.1 471.2h0.55M475.7 444.3h0.55M496.7 438.5h0.55M499.1 439.9h0.55M471.1 447.4h0.55M485.0 447.7h0.55M468.0 465.6h0.55M510.5 455.2h0.55M473.2 475.4h0.55M493.2 451.7h0.55M457.3 458.4h0.55M477.1 434.5h0.55M498.4 447.1h0.55M457.8 453.9h0.55M490.0 440.3h0.55M472.7 445.5h0.55M471.0 458.3h0.55M500.2 464.1h0.55M472.9 466.2h0.55M475.0 443.1h0.55M490.2 444.8h0.55M468.1 474.2h0.55M449.4 473.3h0.55M497.2 443.9h0.55M458.3 443.5h0.55M483.9 462.6h0.55M498.6 442.4h0.55M465.6 446.8h0.55M441.0 493.2h0.55M478.2 461.5h0.55M470.9 478.1h0.55M479.5 474.8h0.55M467.1 462.9h0.55M475.5 452.9h0.55M472.9 469.6h0.55M468.5 464.6h0.55M473.9 447.6h0.55M486.1 460.4h0.55M479.8 446.6h0.55M504.1 440.2h0.55M485.4 446.6h0.55M482.2 444.5h0.55M459.8 445.5h0.55M473.7 467.9h0.55M504.8 450.3h0.55M451.9 456.4h0.55M472.0 443.5h0.55M474.5 448.6h0.55M484.3 446.3h0.55M493.7 447.0h0.55M489.1 445.2h0.55M503.4 441.0h0.55M488.8 465.2h0.55M456.1 476.3h0.55M500.6 444.5h0.55M464.1 445.2h0.55M485.5 463.1h0.55M474.8 469.1h0.55M451.2 483.4h0.55M473.4 457.4h0.55M471.1 446.2h0.55M477.2 450.4h0.55M500.3 441.2h0.55M481.4 460.4h0.55M481.7 446.3h0.55M472.3 459.5h0.55M463.5 464.7h0.55M466.6 465.0h0.55M481.1 440.7h0.55M477.6 445.8h0.55M481.8 446.5h0.55M506.2 446.2h0.55M464.1 447.0h0.55M466.0 465.9h0.55M465.0 464.9h0.55M473.4 466.8h0.55M513.3 432.5h0.55M483.9 454.3h0.55M477.3 456.4h0.55M482.8 453.8h0.55M478.3 465.1h0.55M465.5 446.8h0.55M486.4 450.4h0.55M478.9 457.8h0.55M476.6 464.3h0.55M474.3 461.6h0.55M476.1 455.3h0.55M480.2 444.5h0.55M497.9 453.1h0.55M474.5 445.5h0.55M459.3 445.3h0.55M493.4 445.7h0.55M478.5 459.1h0.55M497.1 438.3h0.55M487.6 458.8h0.55M491.1 447.6h0.55M479.5 445.6h0.55M508.7 445.6h0.55M505.2 425.4h0.55M479.9 454.3h0.55M484.3 446.4h0.55M502.5 445.5h0.55M481.3 468.6h0.55M501.8 449.5h0.55M487.3 455.8h0.55M456.9 456.4h0.55M464.1 475.6h0.55M463.9 482.9h0.55M493.9 438.0h0.55M481.8 442.5h0.55M471.3 464.4h0.55M506.7 449.9h0.55M482.8 443.5h0.55M502.2 441.8h0.55M487.3 458.2h0.55M480.1 442.6h0.55M484.5 436.6h0.55M490.0 450.3h0.55M478.3 446.6h0.55M477.7 460.8h0.55M474.5 458.3h0.55M496.4 446.1h0.55M483.3 440.2h0.55M471.3 458.4h0.55M471.3 444.5h0.55M508.2 442.2h0.55M502.9 446.9h0.55M503.6 436.2h0.55M475.5 469.3h0.55M493.4 435.3h0.55M471.2 473.0h0.55M466.7 450.0h0.55M475.8 441.1h0.55M477.9 463.9h0.55M472.3 470.3h0.55M472.8 463.0h0.55M477.6 444.3h0.55M481.1 445.8h0.55M479.9 458.4h0.55M512.9 460.0h0.55M507.6 438.6h0.55M485.3 453.9h0.55M483.4 446.1h0.55M457.0 448.7h0.55M505.3 450.0h0.55M490.8 439.3h0.55M472.8 472.2h0.55M506.9 439.1h0.55M465.4 455.7h0.55M495.6 441.5h0.55M493.8 452.5h0.55M473.8 472.5h0.55M505.7 439.6h0.55M475.7 448.4h0.55M503.2 452.0h0.55M462.9 464.8h0.55M459.7 440.9h0.55M461.4 468.9h0.55M467.4 443.4h0.55M478.9 464.0h0.55M495.1 445.7h0.55M469.8 443.1h0.55M495.4 433.6h0.55M466.0 449.0h0.55M496.1 446.2h0.55M495.6 450.1h0.55M470.9 463.1h0.55M500.7 455.3h0.55M478.1 454.8h0.55M462.9 446.8h0.55M499.7 458.9h0.55M495.6 437.4h0.55M489.1 454.8h0.55M456.8 471.4h0.55M495.2 439.5h0.55M492.3 461.8h0.55M502.6 434.9h0.55M499.1 448.5h0.55M475.9 456.9h0.55M503.5 411.8h0.55M493.7 441.6h0.55M474.1 452.5h0.55M472.5 445.0h0.55M499.9 441.0h0.55M502.9 471.7h0.55M467.4 445.8h0.55M470.4 440.3h0.55M475.6 463.0h0.55M450.8 475.4h0.55M498.0 438.2h0.55M484.2 442.8h0.55M464.1 478.6h0.55M481.6 458.6h0.55M456.6 465.5h0.55M466.3 465.9h0.55M488.4 468.3h0.55M482.1 460.0h0.55M478.7 476.8h0.55M489.4 463.3h0.55M469.3 446.0h0.55M471.1 443.6h0.55M477.3 442.5h0.55M483.5 460.4h0.55M505.3 426.0h0.55M474.9 448.4h0.55M501.0 448.4h0.55M479.2 447.4h0.55M497.0 443.6h0.55M474.0 450.8h0.55M480.0 445.8h0.55M460.8 455.4h0.55M484.3 442.9h0.55M473.5 471.9h0.55M470.7 469.7h0.55M500.2 445.4h0.55M474.1 437.0h0.55M511.4 447.8h0.55M460.4 450.6h0.55M471.0 467.6h0.55M508.5 449.7h0.55M511.9 448.7h0.55M496.7 439.4h0.55M495.7 451.8h0.55M489.5 447.9h0.55M470.3 443.6h0.55M505.9 443.7h0.55M484.4 465.4h0.55M501.7 450.2h0.55M484.3 456.4h0.55M472.8 450.5h0.55M455.0 442.9h0.55M463.7 440.7h0.55M484.5 458.4h0.55M499.7 443.0h0.55M508.5 444.5h0.55M506.3 437.6h0.55M491.3 467.3h0.55M479.6 471.4h0.55M468.8 467.8h0.55M472.8 462.8h0.55M500.8 439.3h0.55M505.4 423.0h0.55M490.5 438.1h0.55M499.1 438.3h0.55M484.5 455.8h0.55M466.0 442.0h0.55M471.9 463.9h0.55M482.2 451.4h0.55M492.1 451.7h0.55M475.7 461.2h0.55M477.0 468.9h0.55M477.8 445.6h0.55M488.8 445.8h0.55M489.0 464.9h0.55M490.7 443.0h0.55M480.2 458.6h0.55M492.8 453.5h0.55M504.0 434.8h0.55M463.6 471.4h0.55M485.1 447.5h0.55M471.4 470.1h0.55M478.4 439.5h0.55M463.7 469.1h0.55M468.0 447.3h0.55M479.3 452.5h0.55M504.8 445.9h0.55M454.7 467.6h0.55M483.3 439.6h0.55M482.2 463.1h0.55M475.1 445.4h0.55M458.7 460.3h0.55M495.6 443.0h0.55M485.1 441.1h0.55M467.3 439.9h0.55M500.7 442.3h0.55M484.7 452.3h0.55M486.2 443.6h0.55M474.3 466.5h0.55M475.8 448.3h0.55M497.7 436.0h0.55M470.1 464.7h0.55M487.8 455.6h0.55M513.5 430.1h0.55M478.0 470.0h0.55M462.3 470.4h0.55M475.9 443.6h0.55M468.1 461.7h0.55M477.1 467.5h0.55M465.9 461.1h0.55M497.7 448.0h0.55M472.1 453.5h0.55M495.1 432.4h0.55M454.6 478.9h0.55M491.1 442.5h0.55M480.2 441.6h0.55M501.1 443.4h0.55M487.4 444.1h0.55M507.3 427.7h0.55M500.2 431.3h0.55M508.5 446.2h0.55M515.6 431.6h0.55M493.6 453.2h0.55M465.8 455.4h0.55M464.7 463.6h0.55M477.3 463.7h0.55M506.4 444.4h0.55M470.4 448.9h0.55M511.6 457.3h0.55M483.9 452.2h0.55M466.1 463.1h0.55M500.8 444.1h0.55M491.3 446.2h0.55M476.4 453.6h0.55M475.2 465.4h0.55M470.2 470.3h0.55M467.2 469.4h0.55M497.7 452.7h0.55M508.3 446.4h0.55M461.7 462.5h0.55M492.0 447.0h0.55M481.2 465.2h0.55M471.4 456.4h0.55M484.4 447.8h0.55M458.8 454.5h0.55M466.5 468.7h0.55M488.9 445.5h0.55M473.8 452.0h0.55M509.6 438.8h0.55M480.5 470.1h0.55M473.8 467.0h0.55M465.6 462.6h0.55M496.6 459.2h0.55M486.5 462.1h0.55M499.6 442.2h0.55M459.5 444.8h0.55M485.9 447.0h0.55M514.4 441.4h0.55M489.3 471.7h0.55M482.3 472.1h0.55M472.6 449.1h0.55M479.5 458.6h0.55M511.4 458.4h0.55M501.7 443.9h0.55M465.6 445.9h0.55M484.0 440.8h0.55M494.0 439.4h0.55M491.1 460.8h0.55M501.0 440.4h0.55M459.6 461.6h0.55M474.7 451.8h0.55M471.5 446.0h0.55M493.9 439.4h0.55M508.2 442.2h0.55M458.1 465.7h0.55M499.3 434.4h0.55M473.3 442.1h0.55M483.9 446.3h0.55M468.0 442.3h0.55M493.9 471.9h0.55M490.3 458.8h0.55M475.7 463.5h0.55M498.4 441.7h0.55M488.8 437.7h0.55M466.4 449.4h0.55M470.1 484.1h0.55M471.1 468.2h0.55M507.2 437.7h0.55M470.7 462.2h0.55M478.0 467.6h0.55M465.9 449.3h0.55M501.1 449.0h0.55M499.0 450.3h0.55M502.0 437.1h0.55M487.7 446.7h0.55M504.5 449.1h0.55M482.3 464.5h0.55M471.0 473.0h0.55M468.1 460.4h0.55M457.3 451.4h0.55M464.5 483.7h0.55M518.9 431.4h0.55M464.3 466.2h0.55M474.6 466.5h0.55M494.8 439.0h0.55M467.5 463.9h0.55M506.6 451.0h0.55M465.6 468.1h0.55M466.2 455.4h0.55M469.0 447.0h0.55M460.8 448.0h0.55M470.2 462.7h0.55M483.7 441.6h0.55M473.8 462.7h0.55M496.1 437.7h0.55M478.2 466.8h0.55M485.5 451.2h0.55M462.2 472.3h0.55M497.3 451.8h0.55M503.0 438.6h0.55M505.7 448.3h0.55M472.9 464.4h0.55M488.7 446.0h0.55M472.7 453.5h0.55M488.9 454.5h0.55M487.4 462.4h0.55M479.0 475.2h0.55M481.9 468.8h0.55M469.4 470.0h0.55M487.2 472.9h0.55M492.2 444.0h0.55M488.4 447.9h0.55M470.8 464.7h0.55M461.4 468.0h0.55M506.0 447.3h0.55M483.6 469.9h0.55M485.3 446.1h0.55M503.2 451.6h0.55M492.7 465.9h0.55M460.2 470.3h0.55M496.5 447.3h0.55M466.1 441.6h0.55M469.3 438.7h0.55M470.0 471.0h0.55M463.0 446.8h0.55M465.5 445.4h0.55M503.0 444.3h0.55M478.0 442.8h0.55M509.2 441.6h0.55M473.2 476.3h0.55M487.8 475.9h0.55M477.1 461.7h0.55M494.7 440.9h0.55M469.3 462.5h0.55M487.3 445.6h0.55M501.1 445.4h0.55M471.4 449.4h0.55M460.3 452.8h0.55M504.0 451.8h0.55M492.8 445.6h0.55M493.9 444.4h0.55M482.0 458.0h0.55M505.3 450.3h0.55M473.7 449.7h0.55M489.1 459.6h0.55M505.4 428.3h0.55M498.9 437.8h0.55M472.2 463.2h0.55M463.9 460.5h0.55M452.8 503.2h0.55M482.7 444.4h0.55M456.3 450.3h0.55M511.6 441.6h0.55M453.0 471.1h0.55M487.5 452.3h0.55M496.2 435.5h0.55M459.1 443.0h0.55M505.6 448.2h0.55M466.3 446.3h0.55M489.6 434.5h0.55M486.3 438.7h0.55" stroke="#3a4fbc" stroke-width="0.65" opacity="0.55"/>
<ellipse cx="483" cy="456" rx="19" ry="9" fill="#3a50bc" opacity="0.5" filter="url(#bl150)" transform="rotate(-35 483 456)"/>
<ellipse cx="474" cy="446.5" rx="10" ry="4" fill="#3a50bc" opacity="0.4" filter="url(#bl100)" transform="rotate(-5 474 446.5)"/>
<g filter="url(#bl45)">
<path d="M493.4,454.9 491.9,454.8 490.6,454.3 489.6,453.3 489.0,451.9 488.8,450.1 489.0,448.4 489.6,446.6 490.5,444.6 491.8,442.6 493.4,440.8 495.1,439.2 497.1,437.8 498.9,437.0 500.6,436.5 502.1,436.5 503.4,436.9 504.1,437.5 504.8,438.4 505.3,439.6 505.4,440.9 505.3,442.4 505.0,443.9 504.5,445.4 503.8,446.9 502.9,448.4 501.7,449.9 500.4,451.3 499.1,452.4 497.6,453.4 496.1,454.2 494.6,454.7 493.4,454.9ZM468.6,472.9 467.4,473.1 466.1,473.0 465.1,472.6 464.1,472.0 463.5,471.1 463.3,470.4 463.6,469.4 464.1,468.6 464.9,468.0 465.6,467.7 466.6,467.4 467.6,467.2 469.4,467.5 470.1,467.8 470.9,468.3 471.3,468.9 471.6,469.6 471.6,470.4 471.4,470.9 470.9,471.6 470.3,472.1 469.6,472.6 468.6,472.9Z" fill="#2f6fcc"/>
<path d="M495.4,452.2 494.1,452.3 493.1,452.1 492.1,451.4 491.6,450.6 491.3,449.4 491.4,448.1 491.7,446.6 492.3,445.1 493.3,443.4 494.5,441.9 495.9,440.4 497.1,439.4 498.6,438.6 499.9,438.2 501.1,438.1 502.1,438.3 502.9,438.9 503.3,439.4 503.6,440.1 503.8,441.1 503.5,443.4 502.7,445.6 501.3,447.9 499.4,450.0 497.4,451.4 495.4,452.2ZM467.9,471.7 466.6,471.7 465.6,471.3 465.3,470.9 465.2,470.4 465.4,469.6 466.1,469.1 467.1,468.8 468.1,468.9 468.9,469.3 469.3,469.9 469.3,470.6 468.7,471.4 467.9,471.7Z" fill="#32a8d2"/>
<path d="M496.4,450.2 495.4,450.3 494.6,450.2 493.9,449.8 493.4,449.1 493.2,448.1 493.2,447.1 493.4,446.1 493.8,444.9 494.5,443.6 495.3,442.4 496.4,441.2 497.4,440.4 498.6,439.6 499.6,439.2 500.6,439.2 501.4,439.4 501.9,439.7 502.3,440.1 502.7,441.4 502.6,443.1 502.0,444.9 501.0,446.6 499.6,448.2 497.9,449.6 496.4,450.2Z" fill="#4cc38a"/>
<path d="M497.4,448.7 496.6,448.9 495.9,448.9 495.3,448.6 494.8,448.1 494.5,447.4 494.4,446.6 494.8,444.9 495.9,442.9 497.4,441.3 498.4,440.6 499.1,440.3 499.9,440.1 500.6,440.2 501.4,440.7 501.8,441.6 501.8,442.9 501.5,444.1 500.8,445.6 499.8,446.9 498.6,447.9 497.4,448.7Z" fill="#9ad040"/>
<path d="M497.1,447.7 496.1,447.6 495.6,446.9 495.4,445.6 495.9,444.1 496.7,442.9 497.9,441.7 499.1,441.1 499.6,441.0 500.3,441.1 500.8,441.6 501.0,442.4 501.0,443.4 500.6,444.6 499.9,445.7 499.1,446.6 498.1,447.3 497.1,447.7Z" fill="#e3dc2c"/>
<path d="M497.4,446.7 496.6,446.4 496.4,445.9 496.3,445.1 496.6,444.1 497.3,443.1 498.1,442.3 498.9,442.0 499.6,442.0 500.1,442.4 500.3,442.9 500.2,443.6 500.0,444.4 499.5,445.1 498.9,445.9 498.1,446.4 497.4,446.7Z" fill="#f29022"/>
<path d="M498.1,445.7 497.6,445.8 497.1,445.5 497.1,444.9 497.2,444.4 497.6,443.6 498.0,443.1 498.6,442.8 499.1,442.8 499.5,443.1 499.5,444.1 498.9,445.1 498.1,445.7Z" fill="#e3241f"/>
</g>
</g>
<rect x="460.4" y="425.4" width="53.8" height="52.8" fill="none" stroke="#333" stroke-width="0.8"/>
<line x1="487.3" y1="425.4" x2="487.3" y2="478.2" stroke="#444" stroke-width="0.7"/>
<line x1="460.4" y1="453.1" x2="514.2" y2="453.1" stroke="#444" stroke-width="0.7"/>
<text x="462.5" y="431.8" font-size="5.4" fill="#333" stroke="#333" stroke-width="0.24">8.6%</text>
<text x="512" y="431.8" font-size="5.4" text-anchor="end" fill="#333" stroke="#333" stroke-width="0.24">54.4%</text>
<line x1="455.6" y1="483.8" x2="455.6" y2="463" stroke="#000" stroke-width="1"/>
<line x1="455.1" y1="483.8" x2="475.7" y2="483.8" stroke="#000" stroke-width="1"/>
<path d="M453.44,463.34 L455.6,459.7 L457.76,463.34 Z" fill="#000"/>
<path d="M475.36,481.64 L479,483.8 L475.36,485.96 Z" fill="#000"/>
<text x="458.2" y="447" font-size="8.42" text-anchor="middle" fill="#111" stroke="#111" stroke-width="0.24" textLength="20" lengthAdjust="spacingAndGlyphs" transform="rotate(-90 458.2 447)">Mac-1</text>
<text x="481.2" y="486.5" font-size="8.42" fill="#111" stroke="#111" stroke-width="0.24" textLength="11" lengthAdjust="spacingAndGlyphs">Gr-1</text>
<g clip-path="url(#fc15)">
<rect x="256.4" y="494.2" width="53" height="53.2" fill="#fff"/>
<path d="M300.3 532.0h0.55M306.7 534.5h0.55M298.3 537.3h0.55M292.6 527.4h0.55M298.3 524.5h0.55M299.4 535.8h0.55M307.3 522.9h0.55M291.0 528.1h0.55M307.2 534.3h0.55M308.0 535.2h0.55M290.1 523.6h0.55M300.3 545.2h0.55M296.2 545.5h0.55M294.8 522.2h0.55M306.7 533.1h0.55M293.5 546.9h0.55M295.6 526.3h0.55M293.6 536.0h0.55M307.7 542.8h0.55M294.9 544.9h0.55M300.0 528.3h0.55M289.7 523.4h0.55M289.8 526.5h0.55M289.0 526.4h0.55M294.0 522.7h0.55M290.8 537.2h0.55M296.8 537.4h0.55M300.6 539.9h0.55M289.3 540.1h0.55M304.5 539.7h0.55M297.4 524.8h0.55M290.6 533.9h0.55M293.2 531.9h0.55M291.3 533.8h0.55M304.3 524.3h0.55M308.3 526.0h0.55M305.2 527.6h0.55M291.2 544.2h0.55M307.9 535.9h0.55M302.7 528.4h0.55M287.3 530.4h0.55M292.4 530.0h0.55M300.2 526.8h0.55M294.0 536.2h0.55M308.2 535.9h0.55M301.7 534.2h0.55M304.0 523.2h0.55M294.7 527.2h0.55M293.5 529.5h0.55M301.8 537.2h0.55M300.8 532.9h0.55M289.3 527.6h0.55M298.0 528.2h0.55M295.6 545.2h0.55M292.3 524.6h0.55M308.2 542.4h0.55M287.6 544.3h0.55M299.4 526.7h0.55M303.0 532.7h0.55M307.2 546.0h0.55M286.7 543.5h0.55M286.1 544.5h0.55M296.7 524.2h0.55M294.6 530.2h0.55M301.7 539.7h0.55M293.8 539.8h0.55M285.2 527.8h0.55M287.6 526.0h0.55M292.0 526.5h0.55M297.4 546.0h0.55M307.2 541.1h0.55M304.5 525.6h0.55M287.0 538.5h0.55M295.1 526.8h0.55M287.0 529.6h0.55M295.8 522.6h0.55M294.7 525.9h0.55M305.9 540.2h0.55M290.1 525.2h0.55M303.8 541.0h0.55M308.3 525.5h0.55M298.2 542.6h0.55M295.7 528.2h0.55M288.0 529.2h0.55M293.7 538.3h0.55M286.9 540.8h0.55M288.1 528.6h0.55M295.8 523.2h0.55M293.2 545.7h0.55M307.8 542.2h0.55M292.2 535.4h0.55M304.6 522.0h0.55M295.0 535.2h0.55M300.0 527.9h0.55M293.1 546.9h0.55M286.9 542.6h0.55M299.0 546.7h0.55M298.9 532.0h0.55M308.1 537.0h0.55M299.3 542.7h0.55M293.3 537.0h0.55M303.9 527.5h0.55M290.9 540.8h0.55M305.5 539.6h0.55M300.4 525.4h0.55M305.3 546.6h0.55M306.2 535.2h0.55M288.0 533.1h0.55M307.0 538.9h0.55M288.7 545.8h0.55M300.7 541.1h0.55M287.6 537.1h0.55M304.0 526.0h0.55M291.6 543.7h0.55M297.8 541.5h0.55M303.5 535.1h0.55M295.2 540.5h0.55M294.0 538.9h0.55M287.2 540.6h0.55M303.4 542.8h0.55M297.1 542.4h0.55M290.3 522.5h0.55M306.3 525.2h0.55M290.5 529.0h0.55M285.6 527.9h0.55M294.7 526.2h0.55M307.1 523.4h0.55M292.0 527.4h0.55M297.9 524.0h0.55M298.0 526.1h0.55M303.1 531.6h0.55M293.9 543.5h0.55M288.9 534.9h0.55M302.5 534.1h0.55M308.9 546.9h0.55M286.9 545.7h0.55M306.4 524.7h0.55M303.1 530.4h0.55M291.3 535.2h0.55M286.9 541.8h0.55M308.1 506.4h0.55M308.7 520.7h0.55M295.0 510.2h0.55M300.1 501.5h0.55M289.2 512.3h0.55M293.0 511.2h0.55M288.3 521.0h0.55M294.8 505.3h0.55M285.1 512.8h0.55M294.3 515.0h0.55M301.4 501.5h0.55M286.6 510.1h0.55M294.7 509.3h0.55M297.2 509.7h0.55M305.1 513.1h0.55M291.4 508.8h0.55M289.8 512.5h0.55M305.8 514.3h0.55M307.0 516.6h0.55M298.8 518.2h0.55M300.7 500.3h0.55M300.2 517.0h0.55M303.3 506.2h0.55M288.5 500.0h0.55M289.7 504.2h0.55M291.2 502.2h0.55M288.6 502.8h0.55M290.0 508.8h0.55M304.4 520.2h0.55M298.7 511.3h0.55M296.2 520.7h0.55M306.2 514.0h0.55M292.7 518.5h0.55M307.7 510.9h0.55M288.8 510.7h0.55M292.3 501.6h0.55M300.1 513.3h0.55M298.5 502.1h0.55M300.7 509.3h0.55M292.2 507.3h0.55M295.2 511.8h0.55M304.0 513.1h0.55M284.9 509.7h0.55M301.8 508.2h0.55M285.0 520.9h0.55M297.0 504.0h0.55M307.5 501.1h0.55M285.8 502.9h0.55M288.9 513.1h0.55M307.3 508.0h0.55M306.9 505.9h0.55M292.1 511.9h0.55M304.9 515.1h0.55M293.5 506.4h0.55M292.6 519.3h0.55M291.8 503.8h0.55M290.6 508.7h0.55M307.9 510.5h0.55M306.0 519.7h0.55M298.7 516.0h0.55M287.4 509.2h0.55M286.7 502.4h0.55M296.2 518.3h0.55M286.2 500.7h0.55M304.9 509.9h0.55M287.1 519.7h0.55M297.7 516.5h0.55M306.9 502.9h0.55M287.9 520.6h0.55M292.1 513.0h0.55M297.7 504.8h0.55M291.4 502.5h0.55M296.8 513.9h0.55M284.4 518.1h0.55M290.4 511.6h0.55M285.6 507.3h0.55M286.3 513.0h0.55M292.0 520.2h0.55M287.3 512.0h0.55M307.9 506.3h0.55M305.8 521.8h0.55M286.1 511.9h0.55M294.4 510.6h0.55M304.4 517.5h0.55M290.5 512.7h0.55M307.9 505.1h0.55M288.8 512.4h0.55M294.0 506.3h0.55M303.4 520.9h0.55M290.2 502.7h0.55M295.3 511.7h0.55M306.0 521.0h0.55M297.4 514.3h0.55M298.0 500.1h0.55M298.2 515.2h0.55M292.7 513.5h0.55M294.6 520.2h0.55M296.0 512.4h0.55M288.4 516.0h0.55M295.6 503.4h0.55M296.8 504.7h0.55M292.7 506.2h0.55M296.8 512.5h0.55M303.9 511.3h0.55M306.0 518.4h0.55M285.1 507.6h0.55M286.5 519.1h0.55M285.0 505.3h0.55M298.7 502.7h0.55M307.5 505.9h0.55M286.7 502.7h0.55M294.3 510.6h0.55M299.2 502.2h0.55M288.4 506.8h0.55M285.6 501.9h0.55M292.6 508.2h0.55M302.6 521.5h0.55M287.9 516.4h0.55M284.9 504.1h0.55M285.6 501.4h0.55M288.4 512.0h0.55M303.4 519.8h0.55M307.0 507.0h0.55M305.1 513.0h0.55M300.8 515.0h0.55M290.3 520.6h0.55M293.2 502.1h0.55M296.2 512.4h0.55M298.1 513.0h0.55M308.4 511.9h0.55M303.1 516.1h0.55M297.8 512.9h0.55M306.4 505.3h0.55M303.2 508.5h0.55M300.6 521.8h0.55M294.7 518.0h0.55M294.5 505.4h0.55M288.1 519.4h0.55M308.4 516.7h0.55M292.6 520.7h0.55" stroke="#7080c8" stroke-width="0.65" opacity="0.6"/>
<path d="M256.0,508.0 L266.0,506.5 L280.0,508.0 L286.0,511.0 L287.0,517.0 L283.0,522.0 L270.0,524.0 L256.0,525.0 Z" fill="#3a50bc" filter="url(#bl100)" opacity="0.7"/>
<path d="M256.0,523.0 L293.0,523.0 L288.0,535.0 L283.0,548.0 L256.0,548.0 Z" fill="#2a47b6" filter="url(#bl100)" opacity="1.0"/>
<g filter="url(#bl45)">
<path d="M271.1,549.2 264.9,549.3 259.4,549.2 257.6,548.2 256.1,546.8 255.3,545.5 254.6,543.5 254.4,541.7 254.4,536.2 255.1,533.5 256.4,530.7 258.2,528.2 260.6,526.0 263.4,524.5 266.4,523.6 269.1,523.3 272.1,523.6 274.9,524.4 277.4,525.7 279.4,527.2 281.0,529.2 282.3,531.5 283.1,534.2 283.3,536.7 283.0,539.0 282.3,541.0 281.0,543.0 279.3,544.7 277.1,546.3 274.1,548.0 271.1,549.2Z" fill="#2f6fcc"/>
<path d="M265.1,548.5 262.6,548.2 260.4,547.5 259.4,546.9 258.7,546.2 257.7,544.7 257.3,543.7 257.1,542.5 257.0,538.0 257.4,535.5 258.2,533.2 259.4,531.2 261.1,529.3 263.1,527.9 265.4,526.8 267.9,526.2 270.9,526.0 273.4,526.3 275.6,527.0 277.1,527.9 278.5,529.2 279.5,530.7 280.1,532.2 280.4,534.0 280.4,536.0 280.1,537.7 279.4,539.5 278.3,541.2 276.9,542.7 274.9,544.4 272.6,546.0 270.6,547.1 268.9,547.8 266.9,548.3 265.1,548.5Z" fill="#32a8d2"/>
<path d="M265.1,546.7 263.4,546.6 261.7,546.0 260.5,545.0 259.9,543.7 259.6,541.7 259.6,537.5 260.0,535.5 260.9,533.5 262.1,531.8 263.8,530.5 265.6,529.4 268.4,528.4 270.6,527.8 272.6,527.7 274.4,528.0 275.9,528.6 276.9,529.5 277.8,530.5 278.3,531.5 278.7,532.7 278.8,534.0 278.7,535.2 278.3,536.7 277.6,537.9 276.6,539.3 275.4,540.6 270.1,544.9 268.9,545.7 267.6,546.2 266.4,546.6 265.1,546.7Z" fill="#4cc38a"/>
<path d="M265.9,544.0 264.9,544.1 263.9,543.7 263.4,543.2 262.9,542.2 262.6,539.2 262.6,537.5 262.8,536.0 263.6,534.5 264.4,533.4 265.8,532.2 268.6,530.2 270.4,529.3 271.9,528.9 273.1,528.8 274.4,529.1 275.6,529.7 276.4,530.4 277.0,531.2 277.3,532.0 277.6,533.0 277.6,534.0 277.5,535.0 276.6,536.7 275.9,537.5 274.6,538.6 270.9,540.7 267.4,543.4 265.9,544.0Z" fill="#9ad040"/>
<path d="M271.4,537.7 269.4,537.4 268.6,537.0 268.2,536.5 267.9,536.0 267.8,535.2 268.2,533.5 269.3,531.7 270.1,531.0 270.9,530.4 271.6,530.1 272.6,529.9 273.6,529.9 274.4,530.2 275.6,531.0 276.4,532.2 276.6,533.5 276.3,535.0 275.4,536.2 274.4,537.0 272.9,537.5 271.4,537.7Z" fill="#e3dc2c"/>
<path d="M273.6,536.0 272.4,536.1 271.4,535.9 270.6,535.3 270.1,534.5 270.1,533.2 270.6,532.2 271.4,531.4 272.4,530.9 273.4,530.9 274.3,531.2 275.1,532.0 275.5,532.7 275.6,533.7 275.2,534.7 274.6,535.5 273.6,536.0Z" fill="#f29022"/>
<path d="M273.4,535.0 272.6,535.1 272.1,534.9 271.6,534.6 271.3,534.0 271.3,533.2 271.5,532.7 271.9,532.2 272.6,531.8 273.4,531.8 273.9,531.9 274.4,532.4 274.7,533.0 274.7,533.7 274.5,534.2 274.0,534.7 273.4,535.0Z" fill="#e3241f"/>
</g>
<path d="M258.4 514.3h0.55M269.8 519.4h0.55M271.0 511.5h0.55M272.4 513.5h0.55M281.3 515.1h0.55M270.1 519.7h0.55M272.6 514.5h0.55M258.6 515.0h0.55M283.4 515.7h0.55M277.5 518.1h0.55M271.4 510.4h0.55M267.2 513.0h0.55M279.8 509.3h0.55M258.1 522.2h0.55M276.5 516.9h0.55M260.6 508.8h0.55M276.7 509.3h0.55M282.5 509.6h0.55M275.3 510.9h0.55M265.7 512.5h0.55M256.8 514.3h0.55M282.8 515.7h0.55M261.9 516.1h0.55M285.0 515.1h0.55M271.0 520.8h0.55M258.1 512.3h0.55M268.2 512.2h0.55M273.0 520.9h0.55M268.7 521.0h0.55M269.7 523.0h0.55M266.1 514.7h0.55M283.5 514.7h0.55M267.5 508.7h0.55M259.0 515.2h0.55M281.4 517.7h0.55M272.0 510.1h0.55M273.4 510.2h0.55M283.4 520.7h0.55M272.3 522.6h0.55M277.2 518.1h0.55M268.4 519.4h0.55M267.0 518.8h0.55M272.5 520.4h0.55M273.0 515.7h0.55M282.6 514.8h0.55M286.2 514.8h0.55M258.9 520.3h0.55M265.9 518.0h0.55M257.2 523.1h0.55M261.7 513.3h0.55M268.9 516.3h0.55M267.7 513.4h0.55M278.9 512.6h0.55M263.2 523.9h0.55M279.2 514.1h0.55M262.3 515.7h0.55M269.1 512.0h0.55M273.9 509.6h0.55M264.2 516.8h0.55M268.6 514.1h0.55M276.7 507.9h0.55M257.4 512.2h0.55M259.1 508.5h0.55M261.5 507.5h0.55M284.8 517.5h0.55M266.0 511.1h0.55M276.0 515.4h0.55M265.8 515.1h0.55M267.6 519.5h0.55M273.1 514.3h0.55M256.1 516.6h0.55M282.9 511.1h0.55M266.5 520.5h0.55M261.0 517.3h0.55M275.2 521.1h0.55M261.8 520.8h0.55M274.6 514.1h0.55M257.5 517.4h0.55M269.3 519.4h0.55M274.3 509.1h0.55M277.9 509.0h0.55M260.1 518.9h0.55M284.3 519.8h0.55M258.8 515.3h0.55M264.1 511.6h0.55M261.8 512.0h0.55M278.9 514.0h0.55M271.5 509.4h0.55M275.6 519.3h0.55M266.8 516.6h0.55M263.8 508.0h0.55M261.0 521.7h0.55M273.9 520.7h0.55M274.7 516.0h0.55M267.4 513.5h0.55M283.3 511.9h0.55M264.9 508.4h0.55M264.4 521.4h0.55M266.2 510.7h0.55M272.1 512.3h0.55M275.8 517.8h0.55M261.8 509.9h0.55M269.0 523.1h0.55M281.2 511.4h0.55M258.0 517.8h0.55M275.8 511.2h0.55M272.5 519.6h0.55M262.1 523.3h0.55M265.0 520.8h0.55M273.6 511.7h0.55M266.3 515.9h0.55M277.4 509.1h0.55M283.0 521.6h0.55M278.0 521.6h0.55M256.5 519.1h0.55M285.4 515.2h0.55M282.0 520.0h0.55M279.1 513.0h0.55M257.0 510.7h0.55M283.4 521.1h0.55M280.0 521.5h0.55M271.3 513.4h0.55M267.8 518.8h0.55M267.2 523.8h0.55M260.2 509.8h0.55M283.3 511.2h0.55M267.0 514.9h0.55M276.6 510.7h0.55M282.4 512.4h0.55M281.9 516.2h0.55M263.5 507.7h0.55M279.4 514.1h0.55M262.3 513.2h0.55M276.4 518.1h0.55M259.4 522.4h0.55M274.3 517.0h0.55M275.9 516.7h0.55M277.5 517.9h0.55M263.0 513.5h0.55M279.8 516.0h0.55M257.1 521.8h0.55M261.8 512.5h0.55M272.0 512.4h0.55M284.6 515.6h0.55M280.3 512.4h0.55M270.6 516.0h0.55M269.4 510.1h0.55M284.0 518.6h0.55M266.9 512.2h0.55M259.6 515.2h0.55M266.4 523.1h0.55M259.6 510.3h0.55M276.2 511.7h0.55M266.6 523.9h0.55M263.1 509.4h0.55M266.3 513.6h0.55M271.4 519.8h0.55M260.5 510.0h0.55M284.3 519.1h0.55M259.2 517.4h0.55M281.9 511.0h0.55M271.1 521.2h0.55M264.6 519.7h0.55M268.7 517.4h0.55M275.3 507.8h0.55M276.5 521.2h0.55M261.8 507.9h0.55M272.2 515.9h0.55M270.0 522.8h0.55M257.9 518.2h0.55M282.2 521.4h0.55M278.4 510.3h0.55M262.5 514.3h0.55M257.8 523.1h0.55M267.5 517.7h0.55M268.4 522.0h0.55M261.7 523.0h0.55M278.2 513.7h0.55M281.2 514.4h0.55M274.2 519.0h0.55M262.4 509.5h0.55M268.4 511.8h0.55M270.4 509.8h0.55M276.7 516.5h0.55M261.6 508.0h0.55M269.0 523.3h0.55M259.6 515.5h0.55M281.9 520.1h0.55M272.4 507.7h0.55M276.0 518.1h0.55M281.1 516.6h0.55M266.4 511.8h0.55M271.2 511.5h0.55M276.7 513.8h0.55M268.6 516.3h0.55M265.8 519.9h0.55M274.9 515.4h0.55M269.5 517.0h0.55M278.7 509.6h0.55M260.2 509.4h0.55M268.2 516.1h0.55M269.3 520.8h0.55M276.3 518.7h0.55M256.9 515.2h0.55M265.7 514.1h0.55M279.3 514.3h0.55M260.7 510.6h0.55M272.0 513.5h0.55M273.9 511.0h0.55M267.7 517.9h0.55M273.0 522.3h0.55M276.4 512.8h0.55M271.1 512.6h0.55M280.5 517.3h0.55M272.3 512.7h0.55M278.8 511.4h0.55M265.6 506.6h0.55M259.4 512.5h0.55M266.1 514.4h0.55M276.2 511.5h0.55M261.2 518.1h0.55M271.5 507.6h0.55M266.5 519.1h0.55M268.4 509.1h0.55M264.0 508.8h0.55M270.8 511.1h0.55M271.8 520.2h0.55M264.8 513.4h0.55M275.2 516.3h0.55M256.5 512.6h0.55M260.1 522.4h0.55M270.4 521.2h0.55M264.3 507.6h0.55M273.8 508.9h0.55M258.1 518.9h0.55M272.4 512.8h0.55M273.8 507.5h0.55M269.8 514.6h0.55M286.4 514.8h0.55M257.4 518.9h0.55M271.8 511.2h0.55M272.2 511.9h0.55M258.1 520.3h0.55M282.8 519.5h0.55M273.4 511.8h0.55M268.0 509.1h0.55M257.8 519.5h0.55M274.6 516.2h0.55M269.6 507.9h0.55M272.0 519.3h0.55M266.5 511.5h0.55M269.1 511.7h0.55M267.8 517.2h0.55M257.3 511.8h0.55M259.6 510.8h0.55M281.1 513.7h0.55M270.0 512.1h0.55M257.8 511.2h0.55M269.3 520.6h0.55M265.9 509.9h0.55M260.4 522.1h0.55M268.2 512.6h0.55M277.8 510.8h0.55M262.0 508.7h0.55M284.1 514.9h0.55M277.7 522.7h0.55M258.0 510.4h0.55M268.8 520.6h0.55M269.6 512.1h0.55M258.2 514.2h0.55M261.9 524.3h0.55M283.0 514.0h0.55M258.6 513.5h0.55M271.1 513.8h0.55M262.1 509.1h0.55M266.6 517.4h0.55M261.7 511.2h0.55M261.5 513.4h0.55M257.7 522.4h0.55M266.2 510.6h0.55M284.8 515.0h0.55M260.8 512.2h0.55M272.1 513.4h0.55M274.6 508.1h0.55M275.2 512.8h0.55M282.3 517.7h0.55M257.7 524.7h0.55M262.5 517.0h0.55M268.1 517.1h0.55M260.3 511.3h0.55M263.1 514.2h0.55M267.5 513.8h0.55M268.2 513.5h0.55M281.1 515.1h0.55M274.8 517.0h0.55M273.2 522.9h0.55M262.4 515.8h0.55M267.5 517.7h0.55M280.1 518.5h0.55M263.3 518.3h0.55M278.3 508.6h0.55M268.8 512.9h0.55M260.8 518.9h0.55M277.2 518.5h0.55M276.2 519.6h0.55M274.5 516.4h0.55M279.6 511.2h0.55M285.6 517.8h0.55M266.7 511.6h0.55M266.3 508.9h0.55M283.0 509.7h0.55M266.6 512.7h0.55M261.1 509.9h0.55M256.4 513.8h0.55M282.7 511.9h0.55M256.7 522.5h0.55M279.1 514.4h0.55M274.8 509.4h0.55M266.5 524.2h0.55M269.9 513.7h0.55M282.6 517.7h0.55M271.5 507.4h0.55M277.9 511.4h0.55M265.9 511.1h0.55M268.7 522.6h0.55M272.9 521.3h0.55M260.3 510.6h0.55M257.0 522.0h0.55M261.5 521.6h0.55M263.1 522.8h0.55M258.2 520.7h0.55M284.7 515.3h0.55M266.1 517.5h0.55M276.8 514.2h0.55M279.8 516.5h0.55M275.0 515.7h0.55M268.3 510.4h0.55M276.5 515.0h0.55M258.3 519.0h0.55M281.0 518.6h0.55M270.6 508.1h0.55M258.4 514.6h0.55M277.5 520.7h0.55M281.1 519.4h0.55M275.0 519.3h0.55M271.0 516.5h0.55M258.8 512.7h0.55M264.2 506.8h0.55M257.1 514.3h0.55M265.0 512.1h0.55M256.7 519.4h0.55M259.2 511.9h0.55M268.9 509.4h0.55M257.0 516.0h0.55M261.6 510.9h0.55M276.1 519.5h0.55M286.1 513.7h0.55M259.7 508.7h0.55M271.0 520.7h0.55M258.2 521.4h0.55M262.5 507.5h0.55M260.4 518.6h0.55M257.6 516.5h0.55M285.5 514.5h0.55M285.3 511.0h0.55M264.2 523.3h0.55M268.5 507.1h0.55M264.7 513.9h0.55M265.7 519.2h0.55M276.2 510.5h0.55M270.8 522.4h0.55M275.7 520.3h0.55M281.7 516.3h0.55M278.3 516.8h0.55M262.3 507.7h0.55M272.3 521.4h0.55M282.9 521.0h0.55M269.9 519.1h0.55M270.6 521.3h0.55M265.7 514.4h0.55M281.0 509.0h0.55M260.2 510.7h0.55M265.0 508.9h0.55M285.3 515.9h0.55M257.4 513.4h0.55M270.5 520.3h0.55M280.3 509.6h0.55M265.6 522.8h0.55M269.5 517.2h0.55M286.3 514.1h0.55M258.4 516.3h0.55M262.4 510.4h0.55M265.7 513.9h0.55M261.3 521.3h0.55M256.1 523.6h0.55M275.3 510.8h0.55M256.2 510.9h0.55M284.6 512.9h0.55M266.9 508.6h0.55M276.8 511.8h0.55M265.1 507.9h0.55M260.6 509.5h0.55M286.6 516.8h0.55M285.5 512.1h0.55M270.5 523.2h0.55M278.8 517.0h0.55M276.1 507.6h0.55M277.9 513.5h0.55M265.2 511.5h0.55M256.4 514.7h0.55M270.4 511.0h0.55M265.0 523.6h0.55M264.3 516.1h0.55M275.2 508.9h0.55M282.4 509.4h0.55M266.5 516.3h0.55M266.7 517.9h0.55M263.9 513.5h0.55M266.3 516.3h0.55M266.5 522.4h0.55M269.0 517.3h0.55M280.4 515.0h0.55M279.3 520.4h0.55M275.2 510.4h0.55M267.1 522.5h0.55M267.0 516.8h0.55M261.4 515.9h0.55M284.2 518.9h0.55M269.2 509.1h0.55M276.7 511.7h0.55M279.5 515.4h0.55M260.5 513.4h0.55M277.8 516.8h0.55M273.0 510.4h0.55M270.8 510.3h0.55M274.7 516.2h0.55M257.5 515.7h0.55M261.9 520.3h0.55M284.7 518.0h0.55M275.6 509.5h0.55M262.6 508.3h0.55M284.5 518.5h0.55M277.0 518.0h0.55M271.8 515.6h0.55M280.2 510.2h0.55M275.2 513.5h0.55M276.5 513.5h0.55M263.5 521.7h0.55M272.4 519.5h0.55M274.0 522.4h0.55M277.6 521.4h0.55M283.2 518.8h0.55M260.5 515.6h0.55M279.0 518.5h0.55M284.4 518.4h0.55M267.0 511.1h0.55M256.1 512.6h0.55M270.6 514.3h0.55M286.1 511.9h0.55M278.2 514.4h0.55M258.0 518.0h0.55M262.5 509.8h0.55M263.1 510.9h0.55M270.9 507.5h0.55M281.3 516.2h0.55M282.0 521.8h0.55M275.5 519.9h0.55M264.0 515.6h0.55M261.4 518.7h0.55M284.8 518.0h0.55M266.4 517.6h0.55M278.9 511.5h0.55M265.2 508.2h0.55M280.5 520.5h0.55M262.7 514.1h0.55M278.9 515.3h0.55M276.0 514.7h0.55M280.8 521.0h0.55M278.7 508.8h0.55M271.3 517.4h0.55M258.2 518.0h0.55M280.9 517.5h0.55M285.3 511.4h0.55M279.2 520.2h0.55M279.5 515.1h0.55M274.7 521.8h0.55M265.8 509.9h0.55M264.3 511.6h0.55M267.3 511.9h0.55M260.8 517.5h0.55M274.5 512.5h0.55M277.8 511.8h0.55M270.4 508.6h0.55M258.1 517.2h0.55M268.8 519.0h0.55M284.2 514.2h0.55M263.4 523.3h0.55M265.0 522.9h0.55M262.3 510.5h0.55M266.8 513.6h0.55M269.5 515.3h0.55M275.1 512.0h0.55M273.0 516.8h0.55M272.8 522.2h0.55M283.0 517.0h0.55M265.3 520.3h0.55M259.0 509.5h0.55M258.4 522.8h0.55M268.8 511.2h0.55M282.6 519.2h0.55M263.7 510.3h0.55M284.6 518.8h0.55M260.6 509.9h0.55M264.8 510.1h0.55M269.2 511.0h0.55M265.0 523.5h0.55M279.5 511.4h0.55M263.1 521.2h0.55M264.1 512.5h0.55M277.7 510.6h0.55M270.9 515.8h0.55M271.4 515.8h0.55M268.1 508.1h0.55M268.4 519.8h0.55M258.1 523.3h0.55M263.6 522.0h0.55M279.1 521.9h0.55M271.1 514.4h0.55M274.6 522.5h0.55M276.1 515.4h0.55M261.8 516.6h0.55M279.9 521.3h0.55M275.5 515.7h0.55M269.5 518.0h0.55M263.0 512.6h0.55M256.9 515.7h0.55M269.9 518.3h0.55M270.2 507.0h0.55M265.0 511.4h0.55M259.3 507.7h0.55M258.6 507.9h0.55M276.0 515.0h0.55M268.5 520.8h0.55M270.8 514.4h0.55M278.2 512.7h0.55M263.7 522.5h0.55M256.7 518.3h0.55M257.4 508.8h0.55M263.2 511.0h0.55M274.4 517.7h0.55M256.7 514.1h0.55M269.4 507.6h0.55M260.0 520.4h0.55M280.0 517.0h0.55M276.2 521.4h0.55M272.4 511.4h0.55M275.7 508.6h0.55M278.1 514.2h0.55M269.0 517.9h0.55M278.1 513.5h0.55M272.0 511.2h0.55M282.5 516.5h0.55M265.3 516.0h0.55M269.1 515.2h0.55M285.5 515.7h0.55M267.1 520.4h0.55M282.5 519.5h0.55M258.4 512.7h0.55M284.6 517.4h0.55M258.7 519.5h0.55M277.7 511.3h0.55M278.3 510.7h0.55M285.6 518.3h0.55M260.8 516.7h0.55M282.5 509.5h0.55M259.5 522.3h0.55M256.7 518.0h0.55M274.5 514.9h0.55M261.9 519.8h0.55M282.9 512.8h0.55M268.6 510.6h0.55M267.2 516.5h0.55M259.2 524.2h0.55M267.7 510.6h0.55M274.9 520.2h0.55M260.8 513.4h0.55M268.6 522.1h0.55M264.0 513.1h0.55M262.1 515.7h0.55M268.1 519.5h0.55M267.2 509.8h0.55M260.3 519.5h0.55M260.7 509.6h0.55M277.8 520.4h0.55M257.8 508.5h0.55M264.2 512.9h0.55M271.7 509.6h0.55M283.7 511.7h0.55M274.0 514.7h0.55M261.4 508.6h0.55M269.7 514.5h0.55M257.2 513.2h0.55M262.1 514.8h0.55M284.4 512.3h0.55M261.3 519.5h0.55M263.5 515.6h0.55M265.4 513.7h0.55M267.8 522.6h0.55M277.1 522.8h0.55M265.9 506.8h0.55M262.5 511.8h0.55M263.6 511.2h0.55M269.3 511.4h0.55M281.5 519.4h0.55M285.0 514.2h0.55M263.3 521.8h0.55M277.3 514.7h0.55M272.3 522.3h0.55M258.5 512.1h0.55M266.2 508.2h0.55M272.9 521.6h0.55M274.9 508.4h0.55M263.2 515.3h0.55M278.8 513.4h0.55M261.9 523.1h0.55M269.4 524.0h0.55M268.2 521.0h0.55M278.8 511.4h0.55M258.2 509.7h0.55M268.0 523.3h0.55M272.2 523.5h0.55M273.7 518.4h0.55M282.4 517.5h0.55M275.2 517.2h0.55M277.3 522.0h0.55M256.6 518.1h0.55M277.5 508.5h0.55M260.7 519.9h0.55M266.9 520.2h0.55M273.2 508.1h0.55M281.7 519.5h0.55M263.2 522.2h0.55M281.5 522.1h0.55M268.2 520.1h0.55M274.6 511.5h0.55M262.5 511.6h0.55M266.0 510.8h0.55M268.7 519.0h0.55M283.9 515.1h0.55M268.4 508.9h0.55" stroke="#2f45b6" stroke-width="0.65" opacity="0.6"/>
</g>
<rect x="256.4" y="494.2" width="53" height="53.2" fill="none" stroke="#333" stroke-width="0.8"/>
<rect x="257.5" y="503.4" width="47.3" height="21" fill="none" stroke="#222" stroke-width="0.7"/>
<line x1="283.1" y1="503.4" x2="283.1" y2="524.4" stroke="#111" stroke-width="0.8"/>
<text x="265" y="501.5" font-size="5.2" fill="#333" stroke="#333" stroke-width="0.24">3.5%</text>
<text x="290" y="501.5" font-size="5.2" fill="#333" stroke="#333" stroke-width="0.24">0.8%</text>
<polyline points="267.4,521.1 267.4,531.5 301.8,531.5" fill="none" stroke="#111" stroke-width="0.8"/>
<path d="M301.64,530.22 L303.8,531.5 L301.64,532.78 Z" fill="#000"/>
<line x1="251.1" y1="554" x2="251.1" y2="533.2" stroke="#000" stroke-width="1"/>
<line x1="250.6" y1="554" x2="272.7" y2="554" stroke="#000" stroke-width="1"/>
<path d="M248.94,533.55 L251.1,529.9 L253.26,533.55 Z" fill="#000"/>
<path d="M272.36,551.84 L276,554 L272.36,556.16 Z" fill="#000"/>
<text x="253.7" y="518" font-size="8.42" text-anchor="middle" fill="#111" stroke="#111" stroke-width="0.24" textLength="16" lengthAdjust="spacingAndGlyphs" transform="rotate(-90 253.7 518)">B220</text>
<text x="278.2" y="556.7" font-size="8.42" fill="#111" stroke="#111" stroke-width="0.24" textLength="12.5" lengthAdjust="spacingAndGlyphs">IgM</text>
<g clip-path="url(#fc16)">
<rect x="324.8" y="494.4" width="51.2" height="53.3" fill="#fff"/>
<path d="M328.1 521.9h0.55M362.6 539.4h0.55M331.7 546.0h0.55M339.9 504.3h0.55M326.0 511.2h0.55M367.6 522.0h0.55M326.6 516.6h0.55M349.8 535.6h0.55M357.8 507.4h0.55M360.3 525.5h0.55M328.8 531.7h0.55M358.4 540.5h0.55M356.6 537.0h0.55M342.7 531.6h0.55M326.0 532.8h0.55M325.2 525.3h0.55M352.5 500.1h0.55M346.3 507.0h0.55M364.7 516.6h0.55M351.3 500.7h0.55M358.2 508.8h0.55M368.8 539.0h0.55M328.8 506.9h0.55M330.5 542.2h0.55M359.4 496.2h0.55M355.4 534.5h0.55M326.1 506.4h0.55M335.8 502.5h0.55M330.2 527.9h0.55M332.1 531.7h0.55M348.0 502.4h0.55M349.8 542.6h0.55M370.8 547.1h0.55M354.4 502.4h0.55M333.2 536.6h0.55M354.0 543.7h0.55M370.1 530.9h0.55M367.8 522.1h0.55M372.0 521.2h0.55M355.4 547.4h0.55M365.9 525.7h0.55M333.1 502.5h0.55M370.4 495.4h0.55M357.0 530.2h0.55M342.7 506.8h0.55" stroke="#9aa4d0" stroke-width="0.65" opacity="0.45"/>
<path d="M360.2 524.5h0.55M359.5 534.1h0.55M360.1 508.7h0.55M360.5 544.3h0.55M353.1 518.9h0.55M361.6 527.5h0.55M351.3 516.6h0.55M358.2 548.4h0.55M358.9 539.9h0.55M360.4 534.8h0.55M356.3 525.7h0.55M359.7 532.1h0.55M359.2 540.5h0.55M352.2 526.8h0.55M359.7 536.6h0.55M358.1 518.0h0.55M361.7 541.5h0.55M355.2 520.8h0.55M357.4 524.3h0.55M357.5 513.3h0.55M358.2 526.6h0.55M360.4 526.1h0.55M359.4 527.5h0.55M356.2 533.4h0.55M357.3 516.2h0.55M348.2 520.1h0.55M359.4 523.4h0.55M364.4 533.1h0.55M361.4 534.2h0.55M353.5 544.7h0.55M356.5 543.6h0.55M356.6 512.5h0.55M353.2 528.2h0.55M354.0 516.1h0.55M356.6 539.9h0.55M358.1 528.4h0.55M364.6 540.6h0.55M355.0 517.4h0.55M343.9 521.0h0.55M359.0 525.5h0.55M356.9 539.2h0.55M355.2 512.7h0.55M355.2 513.3h0.55M361.5 535.7h0.55M344.5 529.2h0.55M362.2 530.0h0.55M356.9 533.0h0.55M358.0 537.9h0.55M359.3 545.3h0.55M343.9 521.5h0.55M360.2 527.9h0.55M358.4 521.4h0.55M362.6 515.2h0.55M355.3 520.8h0.55M358.3 532.0h0.55M363.6 546.2h0.55M364.7 547.7h0.55M363.2 530.7h0.55M357.7 545.6h0.55M357.6 538.0h0.55M355.1 511.8h0.55M359.6 524.0h0.55M358.7 541.3h0.55M358.9 542.6h0.55M358.3 536.2h0.55M346.9 529.1h0.55M350.9 517.0h0.55M358.6 505.7h0.55M355.3 517.8h0.55M359.2 530.2h0.55M358.6 538.7h0.55M365.2 522.8h0.55M358.0 516.1h0.55M362.2 511.9h0.55M352.2 511.7h0.55M356.7 535.1h0.55M358.2 513.0h0.55M354.7 509.5h0.55M357.5 530.8h0.55M354.6 520.6h0.55M365.1 537.6h0.55M355.5 546.6h0.55M364.7 530.8h0.55M358.0 520.2h0.55M359.9 545.0h0.55M360.8 526.7h0.55M358.2 530.2h0.55M357.7 545.5h0.55M360.2 530.7h0.55M359.3 516.2h0.55M362.1 548.5h0.55M359.8 526.9h0.55M356.4 550.0h0.55M358.0 513.5h0.55M359.2 521.6h0.55M362.8 535.6h0.55M355.8 510.1h0.55M362.2 524.3h0.55M353.8 527.0h0.55M359.3 534.1h0.55M353.7 520.4h0.55M360.9 533.1h0.55M357.7 515.2h0.55M358.2 530.6h0.55M356.4 535.5h0.55M359.2 514.0h0.55M358.4 532.4h0.55M363.6 546.6h0.55M355.2 527.8h0.55M365.9 529.4h0.55M363.9 537.5h0.55M362.6 529.1h0.55M359.6 538.0h0.55M356.8 515.6h0.55M363.0 531.1h0.55M362.8 526.8h0.55M356.0 518.7h0.55M360.7 542.2h0.55M352.0 523.8h0.55M358.2 517.3h0.55M355.7 519.9h0.55M351.5 524.7h0.55M362.6 523.7h0.55M357.9 513.7h0.55M362.3 518.4h0.55M355.9 513.9h0.55M358.6 527.3h0.55M364.2 530.6h0.55M356.5 510.3h0.55M353.0 512.9h0.55M356.4 537.7h0.55M357.9 528.3h0.55M359.1 523.8h0.55M353.2 513.2h0.55M359.9 531.6h0.55M357.3 548.2h0.55M360.4 539.2h0.55M363.3 523.8h0.55M359.7 516.9h0.55M353.3 518.0h0.55M347.9 523.9h0.55M359.3 547.7h0.55M358.5 535.1h0.55M358.6 520.1h0.55M358.6 533.7h0.55M363.8 544.8h0.55M355.4 512.4h0.55M359.4 527.3h0.55M364.1 519.2h0.55M359.3 527.6h0.55M356.8 531.9h0.55M353.0 529.1h0.55M358.3 547.6h0.55M355.0 541.6h0.55M356.0 518.9h0.55M357.6 536.8h0.55M359.4 525.8h0.55M357.4 531.6h0.55M356.7 513.7h0.55M359.2 533.2h0.55M350.3 517.3h0.55M360.1 518.9h0.55M359.3 542.6h0.55M356.3 531.6h0.55M360.0 532.5h0.55M358.3 533.1h0.55M361.2 523.1h0.55M351.1 526.7h0.55M355.2 511.3h0.55M361.4 539.6h0.55M361.9 532.8h0.55M357.9 547.6h0.55M362.6 540.7h0.55M358.2 534.1h0.55M354.4 511.9h0.55M359.7 536.0h0.55M360.9 534.0h0.55M364.6 523.5h0.55M358.3 522.4h0.55M359.7 512.5h0.55M362.6 529.5h0.55M352.4 521.1h0.55M360.0 541.8h0.55M359.5 531.8h0.55M356.1 528.6h0.55M359.5 517.0h0.55M354.2 516.1h0.55M358.3 514.3h0.55M361.1 514.1h0.55M361.1 545.9h0.55M348.3 528.6h0.55M356.7 512.8h0.55M363.6 549.1h0.55M358.8 543.7h0.55M362.1 533.1h0.55M365.1 532.3h0.55M357.9 533.7h0.55M356.8 514.5h0.55M356.3 511.0h0.55M361.2 520.3h0.55M362.4 540.2h0.55M356.0 514.7h0.55M358.0 533.5h0.55M364.0 536.7h0.55M355.9 523.0h0.55M350.3 522.8h0.55M365.0 540.0h0.55M362.7 539.6h0.55M361.0 540.2h0.55M361.6 555.0h0.55M346.6 515.0h0.55M358.9 519.2h0.55M357.6 511.6h0.55M352.5 528.5h0.55M358.4 526.4h0.55M359.5 513.3h0.55M359.4 532.2h0.55M356.4 542.7h0.55M356.9 542.3h0.55M358.3 512.1h0.55M358.8 541.9h0.55M358.9 554.9h0.55M357.1 545.1h0.55M355.5 531.0h0.55M362.2 515.0h0.55M360.3 522.8h0.55M356.3 526.3h0.55M358.2 528.6h0.55M358.1 525.1h0.55M353.0 546.5h0.55M364.9 537.8h0.55M358.9 523.8h0.55M360.3 536.1h0.55M357.3 531.6h0.55M361.5 536.2h0.55M357.0 516.6h0.55M357.7 532.8h0.55M357.3 513.3h0.55M356.8 519.7h0.55M362.2 512.0h0.55M356.0 543.1h0.55M360.7 537.6h0.55M356.1 534.0h0.55M358.8 517.8h0.55M348.6 521.9h0.55M360.4 535.1h0.55M362.9 511.2h0.55M349.3 529.0h0.55M356.7 534.4h0.55M363.2 523.5h0.55M353.8 531.6h0.55M353.4 508.4h0.55M357.3 522.2h0.55M356.9 516.4h0.55M362.7 530.5h0.55M362.1 540.8h0.55M359.6 543.6h0.55M360.3 532.4h0.55M367.3 513.7h0.55M353.7 512.1h0.55M355.8 516.8h0.55M356.4 525.0h0.55M358.3 522.6h0.55M359.6 529.0h0.55M358.3 542.3h0.55M360.4 544.3h0.55M356.8 539.2h0.55M359.6 527.1h0.55M355.5 532.4h0.55M356.6 540.2h0.55M360.7 537.9h0.55M366.7 545.6h0.55M354.4 539.0h0.55M360.1 535.2h0.55M355.6 519.7h0.55M352.3 520.1h0.55M361.1 535.0h0.55M361.9 529.4h0.55M358.2 540.8h0.55M360.0 516.1h0.55M359.8 511.8h0.55M359.6 516.8h0.55M361.0 543.2h0.55M347.1 526.6h0.55M359.4 530.6h0.55M359.5 528.1h0.55M359.6 535.5h0.55M357.9 543.9h0.55M359.8 522.2h0.55M360.7 538.2h0.55M355.9 536.0h0.55M355.9 517.1h0.55M359.1 536.9h0.55M360.0 510.7h0.55M359.7 538.5h0.55M355.6 528.9h0.55M360.4 546.0h0.55M361.7 528.5h0.55M348.6 529.1h0.55M361.3 515.9h0.55M356.8 544.6h0.55M359.9 516.1h0.55M360.7 542.9h0.55M359.0 515.9h0.55M359.0 527.9h0.55M349.5 525.1h0.55M364.5 526.3h0.55M351.2 518.2h0.55M356.8 514.9h0.55M358.9 516.6h0.55M359.3 526.7h0.55M359.6 517.8h0.55M359.6 521.1h0.55M357.4 526.7h0.55M358.1 527.7h0.55M358.1 527.0h0.55M357.7 527.4h0.55M358.6 551.7h0.55M361.9 527.2h0.55M356.0 544.3h0.55M357.0 517.4h0.55M360.5 508.5h0.55M358.0 534.9h0.55M361.2 515.7h0.55M352.4 523.9h0.55M359.4 534.6h0.55M349.2 521.2h0.55M358.5 539.2h0.55M362.5 534.4h0.55M350.7 528.9h0.55M361.0 540.4h0.55M359.2 529.0h0.55M360.8 531.5h0.55M362.5 524.4h0.55M353.7 524.1h0.55M347.0 522.6h0.55M356.8 529.6h0.55M358.8 559.2h0.55M354.0 518.6h0.55M358.3 536.7h0.55M358.7 525.2h0.55M363.2 544.1h0.55M355.1 531.7h0.55M358.6 517.4h0.55M360.0 538.1h0.55M359.7 537.6h0.55M364.1 528.7h0.55M362.7 554.6h0.55M352.1 530.9h0.55M363.0 536.5h0.55M349.1 529.7h0.55M361.8 517.3h0.55M361.7 531.4h0.55M360.1 521.6h0.55M360.9 534.8h0.55M354.3 514.7h0.55M363.2 548.3h0.55M355.7 538.2h0.55M358.8 528.2h0.55M357.8 522.1h0.55M361.0 523.8h0.55M359.7 537.7h0.55M362.4 532.6h0.55M357.5 517.0h0.55M361.2 514.7h0.55M363.1 536.5h0.55M357.1 511.8h0.55M357.9 523.9h0.55M355.3 509.7h0.55M360.7 533.6h0.55M356.9 510.1h0.55M360.7 539.6h0.55M344.3 516.8h0.55M359.4 512.6h0.55M354.1 534.2h0.55M365.1 536.9h0.55M363.3 525.5h0.55M359.0 525.6h0.55M363.2 520.2h0.55M358.0 529.2h0.55M360.3 533.8h0.55M352.7 511.5h0.55M360.7 524.5h0.55M359.6 529.9h0.55M360.3 525.9h0.55M362.5 541.8h0.55M359.6 542.4h0.55M359.2 529.2h0.55M360.0 515.8h0.55M357.5 549.1h0.55M359.1 537.8h0.55M363.5 520.8h0.55M358.8 543.0h0.55M350.7 522.4h0.55M356.7 515.0h0.55M356.2 517.8h0.55M359.8 550.5h0.55M360.4 550.0h0.55M360.0 550.7h0.55M359.3 545.6h0.55M357.6 522.6h0.55M348.4 522.4h0.55M360.6 524.0h0.55M361.5 515.5h0.55M361.0 543.7h0.55M361.2 526.2h0.55M356.2 516.9h0.55M357.3 526.1h0.55M357.6 538.0h0.55M356.1 517.4h0.55M360.1 551.1h0.55M357.2 532.3h0.55M359.5 544.2h0.55M361.8 529.0h0.55M359.9 516.4h0.55M359.5 523.3h0.55M350.6 510.5h0.55M356.1 521.1h0.55M359.9 534.6h0.55M360.8 529.7h0.55M358.0 515.6h0.55M361.3 537.6h0.55M355.7 518.9h0.55M358.3 532.4h0.55M359.2 527.4h0.55M357.9 533.9h0.55M359.3 521.1h0.55M363.8 550.1h0.55M363.8 544.8h0.55M359.3 523.9h0.55M357.0 516.1h0.55M356.1 509.3h0.55M359.8 535.8h0.55M358.2 527.8h0.55M356.9 518.3h0.55M356.0 522.7h0.55M357.3 527.1h0.55M358.3 531.1h0.55M360.1 538.4h0.55M358.7 548.6h0.55M354.8 535.7h0.55M352.2 518.7h0.55M355.9 534.0h0.55M362.4 536.9h0.55M351.6 522.7h0.55M358.2 529.0h0.55M361.1 543.4h0.55M360.8 526.1h0.55M358.6 520.0h0.55M354.8 535.9h0.55" stroke="#6a7cb8" stroke-width="0.65" opacity="0.55"/>
<ellipse cx="359.5" cy="534" rx="2.2" ry="10" fill="#8a9cc8" opacity="0.7" filter="url(#bl60)"/>
<g filter="url(#bl45)">
<path d="M359.6,545.0 359.1,544.8 358.7,544.4 358.0,542.4 357.5,539.4 357.3,535.9 357.5,532.1 358.1,528.5 358.8,526.0 359.1,525.6 359.6,525.3 360.1,525.7 360.3,526.2 361.0,528.6 361.5,532.1 361.7,535.9 361.5,539.4 361.1,542.1 360.3,544.3 360.1,544.7 359.6,545.0Z" fill="#6a9cbc"/>
<path d="M359.8,542.2 359.3,542.3 359.0,541.9 358.6,541.1 358.2,539.4 358.0,536.9 358.1,534.1 358.4,531.9 359.1,530.2 359.6,529.9 360.1,530.4 360.6,531.9 360.8,533.6 361.0,535.6 360.9,537.9 360.7,539.9 360.3,541.4 359.8,542.2Z" fill="#5aae98"/>
<path d="M359.6,539.8 359.3,539.7 359.0,538.9 358.7,536.4 359.0,533.9 359.3,533.1 359.6,533.0 359.8,533.3 360.1,533.9 360.3,536.4 360.1,538.9 359.8,539.6 359.6,539.8Z" fill="#8cc464"/>
</g>
</g>
<rect x="324.8" y="494.4" width="51.2" height="53.3" fill="none" stroke="#333" stroke-width="0.8"/>
<line x1="355" y1="494.4" x2="355" y2="547.7" stroke="#444" stroke-width="0.7"/>
<line x1="324.8" y1="524.8" x2="376" y2="524.8" stroke="#444" stroke-width="0.7"/>
<text x="327" y="501" font-size="5.4" fill="#333" stroke="#333" stroke-width="0.24">1.6%</text>
<text x="374" y="501" font-size="5.4" text-anchor="end" fill="#333" stroke="#333" stroke-width="0.24">7.5%</text>
<text x="374" y="545.5" font-size="5.4" text-anchor="end" fill="#333" stroke="#333" stroke-width="0.24">87.8%</text>
<line x1="319.2" y1="554" x2="319.2" y2="533.2" stroke="#000" stroke-width="1"/>
<line x1="318.7" y1="554" x2="340" y2="554" stroke="#000" stroke-width="1"/>
<path d="M317.04,533.55 L319.2,529.9 L321.36,533.55 Z" fill="#000"/>
<path d="M339.66,551.84 L343.3,554 L339.66,556.16 Z" fill="#000"/>
<text x="321.8" y="516.5" font-size="8.42" text-anchor="middle" fill="#111" stroke="#111" stroke-width="0.24" textLength="18" lengthAdjust="spacingAndGlyphs" transform="rotate(-90 321.8 516.5)">CD19</text>
<text x="345.3" y="556.7" font-size="8.42" fill="#111" stroke="#111" stroke-width="0.24" textLength="18" lengthAdjust="spacingAndGlyphs">CD43</text>
<g clip-path="url(#fc17)">
<rect x="394.8" y="494.4" width="52.7" height="53.4" fill="#fff"/>
<path d="M424.5 522.8h0.55M414.8 497.6h0.55M437.5 542.8h0.55M422.5 523.7h0.55M444.7 513.0h0.55M395.4 507.7h0.55M408.4 525.3h0.55M410.2 538.4h0.55M396.2 545.8h0.55M412.8 519.9h0.55M417.5 498.6h0.55M418.5 504.8h0.55M401.4 502.0h0.55M409.0 539.4h0.55M433.7 520.9h0.55M409.3 527.1h0.55M422.9 507.7h0.55M408.3 509.2h0.55M439.9 537.3h0.55M421.7 540.6h0.55M430.5 544.0h0.55M407.6 519.2h0.55M442.2 504.4h0.55M416.8 540.0h0.55M413.7 498.5h0.55M417.0 518.1h0.55M401.9 512.1h0.55M428.5 543.1h0.55M416.3 499.1h0.55M407.4 505.5h0.55M411.5 540.8h0.55M438.1 518.3h0.55M446.8 535.6h0.55M439.3 547.3h0.55M445.9 504.7h0.55M431.0 543.1h0.55M426.9 532.0h0.55M431.3 505.4h0.55M435.2 521.8h0.55M396.9 531.2h0.55" stroke="#9aa4d0" stroke-width="0.65" opacity="0.4"/>
<path d="M394,519.5 L420,519 C420,528 417,538 412,548 L394,548 Z" fill="#2a47b6" filter="url(#bl100)"/>
<ellipse cx="428.5" cy="535" rx="2.6" ry="6.5" fill="#4a66c0" opacity="0.55" filter="url(#bl100)"/>
<g filter="url(#bl45)">
<path d="M402.6,549.4 401.1,549.6 399.6,549.5 398.1,549.2 396.8,548.8 395.6,548.1 394.6,547.3 393.6,546.4 392.8,545.3 392.7,539.1 392.8,531.0 394.2,528.4 396.0,526.1 398.1,524.4 400.3,523.3 403.1,522.6 406.1,522.5 410.6,522.8 413.3,523.5 415.1,524.5 416.2,525.6 417.1,527.1 417.5,528.6 417.6,531.1 417.1,536.4 416.7,538.6 416.1,540.4 415.2,542.1 414.1,543.6 412.8,545.0 411.3,546.1 409.3,547.2 407.1,548.2 404.6,549.0 402.6,549.4Z" fill="#2f7fd0"/>
<path d="M401.3,546.7 399.1,546.6 398.1,546.3 397.1,545.8 395.5,544.4 394.4,542.6 393.8,540.4 393.8,537.9 394.4,535.4 395.6,532.6 397.1,530.5 398.8,528.7 400.6,527.4 402.8,526.3 406.3,525.1 409.1,524.6 411.3,524.7 412.3,525.0 413.3,525.4 414.6,526.4 415.3,527.4 415.7,528.9 415.8,530.4 415.1,532.9 412.1,539.6 411.3,540.9 410.4,541.9 409.3,542.9 407.8,544.0 406.1,545.0 404.3,545.9 402.8,546.4 401.3,546.7Z" fill="#3cbfae"/>
<path d="M401.8,543.9 400.3,544.1 398.8,543.8 397.6,543.0 396.6,541.6 396.2,540.1 396.2,538.4 396.6,536.6 397.6,534.6 399.1,532.8 401.0,530.9 403.9,528.4 406.1,527.0 407.8,526.2 409.8,525.8 411.6,526.0 412.8,526.6 413.9,527.6 414.3,528.4 414.5,529.4 414.3,531.1 413.4,533.1 412.3,534.6 408.1,539.6 406.6,541.1 404.1,543.0 402.8,543.6 401.8,543.9Z" fill="#6cc850"/>
<path d="M405.6,535.7 404.6,535.7 404.1,535.6 403.8,535.3 403.7,534.6 403.8,533.1 404.2,531.6 404.8,530.4 405.5,529.4 407.1,528.0 408.1,527.5 409.1,527.2 410.8,527.1 411.6,527.3 412.3,527.8 412.9,528.6 413.2,529.9 412.8,531.4 412.0,532.6 410.8,533.8 409.3,534.7 407.6,535.3 405.6,535.7ZM401.8,538.3 401.6,538.4 401.4,538.1 401.6,537.8 402.1,537.5 402.1,537.9 401.8,538.3Z" fill="#b8d63a"/>
<path d="M409.3,532.9 408.1,533.0 407.1,532.6 406.6,531.7 406.6,530.6 407.3,529.5 408.3,528.7 409.6,528.3 410.6,528.4 411.2,528.6 411.6,529.1 411.9,529.9 411.8,530.6 411.4,531.4 410.8,532.1 410.1,532.6 409.3,532.9Z" fill="#e6dc2c"/>
</g>
<path d="M410.6 510.1h0.55M408.5 517.9h0.55M400.6 516.6h0.55M397.5 506.5h0.55M405.4 510.4h0.55M392.5 516.0h0.55M410.7 507.2h0.55M402.4 510.7h0.55M394.3 512.3h0.55M393.4 504.2h0.55M415.3 508.5h0.55M398.1 510.1h0.55M398.4 519.4h0.55M407.6 514.3h0.55M411.0 519.3h0.55M386.5 514.0h0.55M405.4 511.3h0.55M413.2 513.4h0.55M390.5 512.0h0.55M402.7 515.4h0.55M387.7 513.5h0.55M405.1 513.6h0.55M407.1 502.8h0.55M409.4 510.9h0.55M397.8 514.7h0.55M403.7 517.5h0.55M412.4 506.6h0.55M410.1 511.0h0.55M403.8 510.4h0.55M412.0 507.9h0.55M407.4 505.0h0.55M406.6 506.0h0.55M394.0 510.8h0.55M395.2 515.3h0.55M395.4 517.3h0.55M410.4 511.4h0.55M409.0 511.8h0.55M422.6 513.0h0.55M399.4 512.5h0.55M401.3 510.7h0.55M399.4 508.9h0.55M410.7 510.8h0.55M410.1 509.8h0.55M403.3 509.2h0.55M414.1 517.5h0.55M403.3 514.5h0.55M392.7 506.0h0.55M409.8 504.2h0.55M426.0 515.0h0.55M417.7 510.7h0.55M393.4 507.6h0.55M397.2 514.4h0.55M395.9 507.9h0.55M416.5 506.3h0.55M399.1 516.5h0.55M423.9 504.6h0.55M385.0 508.3h0.55M405.8 510.9h0.55M399.7 506.0h0.55M410.8 509.0h0.55M399.0 511.2h0.55M415.7 511.8h0.55M424.7 509.8h0.55M409.0 502.6h0.55M399.0 511.0h0.55M398.6 508.0h0.55M399.8 507.2h0.55M399.9 511.4h0.55M407.2 506.8h0.55M402.6 507.9h0.55M411.5 518.0h0.55M405.8 512.8h0.55M402.1 513.1h0.55M402.6 506.1h0.55M414.2 520.1h0.55M409.3 511.1h0.55M408.1 517.9h0.55M400.6 514.1h0.55M405.7 502.5h0.55M401.5 513.4h0.55M407.2 510.7h0.55M394.4 512.2h0.55M405.8 513.4h0.55M418.7 511.4h0.55M413.2 513.2h0.55M426.5 513.2h0.55M425.6 507.2h0.55M394.8 513.2h0.55M403.4 516.5h0.55M411.0 514.6h0.55M398.3 511.2h0.55M411.4 509.1h0.55M404.8 516.2h0.55M404.4 512.3h0.55M414.5 513.2h0.55M393.0 511.9h0.55M405.0 512.7h0.55M423.1 516.0h0.55M406.0 508.7h0.55M411.6 512.2h0.55M415.3 512.7h0.55M412.8 508.2h0.55M403.4 511.6h0.55M398.2 513.0h0.55M401.7 509.9h0.55M399.2 511.0h0.55M391.6 515.0h0.55M408.0 513.7h0.55M414.8 512.5h0.55M402.3 516.7h0.55M401.6 512.0h0.55M387.4 509.2h0.55M404.5 513.9h0.55M408.8 515.2h0.55M400.1 509.0h0.55M406.2 508.1h0.55M401.3 511.5h0.55M388.5 504.9h0.55M407.7 508.3h0.55M410.4 509.2h0.55M396.0 513.6h0.55M402.2 512.6h0.55M398.9 507.9h0.55M401.6 508.0h0.55M402.7 507.1h0.55M407.0 514.2h0.55M407.9 506.0h0.55M414.0 504.1h0.55M405.8 511.5h0.55M410.2 508.4h0.55M400.1 515.7h0.55M413.2 507.0h0.55M401.9 507.9h0.55M383.4 515.6h0.55M398.9 511.3h0.55M406.1 505.9h0.55M411.3 508.4h0.55M392.5 512.4h0.55M405.4 508.9h0.55M403.7 517.8h0.55M409.7 511.1h0.55M401.2 518.4h0.55M400.6 503.3h0.55M413.9 509.1h0.55M386.8 505.5h0.55M393.2 502.3h0.55M398.0 508.7h0.55M417.2 510.7h0.55M399.4 510.4h0.55M405.6 515.0h0.55M414.6 503.2h0.55M392.3 511.0h0.55M419.4 509.1h0.55M412.8 508.8h0.55M399.6 510.0h0.55M415.2 509.1h0.55M404.7 512.4h0.55M411.5 511.3h0.55M411.3 517.8h0.55M410.5 509.6h0.55M403.1 512.2h0.55M402.0 506.6h0.55M396.7 508.9h0.55M388.5 522.7h0.55M411.0 508.8h0.55M398.2 516.0h0.55M392.9 507.0h0.55M412.5 510.8h0.55M410.4 511.5h0.55M404.2 508.5h0.55M408.1 512.1h0.55M406.1 509.4h0.55M413.8 511.4h0.55M409.0 506.4h0.55M391.0 514.0h0.55M399.0 507.7h0.55M407.1 516.4h0.55M402.0 509.9h0.55M407.8 513.3h0.55M404.7 503.9h0.55M410.4 508.0h0.55M420.9 508.3h0.55M406.0 510.9h0.55M405.8 521.1h0.55M402.2 515.2h0.55M404.3 509.7h0.55M410.4 512.5h0.55M402.8 507.2h0.55M407.7 524.8h0.55M403.2 513.7h0.55M399.6 525.0h0.55M392.8 508.8h0.55M389.2 513.9h0.55M405.5 512.9h0.55M404.2 517.4h0.55M415.3 515.8h0.55M382.7 507.5h0.55M405.2 514.7h0.55M382.3 517.5h0.55M407.0 517.6h0.55M394.9 508.1h0.55M395.9 508.6h0.55M398.0 504.1h0.55M414.7 513.3h0.55M397.6 502.9h0.55M413.6 501.9h0.55M395.3 506.0h0.55M398.3 512.9h0.55M411.1 512.3h0.55M394.8 516.3h0.55M413.7 514.2h0.55M423.2 506.8h0.55M398.0 507.9h0.55M399.1 513.7h0.55M405.8 509.4h0.55M413.4 510.7h0.55M399.6 508.5h0.55M393.6 510.1h0.55M397.1 510.6h0.55M407.1 512.9h0.55M400.4 518.6h0.55M394.7 513.9h0.55M404.2 512.1h0.55M398.5 507.9h0.55M409.1 504.1h0.55M405.1 505.1h0.55M389.2 511.3h0.55M399.4 518.8h0.55M389.8 511.6h0.55M404.8 511.7h0.55M400.2 504.5h0.55M409.9 514.0h0.55M407.1 512.1h0.55M413.6 514.9h0.55M409.6 508.5h0.55M412.1 507.5h0.55M407.1 507.0h0.55M402.7 514.2h0.55M401.5 514.8h0.55M400.2 517.7h0.55M402.7 521.5h0.55M409.8 510.8h0.55M395.0 509.3h0.55M419.8 506.0h0.55M391.4 512.2h0.55M414.1 509.5h0.55M397.1 510.1h0.55M402.3 515.5h0.55M419.1 510.4h0.55M397.4 506.2h0.55M390.1 510.7h0.55M391.4 513.8h0.55M402.1 508.2h0.55M415.5 504.0h0.55M411.2 511.4h0.55M406.0 510.9h0.55M394.8 513.4h0.55M413.5 502.8h0.55M404.7 510.5h0.55M401.5 512.6h0.55" stroke="#6a7cc4" stroke-width="0.65" opacity="0.55"/>
<path d="M429.7 529.2h0.55M425.1 542.3h0.55M428.5 539.3h0.55M429.4 536.0h0.55M421.6 541.5h0.55M433.5 535.7h0.55M428.1 536.7h0.55M427.9 522.4h0.55M427.6 535.1h0.55M431.5 528.3h0.55M427.7 535.3h0.55M429.9 548.8h0.55M430.4 539.8h0.55M425.2 546.4h0.55M423.8 544.7h0.55M431.0 535.9h0.55M425.6 539.0h0.55M427.3 544.7h0.55M420.4 535.8h0.55M421.3 535.8h0.55M427.7 541.1h0.55M425.4 528.3h0.55M422.5 532.0h0.55M429.1 533.4h0.55M425.8 533.6h0.55M430.1 537.3h0.55M423.0 531.6h0.55M426.1 515.7h0.55M430.2 537.4h0.55M425.6 538.8h0.55M429.2 531.7h0.55M429.4 533.6h0.55M426.6 542.4h0.55M424.1 548.5h0.55M429.3 532.2h0.55M429.7 528.5h0.55M427.4 549.1h0.55M429.9 534.0h0.55M428.1 541.6h0.55M431.1 532.8h0.55M431.9 535.0h0.55M428.4 540.5h0.55M426.5 524.2h0.55M428.1 541.3h0.55M427.7 541.3h0.55M432.0 532.7h0.55M428.6 534.2h0.55M430.4 538.6h0.55M429.1 544.8h0.55M429.7 537.2h0.55M426.5 535.8h0.55M432.4 540.2h0.55M428.9 534.6h0.55M426.0 530.2h0.55M431.5 535.5h0.55M428.9 544.2h0.55M427.5 532.0h0.55M432.6 539.7h0.55M424.2 535.2h0.55M426.4 531.8h0.55M428.0 523.9h0.55M426.6 548.0h0.55M428.1 532.0h0.55M431.3 525.8h0.55M428.0 544.4h0.55M428.7 537.7h0.55M428.0 537.8h0.55M430.6 534.2h0.55M428.9 537.1h0.55M423.3 541.7h0.55M433.7 541.1h0.55M429.3 532.9h0.55M429.7 549.1h0.55M432.8 530.6h0.55M432.9 530.6h0.55M426.9 534.5h0.55M430.4 533.9h0.55M431.5 537.6h0.55M433.1 525.9h0.55M429.0 540.1h0.55M433.0 521.0h0.55M428.1 521.8h0.55M429.9 531.7h0.55M429.6 542.6h0.55M431.1 534.1h0.55M430.4 557.1h0.55M427.4 539.6h0.55M427.4 541.5h0.55M426.5 539.8h0.55M424.6 537.0h0.55M435.8 527.7h0.55M427.1 542.1h0.55M425.7 519.5h0.55M424.2 537.0h0.55M431.8 536.3h0.55M429.0 543.2h0.55M428.7 545.0h0.55M432.9 533.5h0.55M432.3 540.6h0.55M428.4 535.6h0.55M431.8 527.1h0.55M424.3 543.8h0.55M434.2 537.6h0.55M431.7 524.3h0.55M425.1 531.8h0.55M427.8 536.7h0.55M427.4 535.1h0.55M428.2 539.9h0.55M431.7 541.7h0.55M432.6 534.3h0.55M427.5 522.5h0.55M424.0 541.2h0.55M430.1 535.8h0.55M427.8 526.9h0.55M422.5 531.4h0.55M428.0 517.4h0.55M432.4 530.7h0.55M429.9 544.6h0.55M432.9 533.3h0.55M431.4 541.8h0.55M428.8 537.7h0.55M426.2 537.3h0.55M426.8 533.9h0.55M429.0 542.1h0.55M428.0 533.5h0.55M427.5 554.7h0.55M427.5 538.7h0.55M424.4 535.8h0.55M425.3 531.4h0.55M430.8 547.6h0.55M429.1 539.7h0.55M429.2 532.3h0.55M428.9 542.3h0.55M429.2 532.7h0.55M427.3 538.8h0.55M427.7 541.9h0.55M424.7 540.8h0.55M426.4 534.9h0.55M434.6 542.8h0.55M427.2 532.7h0.55M431.2 542.1h0.55M428.6 540.7h0.55M427.5 516.0h0.55M431.8 532.0h0.55M430.4 534.2h0.55M427.9 529.2h0.55M430.8 541.4h0.55M432.2 540.4h0.55M429.9 531.8h0.55M428.8 538.5h0.55M421.7 527.3h0.55M428.2 541.2h0.55M432.6 547.5h0.55M426.5 535.9h0.55M427.2 529.7h0.55M427.7 536.2h0.55M431.0 524.9h0.55M428.3 528.4h0.55M432.6 547.5h0.55M427.3 530.4h0.55M430.4 542.1h0.55M425.8 532.3h0.55M429.4 527.9h0.55M432.9 535.6h0.55M428.8 527.1h0.55M432.1 525.8h0.55M426.6 531.1h0.55M428.2 525.1h0.55M426.4 539.5h0.55M428.5 536.1h0.55M431.4 538.5h0.55M431.5 535.4h0.55M426.1 547.0h0.55M423.8 525.6h0.55M425.4 552.0h0.55M428.8 542.9h0.55M424.2 527.5h0.55M429.5 532.0h0.55M428.9 539.5h0.55M428.9 535.9h0.55M429.2 533.8h0.55M429.5 542.1h0.55M426.0 537.3h0.55M431.1 534.0h0.55M428.4 548.3h0.55M431.8 551.5h0.55M433.9 533.0h0.55M426.7 533.3h0.55M431.1 511.3h0.55M428.8 543.9h0.55M428.8 537.7h0.55M428.0 523.6h0.55M431.3 533.4h0.55M430.0 535.5h0.55M434.2 538.7h0.55M429.9 534.7h0.55M426.4 538.3h0.55M431.7 535.5h0.55M422.6 529.9h0.55M434.1 531.5h0.55M429.2 522.0h0.55M427.0 529.3h0.55M430.9 539.8h0.55M430.2 542.5h0.55M427.3 547.4h0.55M428.0 541.9h0.55M434.6 531.8h0.55M429.7 534.6h0.55M429.0 537.5h0.55M428.5 535.5h0.55M430.7 526.1h0.55M426.6 531.9h0.55M424.8 537.8h0.55M427.4 529.4h0.55M424.8 529.2h0.55M429.9 526.5h0.55M431.2 539.8h0.55M429.5 523.5h0.55M426.5 542.7h0.55M427.6 530.0h0.55M426.6 538.0h0.55M423.5 542.5h0.55M429.3 528.1h0.55M430.3 516.3h0.55M425.2 537.5h0.55M432.8 527.0h0.55M424.6 534.8h0.55M428.9 529.9h0.55M426.4 546.2h0.55M426.0 523.9h0.55M427.4 544.4h0.55M430.5 535.0h0.55M425.0 534.6h0.55M436.6 539.5h0.55M431.5 524.1h0.55M427.4 531.3h0.55M433.5 533.2h0.55M428.4 531.8h0.55M420.6 543.2h0.55M423.3 531.1h0.55M424.1 531.0h0.55M427.3 531.6h0.55M432.6 526.7h0.55M427.7 539.0h0.55M427.4 531.5h0.55M434.0 540.6h0.55M426.2 537.0h0.55M426.0 538.4h0.55M424.5 540.8h0.55M429.6 537.5h0.55M428.6 536.7h0.55M426.1 535.6h0.55M430.2 538.2h0.55M425.9 539.1h0.55M425.2 530.0h0.55M426.1 530.8h0.55M428.2 539.9h0.55M431.5 538.3h0.55M426.5 540.4h0.55M431.3 529.7h0.55M425.2 534.0h0.55M434.0 533.0h0.55M428.0 540.0h0.55M425.2 527.5h0.55M428.2 541.0h0.55M427.7 530.5h0.55M423.8 546.2h0.55M425.0 544.3h0.55M426.5 543.1h0.55M433.3 528.9h0.55M430.2 540.2h0.55M432.1 532.9h0.55M432.0 535.8h0.55M425.7 542.1h0.55M432.1 535.0h0.55M428.2 540.5h0.55M433.3 526.3h0.55M431.5 549.3h0.55M426.0 539.1h0.55M428.7 537.6h0.55M432.0 523.8h0.55M427.1 525.3h0.55M427.6 548.2h0.55M425.6 531.7h0.55M426.8 537.9h0.55M427.6 529.5h0.55M426.3 533.9h0.55M425.1 518.1h0.55M431.8 535.9h0.55M426.8 533.9h0.55M430.6 529.0h0.55M428.6 531.2h0.55M432.0 517.9h0.55M424.6 544.9h0.55M425.1 529.4h0.55M425.1 518.6h0.55M428.2 539.8h0.55M429.4 526.3h0.55M427.0 546.6h0.55M428.0 528.4h0.55" stroke="#4a5ec0" stroke-width="0.65" opacity="0.6"/>
</g>
<rect x="394.8" y="494.4" width="52.7" height="53.4" fill="none" stroke="#333" stroke-width="0.8"/>
<line x1="420.4" y1="494.4" x2="420.4" y2="547.8" stroke="#444" stroke-width="0.7"/>
<line x1="394.8" y1="518.7" x2="447.5" y2="518.7" stroke="#444" stroke-width="0.7"/>
<text x="396.5" y="501" font-size="5.4" fill="#333" stroke="#333" stroke-width="0.24">2.8%</text>
<text x="445.5" y="545.5" font-size="5.4" text-anchor="end" fill="#333" stroke="#333" stroke-width="0.24">4.7%</text>
<line x1="389" y1="554" x2="389" y2="533.2" stroke="#000" stroke-width="1"/>
<line x1="388.5" y1="554" x2="409" y2="554" stroke="#000" stroke-width="1"/>
<path d="M386.84,533.55 L389,529.9 L391.16,533.55 Z" fill="#000"/>
<path d="M408.66,551.84 L412.3,554 L408.66,556.16 Z" fill="#000"/>
<text x="391.6" y="518.5" font-size="8.42" text-anchor="middle" fill="#111" stroke="#111" stroke-width="0.24" textLength="13.5" lengthAdjust="spacingAndGlyphs" transform="rotate(-90 391.6 518.5)">CD8</text>
<text x="414" y="556.7" font-size="8.42" fill="#111" stroke="#111" stroke-width="0.24" textLength="14.5" lengthAdjust="spacingAndGlyphs">CD4</text>
<g clip-path="url(#fc18)">
<rect x="460.8" y="493.9" width="53" height="53.4" fill="#fff"/>
<path d="M500.2 509.2h0.55M464.0 539.4h0.55M473.4 532.1h0.55M479.4 529.4h0.55M484.4 519.2h0.55M494.2 516.6h0.55M477.7 518.0h0.55M463.6 526.7h0.55M472.2 513.9h0.55M476.4 543.3h0.55M478.1 528.5h0.55M509.6 515.1h0.55M441.2 521.3h0.55M500.0 506.3h0.55M485.2 515.1h0.55M485.1 515.6h0.55M467.9 519.9h0.55M477.6 515.1h0.55M472.9 528.8h0.55M470.0 539.8h0.55M467.1 527.3h0.55M481.2 517.7h0.55M489.4 510.9h0.55M462.9 527.9h0.55M484.5 523.3h0.55M474.3 518.2h0.55M499.2 511.9h0.55M468.1 542.7h0.55M507.5 508.8h0.55M467.0 540.2h0.55M489.9 514.8h0.55M504.1 515.2h0.55M472.9 527.4h0.55M469.2 528.7h0.55M491.4 510.5h0.55M457.9 524.2h0.55M477.7 518.6h0.55M495.0 511.7h0.55M465.1 530.7h0.55M479.6 515.7h0.55M468.2 524.6h0.55M459.5 529.0h0.55M463.6 534.9h0.55M461.0 516.9h0.55M460.8 526.2h0.55M496.2 509.4h0.55M480.9 516.1h0.55M477.7 512.9h0.55M472.7 535.7h0.55M495.7 515.7h0.55M454.0 523.1h0.55M469.1 547.7h0.55M464.9 549.9h0.55M494.3 509.2h0.55M501.6 514.9h0.55M462.7 547.1h0.55M457.1 533.0h0.55M505.8 515.7h0.55M491.3 516.2h0.55M459.7 549.7h0.55M489.4 519.8h0.55M466.5 511.4h0.55M484.4 512.5h0.55M478.9 521.8h0.55M459.8 527.4h0.55M466.2 520.0h0.55M471.3 521.2h0.55M469.5 520.7h0.55M493.5 513.7h0.55M486.7 510.6h0.55M460.1 532.7h0.55M502.5 513.8h0.55M470.9 518.2h0.55M505.6 511.5h0.55M453.9 516.8h0.55M507.5 510.4h0.55M479.1 520.6h0.55M467.1 532.8h0.55M494.3 504.6h0.55M494.8 510.8h0.55M495.8 518.4h0.55M472.4 520.3h0.55M482.5 527.8h0.55M472.8 528.1h0.55M504.1 505.5h0.55M473.1 535.0h0.55M461.7 530.2h0.55M477.2 525.0h0.55M495.3 504.5h0.55M472.7 526.4h0.55M470.0 538.7h0.55M489.3 519.4h0.55M504.0 507.8h0.55M445.6 532.2h0.55M466.3 514.4h0.55M477.9 515.3h0.55M474.2 509.7h0.55M486.0 516.2h0.55M479.9 514.7h0.55M463.5 542.5h0.55M470.6 531.7h0.55M460.9 527.3h0.55M472.0 525.4h0.55M467.9 523.3h0.55M482.6 514.7h0.55M484.1 510.0h0.55M473.9 530.3h0.55M471.5 520.2h0.55M471.7 517.5h0.55M468.4 528.5h0.55M473.9 521.2h0.55M473.8 516.3h0.55M492.8 524.3h0.55M470.5 526.0h0.55M492.9 512.2h0.55M462.1 528.9h0.55M466.7 522.2h0.55M498.3 520.4h0.55M466.1 526.1h0.55M471.5 518.6h0.55M454.2 531.3h0.55M460.4 523.2h0.55M481.3 513.2h0.55M476.3 525.4h0.55M507.6 506.3h0.55M500.1 512.0h0.55M466.4 532.3h0.55M472.8 513.1h0.55M467.2 524.4h0.55M487.9 529.9h0.55M461.8 533.0h0.55M461.6 522.9h0.55M503.8 511.7h0.55M473.5 546.2h0.55M466.3 529.7h0.55M501.7 512.5h0.55M476.0 515.6h0.55M494.8 516.4h0.55M473.3 516.7h0.55M463.8 527.5h0.55M506.5 508.8h0.55M466.4 534.9h0.55M501.7 513.5h0.55M478.5 518.1h0.55M467.4 522.6h0.55M467.0 529.0h0.55M466.2 545.5h0.55M471.6 537.0h0.55M497.0 513.8h0.55M496.3 513.4h0.55M506.3 511.0h0.55M466.2 524.1h0.55M481.4 519.0h0.55M462.6 523.3h0.55M464.8 536.9h0.55M461.5 534.4h0.55M509.0 514.3h0.55M499.6 517.6h0.55M474.8 524.7h0.55M469.2 530.8h0.55M490.2 527.6h0.55M465.1 519.0h0.55M503.5 507.8h0.55M467.2 530.6h0.55M494.2 515.2h0.55M490.7 510.1h0.55M476.3 522.8h0.55M500.5 511.9h0.55M495.0 520.9h0.55M487.5 520.7h0.55M494.4 506.4h0.55M489.2 509.9h0.55M486.4 512.4h0.55M462.0 533.5h0.55M461.6 535.3h0.55M496.3 511.5h0.55M503.2 515.4h0.55M476.9 524.0h0.55M484.7 515.5h0.55M489.3 512.0h0.55M477.4 535.0h0.55M503.1 517.1h0.55M470.1 527.6h0.55M455.3 525.5h0.55M457.1 534.5h0.55M478.4 515.5h0.55M474.0 535.8h0.55M469.8 539.3h0.55M464.7 519.7h0.55M468.7 531.7h0.55M476.2 518.5h0.55M453.8 529.2h0.55M499.6 513.5h0.55M504.0 517.2h0.55M473.6 521.9h0.55M499.1 510.7h0.55M473.5 530.3h0.55M493.8 508.8h0.55M480.4 529.4h0.55M476.8 535.5h0.55M470.4 544.9h0.55M462.6 531.0h0.55M473.7 511.1h0.55M466.6 519.9h0.55M474.0 519.6h0.55M456.6 538.5h0.55M465.3 538.7h0.55M470.6 532.9h0.55M476.5 519.3h0.55M467.4 535.1h0.55M500.2 511.6h0.55M487.3 517.2h0.55M509.1 507.5h0.55M464.7 521.0h0.55M469.7 547.1h0.55M456.0 522.9h0.55M504.8 507.4h0.55M464.0 530.3h0.55M491.1 509.7h0.55M497.0 508.8h0.55M503.7 499.1h0.55M499.6 508.2h0.55M502.6 506.1h0.55M470.1 548.9h0.55M470.4 528.7h0.55M496.8 513.0h0.55M501.2 512.5h0.55M470.7 524.5h0.55M481.7 524.6h0.55M473.8 518.1h0.55M465.8 544.7h0.55M487.2 518.4h0.55M464.0 518.6h0.55M494.1 511.8h0.55M492.5 517.3h0.55M492.7 509.0h0.55M472.2 515.4h0.55M445.9 537.8h0.55M466.5 523.9h0.55M498.1 523.7h0.55M491.6 513.3h0.55M472.1 534.2h0.55M468.1 527.4h0.55M459.1 543.1h0.55M477.9 519.2h0.55M467.7 521.2h0.55M472.8 536.5h0.55M504.5 511.7h0.55M494.9 511.6h0.55M497.1 510.1h0.55M497.9 506.7h0.55M503.4 507.3h0.55M463.1 534.0h0.55M461.1 549.1h0.55M505.5 517.7h0.55M507.1 516.3h0.55M451.9 531.2h0.55M469.0 526.6h0.55M473.6 518.3h0.55M465.5 526.3h0.55M502.1 505.6h0.55M469.4 538.3h0.55M476.5 518.6h0.55M505.8 514.4h0.55M490.8 518.7h0.55M471.4 529.0h0.55M477.6 519.5h0.55M493.3 516.7h0.55M476.9 552.5h0.55M466.5 530.0h0.55M493.8 516.0h0.55M467.2 544.6h0.55M491.5 514.7h0.55M469.9 523.2h0.55M466.5 517.7h0.55M471.7 534.7h0.55M468.4 533.5h0.55M492.2 513.9h0.55M493.0 523.1h0.55M468.7 529.5h0.55M496.1 512.3h0.55M475.1 520.1h0.55M470.6 523.5h0.55M480.3 518.2h0.55M474.7 529.0h0.55M488.6 514.9h0.55M482.0 519.0h0.55M502.9 501.1h0.55M472.3 516.6h0.55M488.8 512.5h0.55M484.4 515.7h0.55M505.5 502.4h0.55M469.3 537.0h0.55M468.2 540.1h0.55M466.5 538.9h0.55M495.6 510.6h0.55M464.7 521.5h0.55M489.2 513.2h0.55M471.3 532.9h0.55M481.2 525.1h0.55M461.8 524.3h0.55M472.3 539.8h0.55M469.7 547.1h0.55M495.6 513.3h0.55M504.3 505.1h0.55M470.7 540.2h0.55M469.6 538.8h0.55M467.9 523.8h0.55M467.5 538.4h0.55M485.4 526.8h0.55M473.0 553.8h0.55M473.1 539.1h0.55M493.6 521.6h0.55M491.8 508.2h0.55M460.5 529.4h0.55M475.1 519.3h0.55M483.5 522.1h0.55M473.6 517.1h0.55M474.4 524.9h0.55M467.3 540.5h0.55M473.1 532.9h0.55M464.2 524.5h0.55M493.9 509.3h0.55M481.3 512.0h0.55M482.1 516.2h0.55M490.1 510.1h0.55M482.5 521.8h0.55M456.9 528.3h0.55M465.3 526.9h0.55M489.7 515.2h0.55M470.3 520.1h0.55M486.0 501.4h0.55M472.2 554.7h0.55M467.5 531.2h0.55M467.3 542.5h0.55M479.8 527.5h0.55M434.7 535.1h0.55M478.0 518.6h0.55M472.8 510.0h0.55M482.8 514.2h0.55M482.9 515.4h0.55M463.1 514.9h0.55M505.2 508.9h0.55M486.8 524.5h0.55M487.1 517.7h0.55M446.7 535.5h0.55M472.1 524.8h0.55M457.2 528.2h0.55M466.9 547.3h0.55M459.5 525.1h0.55M489.4 518.0h0.55M458.6 518.3h0.55M475.5 531.2h0.55M492.6 511.9h0.55M503.0 511.9h0.55M504.3 506.7h0.55M470.5 526.0h0.55M466.6 534.4h0.55M462.8 520.3h0.55M463.9 529.0h0.55M468.1 520.9h0.55M475.6 525.7h0.55M476.4 531.6h0.55M503.1 513.7h0.55M446.3 531.1h0.55M460.7 544.1h0.55M473.8 528.8h0.55M499.5 509.9h0.55M466.3 528.7h0.55M466.1 522.8h0.55M493.7 513.7h0.55M492.8 524.5h0.55M500.5 513.8h0.55M491.0 503.3h0.55M481.8 518.3h0.55M487.5 516.6h0.55M469.5 519.2h0.55M479.2 514.5h0.55M461.1 536.9h0.55M479.8 521.8h0.55M465.2 533.5h0.55M463.3 531.2h0.55M494.4 522.9h0.55M475.9 522.4h0.55M464.3 521.9h0.55M470.7 520.6h0.55M466.3 527.7h0.55M483.8 523.4h0.55M472.1 523.5h0.55M489.4 520.9h0.55M471.0 543.4h0.55M478.7 512.8h0.55M462.9 522.1h0.55M491.5 511.1h0.55M476.6 519.8h0.55M474.0 522.6h0.55M506.5 505.2h0.55M469.8 516.3h0.55M473.3 542.4h0.55M460.8 527.5h0.55M459.7 527.4h0.55M480.0 519.2h0.55M459.4 536.5h0.55M484.5 524.2h0.55M481.6 518.2h0.55M464.6 539.6h0.55M493.0 518.6h0.55M492.9 513.9h0.55M461.2 535.6h0.55M475.0 545.8h0.55M464.7 552.9h0.55M474.7 542.3h0.55M466.6 526.8h0.55M472.6 554.3h0.55M473.4 519.8h0.55M506.1 513.8h0.55M472.4 530.8h0.55M471.3 523.2h0.55M501.9 514.4h0.55M467.3 515.2h0.55M473.4 534.4h0.55M467.4 543.5h0.55M459.2 525.8h0.55M466.4 539.2h0.55M467.9 541.0h0.55M490.6 513.0h0.55M463.9 544.6h0.55M474.3 536.0h0.55M490.4 514.7h0.55M473.1 528.3h0.55M467.7 547.1h0.55M509.8 503.0h0.55M501.0 509.7h0.55M483.0 506.4h0.55M488.2 512.1h0.55M485.6 519.6h0.55M493.0 515.1h0.55M484.9 516.1h0.55M489.2 512.8h0.55M472.8 519.8h0.55M483.3 519.3h0.55M473.4 552.6h0.55M492.8 514.7h0.55M470.3 533.2h0.55M471.5 515.7h0.55M471.4 533.6h0.55M487.6 514.9h0.55M477.6 534.4h0.55M478.2 554.7h0.55M469.7 532.8h0.55M504.1 516.0h0.55M508.7 509.8h0.55M495.7 519.4h0.55M453.7 526.7h0.55M468.6 540.0h0.55M472.4 522.6h0.55M494.6 514.8h0.55M494.9 516.7h0.55M469.1 527.0h0.55M497.0 520.4h0.55M479.3 522.3h0.55M473.7 520.6h0.55M479.7 516.9h0.55M494.1 520.2h0.55M492.7 513.2h0.55M465.2 518.0h0.55M496.7 512.3h0.55M462.4 525.5h0.55M502.5 509.5h0.55M492.6 516.2h0.55M495.5 515.6h0.55M440.6 539.1h0.55M464.2 532.2h0.55M469.0 528.7h0.55M472.1 517.6h0.55M470.1 540.1h0.55M458.5 516.8h0.55M506.0 510.9h0.55M492.5 518.5h0.55M474.2 539.8h0.55M470.8 530.8h0.55M483.1 520.7h0.55M464.4 553.2h0.55M475.7 523.6h0.55M492.2 508.3h0.55M476.3 531.4h0.55M478.3 509.6h0.55M498.4 519.5h0.55M468.8 523.5h0.55M468.3 528.6h0.55M468.7 521.3h0.55M487.8 521.9h0.55M494.5 516.3h0.55M503.4 512.6h0.55M502.7 511.9h0.55M464.5 542.5h0.55M470.8 516.1h0.55M480.6 515.1h0.55M496.3 513.2h0.55M504.5 513.4h0.55M464.8 530.3h0.55M484.4 519.9h0.55M520.4 501.1h0.55M465.4 544.0h0.55M466.4 537.0h0.55M486.9 509.3h0.55M500.7 506.9h0.55M491.5 513.0h0.55M487.2 523.1h0.55M467.3 519.2h0.55M504.7 509.8h0.55M479.7 523.9h0.55M465.6 523.7h0.55M459.4 518.9h0.55M471.4 546.1h0.55M481.1 511.1h0.55M467.5 538.2h0.55M499.6 516.5h0.55M464.0 538.1h0.55M475.0 520.3h0.55M476.0 523.0h0.55M462.1 532.5h0.55M486.9 521.4h0.55M504.4 510.5h0.55M506.3 514.5h0.55M481.6 528.9h0.55M506.4 507.8h0.55M467.5 531.0h0.55M479.2 521.2h0.55M469.5 531.7h0.55M470.5 546.0h0.55M472.6 541.1h0.55M495.9 511.6h0.55M507.5 508.8h0.55M470.4 527.0h0.55M503.0 503.9h0.55M476.3 526.5h0.55M493.5 515.1h0.55M469.8 517.5h0.55M463.2 518.1h0.55M476.3 525.6h0.55M479.5 529.3h0.55M475.6 516.9h0.55M500.3 518.2h0.55M469.3 522.6h0.55M503.1 508.1h0.55M487.8 515.7h0.55M496.8 511.9h0.55M477.7 523.8h0.55M460.3 523.8h0.55M465.7 521.5h0.55M463.3 524.3h0.55M475.6 511.6h0.55M474.5 517.4h0.55M492.7 506.5h0.55M452.5 519.7h0.55M490.3 510.8h0.55M470.7 527.4h0.55M466.7 533.3h0.55M498.8 505.6h0.55M463.7 534.2h0.55M474.4 528.4h0.55M494.4 516.1h0.55M480.1 518.6h0.55M506.6 505.5h0.55M471.4 551.3h0.55M475.8 531.9h0.55M502.1 511.7h0.55M506.1 509.8h0.55M442.5 532.4h0.55M467.0 521.9h0.55M471.4 529.9h0.55M469.8 533.5h0.55M499.3 520.6h0.55M476.7 523.5h0.55M477.1 525.8h0.55M492.7 515.4h0.55M466.3 550.1h0.55M475.6 523.8h0.55M467.9 528.4h0.55M475.3 518.3h0.55M482.2 517.5h0.55M492.3 513.6h0.55M469.4 549.5h0.55M491.6 529.6h0.55M499.1 513.0h0.55M471.0 545.4h0.55M471.9 534.9h0.55M467.1 531.6h0.55M478.0 511.9h0.55M460.2 519.6h0.55M475.0 537.4h0.55M495.2 512.9h0.55M469.7 527.8h0.55M458.5 532.8h0.55M465.6 529.6h0.55M460.2 528.5h0.55M503.1 512.4h0.55M502.9 506.8h0.55M488.8 515.8h0.55M472.9 521.4h0.55M465.3 522.1h0.55M467.9 519.4h0.55M503.9 516.3h0.55M504.7 516.7h0.55M490.9 518.6h0.55M506.5 506.9h0.55M461.5 543.3h0.55M478.1 525.0h0.55M471.2 528.9h0.55M477.5 514.2h0.55M498.1 511.3h0.55M472.0 551.7h0.55M499.2 510.5h0.55M481.8 518.0h0.55M465.8 537.2h0.55M462.2 520.5h0.55M485.3 522.2h0.55M487.5 515.2h0.55M497.3 515.1h0.55M476.5 539.6h0.55M468.0 524.5h0.55M500.7 517.4h0.55M474.8 530.3h0.55M466.2 530.6h0.55M476.5 507.6h0.55M488.0 509.9h0.55M502.8 517.3h0.55M458.4 538.1h0.55M480.9 521.9h0.55M460.0 518.2h0.55M500.4 502.9h0.55M467.5 538.9h0.55M491.7 517.0h0.55M479.3 545.7h0.55M477.6 519.1h0.55M469.5 523.5h0.55M478.4 541.3h0.55M476.9 513.9h0.55M484.2 516.7h0.55M469.2 524.5h0.55M464.6 527.9h0.55M475.7 517.2h0.55M469.5 530.8h0.55M478.3 515.7h0.55M484.5 508.8h0.55M479.4 522.1h0.55M493.9 517.3h0.55M499.9 513.8h0.55M517.8 504.0h0.55" stroke="#3a4fbc" stroke-width="0.65" opacity="0.6"/>
<ellipse cx="481" cy="519" rx="16" ry="4.5" fill="#3a50bc" opacity="0.6" filter="url(#bl100)" transform="rotate(-18 481 519)"/>
<ellipse cx="468" cy="536" rx="5" ry="9" fill="#2a47b6" opacity="0.8" filter="url(#bl100)"/>
<g filter="url(#bl45)">
<path d="M498.3,521.7 496.8,521.8 495.3,521.5 494.1,521.0 492.9,520.1 492.1,519.1 491.4,517.9 491.1,516.4 491.0,514.9 491.3,513.4 491.9,511.9 492.7,510.6 493.8,509.4 495.1,508.5 496.6,507.8 497.8,507.5 499.3,507.4 500.6,507.6 501.8,508.1 502.8,508.7 503.6,509.5 504.2,510.4 504.7,511.6 505.0,512.9 505.0,514.1 504.8,515.4 504.4,516.6 503.7,517.9 502.8,519.1 501.8,520.0 500.8,520.7 499.6,521.3 498.3,521.7ZM468.1,545.9 466.8,545.9 465.6,545.5 464.6,544.9 463.6,544.0 462.7,542.6 462.2,541.4 461.9,540.1 461.7,538.4 461.9,536.1 462.5,532.6 463.0,530.6 463.6,528.9 464.5,527.4 465.6,526.3 466.8,525.6 468.1,525.4 469.3,525.6 470.3,526.2 471.3,527.1 472.1,528.3 472.7,529.6 473.2,531.4 473.6,533.4 473.7,535.4 473.6,537.4 473.3,539.4 472.9,541.1 472.2,542.6 471.4,543.9 470.3,545.0 469.3,545.6 468.1,545.9Z" fill="#2f6fcc"/>
<path d="M498.8,519.9 497.8,520.1 496.6,520.1 495.6,519.8 494.8,519.4 494.1,518.7 493.4,517.9 493.0,516.9 492.8,515.6 492.9,514.4 493.2,513.4 493.6,512.4 494.3,511.4 495.3,510.5 496.3,509.9 497.3,509.5 498.6,509.3 500.3,509.6 501.1,510.0 501.8,510.6 502.5,511.4 502.9,512.1 503.2,513.9 503.1,514.9 502.9,515.9 502.0,517.6 500.6,519.1 498.8,519.9ZM468.1,544.4 467.1,544.5 466.1,544.3 465.1,543.8 464.3,543.1 463.6,542.1 463.2,541.1 462.9,540.1 462.8,538.9 462.9,537.4 463.3,535.9 465.2,531.4 465.8,530.4 466.6,529.7 467.3,529.2 468.1,529.1 468.8,529.3 469.6,529.8 470.3,530.6 470.8,531.5 471.6,534.1 472.0,537.6 471.7,540.1 470.9,542.1 470.3,543.0 469.6,543.6 468.8,544.2 468.1,544.4Z" fill="#32a8d2"/>
<path d="M498.6,518.9 497.8,519.1 496.8,519.0 496.1,518.8 495.3,518.4 494.8,517.9 494.3,517.1 494.0,516.4 493.9,515.4 494.3,513.6 494.6,512.9 495.3,512.0 496.8,511.0 497.6,510.7 498.6,510.6 499.8,510.8 500.6,511.2 501.1,511.6 501.9,512.9 502.1,514.4 501.8,515.9 501.1,517.2 500.1,518.2 498.6,518.9ZM467.8,543.4 467.1,543.5 466.3,543.4 465.6,543.0 464.8,542.4 463.9,540.9 463.6,539.1 463.9,537.1 464.8,535.4 465.6,534.4 466.3,533.8 467.1,533.3 467.8,533.2 468.8,533.5 469.3,534.0 469.9,534.9 470.6,536.6 470.9,538.6 470.6,540.4 470.1,541.7 469.1,542.8 467.8,543.4Z" fill="#4cc38a"/>
<path d="M498.3,518.2 497.1,518.2 495.8,517.6 495.0,516.6 494.8,515.9 494.8,515.1 495.2,513.6 496.1,512.5 497.3,511.7 498.6,511.5 499.6,511.7 500.6,512.5 501.1,513.4 501.2,514.6 500.9,515.9 500.3,516.9 499.3,517.8 498.3,518.2ZM468.1,542.4 466.8,542.6 465.8,542.1 464.9,541.1 464.4,539.6 464.5,538.1 465.1,536.8 466.1,535.7 467.1,535.3 468.1,535.4 468.8,535.8 469.6,536.9 470.0,538.1 470.0,539.4 469.7,540.6 469.1,541.7 468.1,542.4Z" fill="#9ad040"/>
<path d="M498.3,517.4 497.3,517.5 496.3,517.0 495.7,516.1 495.5,515.1 495.8,514.1 496.4,513.1 497.3,512.6 498.3,512.3 499.1,512.5 499.8,512.9 500.3,513.6 500.5,514.6 500.3,515.6 499.8,516.4 499.1,517.1 498.3,517.4ZM467.3,541.7 466.6,541.6 465.8,541.1 465.3,540.1 465.1,539.1 465.3,538.1 465.8,537.3 466.6,536.7 467.3,536.6 468.1,536.8 468.7,537.4 469.0,538.1 469.2,539.1 469.0,540.1 468.6,540.9 468.1,541.4 467.3,541.7Z" fill="#e3dc2c"/>
<path d="M498.3,516.7 497.6,516.7 497.1,516.6 496.5,516.1 496.3,515.4 496.3,514.6 496.7,513.9 497.3,513.4 498.1,513.1 498.8,513.2 499.3,513.5 499.7,514.1 499.7,514.6 499.6,515.4 499.4,515.9 498.9,516.4 498.3,516.7ZM467.6,540.5 467.1,540.6 466.6,540.4 466.0,539.6 466.0,538.9 466.2,538.4 466.6,538.0 467.1,537.8 467.8,538.1 468.2,538.9 468.1,539.9 467.6,540.5Z" fill="#f29022"/>
<path d="M498.3,516.0 497.8,516.1 497.3,516.0 497.0,515.6 496.9,515.1 497.0,514.6 497.3,514.1 498.1,513.8 498.8,514.0 499.1,514.6 499.0,515.4 498.3,516.0Z" fill="#e3241f"/>
</g>
</g>
<rect x="460.8" y="493.9" width="53" height="53.4" fill="none" stroke="#333" stroke-width="0.8"/>
<line x1="487.7" y1="493.9" x2="487.7" y2="547.3" stroke="#444" stroke-width="0.7"/>
<line x1="460.8" y1="523.5" x2="513.8" y2="523.5" stroke="#444" stroke-width="0.7"/>
<text x="462.8" y="500.3" font-size="5.4" fill="#333" stroke="#333" stroke-width="0.24">24.3%</text>
<text x="511.8" y="500.3" font-size="5.4" text-anchor="end" fill="#333" stroke="#333" stroke-width="0.24">33.3%</text>
<line x1="455.1" y1="552.7" x2="455.1" y2="532.6" stroke="#000" stroke-width="1"/>
<line x1="454.6" y1="552.7" x2="476.2" y2="552.7" stroke="#000" stroke-width="1"/>
<path d="M452.94,532.95 L455.1,529.3 L457.26,532.95 Z" fill="#000"/>
<path d="M475.86,550.54 L479.5,552.7 L475.86,554.86 Z" fill="#000"/>
<text x="457.7" y="517" font-size="8.42" text-anchor="middle" fill="#111" stroke="#111" stroke-width="0.24" textLength="20" lengthAdjust="spacingAndGlyphs" transform="rotate(-90 457.7 517)">Mac-1</text>
<text x="481.2" y="555.4" font-size="8.42" fill="#111" stroke="#111" stroke-width="0.24" textLength="11" lengthAdjust="spacingAndGlyphs">Gr-1</text>
<text x="6.8" y="581.7" font-size="11.2" font-weight="bold" fill="#000">I</text>
<text x="59.4" y="610.8" font-size="8" text-anchor="end" fill="#111" stroke="#111" stroke-width="0.24" textLength="11.5" lengthAdjust="spacingAndGlyphs" transform="rotate(-45 59.4 610.8)">WT</text>
<text x="97.6" y="599" font-size="8" text-anchor="end" fill="#111" stroke="#111" stroke-width="0.24" textLength="29.5" lengthAdjust="spacingAndGlyphs" transform="rotate(-45 97.6 599)">MH-Vav</text>
<g clip-path="url(#pI)">
<rect x="11.5" y="620.2" width="79.2" height="59.7" fill="#c9c9c7"/>
<rect x="34.5" y="620.2" width="5" height="59.7" fill="#d9d9d7"/>
<ellipse cx="73.5" cy="626.2" rx="30" ry="22" fill="#d3d3d1" filter="url(#bl150)"/>
<rect x="11.5" y="620.2" width="23.3" height="59.7" fill="#e2e1dc"/>
<rect x="11.5" y="620.2" width="23.3" height="6" fill="#d6d5d0"/>
<path d="M27.1 628.7h6.5M29.6 629.8h4.0M29.6 630.8h4.0M29.6 631.9h4.0M29.6 632.9h4.0M28.6 634.0h5M29.6 635.0h4.0M29.6 636.1h4.0M29.6 637.1h4.0M29.6 638.2h4.0M27.1 639.2h6.5M29.6 640.2h4.0M29.6 641.3h4.0M29.6 642.4h4.0M29.6 643.4h4.0M28.6 644.5h5M29.6 645.5h4.0M29.6 646.6h4.0M29.6 647.6h4.0M29.6 648.7h4.0M27.1 649.7h6.5M29.6 650.8h4.0M29.6 651.8h4.0M29.6 652.9h4.0M29.6 653.9h4.0M28.6 655.0h5M29.6 656.0h4.0M29.6 657.1h4.0M29.6 658.1h4.0M29.6 659.2h4.0M27.1 660.2h6.5M29.6 661.2h4.0M29.6 662.3h4.0M29.6 663.4h4.0M29.6 664.4h4.0M28.6 665.5h5M29.6 666.5h4.0M29.6 667.6h4.0M29.6 668.6h4.0M29.6 669.7h4.0M27.1 670.7h6.5M29.6 671.8h4.0M29.6 672.8h4.0M29.6 673.9h4.0M29.6 674.9h4.0M28.6 676.0h5M29.6 677.0h4.0M29.6 678.1h4.0M29.6 679.1h4.0" stroke="#5a5a5a" stroke-width="0.55"/>
<rect x="33.6" y="620.2" width="1.2" height="59.7" fill="#f4f4f2"/>
<text x="20.6" y="630.6" font-size="9.6" text-anchor="middle" fill="#222" stroke="#222" stroke-width="0.24" transform="rotate(90 20.6 630.6)">0</text>
<text x="20.6" y="642.7" font-size="9.6" text-anchor="middle" fill="#222" stroke="#222" stroke-width="0.24" transform="rotate(90 20.6 642.7)">1</text>
<text x="20.6" y="658.3" font-size="9.6" text-anchor="middle" fill="#222" stroke="#222" stroke-width="0.24" transform="rotate(90 20.6 658.3)">2</text>
<text x="20.6" y="674.7" font-size="9.6" text-anchor="middle" fill="#222" stroke="#222" stroke-width="0.24" transform="rotate(90 20.6 674.7)">3</text>
<text x="22.2" y="636.2" font-size="3.6" text-anchor="middle" fill="#333" stroke="#333" stroke-width="0.24" transform="rotate(90 22.2 636.2)">cm</text>
<ellipse cx="47.4" cy="635.8" rx="2.8" ry="2.3" fill="#d49c86"/><ellipse cx="46.9" cy="635.1999999999999" rx="1.54" ry="1.265" fill="#e6bca8"/>
<ellipse cx="55.1" cy="636.6" rx="2.5" ry="2.2" fill="#d49c86"/><ellipse cx="54.6" cy="636.0" rx="1.375" ry="1.2100000000000002" fill="#e6bca8"/>
<ellipse cx="52.1" cy="645.3" rx="2.0" ry="2.7" fill="#cf9480"/><ellipse cx="51.6" cy="644.6999999999999" rx="1.1" ry="1.4850000000000003" fill="#e2b4a0"/>
<ellipse cx="78.1" cy="639.2" rx="3.6" ry="3.5" fill="#dfa898"/><ellipse cx="77.6" cy="638.6" rx="1.9800000000000002" ry="1.9250000000000003" fill="#f2d0c4"/>
<ellipse cx="73.4" cy="647" rx="3.6" ry="4.7" fill="#cc8676"/><ellipse cx="72.9" cy="646.4" rx="1.9800000000000002" ry="2.5850000000000004" fill="#e2ac9c"/>
<ellipse cx="82.4" cy="648.7" rx="3.6" ry="4.2" fill="#cc8876"/><ellipse cx="81.9" cy="648.1" rx="1.9800000000000002" ry="2.3100000000000005" fill="#e2ae9e"/>
</g>
<text x="108.8" y="581.7" font-size="11.2" font-weight="bold" fill="#000">J</text>
<text x="163" y="610.5" font-size="8" text-anchor="end" fill="#111" stroke="#111" stroke-width="0.24" textLength="11.5" lengthAdjust="spacingAndGlyphs" transform="rotate(-45 163 610.5)">WT</text>
<text x="200.5" y="599" font-size="8" text-anchor="end" fill="#111" stroke="#111" stroke-width="0.24" textLength="29.5" lengthAdjust="spacingAndGlyphs" transform="rotate(-45 200.5 599)">MH-Vav</text>
<g clip-path="url(#pJ)">
<rect x="119.3" y="620.2" width="80" height="59.2" fill="#c8c8c6"/>
<circle cx="171" cy="650" r="35.5" fill="#d5d5d3"/>
<circle cx="171" cy="650" r="34.6" fill="none" stroke="#ececea" stroke-width="2.2"/>
<circle cx="171" cy="650" r="33.2" fill="none" stroke="#c4c4c2" stroke-width="0.6"/>
<circle cx="171" cy="650" r="30.2" fill="none" stroke="#e2e2e0" stroke-width="1.4"/>
<rect x="119.3" y="620.2" width="19.2" height="59.2" fill="#e2e1dc"/>
<rect x="119.3" y="620.2" width="19.2" height="6" fill="#d6d5d0"/>
<path d="M130.8 628.7h6.5M133.3 629.8h4.0M133.3 630.8h4.0M133.3 631.9h4.0M133.3 632.9h4.0M132.3 634.0h5M133.3 635.0h4.0M133.3 636.1h4.0M133.3 637.1h4.0M133.3 638.2h4.0M130.8 639.2h6.5M133.3 640.2h4.0M133.3 641.3h4.0M133.3 642.4h4.0M133.3 643.4h4.0M132.3 644.5h5M133.3 645.5h4.0M133.3 646.6h4.0M133.3 647.6h4.0M133.3 648.7h4.0M130.8 649.7h6.5M133.3 650.8h4.0M133.3 651.8h4.0M133.3 652.9h4.0M133.3 653.9h4.0M132.3 655.0h5M133.3 656.0h4.0M133.3 657.1h4.0M133.3 658.1h4.0M133.3 659.2h4.0M130.8 660.2h6.5M133.3 661.2h4.0M133.3 662.3h4.0M133.3 663.4h4.0M133.3 664.4h4.0M132.3 665.5h5M133.3 666.5h4.0M133.3 667.6h4.0M133.3 668.6h4.0M133.3 669.7h4.0M130.8 670.7h6.5M133.3 671.8h4.0M133.3 672.8h4.0M133.3 673.9h4.0M133.3 674.9h4.0M132.3 676.0h5M133.3 677.0h4.0M133.3 678.1h4.0M133.3 679.1h4.0" stroke="#5a5a5a" stroke-width="0.55"/>
<rect x="137.3" y="620.2" width="1.2" height="59.2" fill="#f4f4f2"/>
<text x="122.7" y="627.5" font-size="9.6" text-anchor="middle" fill="#222" stroke="#222" stroke-width="0.24" transform="rotate(90 122.7 627.5)">0</text>
<text x="122.7" y="639.2" font-size="9.6" text-anchor="middle" fill="#222" stroke="#222" stroke-width="0.24" transform="rotate(90 122.7 639.2)">1</text>
<text x="122.7" y="655.7" font-size="9.6" text-anchor="middle" fill="#222" stroke="#222" stroke-width="0.24" transform="rotate(90 122.7 655.7)">2</text>
<text x="122.7" y="672" font-size="9.6" text-anchor="middle" fill="#222" stroke="#222" stroke-width="0.24" transform="rotate(90 122.7 672)">3</text>
<text x="124.3" y="633.1" font-size="3.6" text-anchor="middle" fill="#333" stroke="#333" stroke-width="0.24" transform="rotate(90 124.3 633.1)">cm</text>
<path d="M162,627 C166.5,626.5 167,630.5 165,634.5 C163,639 162,646 161,653.5 C159.8,655.5 157.8,653 157.4,648 C156.8,640 157.2,630 162,627 Z" fill="#2a0a12"/>
<path d="M177,627 C183.5,625 186,631 185,640 C184.3,650 186,661 185.6,670 C185.2,677 180,679 175.5,676.5 C171,674 169.6,668 169.4,656 C169.2,645 169.5,630 177,627 Z" fill="#3c0a16"/>
<path d="M177.5,631 C181.5,630 182.5,636 182,644 C181.5,652 182.5,662 180.5,669 C178,664 176.2,654 176.2,645 C176,639 175.5,634 177.5,631 Z" fill="#5c1424" opacity="0.6"/>
</g>
<text x="222.2" y="581.5" font-size="11.2" font-weight="bold" fill="#000">K</text>
<line x1="258.5" y1="584.5" x2="258.5" y2="675.1" stroke="#000" stroke-width="1"/>
<line x1="255.7" y1="674.6" x2="258.5" y2="674.6" stroke="#000" stroke-width="1"/>
<text x="252.8" y="677.35" font-size="7.2" text-anchor="end" fill="#111" stroke="#111" stroke-width="0.24" textLength="10.9" lengthAdjust="spacingAndGlyphs">0.0</text>
<line x1="255.7" y1="653.1" x2="258.5" y2="653.1" stroke="#000" stroke-width="1"/>
<text x="252.8" y="655.85" font-size="7.2" text-anchor="end" fill="#111" stroke="#111" stroke-width="0.24" textLength="10.9" lengthAdjust="spacingAndGlyphs">0.5</text>
<line x1="255.7" y1="631.6" x2="258.5" y2="631.6" stroke="#000" stroke-width="1"/>
<text x="252.8" y="634.35" font-size="7.2" text-anchor="end" fill="#111" stroke="#111" stroke-width="0.24" textLength="10.9" lengthAdjust="spacingAndGlyphs">1.0</text>
<line x1="255.7" y1="610.1" x2="258.5" y2="610.1" stroke="#000" stroke-width="1"/>
<text x="252.8" y="612.85" font-size="7.2" text-anchor="end" fill="#111" stroke="#111" stroke-width="0.24" textLength="10.9" lengthAdjust="spacingAndGlyphs">1.5</text>
<line x1="255.7" y1="588.6" x2="258.5" y2="588.6" stroke="#000" stroke-width="1"/>
<text x="252.8" y="591.35" font-size="7.2" text-anchor="end" fill="#111" stroke="#111" stroke-width="0.24" textLength="10.9" lengthAdjust="spacingAndGlyphs">2.0</text>
<line x1="258" y1="674.5" x2="316" y2="674.5" stroke="#000" stroke-width="1"/>
<line x1="279.6" y1="674.6" x2="279.6" y2="677.3" stroke="#000" stroke-width="0.9"/>
<line x1="297.4" y1="674.6" x2="297.4" y2="677.3" stroke="#000" stroke-width="0.9"/>
<text x="282.2" y="684.6" font-size="8" text-anchor="end" fill="#111" stroke="#111" stroke-width="0.24" textLength="11.5" lengthAdjust="spacingAndGlyphs" transform="rotate(-45 282.2 684.6)">WT</text>
<text x="300" y="684.2" font-size="8" text-anchor="end" fill="#111" stroke="#111" stroke-width="0.24" textLength="28.5" lengthAdjust="spacingAndGlyphs" transform="rotate(-45 300 684.2)">MH-Vav</text>
<circle cx="273" cy="670.73" r="1.45" fill="#134f86"/>
<circle cx="276" cy="670.3" r="1.45" fill="#134f86"/>
<circle cx="279.5" cy="671.16" r="1.45" fill="#134f86"/>
<circle cx="282.5" cy="669.87" r="1.45" fill="#134f86"/>
<circle cx="285.5" cy="670.73" r="1.45" fill="#134f86"/>
<circle cx="279.5" cy="672.02" r="1.45" fill="#134f86"/>
<line x1="268.5" y1="670.64" x2="287.7" y2="670.64" stroke="#333" stroke-width="1.1"/>
<rect x="295.95" y="606.93" width="2.9" height="2.9" fill="#c8102e"/>
<rect x="295.95" y="624.56" width="2.9" height="2.9" fill="#c8102e"/>
<rect x="289.55" y="634.45" width="2.9" height="2.9" fill="#c8102e"/>
<rect x="302.05" y="632.3" width="2.9" height="2.9" fill="#c8102e"/>
<rect x="295.95" y="636.6" width="2.9" height="2.9" fill="#c8102e"/>
<rect x="295.95" y="648.21" width="2.9" height="2.9" fill="#c8102e"/>
<line x1="287.7" y1="631.6" x2="306.9" y2="631.6" stroke="#333" stroke-width="1.1"/>
<line x1="297.3" y1="626.1" x2="297.3" y2="637.6" stroke="#111" stroke-width="0.8"/>
<line x1="291.7" y1="626.1" x2="301.8" y2="626.1" stroke="#111" stroke-width="0.8"/>
<line x1="291.7" y1="637.6" x2="301.8" y2="637.6" stroke="#111" stroke-width="0.8"/>
<line x1="278.6" y1="597.7" x2="297.8" y2="597.7" stroke="#444" stroke-width="1.2"/>
<path d="M283.45,594.85h2.5M284.7,593.6v2.5M283.82,593.98l1.75,1.75M285.57,593.98l-1.75,1.75" stroke="#111" stroke-width="0.75"/>
<path d="M286.95,594.85h2.5M288.2,593.6v2.5M287.32,593.98l1.75,1.75M289.07,593.98l-1.75,1.75" stroke="#111" stroke-width="0.75"/>
<path d="M290.45,594.85h2.5M291.7,593.6v2.5M290.82,593.98l1.75,1.75M292.57,593.98l-1.75,1.75" stroke="#111" stroke-width="0.75"/>
<text x="235.1" y="631.6" font-size="8.2" text-anchor="middle" fill="#111" stroke="#111" stroke-width="0.24" textLength="56.6" lengthAdjust="spacingAndGlyphs" transform="rotate(-90 235.1 631.6)">Spleen weight (g)</text>
<text x="331.4" y="581.6" font-size="11.2" font-weight="bold" fill="#000">L</text>
<text x="389" y="585.4" font-size="8.2" text-anchor="middle" fill="#111" stroke="#111" stroke-width="0.24" textLength="12.9" lengthAdjust="spacingAndGlyphs">WT</text>
<text x="469" y="585.4" font-size="8.2" text-anchor="middle" fill="#111" stroke="#111" stroke-width="0.24" textLength="29" lengthAdjust="spacingAndGlyphs">MH-Vav</text>
<text x="345" y="619" font-size="7.8" text-anchor="middle" fill="#111" stroke="#111" stroke-width="0.24" textLength="9.6" lengthAdjust="spacingAndGlyphs">HE</text>
<text x="342.8" y="673.5" font-size="7.8" text-anchor="middle" fill="#111" stroke="#111" stroke-width="0.24" textLength="18" lengthAdjust="spacingAndGlyphs">B220</text>
<g clip-path="url(#hW)">
<path d="M371,588.9 L425,588.9 L425,642.4 L361.5,642.4 C358,638 356,632 355.5,626 C354.5,618 354,610 356,602 C358.5,594 364,590 371,588.9 Z" fill="#8458a8"/>
<circle cx="406.8" cy="599" r="9.6" fill="#5c469e" opacity="0.8" filter="url(#bl150)"/>
<circle cx="417" cy="601" r="7.2" fill="#5c469e" opacity="0.8" filter="url(#bl150)"/>
<circle cx="380.9" cy="614.9" r="6.0" fill="#5c469e" opacity="0.8" filter="url(#bl150)"/>
<circle cx="366.4" cy="601.9" r="4.8" fill="#5c469e" opacity="0.8" filter="url(#bl150)"/>
<circle cx="391" cy="623.5" r="6.0" fill="#5c469e" opacity="0.8" filter="url(#bl150)"/>
<circle cx="412.6" cy="633.6" r="8.4" fill="#5c469e" opacity="0.8" filter="url(#bl150)"/>
<circle cx="417" cy="616.3" r="5.4" fill="#5c469e" opacity="0.8" filter="url(#bl150)"/>
<circle cx="399.6" cy="612" r="4.2" fill="#5c469e" opacity="0.8" filter="url(#bl150)"/>
<circle cx="378" cy="591.8" r="4.2" fill="#5c469e" opacity="0.8" filter="url(#bl150)"/>
<circle cx="380.9" cy="633.6" r="4.2" fill="#5c469e" opacity="0.8" filter="url(#bl150)"/>
<circle cx="366" cy="622" r="3.6" fill="#5c469e" opacity="0.8" filter="url(#bl150)"/>
<circle cx="396" cy="597" r="3.6" fill="#5c469e" opacity="0.8" filter="url(#bl150)"/>
<circle cx="401" cy="637" r="3.6" fill="#5c469e" opacity="0.8" filter="url(#bl150)"/>
<circle cx="369" cy="636" r="3.0" fill="#5c469e" opacity="0.8" filter="url(#bl150)"/>
<rect x="353.8" y="588.7" width="71.2" height="53.7" fill="#fff" filter="url(#grainHE)" clip-path="url(#hWs)"/>
</g>
<g clip-path="url(#hMs)">
<rect x="433" y="588" width="70" height="55" fill="#8c62b4"/>
<circle cx="450" cy="600" r="9" fill="#9c5ca8" opacity="0.7" filter="url(#bl150)"/>
<circle cx="470" cy="606" r="10" fill="#8c66c0" opacity="0.7" filter="url(#bl150)"/>
<circle cx="492" cy="600" r="8" fill="#966cc0" opacity="0.7" filter="url(#bl150)"/>
<circle cx="458" cy="626" r="10" fill="#9a5eaa" opacity="0.7" filter="url(#bl150)"/>
<circle cx="484" cy="630" r="11" fill="#9674c6" opacity="0.7" filter="url(#bl150)"/>
<circle cx="498" cy="618" r="7" fill="#8a60bc" opacity="0.7" filter="url(#bl150)"/>
<circle cx="440" cy="612" r="6" fill="#9c5ea8" opacity="0.7" filter="url(#bl150)"/>
<rect x="433" y="588" width="70" height="55" fill="#fff" filter="url(#grainHE)"/>
</g>
<g clip-path="url(#bW)">
<rect x="353.8" y="646" width="70.9" height="52.8" fill="#7d7488"/>
<ellipse cx="405.4" cy="680" rx="11" ry="11.5" fill="#4e4a88" opacity="0.9" filter="url(#bl150)"/>
<ellipse cx="379.4" cy="669" rx="4.5" ry="4.5" fill="#55508c" opacity="0.9" filter="url(#bl100)"/>
<ellipse cx="360.7" cy="652.7" rx="8" ry="5.5" fill="#5c5690" opacity="0.8" filter="url(#bl150)"/>
<rect x="353.8" y="646" width="70.9" height="52.8" fill="#fff" filter="url(#grainB)"/>
</g>
<g clip-path="url(#bM)">
<rect x="430" y="645.4" width="72.3" height="53.4" fill="#847ea4"/>
<ellipse cx="466" cy="669" rx="25" ry="23" fill="#7c76aa" opacity="0.8" filter="url(#bl150)"/>
<rect x="430" y="645.4" width="72.3" height="53.4" fill="#fff" filter="url(#grainB)"/>
</g>
<rect x="0.5" y="0.5" width="519" height="709" fill="none" stroke="#000" stroke-width="1"/>
</svg></body></html>
